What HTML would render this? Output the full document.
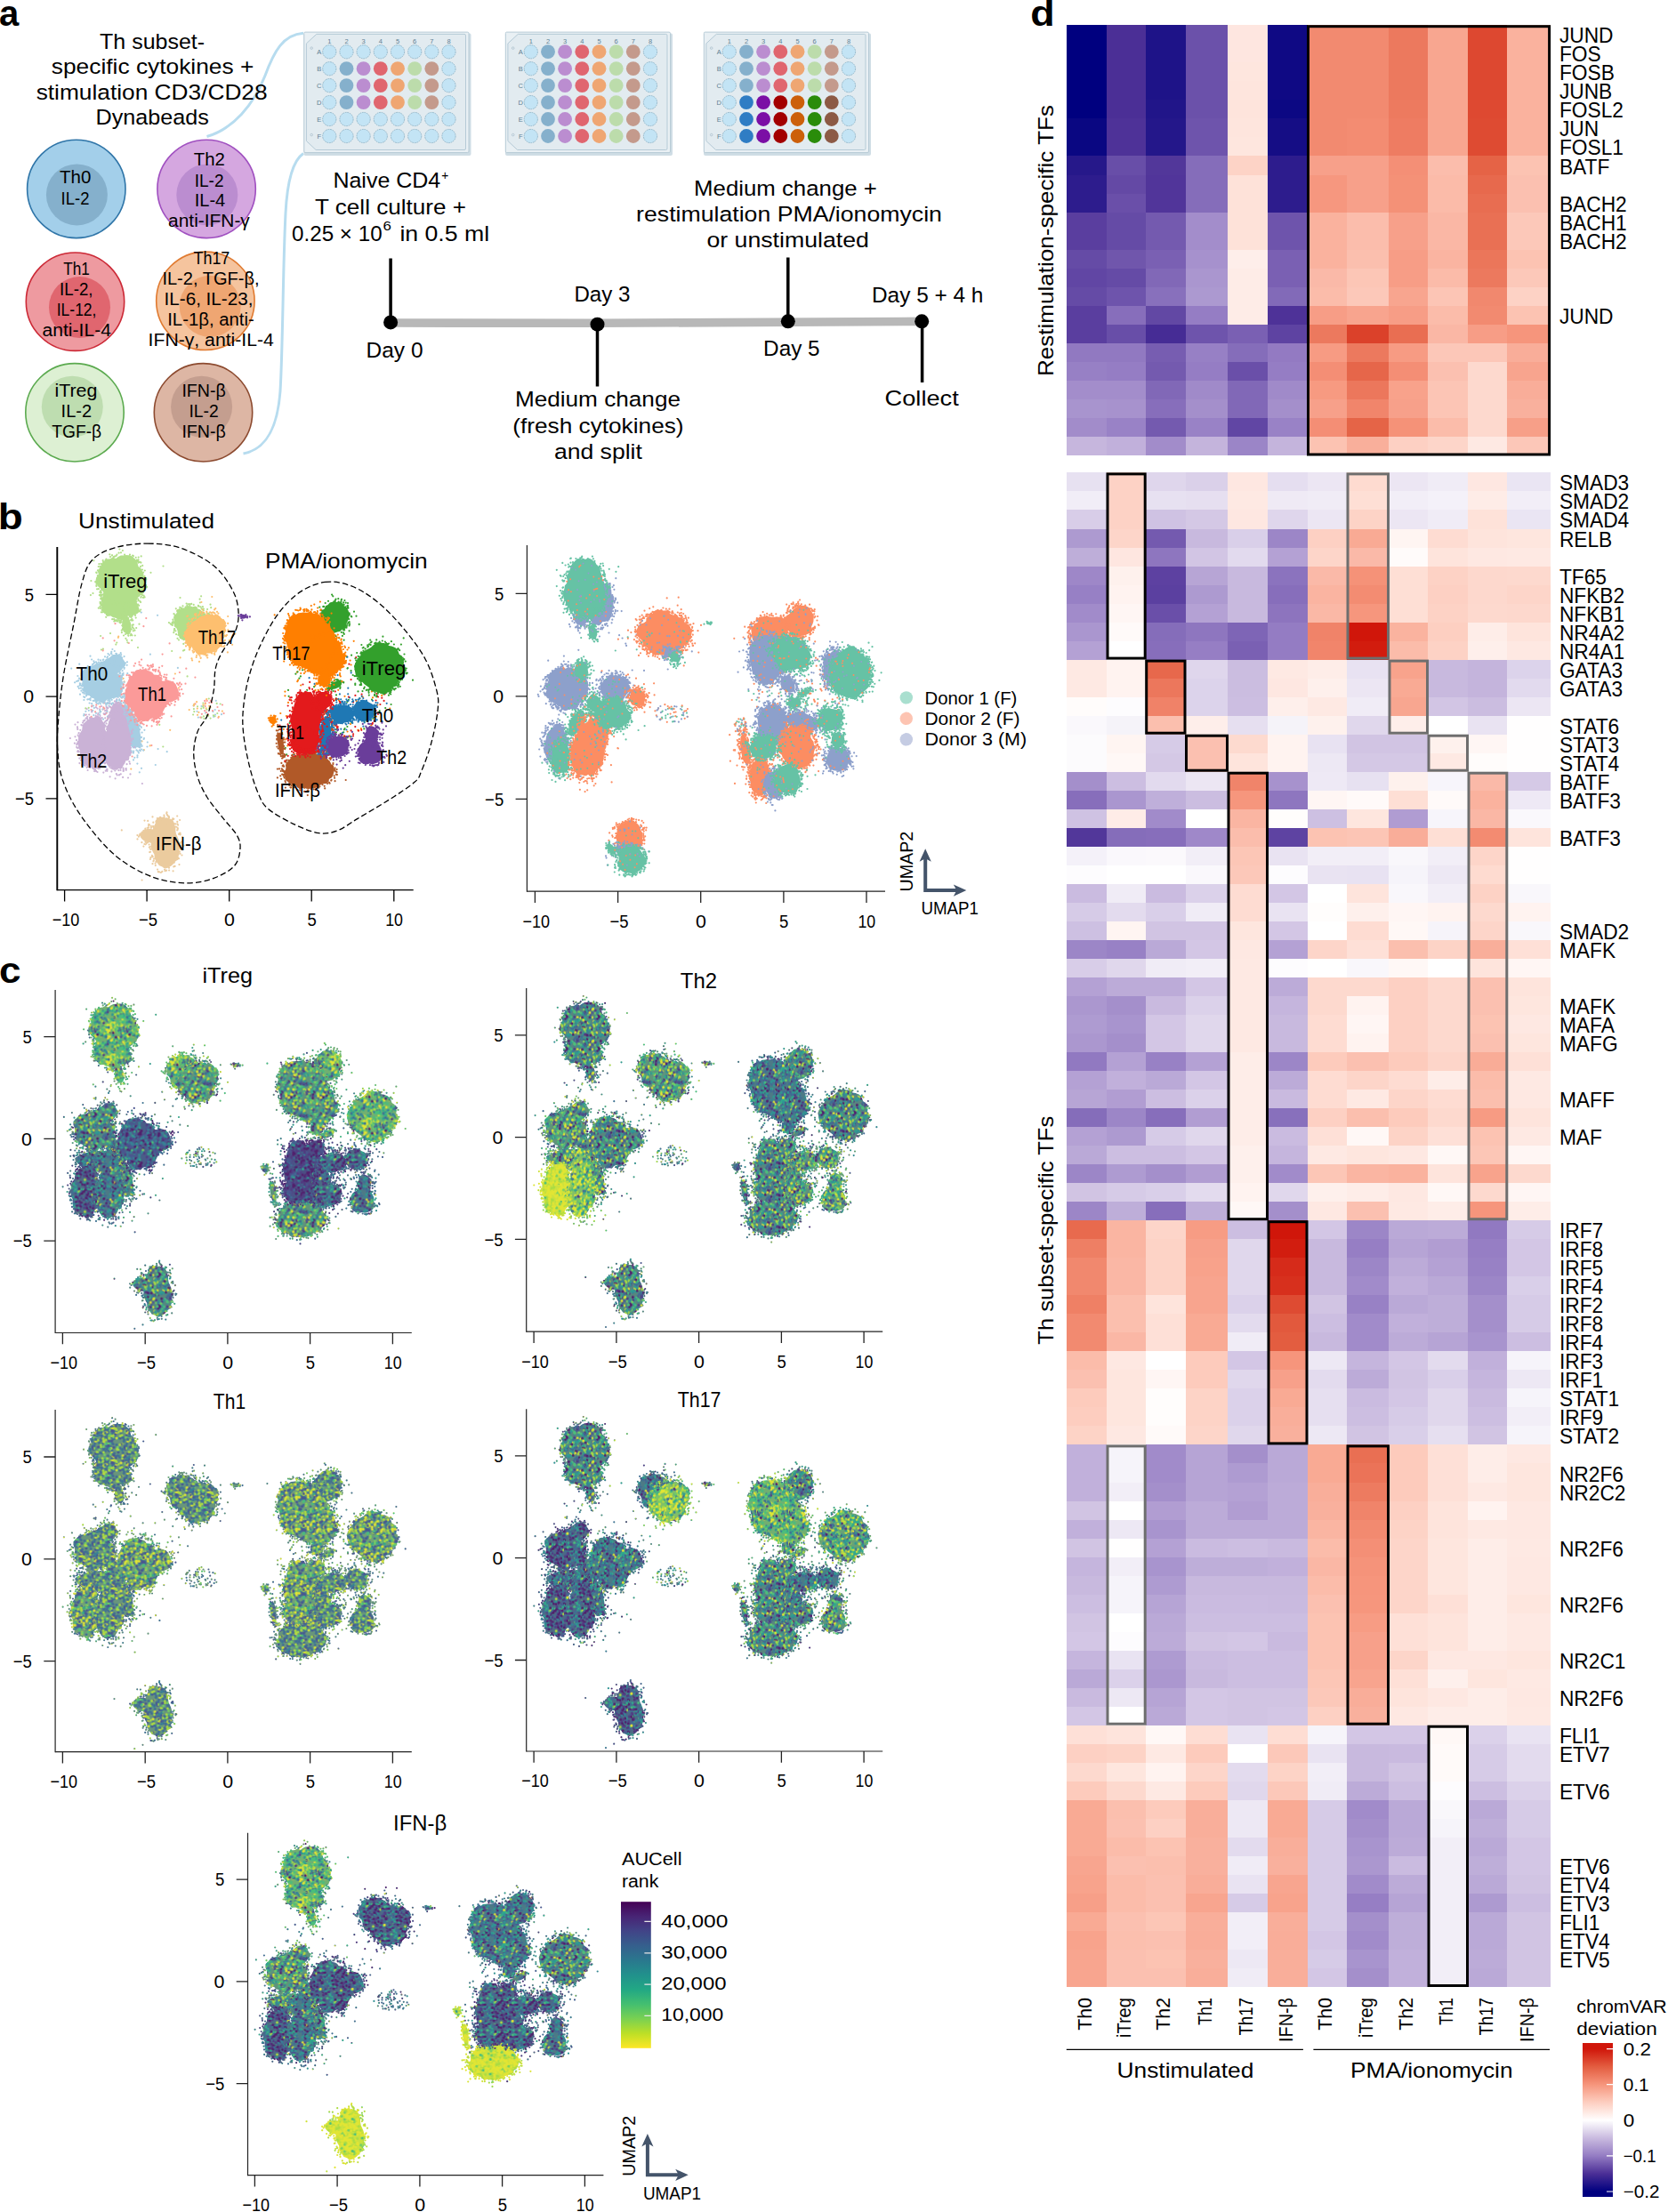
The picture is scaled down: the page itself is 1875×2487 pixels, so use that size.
<!DOCTYPE html><html><head><meta charset="utf-8"><title>Figure</title><style>html,body{margin:0;padding:0;background:#fff}svg{display:block}text{font-family:"Liberation Sans",sans-serif}</style></head><body>
<svg width="1875" height="2487" viewBox="0 0 1875 2487">
<rect width="1875" height="2487" fill="#fff"/>
<text x="-0.9" y="28.5" font-size="40" font-weight="bold">a</text>
<path d="M232.5 153.5C262 145 285 118 298 85C308 58 318 39 341 37.3" fill="none" stroke="#b7dcef" stroke-width="3"/>
<path d="M273.5 510C300 505 312 480 315 440C318 390 318 300 321 240C323 200 330 180 341 172.5" fill="none" stroke="#b7dcef" stroke-width="3"/>
<circle cx="85.8" cy="212.4" r="55.2" fill="#a3cfea" stroke="#2f75a8" stroke-width="1.6"/>
<circle cx="86.4" cy="218.9" r="34.5" fill="#85b0cc"/>
<circle cx="232.1" cy="212.4" r="55.2" fill="#d5a7e0" stroke="#a050c0" stroke-width="1.6"/>
<circle cx="232.8" cy="218.9" r="34.5" fill="#bb8dd0"/>
<circle cx="84.5" cy="339.2" r="55.2" fill="#ee9aa0" stroke="#cc2936" stroke-width="1.6"/>
<circle cx="89.5" cy="345.5" r="34.5" fill="#e0666f"/>
<circle cx="230.9" cy="338.3" r="55.2" fill="#f5c49e" stroke="#e07a30" stroke-width="1.6"/>
<circle cx="236.2" cy="344.3" r="34.5" fill="#efa672"/>
<circle cx="84" cy="463.8" r="55.2" fill="#ddf0d3" stroke="#5baa4f" stroke-width="1.6"/>
<circle cx="81.3" cy="457.2" r="34.5" fill="#beddb0"/>
<circle cx="228.5" cy="463.8" r="55.2" fill="#ddb6a4" stroke="#8c4a2f" stroke-width="1.6"/>
<circle cx="226.6" cy="457.2" r="34.5" fill="#c49e8f"/>
<g transform="translate(341.5 35.6)">
<path d="M2 2H186.5Q188 2 188 4V137.5Q188 139.5 186 139.5H2Q0 139.5 0 137.5V4Q0 2 2 2Z" fill="#cfdde5"/>
<path d="M1.5 0.5H184Q185.5 0.5 185.5 2V134.5Q185.5 136 184 136H1.5Q0.3 136 0.3 134.5V2Q0.3 0.5 1.5 0.5Z" fill="#e9f0f4" stroke="#b7cbd6" stroke-width="1"/>
<path d="M14.3 2.8H180.5Q182 2.8 182 4.3V131.4Q182 132.9 180.5 132.9H13.6L2.9 122.9V13.3Z" fill="#e2ebf0" stroke="#b5cad6" stroke-width="1"/>
<g font-size="7.5" fill="#5d7f93" text-anchor="middle">
<text x="28.8" y="13" fill="#5d7f93">1</text>
<text x="48" y="13" fill="#5d7f93">2</text>
<text x="67.1" y="13" fill="#5d7f93">3</text>
<text x="86.3" y="13" fill="#5d7f93">4</text>
<text x="105.5" y="13" fill="#5d7f93">5</text>
<text x="124.7" y="13" fill="#5d7f93">6</text>
<text x="143.8" y="13" fill="#5d7f93">7</text>
<text x="163" y="13" fill="#5d7f93">8</text>
<text x="17.2" y="25.4" fill="#5d7f93">A</text>
<text x="17.2" y="44.4" fill="#5d7f93">B</text>
<text x="17.2" y="63.3" fill="#5d7f93">C</text>
<text x="17.2" y="82.3" fill="#5d7f93">D</text>
<text x="17.2" y="101.2" fill="#5d7f93">E</text>
<text x="17.2" y="120.2" fill="#5d7f93">F</text>
</g>
<circle cx="8.7" cy="18.5" r="1.3" fill="none" stroke="#9db6c4" stroke-width="0.6"/><circle cx="8.7" cy="116" r="1.3" fill="none" stroke="#9db6c4" stroke-width="0.6"/>
<circle cx="28.8" cy="22.6" r="7.6" fill="#c3e4f5" stroke="#86adc2" stroke-width="0.8" stroke-dasharray="1.8 0.8"/>
<circle cx="48" cy="22.6" r="7.6" fill="#c3e4f5" stroke="#86adc2" stroke-width="0.8" stroke-dasharray="1.8 0.8"/>
<circle cx="67.1" cy="22.6" r="7.6" fill="#c3e4f5" stroke="#86adc2" stroke-width="0.8" stroke-dasharray="1.8 0.8"/>
<circle cx="86.3" cy="22.6" r="7.6" fill="#c3e4f5" stroke="#86adc2" stroke-width="0.8" stroke-dasharray="1.8 0.8"/>
<circle cx="105.5" cy="22.6" r="7.6" fill="#c3e4f5" stroke="#86adc2" stroke-width="0.8" stroke-dasharray="1.8 0.8"/>
<circle cx="124.7" cy="22.6" r="7.6" fill="#c3e4f5" stroke="#86adc2" stroke-width="0.8" stroke-dasharray="1.8 0.8"/>
<circle cx="143.8" cy="22.6" r="7.6" fill="#c3e4f5" stroke="#86adc2" stroke-width="0.8" stroke-dasharray="1.8 0.8"/>
<circle cx="163" cy="22.6" r="7.6" fill="#c3e4f5" stroke="#86adc2" stroke-width="0.8" stroke-dasharray="1.8 0.8"/>
<circle cx="28.8" cy="41.6" r="7.6" fill="#c3e4f5" stroke="#86adc2" stroke-width="0.8" stroke-dasharray="1.8 0.8"/>
<circle cx="48" cy="41.6" r="7.9" fill="#85b0cc"/>
<circle cx="67.1" cy="41.6" r="7.9" fill="#bb8dd0"/>
<circle cx="86.3" cy="41.6" r="7.9" fill="#e0666f"/>
<circle cx="105.5" cy="41.6" r="7.9" fill="#efa672"/>
<circle cx="124.7" cy="41.6" r="7.9" fill="#bcdcab"/>
<circle cx="143.8" cy="41.6" r="7.9" fill="#c49a8c"/>
<circle cx="163" cy="41.6" r="7.6" fill="#c3e4f5" stroke="#86adc2" stroke-width="0.8" stroke-dasharray="1.8 0.8"/>
<circle cx="28.8" cy="60.5" r="7.6" fill="#c3e4f5" stroke="#86adc2" stroke-width="0.8" stroke-dasharray="1.8 0.8"/>
<circle cx="48" cy="60.5" r="7.9" fill="#85b0cc"/>
<circle cx="67.1" cy="60.5" r="7.9" fill="#bb8dd0"/>
<circle cx="86.3" cy="60.5" r="7.9" fill="#e0666f"/>
<circle cx="105.5" cy="60.5" r="7.9" fill="#efa672"/>
<circle cx="124.7" cy="60.5" r="7.9" fill="#bcdcab"/>
<circle cx="143.8" cy="60.5" r="7.9" fill="#c49a8c"/>
<circle cx="163" cy="60.5" r="7.6" fill="#c3e4f5" stroke="#86adc2" stroke-width="0.8" stroke-dasharray="1.8 0.8"/>
<circle cx="28.8" cy="79.5" r="7.6" fill="#c3e4f5" stroke="#86adc2" stroke-width="0.8" stroke-dasharray="1.8 0.8"/>
<circle cx="48" cy="79.5" r="7.9" fill="#85b0cc"/>
<circle cx="67.1" cy="79.5" r="7.9" fill="#bb8dd0"/>
<circle cx="86.3" cy="79.5" r="7.9" fill="#e0666f"/>
<circle cx="105.5" cy="79.5" r="7.9" fill="#efa672"/>
<circle cx="124.7" cy="79.5" r="7.9" fill="#bcdcab"/>
<circle cx="143.8" cy="79.5" r="7.9" fill="#c49a8c"/>
<circle cx="163" cy="79.5" r="7.6" fill="#c3e4f5" stroke="#86adc2" stroke-width="0.8" stroke-dasharray="1.8 0.8"/>
<circle cx="28.8" cy="98.4" r="7.6" fill="#c3e4f5" stroke="#86adc2" stroke-width="0.8" stroke-dasharray="1.8 0.8"/>
<circle cx="48" cy="98.4" r="7.6" fill="#c3e4f5" stroke="#86adc2" stroke-width="0.8" stroke-dasharray="1.8 0.8"/>
<circle cx="67.1" cy="98.4" r="7.6" fill="#c3e4f5" stroke="#86adc2" stroke-width="0.8" stroke-dasharray="1.8 0.8"/>
<circle cx="86.3" cy="98.4" r="7.6" fill="#c3e4f5" stroke="#86adc2" stroke-width="0.8" stroke-dasharray="1.8 0.8"/>
<circle cx="105.5" cy="98.4" r="7.6" fill="#c3e4f5" stroke="#86adc2" stroke-width="0.8" stroke-dasharray="1.8 0.8"/>
<circle cx="124.7" cy="98.4" r="7.6" fill="#c3e4f5" stroke="#86adc2" stroke-width="0.8" stroke-dasharray="1.8 0.8"/>
<circle cx="143.8" cy="98.4" r="7.6" fill="#c3e4f5" stroke="#86adc2" stroke-width="0.8" stroke-dasharray="1.8 0.8"/>
<circle cx="163" cy="98.4" r="7.6" fill="#c3e4f5" stroke="#86adc2" stroke-width="0.8" stroke-dasharray="1.8 0.8"/>
<circle cx="28.8" cy="117.4" r="7.6" fill="#c3e4f5" stroke="#86adc2" stroke-width="0.8" stroke-dasharray="1.8 0.8"/>
<circle cx="48" cy="117.4" r="7.6" fill="#c3e4f5" stroke="#86adc2" stroke-width="0.8" stroke-dasharray="1.8 0.8"/>
<circle cx="67.1" cy="117.4" r="7.6" fill="#c3e4f5" stroke="#86adc2" stroke-width="0.8" stroke-dasharray="1.8 0.8"/>
<circle cx="86.3" cy="117.4" r="7.6" fill="#c3e4f5" stroke="#86adc2" stroke-width="0.8" stroke-dasharray="1.8 0.8"/>
<circle cx="105.5" cy="117.4" r="7.6" fill="#c3e4f5" stroke="#86adc2" stroke-width="0.8" stroke-dasharray="1.8 0.8"/>
<circle cx="124.7" cy="117.4" r="7.6" fill="#c3e4f5" stroke="#86adc2" stroke-width="0.8" stroke-dasharray="1.8 0.8"/>
<circle cx="143.8" cy="117.4" r="7.6" fill="#c3e4f5" stroke="#86adc2" stroke-width="0.8" stroke-dasharray="1.8 0.8"/>
<circle cx="163" cy="117.4" r="7.6" fill="#c3e4f5" stroke="#86adc2" stroke-width="0.8" stroke-dasharray="1.8 0.8"/>
</g>
<g transform="translate(568 35.6)">
<path d="M2 2H186.5Q188 2 188 4V137.5Q188 139.5 186 139.5H2Q0 139.5 0 137.5V4Q0 2 2 2Z" fill="#cfdde5"/>
<path d="M1.5 0.5H184Q185.5 0.5 185.5 2V134.5Q185.5 136 184 136H1.5Q0.3 136 0.3 134.5V2Q0.3 0.5 1.5 0.5Z" fill="#e9f0f4" stroke="#b7cbd6" stroke-width="1"/>
<path d="M14.3 2.8H180.5Q182 2.8 182 4.3V131.4Q182 132.9 180.5 132.9H13.6L2.9 122.9V13.3Z" fill="#e2ebf0" stroke="#b5cad6" stroke-width="1"/>
<g font-size="7.5" fill="#5d7f93" text-anchor="middle">
<text x="28.8" y="13" fill="#5d7f93">1</text>
<text x="48" y="13" fill="#5d7f93">2</text>
<text x="67.1" y="13" fill="#5d7f93">3</text>
<text x="86.3" y="13" fill="#5d7f93">4</text>
<text x="105.5" y="13" fill="#5d7f93">5</text>
<text x="124.7" y="13" fill="#5d7f93">6</text>
<text x="143.8" y="13" fill="#5d7f93">7</text>
<text x="163" y="13" fill="#5d7f93">8</text>
<text x="17.2" y="25.4" fill="#5d7f93">A</text>
<text x="17.2" y="44.4" fill="#5d7f93">B</text>
<text x="17.2" y="63.3" fill="#5d7f93">C</text>
<text x="17.2" y="82.3" fill="#5d7f93">D</text>
<text x="17.2" y="101.2" fill="#5d7f93">E</text>
<text x="17.2" y="120.2" fill="#5d7f93">F</text>
</g>
<circle cx="8.7" cy="18.5" r="1.3" fill="none" stroke="#9db6c4" stroke-width="0.6"/><circle cx="8.7" cy="116" r="1.3" fill="none" stroke="#9db6c4" stroke-width="0.6"/>
<circle cx="28.8" cy="22.6" r="7.6" fill="#c3e4f5" stroke="#86adc2" stroke-width="0.8" stroke-dasharray="1.8 0.8"/>
<circle cx="48" cy="22.6" r="7.9" fill="#85b0cc"/>
<circle cx="67.1" cy="22.6" r="7.9" fill="#bb8dd0"/>
<circle cx="86.3" cy="22.6" r="7.9" fill="#e0666f"/>
<circle cx="105.5" cy="22.6" r="7.9" fill="#efa672"/>
<circle cx="124.7" cy="22.6" r="7.9" fill="#bcdcab"/>
<circle cx="143.8" cy="22.6" r="7.9" fill="#c49a8c"/>
<circle cx="163" cy="22.6" r="7.6" fill="#c3e4f5" stroke="#86adc2" stroke-width="0.8" stroke-dasharray="1.8 0.8"/>
<circle cx="28.8" cy="41.6" r="7.6" fill="#c3e4f5" stroke="#86adc2" stroke-width="0.8" stroke-dasharray="1.8 0.8"/>
<circle cx="48" cy="41.6" r="7.9" fill="#85b0cc"/>
<circle cx="67.1" cy="41.6" r="7.9" fill="#bb8dd0"/>
<circle cx="86.3" cy="41.6" r="7.9" fill="#e0666f"/>
<circle cx="105.5" cy="41.6" r="7.9" fill="#efa672"/>
<circle cx="124.7" cy="41.6" r="7.9" fill="#bcdcab"/>
<circle cx="143.8" cy="41.6" r="7.9" fill="#c49a8c"/>
<circle cx="163" cy="41.6" r="7.6" fill="#c3e4f5" stroke="#86adc2" stroke-width="0.8" stroke-dasharray="1.8 0.8"/>
<circle cx="28.8" cy="60.5" r="7.6" fill="#c3e4f5" stroke="#86adc2" stroke-width="0.8" stroke-dasharray="1.8 0.8"/>
<circle cx="48" cy="60.5" r="7.9" fill="#85b0cc"/>
<circle cx="67.1" cy="60.5" r="7.9" fill="#bb8dd0"/>
<circle cx="86.3" cy="60.5" r="7.9" fill="#e0666f"/>
<circle cx="105.5" cy="60.5" r="7.9" fill="#efa672"/>
<circle cx="124.7" cy="60.5" r="7.9" fill="#bcdcab"/>
<circle cx="143.8" cy="60.5" r="7.9" fill="#c49a8c"/>
<circle cx="163" cy="60.5" r="7.6" fill="#c3e4f5" stroke="#86adc2" stroke-width="0.8" stroke-dasharray="1.8 0.8"/>
<circle cx="28.8" cy="79.5" r="7.6" fill="#c3e4f5" stroke="#86adc2" stroke-width="0.8" stroke-dasharray="1.8 0.8"/>
<circle cx="48" cy="79.5" r="7.9" fill="#85b0cc"/>
<circle cx="67.1" cy="79.5" r="7.9" fill="#bb8dd0"/>
<circle cx="86.3" cy="79.5" r="7.9" fill="#e0666f"/>
<circle cx="105.5" cy="79.5" r="7.9" fill="#efa672"/>
<circle cx="124.7" cy="79.5" r="7.9" fill="#bcdcab"/>
<circle cx="143.8" cy="79.5" r="7.9" fill="#c49a8c"/>
<circle cx="163" cy="79.5" r="7.6" fill="#c3e4f5" stroke="#86adc2" stroke-width="0.8" stroke-dasharray="1.8 0.8"/>
<circle cx="28.8" cy="98.4" r="7.6" fill="#c3e4f5" stroke="#86adc2" stroke-width="0.8" stroke-dasharray="1.8 0.8"/>
<circle cx="48" cy="98.4" r="7.9" fill="#85b0cc"/>
<circle cx="67.1" cy="98.4" r="7.9" fill="#bb8dd0"/>
<circle cx="86.3" cy="98.4" r="7.9" fill="#e0666f"/>
<circle cx="105.5" cy="98.4" r="7.9" fill="#efa672"/>
<circle cx="124.7" cy="98.4" r="7.9" fill="#bcdcab"/>
<circle cx="143.8" cy="98.4" r="7.9" fill="#c49a8c"/>
<circle cx="163" cy="98.4" r="7.6" fill="#c3e4f5" stroke="#86adc2" stroke-width="0.8" stroke-dasharray="1.8 0.8"/>
<circle cx="28.8" cy="117.4" r="7.6" fill="#c3e4f5" stroke="#86adc2" stroke-width="0.8" stroke-dasharray="1.8 0.8"/>
<circle cx="48" cy="117.4" r="7.9" fill="#85b0cc"/>
<circle cx="67.1" cy="117.4" r="7.9" fill="#bb8dd0"/>
<circle cx="86.3" cy="117.4" r="7.9" fill="#e0666f"/>
<circle cx="105.5" cy="117.4" r="7.9" fill="#efa672"/>
<circle cx="124.7" cy="117.4" r="7.9" fill="#bcdcab"/>
<circle cx="143.8" cy="117.4" r="7.9" fill="#c49a8c"/>
<circle cx="163" cy="117.4" r="7.6" fill="#c3e4f5" stroke="#86adc2" stroke-width="0.8" stroke-dasharray="1.8 0.8"/>
</g>
<g transform="translate(791 35.6)">
<path d="M2 2H186.5Q188 2 188 4V137.5Q188 139.5 186 139.5H2Q0 139.5 0 137.5V4Q0 2 2 2Z" fill="#cfdde5"/>
<path d="M1.5 0.5H184Q185.5 0.5 185.5 2V134.5Q185.5 136 184 136H1.5Q0.3 136 0.3 134.5V2Q0.3 0.5 1.5 0.5Z" fill="#e9f0f4" stroke="#b7cbd6" stroke-width="1"/>
<path d="M14.3 2.8H180.5Q182 2.8 182 4.3V131.4Q182 132.9 180.5 132.9H13.6L2.9 122.9V13.3Z" fill="#e2ebf0" stroke="#b5cad6" stroke-width="1"/>
<g font-size="7.5" fill="#5d7f93" text-anchor="middle">
<text x="28.8" y="13" fill="#5d7f93">1</text>
<text x="48" y="13" fill="#5d7f93">2</text>
<text x="67.1" y="13" fill="#5d7f93">3</text>
<text x="86.3" y="13" fill="#5d7f93">4</text>
<text x="105.5" y="13" fill="#5d7f93">5</text>
<text x="124.7" y="13" fill="#5d7f93">6</text>
<text x="143.8" y="13" fill="#5d7f93">7</text>
<text x="163" y="13" fill="#5d7f93">8</text>
<text x="17.2" y="25.4" fill="#5d7f93">A</text>
<text x="17.2" y="44.4" fill="#5d7f93">B</text>
<text x="17.2" y="63.3" fill="#5d7f93">C</text>
<text x="17.2" y="82.3" fill="#5d7f93">D</text>
<text x="17.2" y="101.2" fill="#5d7f93">E</text>
<text x="17.2" y="120.2" fill="#5d7f93">F</text>
</g>
<circle cx="8.7" cy="18.5" r="1.3" fill="none" stroke="#9db6c4" stroke-width="0.6"/><circle cx="8.7" cy="116" r="1.3" fill="none" stroke="#9db6c4" stroke-width="0.6"/>
<circle cx="28.8" cy="22.6" r="7.6" fill="#c3e4f5" stroke="#86adc2" stroke-width="0.8" stroke-dasharray="1.8 0.8"/>
<circle cx="48" cy="22.6" r="7.9" fill="#85b0cc"/>
<circle cx="67.1" cy="22.6" r="7.9" fill="#bb8dd0"/>
<circle cx="86.3" cy="22.6" r="7.9" fill="#e0666f"/>
<circle cx="105.5" cy="22.6" r="7.9" fill="#efa672"/>
<circle cx="124.7" cy="22.6" r="7.9" fill="#bcdcab"/>
<circle cx="143.8" cy="22.6" r="7.9" fill="#c49a8c"/>
<circle cx="163" cy="22.6" r="7.6" fill="#c3e4f5" stroke="#86adc2" stroke-width="0.8" stroke-dasharray="1.8 0.8"/>
<circle cx="28.8" cy="41.6" r="7.6" fill="#c3e4f5" stroke="#86adc2" stroke-width="0.8" stroke-dasharray="1.8 0.8"/>
<circle cx="48" cy="41.6" r="7.9" fill="#85b0cc"/>
<circle cx="67.1" cy="41.6" r="7.9" fill="#bb8dd0"/>
<circle cx="86.3" cy="41.6" r="7.9" fill="#e0666f"/>
<circle cx="105.5" cy="41.6" r="7.9" fill="#efa672"/>
<circle cx="124.7" cy="41.6" r="7.9" fill="#bcdcab"/>
<circle cx="143.8" cy="41.6" r="7.9" fill="#c49a8c"/>
<circle cx="163" cy="41.6" r="7.6" fill="#c3e4f5" stroke="#86adc2" stroke-width="0.8" stroke-dasharray="1.8 0.8"/>
<circle cx="28.8" cy="60.5" r="7.6" fill="#c3e4f5" stroke="#86adc2" stroke-width="0.8" stroke-dasharray="1.8 0.8"/>
<circle cx="48" cy="60.5" r="7.9" fill="#85b0cc"/>
<circle cx="67.1" cy="60.5" r="7.9" fill="#bb8dd0"/>
<circle cx="86.3" cy="60.5" r="7.9" fill="#e0666f"/>
<circle cx="105.5" cy="60.5" r="7.9" fill="#efa672"/>
<circle cx="124.7" cy="60.5" r="7.9" fill="#bcdcab"/>
<circle cx="143.8" cy="60.5" r="7.9" fill="#c49a8c"/>
<circle cx="163" cy="60.5" r="7.6" fill="#c3e4f5" stroke="#86adc2" stroke-width="0.8" stroke-dasharray="1.8 0.8"/>
<circle cx="28.8" cy="79.5" r="7.6" fill="#c3e4f5" stroke="#86adc2" stroke-width="0.8" stroke-dasharray="1.8 0.8"/>
<circle cx="48" cy="79.5" r="7.9" fill="#2f7dc4"/>
<circle cx="67.1" cy="79.5" r="7.9" fill="#7b0fa5"/>
<circle cx="86.3" cy="79.5" r="7.9" fill="#a30000"/>
<circle cx="105.5" cy="79.5" r="7.9" fill="#cc5f0a"/>
<circle cx="124.7" cy="79.5" r="7.9" fill="#2a8c0a"/>
<circle cx="143.8" cy="79.5" r="7.9" fill="#8c5a45"/>
<circle cx="163" cy="79.5" r="7.6" fill="#c3e4f5" stroke="#86adc2" stroke-width="0.8" stroke-dasharray="1.8 0.8"/>
<circle cx="28.8" cy="98.4" r="7.6" fill="#c3e4f5" stroke="#86adc2" stroke-width="0.8" stroke-dasharray="1.8 0.8"/>
<circle cx="48" cy="98.4" r="7.9" fill="#2f7dc4"/>
<circle cx="67.1" cy="98.4" r="7.9" fill="#7b0fa5"/>
<circle cx="86.3" cy="98.4" r="7.9" fill="#a30000"/>
<circle cx="105.5" cy="98.4" r="7.9" fill="#cc5f0a"/>
<circle cx="124.7" cy="98.4" r="7.9" fill="#2a8c0a"/>
<circle cx="143.8" cy="98.4" r="7.9" fill="#8c5a45"/>
<circle cx="163" cy="98.4" r="7.6" fill="#c3e4f5" stroke="#86adc2" stroke-width="0.8" stroke-dasharray="1.8 0.8"/>
<circle cx="28.8" cy="117.4" r="7.6" fill="#c3e4f5" stroke="#86adc2" stroke-width="0.8" stroke-dasharray="1.8 0.8"/>
<circle cx="48" cy="117.4" r="7.9" fill="#2f7dc4"/>
<circle cx="67.1" cy="117.4" r="7.9" fill="#7b0fa5"/>
<circle cx="86.3" cy="117.4" r="7.9" fill="#a30000"/>
<circle cx="105.5" cy="117.4" r="7.9" fill="#cc5f0a"/>
<circle cx="124.7" cy="117.4" r="7.9" fill="#2a8c0a"/>
<circle cx="143.8" cy="117.4" r="7.9" fill="#8c5a45"/>
<circle cx="163" cy="117.4" r="7.6" fill="#c3e4f5" stroke="#86adc2" stroke-width="0.8" stroke-dasharray="1.8 0.8"/>
</g>
<path d="M438.4 363L671 363.3L1036.4 361.4" stroke="#b8b8b8" stroke-width="9.6" fill="none"/>
<path d="M439.1 290.5V362.7M671.5 364V434.5M885.8 289.5V361.6M1036.6 361.6V430.1" stroke="#000" stroke-width="3.5" fill="none"/>
<circle cx="439.1" cy="362.4" r="8" fill="#000"/>
<circle cx="671.5" cy="364.7" r="8" fill="#000"/>
<circle cx="885.8" cy="361.3" r="8" fill="#000"/>
<circle cx="1036.2" cy="361.3" r="8" fill="#000"/>
<text x="112.1" y="54.5" font-size="24.5" textLength="118" lengthAdjust="spacingAndGlyphs">Th subset-</text>
<text x="57.8" y="83" font-size="24.5" textLength="227.5" lengthAdjust="spacingAndGlyphs">specific cytokines +</text>
<text x="40.7" y="111.7" font-size="24.5" textLength="259.9" lengthAdjust="spacingAndGlyphs">stimulation CD3/CD28</text>
<text x="107.6" y="140.1" font-size="24.5" textLength="127.3" lengthAdjust="spacingAndGlyphs">Dynabeads</text>
<text x="374.4" y="211" font-size="24.5" textLength="120.9" lengthAdjust="spacingAndGlyphs">Naive CD4</text>
<text x="354.1" y="240.5" font-size="24.5" textLength="169.9" lengthAdjust="spacingAndGlyphs">T cell culture +</text>
<text x="328" y="270.7" font-size="24.5" textLength="101.6" lengthAdjust="spacingAndGlyphs">0.25 × 10</text>
<text x="449.4" y="270.7" font-size="24.5" textLength="100.7" lengthAdjust="spacingAndGlyphs">in 0.5 ml</text>
<text x="411.6" y="401.5" font-size="24.5" textLength="63.9" lengthAdjust="spacingAndGlyphs">Day 0</text>
<text x="645.4" y="339.2" font-size="24.5" textLength="63" lengthAdjust="spacingAndGlyphs">Day 3</text>
<text x="780.1" y="219.5" font-size="24.5" textLength="205.7" lengthAdjust="spacingAndGlyphs">Medium change +</text>
<text x="715.1" y="249.3" font-size="24.5" textLength="343.8" lengthAdjust="spacingAndGlyphs">restimulation PMA/ionomycin</text>
<text x="794.4" y="278.2" font-size="24.5" textLength="182.6" lengthAdjust="spacingAndGlyphs">or unstimulated</text>
<text x="980" y="339.9" font-size="24.5" textLength="125.4" lengthAdjust="spacingAndGlyphs">Day 5 + 4 h</text>
<text x="858.1" y="400.3" font-size="24.5" textLength="63.5" lengthAdjust="spacingAndGlyphs">Day 5</text>
<text x="994.6" y="456.3" font-size="24.5" textLength="83.1" lengthAdjust="spacingAndGlyphs">Collect</text>
<text x="578.9" y="457" font-size="24.5" textLength="186.1" lengthAdjust="spacingAndGlyphs">Medium change</text>
<text x="576.2" y="486.7" font-size="24.5" textLength="192.4" lengthAdjust="spacingAndGlyphs">(fresh cytokines)</text>
<text x="622.9" y="516" font-size="24.5" textLength="99" lengthAdjust="spacingAndGlyphs">and split</text>
<text x="496.2" y="201.5" font-size="14.5" textLength="8" lengthAdjust="spacingAndGlyphs">+</text>
<text x="430.5" y="259.4" font-size="14.5" textLength="9.4" lengthAdjust="spacingAndGlyphs">6</text>
<text x="67.1" y="206.2" font-size="20" textLength="35.3" lengthAdjust="spacingAndGlyphs">Th0</text>
<text x="68.6" y="229.5" font-size="20" textLength="31.8" lengthAdjust="spacingAndGlyphs">IL-2</text>
<text x="217.8" y="186.4" font-size="20" textLength="35.1" lengthAdjust="spacingAndGlyphs">Th2</text>
<text x="218.7" y="209.7" font-size="20" textLength="32.8" lengthAdjust="spacingAndGlyphs">IL-2</text>
<text x="218.7" y="232.2" font-size="20" textLength="34.6" lengthAdjust="spacingAndGlyphs">IL-4</text>
<text x="189.1" y="255.1" font-size="20" textLength="91.7" lengthAdjust="spacingAndGlyphs">anti-IFN-γ</text>
<text x="71.3" y="309.2" font-size="20" textLength="29.6" lengthAdjust="spacingAndGlyphs">Th1</text>
<text x="67.1" y="332.1" font-size="20" textLength="37.4" lengthAdjust="spacingAndGlyphs">IL-2,</text>
<text x="63.7" y="355.4" font-size="20" textLength="44.8" lengthAdjust="spacingAndGlyphs">IL-12,</text>
<text x="47.5" y="377.9" font-size="20" textLength="77.4" lengthAdjust="spacingAndGlyphs">anti-IL-4</text>
<text x="217.5" y="297.3" font-size="20" textLength="40.8" lengthAdjust="spacingAndGlyphs">Th17</text>
<text x="182.4" y="320.4" font-size="20" textLength="109.2" lengthAdjust="spacingAndGlyphs">IL-2, TGF-β,</text>
<text x="184.6" y="343.4" font-size="20" textLength="99.8" lengthAdjust="spacingAndGlyphs">IL-6, IL-23,</text>
<text x="188.2" y="366.2" font-size="20" textLength="97.6" lengthAdjust="spacingAndGlyphs">IL-1β, anti-</text>
<text x="166.6" y="389.2" font-size="20" textLength="141.2" lengthAdjust="spacingAndGlyphs">IFN-γ, anti-IL-4</text>
<text x="61.4" y="446.3" font-size="20" textLength="48" lengthAdjust="spacingAndGlyphs">iTreg</text>
<text x="68.6" y="469.3" font-size="20" textLength="34.5" lengthAdjust="spacingAndGlyphs">IL-2</text>
<text x="58.3" y="492.1" font-size="20" textLength="55.8" lengthAdjust="spacingAndGlyphs">TGF-β</text>
<text x="204.4" y="446.3" font-size="20" textLength="49.4" lengthAdjust="spacingAndGlyphs">IFN-β</text>
<text x="212.4" y="469.3" font-size="20" textLength="33.3" lengthAdjust="spacingAndGlyphs">IL-2</text>
<text x="204.4" y="492.1" font-size="20" textLength="49.4" lengthAdjust="spacingAndGlyphs">IFN-β</text>
<defs>
<pattern id="v0" patternUnits="userSpaceOnUse" width="36" height="36">
<rect width="36" height="36" fill="#4c4d84"/>
<g fill="none" stroke-width="3" stroke-linecap="round">
<path d="M25.3 18.3h0M10.1 26.6h0M24.8 37.4h0M32.3 12.5h0M2.6 22.7h0M0.1 23h0" stroke="#2e9893"/>
<path d="M27.7 25.4h0M11.1 27.6h0M16.1 23h0M23.1 4.4h0M27.3 21h0M37.1 18.9h0M10.6 32.5h0M37 9.6h0M19.1 12.2h0M26.9 20.7h0M22.3 8.3h0M10 35.9h0M35.9 29.8h0M16 15.3h0M24.7 18.7h0M15.7 24.7h0M11.6 32.1h0" stroke="#3f6d94"/>
<path d="M14.5 19.5h0M8.4 36.4h0M30.7 21.2h0M5.8 26.7h0" stroke="#2fab8c"/>
<path d="M27.8 20.4h0M25.7 27.6h0M14.4 9.4h0M6.6 -0.8h0M1.9 17.2h0M25.7 2.9h0M13.5 -0.8h0M31.5 17h0M10.5 19.5h0M5.6 11.2h0M-0.2 26.2h0M6.5 1.8h0M13 25.8h0" stroke="#368295"/>
<path d="M2.9 16.4h0M22.5 -1.3h0M18.9 25.9h0M3.4 5h0M30.7 29.6h0M19.8 9.7h0M3.4 20.4h0M1.3 36.5h0M37.3 36.5h0M30.4 1.5h0M14.5 0.8h0M34.8 17.2h0M22.9 19h0M14 36.9h0M24.1 9.6h0M4.3 16.8h0M32.1 28.7h0M1.4 14.3h0M25.6 21h0M19.1 20.1h0M6.1 20.6h0M5.4 3.8h0" stroke="#495690"/>
<path d="M1.7 33.6h0M23.3 4.5h0M27.9 18.3h0M18.5 17.8h0M7.9 11.2h0M12 0.5h0M5.8 28.8h0M20.9 9h0M21.5 -0.7h0M35.7 20.1h0M16 26.2h0M4.9 21h0M20.8 8h0M15.9 0.7h0M30 30.3h0M25.1 33.6h0M0.3 17.9h0M15.3 13.7h0M30.2 37.4h0M26 10.4h0M22.2 8.9h0M12.1 24.9h0M25.1 18.3h0M14.5 37.4h0M10 27.7h0M32.7 6.6h0M34.9 6.4h0M28.5 26.9h0M26.4 34.5h0M11.1 18.9h0M27.1 13.2h0M25.5 24.2h0M7.6 5.8h0M35.9 32.1h0M18.7 33.5h0M28.5 22.4h0M11 14.3h0M26.1 30.8h0M-0.6 26.2h0M6.7 14h0M32.2 35.1h0M1.9 12.4h0M37.3 24.4h0M27 26.6h0M1.3 29.7h0M17.8 18.6h0M2.9 1.3h0M16 22.6h0M3.4 32.2h0M13.1 18.3h0" stroke="#511f6c"/>
<path d="M7.3 6.4h0M32.5 4.6h0M5.9 27.1h0M23.8 17.2h0M-0.1 14.1h0M6.1 34.2h0M20.8 8.4h0M9.6 24h0M12.7 6.1h0M33.5 9.3h0M15.2 16.2h0M26.9 0.7h0M15.4 13.8h0M35.5 13.9h0M0.4 14.1h0M1.8 25.4h0M33.6 9.6h0M26.4 25.6h0M7.2 2.2h0M1.3 19.6h0M19.9 3.8h0M36.8 27h0M23.2 -1.4h0M0 29.1h0M31.1 19.8h0M13.2 32h0M4.1 34.7h0M13.4 6.8h0M-1.2 19.5h0M6.5 12.7h0" stroke="#513c83"/>
<path d="M28.2 32.9h0M24.8 1.4h0M12.2 27.9h0M32.7 2.5h0M23.9 17.3h0M36.1 23h0" stroke="#2e9893"/>
<path d="M26.4 15.6h0M7.6 34.4h0M25.7 22.3h0M23.1 22.5h0M1.1 18.9h0M16 27.2h0M1 9.6h0M7.9 34.1h0M4.2 20.5h0M6.2 22.8h0M32.6 10.8h0M10 -0.1h0M-0.1 29.8h0M21.2 24.3h0M16.2 30.5h0M9.4 14.4h0" stroke="#3f6d94"/>
<path d="M8.4 0.4h0M14.2 16.5h0M6.9 3.2h0M19.3 27h0" stroke="#2fab8c"/>
<path d="M30.8 13.1h0M17.1 12.4h0M6.6 35.2h0M12.7 28.8h0M18.4 7.3h0M13.5 35.2h0M23.5 22.7h0M14.4 4h0M27.4 12.9h0M35.8 26.2h0M19.8 20.5h0M20.5 11.2h0M10 23.8h0" stroke="#368295"/>
<path d="M22.5 34.7h0M23.5 9.1h0M7.5 14h0M5.2 7.5h0M5.2 32.1h0M3.2 22.5h0M1.3 0.5h0M37.3 0.5h0M8 31.7h0M9.6 7.8h0M14.5 36.8h0M-1.2 17.2h0M14 0.9h0M17 6.2h0M5.3 16.9h0M26.7 20.6h0M18 1.9h0M37.4 14.3h0M24 25.8h0M23.3 26.4h0M32.8 30.3h0M14.1 29h0" stroke="#495690"/>
<path d="M29.4 5.8h0M21.9 25.8h0M29.3 32.1h0M24.3 31h0M27 20.5h0M12 36.5h0M31.4 1.7h0M21.5 35.3h0M9.8 9.8h0M-0.3 20.1h0M5.8 30.3h0M21 4h0M3.1 1.7h0M15.9 36.7h0M18.2 19.7h0M22.3 33.7h0M36.3 17.9h0M30.2 1.4h0M28.5 12.8h0M14.3 11.7h0M7.6 2.8h0M24.8 32.1h0M14.5 1.4h0M25.1 3.6h0M1.5 24.6h0M18.2 14.2h0M-1.1 6.4h0M24.5 16.2h0M5.1 30.1h0M25.6 24.4h0M34.5 12.6h0M14.8 15.8h0M31.1 27.1h0M-0.1 32.1h0M8.4 8.7h0M20.2 17.4h0M16.5 20.8h0M35.4 26.2h0M9 8.4h0M31.6 3.5h0M32.2 -0.9h0M1.3 24.4h0M31.3 11.3h0M18.3 6h0M37.3 29.7h0M34 9.3h0M2.9 37.3h0M29.4 29.6h0M10.7 24.8h0" stroke="#511f6c"/>
<path d="M6.9 30.3h0M19 12.4h0M1.8 21.4h0M35.9 14.1h0M6.3 13.8h0M32 3.7h0M4.3 10.8h0M30.8 6.3h0M22.2 13.3h0M2.9 22.2h0M25.8 10.3h0M26.9 36.7h0M18.7 5.9h0M-0.5 13.9h0M36.4 14.1h0M28.6 32.5h0M20.2 21.2h0M15.3 20.9h0M16.4 23h0M37.3 19.6h0M0.8 27h0M23.2 34.6h0M19.5 19.7h0M36 29.1h0M16.7 30.7h0M6.8 30.3h0M4.1 -1.3h0M34.8 19.5h0M11.9 6.9h0M17.6 23.3h0" stroke="#513c83"/>
</g></pattern>
<pattern id="v1" patternUnits="userSpaceOnUse" width="36" height="36">
<rect width="36" height="36" fill="#495e88"/>
<g fill="none" stroke-width="3" stroke-linecap="round">
<path d="M34.7 33.3h0M16.8 23.9h0M19.7 24.8h0M23.9 19.8h0M16.3 9.9h0M2.2 24.9h0M4 1.5h0M35.5 10.7h0M32.3 16.9h0M23.8 13.4h0M2 36.1h0M35.3 19.9h0M29.8 4.3h0M8.9 31.1h0M22.1 24.7h0M7.8 30.4h0M26.1 21.7h0M15.3 26.7h0M35.5 31.2h0M11 18.7h0" stroke="#513c83"/>
<path d="M14.5 7.5h0M0.8 25.4h0M17.9 31.5h0M5.1 6.4h0M29 8.6h0M2.4 5.3h0M26.5 8.7h0M16.2 1.4h0M12 33.5h0M5.5 30.7h0M22.2 35.3h0M26.2 24.6h0M4.9 34h0M25.8 19h0M11.5 27.8h0M31.6 0.4h0M6.3 4.6h0M6.2 17.9h0M1.4 23h0M34.8 2.1h0M28.2 20.9h0M28.1 8.1h0M26.4 2h0M16.6 24.1h0M4.1 29.8h0M28.8 30.4h0M9.8 29.1h0M29.4 7h0M19.6 4h0M0 -1.4h0M36 -1.4h0M0.3 10.1h0M29.1 24.6h0M2.4 17.7h0M6.3 34.5h0M18.3 29.1h0M33.1 21.4h0M27.4 -0.8h0" stroke="#511f6c"/>
<path d="M24.5 23.9h0M28.7 12.2h0M-0.2 14.5h0M2 33h0" stroke="#2fab8c"/>
<path d="M2.1 14.8h0" stroke="#74cf63"/>
<path d="M10.4 24.9h0M36.3 20.3h0M23.5 17.1h0M4 35.3h0M1.8 35.7h0M24.9 35.2h0M25.7 15h0M22 25.7h0M6.9 28h0M15.9 2.3h0M0.5 9.2h0M5.1 20.1h0M33.8 35.1h0M3.9 15.7h0M33.3 7.5h0M31.8 5.2h0M11.3 10.2h0M10.3 20.9h0M16.4 4.4h0M5.5 12.3h0M21.4 24.9h0M33.3 6.4h0" stroke="#495690"/>
<path d="M13.2 17h0M30.2 4.3h0M3.3 33.7h0M26.6 15.8h0M25.8 33.1h0M33.3 31.8h0M24.2 3.3h0M9.7 35h0M3.6 27.4h0M30.7 25.7h0M31.3 30.9h0M13.8 25.8h0M35.3 34.5h0M3.1 14h0M31.6 34.9h0M25.8 22.3h0M10.4 4.8h0M8.9 0.6h0M13.3 35.7h0M28.8 20.2h0M2.2 13.5h0" stroke="#3f6d94"/>
<path d="M15.5 11h0M32 0.4h0M18.4 8.2h0M17.6 33.1h0M25.7 36.4h0M5.7 15.3h0M28.5 16.9h0M29.4 34.5h0M3.8 16.2h0M28.9 2.2h0M9.5 9.6h0" stroke="#2e9893"/>
<path d="M7.6 35h0M3.2 27.7h0M36.2 16.7h0M32.4 11.5h0M2 7.9h0M23.9 24.4h0M1.2 11h0M29.3 29.9h0M5.6 8.3h0M31 29.6h0M17.6 28.8h0M7.3 -1.4h0M3.5 29.7h0M0.7 17.6h0M10.2 27h0M6.6 34.8h0M23.8 26h0M28.9 31h0M12 17.4h0M8.3 14.6h0" stroke="#368295"/>
<path d="M0.2 3h0M12.2 2.4h0M4.6 21.3h0M6.7 24.8h0M14.7 20.2h0" stroke="#49bf7c"/>
<path d="M-1.3 33.3h0M29.1 28.5h0M10.4 24.4h0M25.6 34.2h0M26.9 30.9h0M9.5 8.6h0M4 37.5h0M-0.5 10.7h0M28.5 33.8h0M2 0.1h0M22.5 22.4h0M-0.7 19.9h0M9 24.1h0M11.5 20.6h0M5.4 29.1h0M20.7 9.3h0M4 15.7h0M33.3 15.3h0M-0.5 31.2h0" stroke="#513c83"/>
<path d="M14.6 24.1h0M36.8 25.4h0M24.9 24.6h0M32 5h0M12 33.7h0M4.6 19.7h0M27.8 16.7h0M16.2 37.4h0M32.5 20.8h0M8.1 18.9h0M22.2 -0.7h0M1.7 19.1h0M26.6 27.5h0M20.4 31.6h0M31.9 25h0M31.6 36.4h0M33.2 22.2h0M11.5 15.1h0M37.4 23h0M-1.2 2.1h0M15 18.3h0M31 12.1h0M27.5 18.5h0M17.8 20.1h0M10.6 1.8h0M10.3 2h0M15.8 21.8h0M28.2 6.6h0M36 34.6h0M0 34.6h0M28.9 9.1h0M36.3 10.1h0M28.1 33.9h0M16.7 22.6h0M6.3 -1.5h0M28.1 4.8h0M27.4 35.2h0" stroke="#511f6c"/>
<path d="M15.7 16.4h0M35.8 14.5h0M25.6 10h0M9.9 20.8h0" stroke="#2fab8c"/>
<path d="M19.4 5.5h0" stroke="#74cf63"/>
<path d="M0.3 20.3h0M6.5 2.4h0M10 29.7h0M4 -0.7h0M1.8 -0.3h0M24.9 -0.8h0M23.9 32.4h0M4.8 2.1h0M27.3 18.6h0M32.8 2h0M36.5 9.2h0M31.9 5.7h0M33.8 -0.9h0M31.9 31.4h0M8.5 31.6h0M6.6 14.9h0M8.5 11.9h0M33.5 31.8h0M4.4 22.7h0M14.9 7.4h0M34.1 25.2h0" stroke="#495690"/>
<path d="M5.4 24.7h0M32.1 16.1h0M9.8 23.8h0M3.5 8.4h0M5.9 15.8h0M23.8 23.2h0M34.1 1.6h0M9.7 -1h0M28.2 31.2h0M29 2.7h0M13.4 29.7h0M4 18.7h0M-0.7 34.5h0M33.7 21.6h0M31.6 -1.1h0M16.5 10.1h0M19.9 25.9h0M8.9 36.6h0M13.3 -0.3h0M33.4 31h0M22.2 31.1h0" stroke="#3f6d94"/>
<path d="M31.8 14.2h0M32 36.4h0M8.5 26h0M25.7 0.4h0M31.9 16.3h0M3.8 14.9h0M31.5 2.9h0M29.4 -1.5h0M27.6 8.7h0M24.7 33.5h0M12.3 34.3h0" stroke="#2e9893"/>
<path d="M7.6 -1h0M0.2 16.7h0M34.1 31.5h0M22.8 30.8h0M13.3 16.1h0M33.1 27.2h0M37.2 11h0M11 5.1h0M5.7 33h0M25.8 7.2h0M7.3 34.6h0M25.3 19h0M19.7 27.8h0M36.7 17.6h0M24.7 22.2h0M6.6 -1.2h0M15.2 13.7h0M30.7 24.3h0M5.3 22.5h0M17.2 34h0" stroke="#368295"/>
<path d="M36.2 3h0M6.9 5.7h0M30.1 33h0M28.2 6.2h0" stroke="#49bf7c"/>
</g></pattern>
<pattern id="v2" patternUnits="userSpaceOnUse" width="36" height="36">
<rect width="36" height="36" fill="#4d6985"/>
<g fill="none" stroke-width="3" stroke-linecap="round">
<path d="M22.7 15.6h0M34 6.2h0M31.6 25.2h0M35.8 0.7h0M-0.2 36.7h0M7.4 0.8h0M32.6 30.4h0M27 21.6h0M13.5 27h0M0.8 26.5h0M6.3 15.3h0M1 -0.3h0M37 35.7h0M16.3 15.1h0M31.6 15.6h0M13.5 4h0M36.7 4.6h0" stroke="#495690"/>
<path d="M15.5 14.3h0M11.6 28.9h0M10.6 11.7h0M25.1 14h0M35.1 10.4h0M5.3 34h0M1.4 17.2h0M15.1 24.9h0" stroke="#49bf7c"/>
<path d="M31.8 13.8h0M13.3 35h0M18.8 5.7h0" stroke="#74cf63"/>
<path d="M21.9 13.8h0M8.9 3.3h0M14.3 33.8h0M36.3 9.9h0M34.3 2.4h0M19.1 -1h0M15.7 10.2h0M12.5 22.3h0M26.9 27.8h0M7.6 37.2h0M21.6 22.7h0M13.6 13.1h0M24.1 31.4h0" stroke="#2fab8c"/>
<path d="M34.5 19.9h0M16.7 16.2h0M7.6 20.8h0M5 20.2h0" stroke="#aadc42"/>
<path d="M7.5 21.2h0M15 11.4h0M28.4 14h0M30.1 -1.2h0M10.1 20h0M8.2 31.8h0M32.1 9.5h0M0.5 18.1h0M11.7 31.7h0M29.9 4.1h0M-0.8 33.9h0M6.8 17.3h0M31.5 18.2h0" stroke="#368295"/>
<path d="M10.7 26.8h0M36.3 21h0M6.4 35.2h0M12.2 17.5h0M31 30.9h0M35.3 6.1h0M7.1 8.7h0M30.2 14.2h0M17.7 0.5h0M18.9 23.7h0M4.2 34.8h0M32.4 26.3h0M12.8 14h0M13.9 0.3h0M34.9 6.7h0M20.9 30.7h0M14.2 22.9h0M34.3 10.6h0M1.5 16.1h0M34 31.5h0" stroke="#3f6d94"/>
<path d="M6.1 25.7h0M9.2 24.6h0M8.3 2.9h0M7.3 16.7h0M23.4 7.4h0M34.7 8.6h0M21.1 6.1h0M12.4 29h0M3.4 21.2h0M-0.3 10h0M33.1 28.9h0M21.8 8.1h0" stroke="#2e9893"/>
<path d="M21.7 17.4h0M2.8 37.4h0" stroke="#e2e533"/>
<path d="M1.6 19.1h0M4.6 29.2h0M24.1 32h0M21.6 32.9h0M23 17.1h0M30 35.6h0M35 8.3h0M30.4 22.8h0M29.5 24.8h0M-0.8 -1h0M35.2 -1h0M0.4 19.3h0M29.7 18.4h0M34.4 12h0M27.4 15h0M21.4 5.8h0M34.6 3.8h0M17.7 23.7h0M19.8 27.2h0M35.6 13.5h0M4.5 27h0M32 22.3h0M21.3 31.2h0M35.9 9.1h0M14.4 24.2h0M27.9 7.9h0M31.7 29.2h0M5.8 4.5h0M26.7 30.4h0M22.2 28.9h0M20.3 20.6h0M21.7 19.5h0M26.5 15.9h0M28.5 -1.1h0M17.8 36.9h0" stroke="#511f6c"/>
<path d="M15.9 18h0M7.9 23.4h0M25.4 -1.5h0M27.3 27.2h0M10.2 21.4h0M5.5 29.9h0M-0.3 32.4h0M26.9 11.7h0M3.8 33.2h0M29.5 30.4h0M31.4 13.1h0M20.6 35.9h0M14.3 36h0M17.3 21.7h0M28.1 33.2h0M0.2 27.5h0M20.2 18.1h0M20.4 31h0M35.1 3.4h0M3.8 20.6h0" stroke="#513c83"/>
<path d="M29.7 23h0M7.9 14.9h0M2 24.8h0M-0.2 0.7h0M35.8 36.7h0M7.4 36.8h0M32.3 8.7h0M22 21.7h0M18.6 6.3h0M36.8 26.5h0M1 35.7h0M37 -0.3h0M11.6 33.9h0M27.8 18.9h0M12.9 29.1h0M0.7 4.6h0M15.5 30.3h0" stroke="#495690"/>
<path d="M3.8 27h0M3 16.9h0M12.8 5.7h0M6.2 15.5h0M-0.9 10.4h0M18.4 17h0M37.4 17.2h0" stroke="#49bf7c"/>
<path d="M12.3 4.8h0M13.3 -1h0" stroke="#74cf63"/>
<path d="M13.6 8.2h0M22.4 19.2h0M0.3 9.9h0M5.1 16.2h0M19.1 35h0M30.5 14.1h0M12 3.5h0M3.7 11.9h0M7.6 1.2h0M1.5 2.6h0M14.7 15.5h0M33.7 12.3h0" stroke="#2fab8c"/>
<path d="M-1.5 19.9h0M26.1 2.9h0M19.6 15.7h0" stroke="#aadc42"/>
<path d="M31.3 24.6h0M26.2 14.9h0M30.1 34.8h0M28 26.2h0M18.2 20h0M15.9 16.2h0M14.5 24.5h0M36.5 18.1h0M32.6 33.4h0M35.2 33.9h0M15 28.5h0M26.9 15.9h0M4.3 21.5h0" stroke="#368295"/>
<path d="M0.3 21h0M21.5 17h0M6.4 -0.8h0M24.5 32.9h0M18 13.5h0M-0.7 6.1h0M26.7 8.4h0M3.7 33.5h0M17.7 36.5h0M22.6 31.1h0M4.2 -1.2h0M9.7 5.8h0M22.3 23.4h0M13.9 36.3h0M-1.1 6.7h0M17.8 13.9h0M17 7.7h0M2.2 13.6h0M37.5 16.1h0M6.7 3.7h0" stroke="#3f6d94"/>
<path d="M22.7 24.1h0M16.1 23.9h0M14 5.4h0M16.6 30.3h0M17 12.9h0M-1.3 8.6h0M13.2 30.9h0M12.5 22.2h0M35.7 10h0M8.3 21h0M25.8 6.3h0" stroke="#2e9893"/>
<path d="M2.8 1.4h0" stroke="#e2e533"/>
<path d="M22.3 18.7h0M8 19.1h0M16.1 22.5h0M23.1 8.2h0M32.9 16.3h0M30 -0.4h0M-1 8.3h0M6.3 7.9h0M35.2 35h0M-0.8 35h0M25.9 8.8h0M36.4 19.3h0M6.9 13.9h0M19.6 13.2h0M17.2 32.1h0M12.1 4.7h0M-1.4 3.8h0M32.1 33.4h0M20.6 32h0M-0.4 13.5h0M4.5 30.7h0M28.7 20.3h0M9 6.6h0M-0.1 9.1h0M25.2 16.2h0M26.5 14.4h0M22.9 18.4h0M16.1 27.9h0M29.2 7.1h0M2.6 27.4h0M27.5 23.4h0M5.6 19.3h0M28.5 34.9h0M17.8 0.9h0" stroke="#511f6c"/>
<path d="M18.4 26.9h0M25.4 34.5h0M31.2 2.2h0M3.9 24.9h0M3.4 23.2h0M35.7 32.4h0M7 7.2h0M20.3 30.7h0M22.1 23.7h0M6.7 13.8h0M29.6 2.3h0M20.6 -0.1h0M14.3 0h0M12.8 4.6h0M30.3 16h0M36.2 27.5h0M24.6 25.5h0M8.4 1.6h0M-0.9 3.4h0M4.8 19.4h0" stroke="#513c83"/>
</g></pattern>
<pattern id="v3" patternUnits="userSpaceOnUse" width="36" height="36">
<rect width="36" height="36" fill="#4d7a86"/>
<g fill="none" stroke-width="3" stroke-linecap="round">
<path d="M12.4 12h0M26.2 35.3h0M10.8 18.2h0M2.5 30.2h0M32.4 37.1h0M1.2 0.8h0M37.2 0.8h0" stroke="#74cf63"/>
<path d="M17.6 0.7h0M4 1.9h0M35.1 22.9h0M0.7 9.4h0M4.4 11.5h0M33.4 23.5h0M26.2 36.2h0M25.1 22.8h0M14.3 26.5h0M28 19.5h0M7.8 34.7h0M9.9 16.9h0M0.8 28.2h0M8.9 33h0M7.9 6h0M28.6 5.5h0" stroke="#368295"/>
<path d="M0.4 8.6h0M25 26.2h0" stroke="#aadc42"/>
<path d="M11.9 20h0M19.3 -0.7h0M7.7 10.5h0M5.3 28.7h0M26.3 11h0M3.7 34.7h0M26.2 19.8h0M34.8 16.7h0M21 19.2h0M1.6 5h0M26.4 20.2h0M12.6 8.5h0" stroke="#513c83"/>
<path d="M20.6 29.8h0M9 10.1h0M8.2 13.9h0M21.4 11.8h0M33.6 19.1h0M28.6 27.3h0M18.9 29.5h0M24 7.1h0M35.3 22.9h0M3.2 1.7h0M5.7 21.1h0M37 25.2h0M9.2 -1.1h0M22.2 21.7h0M5.9 19.3h0M-1.4 11h0M22.4 36.8h0M28.5 9.7h0M5.2 13h0M29.8 32.7h0M13.8 11.5h0" stroke="#511f6c"/>
<path d="M29.8 0.9h0M6.6 14.7h0M9 13.3h0M24.3 11.8h0M20.9 17.2h0M34.7 23.7h0M28.4 23.5h0M3.2 27.5h0M5.1 18.7h0M28 25.1h0M20.1 22.9h0M17 10.8h0M30.1 19.4h0M7.1 9.9h0" stroke="#2fab8c"/>
<path d="M25.9 26.5h0M1.6 23.3h0M27 29h0M19.6 13h0M30.5 23.1h0M3.5 30.2h0M9.2 31.5h0" stroke="#49bf7c"/>
<path d="M19 25.5h0M22.6 5.9h0M5 23.8h0M24.5 28.2h0" stroke="#e2e533"/>
<path d="M13.8 32h0M20.8 23.3h0M11.5 9.1h0M10 36.8h0M30.6 16.7h0M0.9 13.9h0M7.5 36h0M23.7 27.6h0M-0.9 18.2h0M28.2 6.4h0M13 2.5h0M4.2 0h0M21.5 30.8h0M29.1 19.6h0" stroke="#495690"/>
<path d="M7.7 2.8h0M5.2 15.1h0M25.5 10.5h0M12 8.7h0M15.8 11.6h0M19.3 16.1h0M4.2 16.1h0M0 25.1h0M22.7 14.5h0M6.6 32.8h0M16.7 33.6h0M15.2 3.5h0M0.5 31.5h0M19.1 1.7h0M20.1 5.7h0M28.9 14.7h0M4.1 1h0M22.1 23.6h0M3.7 -1.2h0M0.2 5.3h0M4.2 0h0M17.4 2.4h0M34.3 13h0M3.6 15.8h0" stroke="#3f6d94"/>
<path d="M8.1 3.9h0M31.4 19.6h0M29.4 37.2h0M26.1 26.8h0M0.4 0h0M36.4 36h0M10.3 22.1h0M11.3 16.3h0M10.7 -1.3h0M23.7 1.6h0M8.7 3.5h0M7.1 -1.4h0M31 25.7h0M3.5 5.8h0M31.8 16.1h0M35 18.5h0M20.7 29.7h0M-1.3 15.1h0M18 1h0M9.4 0.7h0M20.1 2.3h0M26.3 19.8h0" stroke="#2e9893"/>
<path d="M19.7 31.4h0M26.2 -0.7h0M12.6 19h0M32.4 1.1h0M26.2 26.6h0M1.2 36.8h0M37.2 36.8h0" stroke="#74cf63"/>
<path d="M17.6 36.7h0M25.2 23.1h0M-0.9 22.9h0M36.7 9.4h0M12.2 12.1h0M26.2 0.2h0M28.9 8.4h0M29.5 25.9h0M16.8 23h0M10.9 34.1h0M7.8 -1.3h0M24.2 11h0M36.8 28.2h0M24.5 21.8h0M30 5.7h0" stroke="#368295"/>
<path d="M36.4 8.6h0M4.4 27.4h0" stroke="#aadc42"/>
<path d="M19.3 35.3h0M11.7 24h0M21.4 26.2h0M21.3 3.2h0M12.6 6.7h0M3.7 -1.3h0M8.3 20.6h0M-1.2 16.7h0M6.5 17.8h0M16.5 32.9h0M33.1 20.7h0M9.3 8.2h0" stroke="#513c83"/>
<path d="M22.3 17.1h0M14.2 29.5h0M11.1 33.1h0M31 9.4h0M9.1 8.9h0M11.7 12.8h0M33.8 15.3h0M33 28h0M-0.7 22.9h0M15.5 26.2h0M1 25.2h0M9.2 34.9h0M21.5 5.9h0M6.2 32h0M34.6 11h0M22.4 0.8h0M11.3 24.5h0M10.2 4.9h0M24.3 12.9h0M30.3 4h0" stroke="#511f6c"/>
<path d="M29.8 36.9h0M26.4 26h0M31.9 32.2h0M22.1 31.4h0M4 24.1h0M-1.3 23.7h0M33.7 28h0M3.8 19.7h0M2.8 22.4h0M1.8 27.2h0M29 30.4h0M30 22.8h0M9.8 7.6h0M23.5 17.9h0" stroke="#2fab8c"/>
<path d="M9.1 3.6h0M32.2 24.5h0M27.5 1.9h0M29.5 9.7h0M30.9 17.1h0M7.6 32h0M23.8 27.5h0" stroke="#49bf7c"/>
<path d="M20.3 27.8h0M7.8 31.3h0M29.3 20.4h0M2.7 34h0" stroke="#e2e533"/>
<path d="M16 27h0M22.7 2.4h0M10 0.8h0M3.9 23.4h0M18.9 13.2h0M36.9 13.9h0M7.5 0h0M35.1 18.2h0M28.6 17.2h0M31.5 26h0M14 31.8h0M4.2 36h0M33.1 30.5h0M4.8 32.7h0" stroke="#495690"/>
<path d="M31.4 4.3h0M3.2 17.5h0M28.6 15.1h0M24.8 10.2h0M9.1 32.2h0M9.5 26.8h0M36 25.1h0M15.6 13.3h0M13.3 20.8h0M31.3 32.7h0M18.3 27.8h0M1.7 16.2h0M36.5 31.5h0M30.7 13.4h0M12.4 18.3h0M19.4 14.4h0M4.1 37h0M3.7 34.8h0M16.3 5.7h0M36.2 5.3h0M4.2 36h0M27.1 29.2h0M28.9 34.3h0M16.4 3h0" stroke="#3f6d94"/>
<path d="M29.3 25.2h0M29.4 1.2h0M15.4 10.4h0M0.4 36h0M36.4 0h0M23.5 18.5h0M34.3 21.8h0M10.7 34.7h0M27 14.8h0M29.7 33.7h0M7.1 34.6h0M29.9 26.9h0M4.4 14.5h0M18.7 19.6h0M28.8 9.6h0M-1 18.5h0M34.7 15.1h0M16.1 2.8h0M18 37h0M9.4 36.7h0M19.2 7h0" stroke="#2e9893"/>
</g></pattern>
<pattern id="v4" patternUnits="userSpaceOnUse" width="36" height="36">
<rect width="36" height="36" fill="#58867f"/>
<g fill="none" stroke-width="3" stroke-linecap="round">
<path d="M14.7 16.8h0M0.4 24.8h0M7.8 13.7h0M34.4 30.5h0M37.4 3.1h0M23.7 21.4h0M7.5 10.7h0M10.6 1.7h0M32.6 11.2h0M27.9 -0.7h0M10.6 12.6h0" stroke="#513c83"/>
<path d="M31 20.9h0M19.1 8.6h0M36.4 15.8h0M23.6 29.4h0M11.6 8.5h0M30.4 32.9h0M30.5 24h0M15.1 29.3h0M26.7 34.7h0M2.2 15.2h0" stroke="#495690"/>
<path d="M28.9 29.8h0M-0.3 7.2h0M35.3 4.2h0M15.7 32.1h0M22.9 17.8h0M9.9 20.6h0M26.3 -0.3h0M23.4 14.8h0M34.4 33.6h0" stroke="#74cf63"/>
<path d="M1.4 13.6h0M25.9 11.2h0M22.9 30.4h0M1.3 0.5h0M37.3 0.5h0M26.8 29.7h0M11 13.1h0M21.6 27.7h0M21.7 13.7h0M23.8 31.8h0M24.7 26.7h0M14.1 27.8h0M36.1 3.9h0M30.3 26.8h0M16.9 5.9h0M16 23.9h0M16.6 16.6h0M11.2 12.8h0M34.9 21.1h0M33.9 24.6h0" stroke="#511f6c"/>
<path d="M11.9 25.7h0M4.8 12.8h0M5.8 21h0M23.7 29.9h0M16.9 2.1h0M7.3 13h0M28.8 36.2h0M26.2 15.2h0M6.7 9.8h0M0.4 6.8h0M20.5 35h0M24.1 34.4h0M8.8 3.2h0M29.5 17.6h0M21.4 3.7h0M32.5 8.2h0M10.2 5.1h0M15 27.1h0M26.5 16.6h0" stroke="#3f6d94"/>
<path d="M3.6 21.5h0M5.5 0.4h0M3.1 7.6h0M28.4 27.2h0M10.2 6.4h0M19.2 9.1h0M13.9 6.9h0M8.4 13h0" stroke="#2fab8c"/>
<path d="M4.3 23.6h0M19.7 22.8h0M17.4 16.3h0M27.9 22.1h0M1.1 12.6h0M28.7 11.1h0M33.5 4.6h0M21.6 35.4h0M14 2.6h0M36.8 33h0M32.9 27.6h0M0 33.5h0M26.2 11.5h0M10.4 33.4h0M8.5 19.5h0" stroke="#368295"/>
<path d="M14.1 11.6h0M8.4 20.4h0M32.3 10.3h0M2.3 7h0M12.9 12.6h0M28.7 22.9h0M6.3 11.5h0M16.1 17.5h0M0 10.4h0" stroke="#aadc42"/>
<path d="M22 11h0M19.8 34.1h0M-1 24.2h0M35.5 1.4h0M-0.5 37.4h0M17.9 25.5h0M18 3.9h0M9.2 7.5h0M2.4 33.2h0M10 14.8h0M9.9 11.1h0M27.5 28.9h0" stroke="#49bf7c"/>
<path d="M26.3 8.2h0M20.3 14.2h0M7.9 7.5h0M35.6 19.6h0M17.8 2.9h0M30.5 2.3h0M14.1 2.3h0M32.1 21.5h0" stroke="#e2e533"/>
<path d="M6 32.2h0M2.6 22.4h0M28.8 3h0M2.5 3.4h0M25.8 36h0M37.3 15h0M1 31.7h0M21.2 19.8h0M32.8 20.8h0M5.5 21.9h0M19.9 -1h0M20.4 10h0M8.1 22.5h0M20.5 5.1h0M6.5 6.4h0M32.7 27.7h0M25.6 23.7h0M27.2 23.7h0M22.5 26h0" stroke="#2e9893"/>
<path d="M19.3 9.3h0M36.4 24.8h0M29.2 29.6h0M1.4 3.1h0M4.9 32.1h0M17.6 19.2h0M21.6 33.5h0M22.4 21.6h0M27.9 35.3h0M14.3 26.8h0M12.4 19h0" stroke="#513c83"/>
<path d="M25.8 22.7h0M0.4 15.8h0M15 26.7h0M30.5 13.1h0M13.3 12.4h0M9.6 28.3h0M12.5 29.9h0M26.8 33h0M26.7 -1.3h0" stroke="#495690"/>
<path d="M35.7 7.2h0M21.3 29.3h0M-0.7 4.2h0M34 20.7h0M10.6 7.1h0M26.3 35.7h0M16.3 5.4h0M3.6 34.3h0" stroke="#74cf63"/>
<path d="M37.4 13.6h0M18.8 26.4h0M4.3 28.8h0M1.3 36.5h0M37.3 36.5h0M24.9 22.3h0M19.5 2.6h0M27.9 2.1h0M2.4 1.6h0M12.3 16.8h0M20.3 12.3h0M0.1 3.9h0M30.6 27.6h0M9.2 21.4h0M23 7h0M7.7 9.1h0M28.8 22.4h0M30 15.8h0M-1.1 21.1h0" stroke="#511f6c"/>
<path d="M30.3 25h0M15.9 15.4h0M6.6 2.5h0M18.6 24.3h0M11.9 25.1h0M28.8 0.2h0M34.2 4.4h0M11.1 26.1h0M14.2 4.5h0M36.4 6.8h0M20.5 -1h0M26.8 15h0M7.9 16h0M21 33h0M11.5 13.3h0M28 17.3h0M9.1 14.7h0M13.7 23.7h0" stroke="#3f6d94"/>
<path d="M22.5 3h0M5.5 36.4h0M23.1 4.7h0M27.4 16.2h0M33.6 8.6h0M16 5.3h0M20.3 10.7h0M27.2 7.3h0" stroke="#2fab8c"/>
<path d="M33.2 12.6h0M33 7.2h0M7.1 17.6h0M20.2 15.4h0M37.1 12.6h0M29.8 26.8h0M1.6 6.6h0M21.6 -0.6h0M0.8 33h0M25.2 17.2h0M16.7 12.9h0M36 33.5h0M25.7 19.6h0M19.1 26.4h0" stroke="#368295"/>
<path d="M30.2 18.7h0M10.9 32.2h0M28.2 14h0M30.8 29.4h0M31.2 20.3h0M21.8 15.4h0M32.9 12.2h0M36 10.4h0M14.9 20.1h0" stroke="#aadc42"/>
<path d="M7.2 2h0M35 24.2h0M17.9 33.3h0M-0.5 1.4h0M35.5 37.4h0M5.1 4.5h0M19.6 4.9h0M8.3 29.2h0M32.5 15.9h0M11 32.4h0M10.7 31.2h0" stroke="#49bf7c"/>
<path d="M6.5 18.8h0M27.9 32.9h0M20.7 5.2h0M-0.4 19.6h0M32.6 6.6h0M31.7 28.4h0M11.5 19.1h0" stroke="#e2e533"/>
<path d="M24 29h0M11.9 6.4h0M6.4 6h0M25.8 0h0M1.3 15h0M1.7 11.4h0M37 31.7h0M9.1 18.5h0M33.4 7.1h0M19.9 35h0M15.2 34.4h0M24.8 31.4h0M14.3 5.7h0M12.5 10.1h0M28.4 16.9h0M7 30.6h0M6.8 17.2h0M34 20.9h0" stroke="#2e9893"/>
</g></pattern>
<pattern id="v5" patternUnits="userSpaceOnUse" width="36" height="36">
<rect width="36" height="36" fill="#5f947b"/>
<g fill="none" stroke-width="3" stroke-linecap="round">
<path d="M22.5 4.2h0M14.9 3h0M12.8 21.3h0M6.5 27.4h0M4.4 2.9h0M35.7 7.4h0M28.4 20.9h0M2.8 5h0M17.7 4.5h0M24.2 23.6h0M14.3 14.4h0M13.9 16.9h0M13.6 10.6h0" stroke="#2e9893"/>
<path d="M35.1 26.5h0M31.2 34.8h0M23.7 2.7h0M9.7 31h0M12.6 13h0M20.3 3.5h0M21.7 26.7h0M21.1 -0.1h0M24.5 3.2h0M8.8 4.9h0M30.9 33h0M6.2 14.7h0M13.3 4.1h0M3.1 0.7h0" stroke="#511f6c"/>
<path d="M21 0.5h0M31.3 11.5h0M4.3 13.1h0M17 36.3h0M26 3.3h0M30.1 36.5h0M1.9 1.5h0M14.2 4.2h0M22.2 26.8h0M36.5 7.9h0M25.2 29h0M9.5 5.7h0M36.7 27.8h0M13.4 30.9h0M14.8 28h0M2.1 8.4h0M29.2 10.9h0" stroke="#2fab8c"/>
<path d="M18.2 27.4h0M7.6 22.2h0M17.1 36.9h0M35.2 9.5h0M11.6 11.5h0M31.2 31.2h0M30.3 31.8h0M24.4 10.4h0M31 12.1h0M33.7 12.9h0M35.8 20.2h0M2.4 2.1h0" stroke="#495690"/>
<path d="M34.7 28.5h0M24.6 11.3h0M7.5 17h0M10 29.2h0M10 36.2h0M23.9 14.9h0M-0.2 3.2h0M19 23.4h0M13.4 7h0M15.8 2.8h0M19.6 3.1h0" stroke="#513c83"/>
<path d="M12.5 27h0M34.6 29.4h0M6.8 19.6h0M14 6h0M23.8 29.6h0M15.1 36.7h0M18.1 34h0M-1.2 10.4h0M-1.4 33.5h0M15.5 32.3h0M1.4 17.6h0M25 2.8h0" stroke="#368295"/>
<path d="M27 23.9h0M6.7 11.8h0M24.7 24.5h0M14.2 12.5h0M16.3 22.4h0M12 17.4h0M21.8 23.5h0" stroke="#aadc42"/>
<path d="M11.2 27.7h0M33.5 0h0M21.7 20.7h0M0.7 6.9h0M6.9 36h0M19.5 22.6h0M33.3 36.9h0M8.2 16.8h0M31 -0.6h0M37.3 27.7h0M34.2 6h0M5.7 32.3h0M11.5 35.2h0M26 23.7h0" stroke="#3f6d94"/>
<path d="M31.7 35.1h0M22.5 29.7h0M4.6 4h0M27.4 20.8h0M-0.8 23.3h0M17.3 17h0M29.9 22.1h0M-0.9 21.2h0M36.3 14.3h0M16.2 18.1h0M6.3 35.7h0M34.2 35.5h0M6.1 20.8h0M32.8 37.4h0M-0.8 13.3h0M3 19.3h0" stroke="#74cf63"/>
<path d="M28.5 34.3h0M16.6 31.7h0M-0.4 22h0M12.2 29.1h0M33 1.3h0M16.9 17.2h0M2.8 13.7h0M15.9 7.6h0M31.5 29.3h0M-0.8 2.4h0M14.9 12h0M34 4.7h0M35.5 29.9h0M17.7 14h0M20.8 11.5h0" stroke="#49bf7c"/>
<path d="M1.8 26.9h0M22.1 12.7h0M36 14.7h0M26.1 15.3h0M36.5 17h0M15.6 31.8h0M28.7 30.5h0M35.8 14.4h0M15.3 30.3h0M22.1 21.3h0M21.6 10.2h0M27.8 6.6h0M-1.1 25.7h0M20.5 34.5h0" stroke="#e2e533"/>
<path d="M33.5 25.2h0M31.7 8.5h0M20.3 27.5h0M17.4 16.6h0M5.9 19.5h0M-0.3 7.4h0M20.8 10.6h0M29.7 15.3h0M5.8 9.9h0M9 9.1h0M21.9 30.6h0M14.8 7.7h0M12.7 22h0" stroke="#2e9893"/>
<path d="M-0.9 26.5h0M31.2 -1.2h0M31.2 12.2h0M30.2 19.3h0M26.8 16.2h0M10.1 16.7h0M21.1 35.9h0M17.5 3.7h0M30.5 14.9h0M5.8 18.5h0M28.1 4h0M3.1 17.7h0M9.6 21.4h0M3.1 36.7h0" stroke="#511f6c"/>
<path d="M21 36.5h0M26 16.2h0M17 0.3h0M16.2 6.3h0M30.1 0.5h0M4.4 32.7h0M29.7 12.8h0M4.8 10.4h0M0.5 7.9h0M8.2 14.3h0M6.8 9.4h0M0.7 27.8h0M5.1 21.4h0M26.8 19.7h0M15.9 9.2h0M19.8 7.3h0" stroke="#2fab8c"/>
<path d="M22.9 12.8h0M17.1 0.9h0M20.5 2.5h0M-0.8 9.5h0M11.8 19.2h0M3.8 21.2h0M14.7 18.2h0M12.6 5.1h0M11 24.4h0M17.9 3.7h0M-0.2 20.2h0" stroke="#495690"/>
<path d="M-1.3 28.5h0M7.5 12.9h0M13.1 31.9h0M10 0.2h0M23.1 4.6h0M35.8 3.2h0M14.3 28.3h0M20.3 24.9h0M30.3 17.3h0M3 17.7h0" stroke="#513c83"/>
<path d="M15.5 13.9h0M-1.4 29.4h0M6.3 34.3h0M10.3 18.7h0M15.1 0.7h0M6.8 27h0M34.8 10.4h0M34.6 33.5h0M33.4 16.7h0M8.4 21.2h0M37.4 17.6h0" stroke="#368295"/>
<path d="M12.1 21.2h0M12 28.2h0M20.4 9.3h0M9.4 22h0M12.3 18h0M27.8 24.2h0M20.9 32.9h0" stroke="#aadc42"/>
<path d="M33.5 36h0M12.6 33.8h0M16.5 13.7h0M36.7 6.9h0M6.9 0h0M33.3 0.9h0M17.8 27.7h0M31 35.4h0M1.3 27.7h0M31 8h0M6.8 11.2h0M22.3 5.1h0M11.5 -0.8h0" stroke="#3f6d94"/>
<path d="M31.7 -0.9h0M10.5 9.5h0M8.7 33.2h0M35.2 23.3h0M24.3 17.2h0M13.5 4.7h0M35.1 21.2h0M0.3 14.3h0M13.2 25.2h0M12.9 4.8h0M6.3 -0.3h0M34.2 -0.5h0M32.8 1.4h0M35.2 13.3h0M15.5 6h0" stroke="#74cf63"/>
<path d="M5.3 23.7h0M35.6 22h0M17.7 6h0M28 29.7h0M33 37.3h0M31.6 24.6h0M26.4 25.1h0M10.2 6.8h0M35.2 2.4h0M14.8 16.5h0M11.4 19.5h0M27.8 5.1h0M-0.5 29.9h0M31.8 8.6h0M17 32.4h0" stroke="#49bf7c"/>
<path d="M8.4 9.5h0M3.4 18.5h0M0 14.7h0M0.5 17h0M8.3 25.6h0M9.6 28.9h0M25.9 9.5h0M-0.2 14.4h0M6.7 2.4h0M7 15.3h0M10.2 29.4h0M34.9 25.7h0M2.6 8.7h0M5.9 14.8h0" stroke="#e2e533"/>
</g></pattern>
<pattern id="v6" patternUnits="userSpaceOnUse" width="36" height="36">
<rect width="36" height="36" fill="#69a276"/>
<g fill="none" stroke-width="3" stroke-linecap="round">
<path d="M0.6 33.9h0M27.9 34.4h0M16.5 3.4h0M9.8 -0.6h0M5.3 26.9h0M15 35.9h0M5.6 3.9h0M12.1 16h0M23.9 16.3h0M23.2 2.9h0M17.9 34.7h0M2.9 5.5h0M16.4 12.4h0" stroke="#368295"/>
<path d="M15.3 5.5h0M10.3 6h0M34.8 19h0M19.5 16.1h0M-0.8 22.2h0M19.7 1.7h0M33.7 7.1h0M21.9 15.2h0M3.6 21.5h0M19 13.7h0" stroke="#49bf7c"/>
<path d="M29.6 2h0M28.6 25h0M24.1 30.9h0M23.2 25.9h0M24 22.2h0M12.4 28.6h0" stroke="#511f6c"/>
<path d="M29.3 6.4h0M10.4 32.1h0M3.1 21.5h0M27.9 36.5h0M-0.3 -1h0M35.7 -1h0M30.2 35.2h0M22.4 12.4h0M8.9 25.8h0M15 18.6h0M23.7 20.5h0M11.7 20h0M15.7 8.9h0M4.3 21.5h0M35.8 20.3h0M2.5 19.4h0M19 2.6h0M34.7 24.2h0M10.2 34.1h0M30.4 30h0M26 24.2h0M3.6 4.2h0M6.9 13h0M-1.3 30.3h0M-1.2 4.3h0" stroke="#e2e533"/>
<path d="M4.1 8.1h0M1.2 4.1h0M17.6 0.7h0M27.5 24.7h0M18.7 31h0M18.3 21h0M1.3 31.2h0M11.9 29.2h0M17.5 19.2h0M33.9 32.9h0" stroke="#aadc42"/>
<path d="M17.4 4.9h0M29.6 7.8h0M8 18.1h0M26.2 9.8h0M32.9 16.9h0M17.7 15.2h0M14.5 5.8h0M3.9 1.2h0M1.3 1.2h0M37.3 1.2h0M31.7 7.7h0M23.3 8.8h0M32.7 32.8h0M18.8 28.8h0M24.6 5.5h0" stroke="#495690"/>
<path d="M6.8 35h0M32.1 7.7h0M34.3 27.6h0M19.3 3.9h0M17.2 14.7h0M5.9 21h0M35.6 7.5h0M12.7 21.5h0M32.8 30.5h0M28.9 16.2h0M33.6 17.5h0M10.7 0.4h0M19 35.8h0M12.9 10.1h0M4.5 24.3h0" stroke="#74cf63"/>
<path d="M6.5 26.8h0M-0.5 17.5h0M19 25.5h0M24 8.5h0M6.4 18.2h0M37.5 24.2h0M18.2 21.2h0M8.2 19.9h0M15.9 10.8h0M11.8 30.3h0M21.3 25.8h0M35.9 27.2h0M32.9 21h0M28.3 -1h0M-1.2 29.3h0M14.1 36.8h0M22.8 7.6h0M18.6 8h0" stroke="#2fab8c"/>
<path d="M19.4 2.4h0M29.4 16.9h0M15.2 7.3h0M4.4 28.4h0" stroke="#513c83"/>
<path d="M2.7 12.6h0M23.5 8.6h0M26.2 19.8h0M31.1 10h0M11.5 7.2h0M7.8 4.3h0M8.4 34h0M8.1 27h0M2.8 1.3h0M18.2 1.8h0M22.1 31.4h0M13.6 37.4h0M28.4 1.7h0M9.3 20.4h0M20.1 11.6h0" stroke="#2e9893"/>
<path d="M26.9 10h0M3.4 19.4h0M10.7 13.2h0M1.2 35.2h0M37.2 -0.8h0M29.9 16.5h0M0.4 36.3h0M36.4 36.3h0M2.2 24.4h0M6.2 30.6h0M13 27.6h0" stroke="#3f6d94"/>
<path d="M36.6 33.9h0M3.6 3h0M9.8 35.4h0M2.8 18.8h0M18.6 20h0M15 -0.1h0M27.8 13.8h0M15.8 6.4h0M6.6 8.4h0M6.9 31.8h0M17.9 -1.3h0M15.8 17.4h0M11.1 27.8h0" stroke="#368295"/>
<path d="M8.8 11.6h0M31.1 10h0M-1.2 19h0M35.2 22.2h0M23.3 32.3h0M23.8 4h0M22.2 7.9h0M33 25.7h0M5.3 26.7h0" stroke="#49bf7c"/>
<path d="M13.1 16.2h0M28.5 17.9h0M4.7 27.3h0M23 4.4h0M6 2.6h0" stroke="#511f6c"/>
<path d="M16.3 13.8h0M16 20.3h0M27.9 0.5h0M35.7 35h0M-0.3 35h0M4.9 6.4h0M30.2 -0.8h0M6 31.5h0M23.7 23.2h0M5.7 19.6h0M30.2 34.2h0M10.7 17.6h0M2.9 27.1h0M17.2 20.9h0M-0.2 20.3h0M24.1 7.1h0M18.6 15.2h0M-1.3 24.2h0M21.6 31.7h0M30.9 21.6h0M19 26.8h0M13.3 34.1h0M34.7 30.3h0M34.8 4.3h0" stroke="#e2e533"/>
<path d="M32.9 12.4h0M37.2 4.1h0M17.6 36.7h0M33.8 20.2h0M26.3 26.1h0M28.5 21h0M37.3 31.2h0M17.8 22.9h0M24.5 22.2h0M30.1 13.3h0" stroke="#aadc42"/>
<path d="M21.9 17.9h0M32 12h0M7 33.8h0M1.9 3.6h0M12.5 18.1h0M8.2 8.4h0M11.6 30.8h0M3.9 37.2h0M1.3 37.2h0M37.3 37.2h0M9.7 34.3h0M10.6 10.5h0M31.6 5.4h0M33.3 31.2h0" stroke="#495690"/>
<path d="M6.8 -1h0M4.7 29.8h0M16.6 15.5h0M27.5 29h0M31.9 16.2h0M30.9 2.9h0M-0.4 7.5h0M15 29.4h0M15.4 18.9h0M12.8 19.8h0M22.5 15.8h0M10.7 36.4h0M19 -0.2h0M24.8 14h0M20.5 1.9h0" stroke="#74cf63"/>
<path d="M35.5 17.5h0M5.7 24h0M6.9 20.8h0M14 22.1h0M1.5 24.2h0M11 21.5h0M4.4 24.7h0M30 24.4h0M27.7 9.4h0M15.8 14.5h0M15.1 7.6h0M-0.1 27.2h0M28.3 35h0M34.8 29.3h0M14.1 0.8h0M19.4 17.9h0M18.6 19.2h0M1.6 22.1h0" stroke="#2fab8c"/>
<path d="M10.6 28.3h0M12 2.4h0M13.7 22.4h0M27.6 32h0" stroke="#513c83"/>
<path d="M26.6 3.6h0M23.7 5h0M26.5 11.1h0M20 22h0M12.9 7.4h0M14.5 23.7h0M11 14.8h0M29.4 9.5h0M2.8 37.3h0M33.4 21.7h0M13.6 1.4h0M28.5 12.9h0M31.5 4.3h0M11.1 15.8h0M16.6 32.4h0" stroke="#2e9893"/>
<path d="M24.1 31.4h0M29.8 19.3h0M32.7 1.9h0M1.2 -0.8h0M37.2 35.2h0M0.4 0.3h0M36.4 0.3h0M25.6 29.1h0M14.1 28.8h0M3.7 4h0M30.6 17.4h0" stroke="#3f6d94"/>
</g></pattern>
<pattern id="v7" patternUnits="userSpaceOnUse" width="36" height="36">
<rect width="36" height="36" fill="#71b070"/>
<g fill="none" stroke-width="3" stroke-linecap="round">
<path d="M31.5 18.4h0M36.5 14.4h0M15.6 4.5h0M25.3 28.8h0M-0.2 23.6h0M15.8 23.6h0" stroke="#495690"/>
<path d="M10.5 10.7h0M31.5 21h0M10.5 20.7h0M21.2 33.6h0M23.5 8.7h0M12.5 31.5h0M26.8 -1h0M14.3 2.8h0M12.4 37.4h0M30.7 10.5h0" stroke="#368295"/>
<path d="M11.3 6.7h0M17.8 14h0M6.6 33.1h0M3.8 9.9h0M13.4 8.6h0M8.3 2.4h0M37.4 28.6h0M32.8 18.1h0M2.7 1.5h0M24.7 0h0M22.4 14.2h0M17.1 4.3h0M26.7 11.2h0" stroke="#aadc42"/>
<path d="M21.2 33.2h0M28 30.3h0M22 20.4h0M3.7 -0.8h0M25.9 16.4h0M5.7 13.3h0M0.5 29.9h0M1.4 7h0M21.9 4.2h0M34.8 11.9h0M17.1 26.4h0" stroke="#2e9893"/>
<path d="M17.4 11.1h0M21.4 25.5h0M15.4 2.9h0M19.4 12.2h0M32.9 15.3h0M31.6 9.2h0M4.9 29.4h0M15 31.6h0M24.8 11.3h0M8.1 21.1h0M16 21h0M1.1 20.9h0M20.8 6.6h0M4.5 11.8h0M24.4 11.8h0M30.7 10h0M0.1 11.8h0M17.9 22.1h0M15.5 10.2h0M23.2 6.6h0M12.8 20.3h0M14 12.3h0M15.9 23.7h0M28.8 24.2h0M-1 30.1h0" stroke="#e2e533"/>
<path d="M26.2 10.8h0M33.7 -1.4h0M12.9 21.7h0M20.4 2.5h0M12.6 21.9h0M29.8 -1.4h0M28.4 30.1h0M28.1 8h0M37.4 33.2h0M14 20.3h0M13.5 17.2h0M20.9 29h0M0.2 22.4h0M3 24.1h0M-0.3 18.7h0M13.1 20.2h0M24.9 13.2h0M5.8 33.2h0M0.8 29.9h0M20.8 28.4h0" stroke="#2fab8c"/>
<path d="M31.1 33h0M23.2 0.5h0M2 16.4h0M10.6 33.4h0" stroke="#513c83"/>
<path d="M8.8 15.2h0M14.2 8.2h0M5.1 7.9h0M10.8 11.8h0M5.4 11.5h0M8.1 29.6h0M-0.8 25.9h0M1.9 11.3h0M22.8 35.6h0M0 14.2h0M5.9 17.7h0M28.5 9.3h0M-0.1 26.6h0M26.5 16.2h0M8.8 33.8h0M10.8 6.2h0" stroke="#74cf63"/>
<path d="M8.4 20.4h0M17.7 18.2h0M35.4 12.9h0M30.2 15.8h0" stroke="#511f6c"/>
<path d="M32.6 28.7h0M-0.9 24.3h0M5.3 10.9h0M1.7 36.3h0M36 26.4h0M32.6 15h0M10.5 29.1h0M8.8 36.7h0M10 3.6h0M33.2 3.8h0M30.1 26h0M29.7 16.3h0" stroke="#3f6d94"/>
<path d="M35 23.7h0M13.4 2.8h0M14.4 11h0M25.2 8.7h0M29.9 -1.1h0M4.3 35.6h0M34.5 1.6h0M15 18.3h0M12.1 29.5h0M1.8 6.7h0M9.7 30.1h0M28.9 36.2h0M30.3 24.7h0M4.2 17.4h0M-1.3 0.5h0M34.7 36.5h0M17.7 5.3h0M2 12.3h0M14.4 28.4h0M32.3 36.3h0" stroke="#49bf7c"/>
<path d="M0.5 14.4h0M16.1 27.6h0M29.2 8.1h0M35.8 23.6h0M30.6 22.5h0" stroke="#495690"/>
<path d="M33 33.1h0M29.2 12.8h0M7.1 32.8h0M6.1 6.5h0M14.5 3.5h0M26.8 35h0M2.2 1.5h0M12.4 1.4h0M18 26.4h0" stroke="#368295"/>
<path d="M30.8 8.5h0M2.2 25.7h0M27.6 31.7h0M16 14.8h0M5.1 2.3h0M1.4 28.6h0M12.3 18.5h0M24.1 32.9h0M24.7 36h0M28.2 16.4h0M9.9 4.8h0M2.1 26.7h0" stroke="#aadc42"/>
<path d="M5.8 17.7h0M17.9 28.7h0M3.7 35.2h0M13.5 22.2h0M26.1 11.8h0M1.9 5.8h0M36.5 29.9h0M37.4 7h0M24.1 30.1h0M-1.2 11.9h0M17.9 26.3h0" stroke="#2e9893"/>
<path d="M27.2 9h0M14.9 14.7h0M33.2 18.4h0M2.5 21.9h0M33.1 28.2h0M24.1 11h0M23.3 9.3h0M14.9 9.9h0M8.1 15.1h0M14.9 14.2h0M24 26.8h0M37.1 20.9h0M19.5 8.8h0M32.5 3.3h0M16.4 9.1h0M19.6 26.4h0M36.1 11.8h0M28 8.4h0M27.5 23.3h0M19 11.3h0M17.4 15.4h0M16 17.4h0M19.5 7.2h0M35 30.1h0M22.6 17.2h0" stroke="#e2e533"/>
<path d="M33.7 34.6h0M4.7 2.4h0M29.5 26.7h0M14.4 11.6h0M29.8 34.6h0M32.4 5.6h0M8.2 19.9h0M1.4 33.2h0M30.8 5.1h0M10.4 30.8h0M15.1 32.4h0M25.9 12.4h0M36.2 22.4h0M35.7 18.7h0M26.4 24.5h0M23 25.8h0M2.2 2.1h0M1.9 29.5h0M36.8 29.9h0" stroke="#2fab8c"/>
<path d="M15.6 30.5h0M23.2 36.5h0M11.3 6.8h0" stroke="#513c83"/>
<path d="M31.2 31.1h0M21 7.9h0M26.9 16.9h0M8.7 16h0M10.3 31.9h0M35.2 25.9h0M25 11.8h0M30.4 5.2h0M22.8 -0.4h0M36 14.2h0M18.6 4.9h0M35.9 26.6h0M17.3 19.2h0M16.9 11.2h0M26.6 14h0M33.9 4.2h0" stroke="#74cf63"/>
<path d="M24.9 22.7h0M21.9 17.7h0M-0.6 12.9h0M4.3 19.8h0" stroke="#511f6c"/>
<path d="M35.1 24.3h0M13.9 31h0M1.7 0.3h0M0 26.4h0M4.1 5.2h0M28 15.4h0M8.8 0.7h0M3.6 13.9h0M13.9 22.3h0M33.8 11.9h0M16.7 11.7h0M34.2 15.9h0" stroke="#3f6d94"/>
<path d="M-1 23.7h0M22.2 9.3h0M34.2 5.5h0M29.9 34.9h0M32.2 15.7h0M4.3 -0.4h0M6.1 25.6h0M23.7 28.6h0M9.3 13.9h0M28.9 17.5h0M28.9 0.2h0M33.7 20.1h0M27 4.8h0M34.7 0.5h0M-1.3 36.5h0M32 34.2h0M10.2 33.8h0M2.3 25.4h0M32.3 0.3h0M28.4 8.3h0" stroke="#49bf7c"/>
</g></pattern>
<pattern id="v8" patternUnits="userSpaceOnUse" width="36" height="36">
<rect width="36" height="36" fill="#82bf67"/>
<g fill="none" stroke-width="3" stroke-linecap="round">
<path d="M8.4 15.8h0M35.8 18.5h0M11.7 3.6h0M36.8 22.3h0M26.9 1.8h0M31.6 29.1h0M3.1 12.7h0M10.7 6.6h0M19.4 5.5h0M17.2 -0.3h0M20.4 29h0M3 15.6h0M20.4 -0.6h0M21.8 6.3h0M0.9 9.1h0M19.8 13.1h0M28.8 32.3h0M32.8 15.4h0" stroke="#49bf7c"/>
<path d="M35.6 14.1h0M23.3 2h0M26 35.6h0M4.3 21.4h0M17.6 9.1h0M8.2 1.1h0M28.9 10h0M30.9 22.1h0M26.4 18.7h0M24.8 7.2h0M30 10.3h0M27.4 9h0M3.3 0.1h0" stroke="#2e9893"/>
<path d="M28.3 6.6h0M6.2 20.2h0M24.9 14.8h0M16.1 0.6h0M23.8 27.7h0M19.1 8.1h0M23.7 36.9h0M10.3 12.6h0M7.4 6.8h0M20.2 28.2h0M30.7 10.2h0M22.4 29.6h0M5.6 23.5h0M32.8 27.7h0" stroke="#2fab8c"/>
<path d="M13.6 20.1h0" stroke="#495690"/>
<path d="M11.2 33.9h0M6.2 23.4h0M7.7 -1.4h0M30.4 7.7h0M29.3 36.4h0M17.5 20.5h0" stroke="#3f6d94"/>
<path d="M17.4 32.5h0M21.8 4h0M35.6 33h0M24.5 8.3h0M8.2 35.8h0M30.1 25.3h0M22.9 -0.8h0M-0.5 13.8h0M3 21.6h0M10.4 36.5h0M22.7 17.4h0M12.9 17.2h0M17.6 30.6h0" stroke="#368295"/>
<path d="M35.5 34.9h0M-0.5 34.9h0M10.6 25.9h0M2.6 25.4h0M-1.2 25.5h0M30.9 17.5h0M14.9 33.6h0M33.9 29.6h0M27.4 4.8h0M-0.4 0.1h0M35.6 36.1h0M37.3 34.5h0M28.1 31.7h0M15.2 4.8h0M35.5 31.9h0M1.8 14.3h0M31 17.1h0" stroke="#74cf63"/>
<path d="M14.9 23.3h0M0.8 16.2h0M25.9 31.4h0M25.6 32.8h0" stroke="#513c83"/>
<path d="M7.3 30.7h0M33.9 7.3h0M6.9 19.1h0M-1 21h0M29.1 35.7h0M31.6 16.1h0M18 33.5h0M9 10.3h0M5.2 11.6h0M34.4 17.2h0M29.4 -0.2h0M13.7 20.8h0M35.8 33.3h0M11.9 6h0M26.2 6.5h0M13.1 0.7h0M34.2 35.1h0M26.8 24.4h0M13.9 18.6h0" stroke="#aadc42"/>
<path d="M31.7 13.9h0M3.7 11.6h0M22.1 32.1h0M23.2 5.1h0M10.5 14h0M2.4 13.4h0M-0.3 13.5h0M2.7 14.5h0M11.2 28.5h0M37.3 25h0M9.4 37.4h0M4.4 19.3h0M11.5 22.5h0M17.9 10.1h0M10.9 36.8h0M-0.9 9.9h0M35.3 16.8h0M34.4 4.2h0M12.9 2h0M21.8 12.2h0M2.3 8.7h0M5.1 32.4h0M25.1 23h0M2.4 26.2h0M0.3 27h0M11.4 2.7h0M27 33.6h0M27 34.4h0M13.4 3h0M6.5 22.4h0M14.3 9.8h0M9.1 36.9h0M20.6 18.3h0M9.8 9.1h0M27.1 36.3h0M16.3 8h0M20.9 37.1h0M10.2 35.9h0M18.5 25.9h0M33.8 21.4h0" stroke="#e2e533"/>
<path d="M33.1 11.4h0M-0.2 18.5h0M0.8 22.3h0M5.8 23.9h0M29.5 8h0M26.5 22.5h0M11.4 26.5h0M5.9 28.2h0M17.2 35.7h0M5.6 26.2h0M29.6 11.1h0M20.4 35.4h0M32.3 23.5h0M26.8 32.5h0M36.9 9.1h0M28.2 22.3h0M20.2 26.6h0M31.2 4.2h0" stroke="#49bf7c"/>
<path d="M-0.4 14.1h0M26 29.3h0M26 -0.4h0M19.8 6.2h0M5.2 17.6h0M8.2 37.1h0M21 11.8h0M29.7 25.4h0M8.3 3.6h0M29.3 23.2h0M6.4 6.2h0M5.7 3.7h0M3.3 36.1h0" stroke="#2e9893"/>
<path d="M21.5 19.9h0M34.2 22.5h0M32.6 12.7h0M16.1 36.6h0M9.3 9.5h0M23.7 0.9h0M29.8 26.2h0M34 25.1h0M11.5 16.6h0M27.5 30.3h0M31 16.6h0M14.5 2h0M1.8 14.2h0M15.9 29.2h0" stroke="#2fab8c"/>
<path d="M8.4 4.1h0M7.7 34.6h0M18.9 20.5h0M29.3 0.4h0M20.8 17.4h0" stroke="#3f6d94"/>
<path d="M26.3 17.5h0M26.3 4h0M-0.4 33h0M12 24.5h0M8.2 -0.2h0M22.9 35.2h0M35.5 13.8h0M26.9 12h0M10.4 0.5h0M33 23.8h0M15 13.6h0M2.3 11.4h0" stroke="#368295"/>
<path d="M-0.5 -1.1h0M35.5 -1.1h0M17.2 22.9h0M34.8 25.5h0M5.1 4.6h0M16.3 28.9h0M33.1 14.9h0M29.5 24.2h0M35.6 0.1h0M-0.4 36.1h0M1.3 34.5h0M25.8 8.8h0M34.5 1.8h0M22.6 2.7h0M-0.5 31.9h0M25.1 10.4h0" stroke="#74cf63"/>
<path d="M15.3 23.7h0M36.8 16.2h0M32.3 23.9h0" stroke="#513c83"/>
<path d="M6.9 6.8h0M14.6 34.1h0M35 21h0M2.5 7.8h0M29.1 -0.3h0M27.2 15.6h0M4.7 24.5h0M6.3 24.3h0M11.8 9.6h0M29.4 35.8h0M28.5 8.3h0M18.9 29.7h0M-0.2 33.3h0M10.9 29.4h0M2.5 1.6h0M13.1 36.7h0M34.2 -0.9h0M7.4 26.3h0M23.8 25h0" stroke="#aadc42"/>
<path d="M10 7.1h0M28.4 30.7h0M4.9 9.1h0M26.6 16.1h0M18 3.8h0M35.7 13.5h0M25.6 6.9h0M32.1 13.7h0M1.3 25h0M9.4 1.4h0M27.9 4.6h0M4.4 18h0M18.6 20.5h0M10.9 0.8h0M35.1 9.9h0M11.5 12.6h0M-0.7 16.8h0M22 30.5h0M1.8 10.7h0M11.3 32h0M3.3 25.5h0M7.4 31.8h0M5.9 27h0M22.1 8.9h0M36.3 27h0M22.1 27.8h0M2.5 21h0M34.1 29.1h0M34.1 13.1h0M17.2 21.4h0M9.1 0.9h0M31 7.2h0M7.8 30.8h0M27.1 0.3h0M16.8 6.3h0M20.9 1.1h0M28.2 11.3h0M10.2 -0.1h0M5.7 27.6h0M18.3 20.4h0" stroke="#e2e533"/>
</g></pattern>
<pattern id="v9" patternUnits="userSpaceOnUse" width="36" height="36">
<rect width="36" height="36" fill="#9ed455"/>
<g fill="none" stroke-width="3" stroke-linecap="round">
<path d="M28.4 16.2h0M27.2 13h0M34 26.8h0M21.6 19h0M10.7 0.1h0M29.3 10.3h0M29 4.6h0M33 6.4h0M8.7 28.5h0M20.2 28.7h0M12.4 18.8h0M3.5 -0.2h0M29.1 10h0M8 5.3h0M21.6 32.6h0M5.5 28.6h0M4 5.4h0" stroke="#49bf7c"/>
<path d="M3.5 6.3h0M14.3 30.5h0M36.9 20h0M25.8 11.3h0M29 6.3h0M3 -0.2h0M1.6 16.8h0M10.8 2h0M8.4 13.8h0" stroke="#2fab8c"/>
<path d="M11.8 18.7h0" stroke="#368295"/>
<path d="M18.1 34.4h0M18.6 2.4h0M4.9 26.1h0M14.3 14h0M17.4 -0.6h0M30.8 15h0M20.8 30.7h0M2.5 2.8h0M4.1 -0.7h0M31.6 0.7h0M5.1 15.1h0M2 11.3h0M23.2 32.8h0M12.6 18.5h0M0.6 -0.9h0M36.6 35.1h0M1.4 30.4h0M15.1 32.7h0M34.9 2.5h0M21 4.9h0M10.2 6.2h0M34.5 7.7h0M28.4 3.1h0M30 1.1h0M22.4 30.6h0M14.6 15.7h0M37.2 14.5h0M11.8 20.1h0M12.2 33.3h0M15.7 31.8h0M20 35.6h0M19.7 30h0M5.2 25.8h0M11.4 4.8h0M17.8 4h0M15 28.2h0M27 35.5h0M23.3 28.4h0M27.2 10.6h0M33.1 14.9h0M2.3 32.9h0M30.5 32.7h0M37.4 8h0M16.5 4.6h0M1.8 16.2h0M10.7 12.6h0M21.1 25.1h0M-1.1 14.9h0M9.3 7.8h0M3.5 20.3h0M6.9 0.7h0M6.4 19.7h0M21.9 22.1h0" stroke="#e2e533"/>
<path d="M15.3 5.5h0M28.7 25.4h0M28.8 30.2h0M13 8.8h0M21.2 18.6h0M35.7 36h0M-0.3 36h0M13.8 9.9h0M21 20.4h0M7.2 13.6h0M28.1 14.2h0M7.3 28.6h0M32.2 13.6h0M33.1 11.8h0M0.5 23.1h0M16 5.1h0M2.6 5.4h0M-0.6 9.1h0M34.4 1.6h0M6.9 30.9h0M8.4 23.9h0M10 18.1h0M13.9 23.4h0M29 15.1h0M27.2 17.1h0M-1.2 14.6h0M20.6 36.4h0M21.7 22h0" stroke="#aadc42"/>
<path d="M31.1 32.5h0M21.3 30.3h0M29.4 0.8h0M25.1 27.3h0M21.3 -0.9h0" stroke="#2e9893"/>
<path d="M19.7 3.7h0M16.8 21.1h0M29.3 25.1h0M15.4 29.9h0M37.5 26.8h0M-0.1 22.6h0M13.7 4.3h0M25.3 25.2h0M27.5 20.3h0M22.9 19.2h0M0.4 3.2h0M15.1 6.9h0M14.8 9.9h0M8 20h0M2.8 -0.3h0M13.4 21.6h0M-0.7 12.8h0M-0.8 9h0M-1 25.6h0M3 8.9h0M17.2 33.7h0M4.9 1.4h0M25.1 12.8h0M23.2 0.7h0M33.6 11h0M37.5 31h0M0.4 15.9h0M34.5 7.6h0M37.1 20.9h0" stroke="#74cf63"/>
<path d="M23.4 28.7h0M17.8 24.1h0M19.4 24.9h0M18 33h0M10.7 36.1h0M32.7 15.9h0M15.8 23.4h0M33.6 20.9h0M2.4 3h0M34.5 4.5h0M3.5 35.8h0M18.4 31.5h0M9.6 5.8h0M20.1 24.9h0M7.4 11.1h0M10.4 32.2h0M13.4 15.3h0" stroke="#49bf7c"/>
<path d="M23.4 8.3h0M0.9 20h0M21.7 27h0M28.4 28.2h0M3 35.8h0M10 34.4h0M6.3 28.8h0M33.4 20h0M17.4 30.8h0" stroke="#2fab8c"/>
<path d="M31.8 19.7h0M26.2 22.4h0M24 16h0M17.4 35.4h0M28.2 18.9h0M9.4 27.7h0M5.5 26.1h0M4.1 35.3h0M22.4 29.2h0M31.6 36.7h0M9.2 32.7h0M34.2 23.1h0M28.7 1.9h0M0.6 35.1h0M36.6 -0.9h0M12.5 26h0M37.4 30.4h0M25 21.2h0M-1.1 2.5h0M24.3 9.2h0M14.2 3h0M23.5 31.6h0M16.8 29.1h0M30 37.1h0M13.6 20.1h0M1.2 14.5h0M17.9 16.9h0M31.6 13.9h0M6.1 10.6h0M3.3 1.5h0M20 -0.4h0M14.2 34.3h0M7.3 28.9h0M32.7 29.8h0M27.5 5.6h0M30.6 25.5h0M27 -0.5h0M19.8 18.1h0M12.1 6.7h0M25.4 7.9h0M23.6 8.2h0M1.4 8h0M11.1 11.1h0M28.7 18.6h0M28.1 31.1h0M7 27.1h0M34.9 14.9h0M11.2 21.7h0M15.3 23.7h0M33.8 4.4h0M6.9 36.7h0M15.9 21.9h0" stroke="#e2e533"/>
<path d="M17.2 28.1h0M31.7 22.4h0M2.8 24.1h0M22.6 21.3h0M31.7 8.8h0M-0.3 0h0M35.7 0h0M6.1 34.2h0M21 33.7h0M4.3 6h0M32.8 24.9h0M12.3 12.1h0M18.9 12.1h0M15.3 12.4h0M36.5 23.1h0M19.9 14.7h0M35.4 9.1h0M3.4 3.2h0M8.3 23.2h0M26.1 4.8h0M9.2 24h0M5 26.9h0M22.5 2.8h0M13 7.7h0M34.8 14.6h0M20.6 0.4h0M11.8 2.3h0M23.6 11.1h0" stroke="#aadc42"/>
<path d="M11.8 26.6h0M4.8 26.1h0M29.4 36.8h0M21.3 35.1h0" stroke="#2e9893"/>
<path d="M9.9 30.2h0M24.2 33.5h0M21.8 12.2h0M1.5 26.8h0M35.9 22.6h0M31.6 24.1h0M5.9 3.4h0M26.8 25.4h0M24.8 28.3h0M21.8 22.7h0M36.4 3.2h0M16.3 1.8h0M23.1 19.9h0M2.8 35.7h0M24.6 16.5h0M35.3 12.8h0M35.2 9h0M35 25.6h0M23.5 4.3h0M27.9 4.4h0M23.9 4.7h0M4.9 37.4h0M17.8 32.6h0M23.2 36.7h0M1.5 31h0M17.6 21.3h0M36.4 15.9h0M1.1 20.9h0" stroke="#74cf63"/>
</g></pattern>
<pattern id="v10" patternUnits="userSpaceOnUse" width="36" height="36">
<rect width="36" height="36" fill="#cae13f"/>
<g fill="none" stroke-width="3" stroke-linecap="round">
<path d="M17.4 9.9h0M13.1 18.3h0M-0.2 33.5h0M16.3 30.8h0M33.9 15.4h0M4.7 4.6h0M26 22.9h0M6 17.2h0M5 29.4h0M22.2 9.5h0M18 36.9h0M30.6 29.5h0M12.3 17.9h0M7.1 18.3h0M4.8 5.6h0M24.4 11.2h0M26.8 37h0M3.1 21.1h0M20.1 -0.6h0M16.8 2.9h0M32.8 30.8h0M4.6 34.8h0M35.7 16.1h0M15.4 24.6h0M22.6 0.3h0M24.4 6.8h0M22.8 18.3h0M36.2 25.3h0M-0.7 33.9h0M17 26.5h0M22.4 17h0M8.3 25.4h0M-1.2 5.9h0M26.3 29.6h0M21 14.1h0M17.8 24.2h0M23.5 13.6h0M20.9 27.3h0M35.4 32.7h0M2.8 24.9h0" stroke="#aadc42"/>
<path d="M29.6 8.9h0M37.4 29.4h0M15.3 21.2h0M32.7 -0.8h0M29.6 34.3h0M32 36.1h0M17.5 16.2h0M3.3 -0.3h0M21.8 20h0M8.5 21.1h0M2 4.9h0M0.2 2.5h0M8.9 9.8h0M29.2 22.6h0M0.6 4.9h0M26.5 1.8h0M27.5 7.3h0M32.5 14.5h0M22.7 20.9h0M36.1 11.5h0M13 17.2h0M-1.4 31.6h0M16.5 19.1h0M37.2 12.8h0M31.6 37.4h0M35.5 20.9h0M18.5 4.1h0M13.5 37.1h0M23.7 1.8h0M-1.4 1.8h0M34.2 2.4h0M-1.1 22.4h0M36.6 22.2h0M0.8 26.3h0M22.6 34.8h0M24.3 34.5h0M5.9 27.3h0M29.6 17.5h0M23.5 3.7h0M4.8 10.9h0M9.7 2.7h0M19.6 20.1h0M31.5 19.7h0M18.6 36.2h0M29.8 20.2h0M19 20.9h0M24.5 -0.1h0M9.3 5.4h0M12.2 0.9h0M7.1 8.5h0M15.8 33.4h0M28.9 14.4h0M37.3 16.7h0M11.2 18.4h0M19 17.8h0M32.4 6.5h0M17.7 37h0M33.9 17.3h0M31.7 35.9h0M26.7 27.9h0M30 10.7h0M8.5 30.3h0M33.2 -0.2h0M5.2 21.6h0M32.6 24.3h0M11.1 33.6h0M26.1 8.7h0M15.1 9.7h0M26.7 37.2h0M20.6 31h0M30.6 20.4h0M11.6 7.9h0M18.9 17h0M8.2 7.5h0M15.6 8.1h0M15.3 10.7h0M0 36.2h0M36 36.2h0M36.3 27.1h0M35.8 22.5h0M29.5 17.1h0M28.1 19.4h0M7.4 4.5h0M17.1 15.3h0M-0.3 8.4h0M35.6 32h0M28.1 31.7h0M-1.5 32.6h0M6.6 -0.9h0M34.4 33.7h0M-1.5 14.3h0M18.4 25.8h0M19.4 8.6h0M18.1 25.8h0" stroke="#e2e533"/>
<path d="M21.7 33.9h0M4.8 6.7h0M16.2 32.9h0M27.3 19.4h0M14.5 35.2h0M29.3 21.7h0M26.6 36.6h0M30 4.1h0M12 32.9h0" stroke="#74cf63"/>
<path d="M5.7 20.8h0M13.7 24.9h0" stroke="#49bf7c"/>
<path d="M15 11.4h0M35.8 33.5h0M31.8 7h0M18.1 1.6h0M17.7 6.1h0M12.1 16.5h0M6.8 6.5h0M2 6.3h0M8 18.1h0M18 0.9h0M13.5 8.4h0M3.1 16.4h0M32.5 21.1h0M9.9 11.8h0M2.9 3.4h0M26.8 1h0M6.7 33.7h0M20.1 35.4h0M19.1 3.2h0M4.3 27.6h0M7.8 16.4h0M4.6 -1.2h0M-0.3 16.1h0M3.1 33.7h0M22.6 36.3h0M15.6 30.6h0M0.2 25.3h0M35.3 33.9h0M22.3 27.5h0M30 13.9h0M20.8 16.2h0M34.8 5.9h0M7.3 31.7h0M29.7 7.1h0M17.8 10.9h0M15.5 27.1h0M20.7 30.8h0M24.2 11.2h0M-0.6 32.7h0" stroke="#aadc42"/>
<path d="M1.4 29.4h0M22.8 19h0M32.7 35.2h0M17.8 11.9h0M32 0.1h0M16.7 7.3h0M3.3 35.7h0M4 34.2h0M25.2 10.6h0M2.6 1.6h0M4.3 12h0M36.2 2.5h0M33 33.4h0M7.4 14.1h0M36.6 4.9h0M27.8 32.5h0M18.1 22.6h0M22 34.4h0M0.1 11.5h0M18.7 31.2h0M34.6 31.6h0M30.3 14.5h0M1.2 12.8h0M31.6 1.4h0M32.4 27.5h0M-0.5 20.9h0M13.5 1.1h0M7.8 31.4h0M34.6 1.8h0M14.5 13.7h0M34.9 22.4h0M0.6 22.2h0M4.8 15.8h0M36.8 26.3h0M22.6 -1.2h0M7.5 4.1h0M9.2 32h0M30.6 25.4h0M8.6 18.3h0M30.4 15.4h0M33.3 14.2h0M13 22.1h0M18.6 0.2h0M25.7 18h0M25.4 17.6h0M24.5 35.9h0M21.5 17.2h0M31.4 20.8h0M12.2 36.9h0M5.4 11.7h0M1.5 22.2h0M1.3 16.7h0M2.6 9.8h0M34.2 30.4h0M33.9 26.9h0M17.7 1h0M21.7 18.5h0M5.1 13.2h0M31.7 -0.1h0M22.8 7.4h0M28.7 9h0M33.2 35.8h0M7.8 7.7h0M22.7 31.6h0M17.8 22.5h0M17.7 13h0M33.4 28.1h0M26.7 1.2h0M26.2 24.3h0M26.8 30.8h0M31.9 9.8h0M14.3 10.4h0M29.7 25.7h0M7.6 13.9h0M18.6 28.1h0M0 0.2h0M36 0.2h0M0.3 27.1h0M20.1 23.5h0M-0.2 22.5h0M23.2 18.2h0M24.8 22.9h0M17.8 17.8h0M35.7 8.4h0M11.6 19.1h0M-0.4 32h0M34.5 32.6h0M6.6 35.1h0M2.9 5.9h0M34.5 14.3h0M29.4 27.8h0M27.5 22.1h0M20.9 9.5h0M32.5 12.3h0" stroke="#e2e533"/>
<path d="M12.5 32.7h0M11.8 2h0M30.1 32.3h0M15.1 4.1h0M14.5 -0.8h0M26.6 0.6h0M34.4 16.3h0M4.6 4.4h0" stroke="#74cf63"/>
<path d="M14.1 8.4h0M2.8 3.5h0" stroke="#49bf7c"/>
</g></pattern>
<pattern id="v11" patternUnits="userSpaceOnUse" width="36" height="36">
<rect width="36" height="36" fill="#68957c"/>
<g fill="none" stroke-width="3" stroke-linecap="round">
<path d="M7.4 2.3h0M22.3 18.4h0M10.9 31.8h0M22.7 25h0M1.3 31.3h0M0.6 28.3h0M20.6 23.1h0M2.3 4.5h0M4.4 23.9h0M15.1 23.9h0M3.6 27.9h0M25.2 30.9h0M25.7 37h0" stroke="#e2e533"/>
<path d="M15 13.8h0M20.5 14.7h0M16.4 21h0M21.1 31.4h0M33.9 4.8h0M20.8 20.2h0M3.4 29.9h0M6.4 31h0M9.4 10.4h0M36.6 9.8h0M31 32h0M9.2 26.6h0M18.9 19.5h0M25.6 8.5h0M26.1 11.1h0M21.3 24h0M22.4 30.3h0M34.8 10h0M20.9 7h0M3.8 22.4h0M0.4 10.2h0M33.5 23.3h0M29.1 22.4h0M4.9 21.3h0M3.7 24.1h0M2.8 26.1h0M15.9 11.9h0M36.8 22.9h0M22.7 19.9h0M12.3 32.7h0M23.3 1.6h0M13 35.3h0M28.2 19.7h0M29.2 0.9h0M15.5 28.9h0M25.7 27.6h0M-0.1 26h0M15.7 21.1h0M14.4 10.1h0M19.4 10.8h0M33.1 0.6h0M32.5 35.9h0M15.5 29.7h0M24.3 0.2h0M15 2.3h0M34.2 2.9h0M32.8 17.5h0M20.3 35.9h0M13.5 27h0M16.5 7.1h0M7.1 17.7h0M37.2 7.4h0M10.1 7h0M32.2 36.3h0M14.3 36.4h0M17.6 7.2h0M9.1 34.1h0M12.2 16.3h0M31.6 23.9h0M9.3 17.9h0M2.7 25.4h0M17.8 11.2h0M26.4 1.6h0M3.8 -1.1h0" stroke="#3f6d94"/>
<path d="M11.3 27.4h0M32.5 22.7h0M32.8 13.1h0M12.5 23.9h0" stroke="#49bf7c"/>
<path d="M13.2 7.3h0M5.2 20.8h0M9 29h0M0.2 0.3h0M36.2 0.3h0M22.2 35.9h0M25.7 28.3h0M10.1 3.4h0M36.1 12.2h0M26.3 1.2h0M3.8 35.2h0M27.6 18.9h0M-1.2 22.3h0M18 27.4h0M6.5 8.2h0M-0.2 29.9h0" stroke="#74cf63"/>
<path d="M27 1.1h0" stroke="#2e9893"/>
<path d="M6.1 7h0M1.7 13h0M31.9 14.6h0" stroke="#368295"/>
<path d="M3.9 24.6h0M-1.3 11.6h0M8.4 3.4h0M22.5 11.4h0M9.6 36.8h0M-0.3 13.8h0M4.8 11.3h0M20.4 29h0M22 28.6h0M36.5 29.1h0M20.7 21.9h0M5.3 11.2h0M22.2 20.7h0M0.8 34.1h0M29.8 1.1h0M6.6 10.2h0M-0.4 21.4h0M2 18.4h0M20.4 27h0M12.2 27.5h0" stroke="#495690"/>
<path d="M17.8 14.3h0M22.6 34.1h0M5.6 27.7h0M27.7 16.9h0M16.8 6.9h0M5.5 17.4h0M10.6 37.5h0M17.3 1.2h0M1.7 2.3h0M27.7 30.2h0M4.6 3.5h0M20.4 25.4h0M36.1 12.8h0M12.1 33.1h0M29.7 -1.2h0M4.5 3.6h0M23.4 26.5h0M17.2 33.2h0M20 -1.3h0M31.8 7.7h0" stroke="#aadc42"/>
<path d="M28.1 16h0" stroke="#2fab8c"/>
<path d="M32.8 20.7h0M21.5 22.1h0M14.5 30.4h0M19.4 12.6h0M37.3 31.3h0M36.6 28.3h0M22 20.2h0M20.5 17.7h0M2.3 30.3h0M30.6 29.1h0M11.3 5h0M25.7 1h0M21 25.7h0" stroke="#e2e533"/>
<path d="M7.9 25.8h0M8.6 34.2h0M13.1 31.5h0M27.4 17.3h0M14.9 28.1h0M14.8 9.7h0M7 17.4h0M27 20.7h0M0.6 9.8h0M16.2 26.9h0M15.7 33.7h0M16.9 15.5h0M2.5 2.7h0M7.5 25.6h0M21.9 7.7h0M25.1 28.3h0M18.6 5.9h0M-1.2 10h0M22.5 18.5h0M10.9 15.5h0M36.4 10.2h0M8.8 30.5h0M3 26.8h0M11.3 2h0M20.4 23.8h0M4.5 19.2h0M0.8 22.9h0M10.8 12.8h0M13.3 25.3h0M13.1 15.8h0M6.2 6h0M13 -0.7h0M32.5 13.4h0M29.2 36.9h0M12.3 12.7h0M35.9 26h0M23.3 18.1h0M3.6 16.2h0M29.8 12.5h0M7.5 2.5h0M33.1 36.6h0M32.5 -0.1h0M5.8 33.8h0M24.3 36.2h0M21.7 2.3h0M18.2 4.7h0M6.7 13.4h0M20.3 -0.1h0M3.4 28h0M1.7 2.5h0M1.2 7.4h0M27.4 20.4h0M32.2 0.3h0M14.3 0.4h0M21.2 19.2h0M26.2 10.7h0M1.8 2.2h0M16.5 32.4h0M32 25.5h0M25.7 29.1h0M7.3 8h0M25 21.6h0M3.8 34.9h0" stroke="#3f6d94"/>
<path d="M14.4 7.6h0M18.3 33h0M18.1 12.5h0M18.1 6.9h0" stroke="#49bf7c"/>
<path d="M17.2 34.2h0M12.2 19.8h0M11 10.8h0M0.2 36.3h0M36.2 36.3h0M22.2 -0.1h0M18.9 19.6h0M0.1 12.2h0M6.4 13.9h0M26.3 37.2h0M3.8 -0.8h0M34.8 22.3h0M14.7 24.9h0M26.7 11.3h0M35.8 29.9h0" stroke="#74cf63"/>
<path d="M27 37.1h0" stroke="#2e9893"/>
<path d="M4.6 33.8h0M1.7 23.7h0M4.3 22.2h0" stroke="#368295"/>
<path d="M34.7 11.6h0M4.1 31.6h0M24.3 33h0M9.6 0.8h0M35.7 13.8h0M16.5 9.4h0M22.5 20.4h0M16.9 9.7h0M0.5 29.1h0M31 7.9h0M27.8 17h0M24.8 23.6h0M20.4 4.2h0M36.8 34.1h0M29.8 37.1h0M35.6 21.4h0M33 26.4h0M33.8 23.1h0M17.2 4.5h0" stroke="#495690"/>
<path d="M3.6 16.6h0M24.9 26.6h0M27.5 14h0M10.4 27.1h0M32.1 23.9h0M10.6 1.5h0M11.1 3.8h0M17.3 37.2h0M11.1 17h0M9.8 23.8h0M29.4 8.4h0M0.1 12.8h0M26.2 13.6h0M29.7 34.8h0M25.6 27.8h0M7.9 8.7h0M13.7 3h0M20 34.7h0M8.2 10.7h0M31.6 33.8h0" stroke="#aadc42"/>
</g></pattern>
<pattern id="v12" patternUnits="userSpaceOnUse" width="36" height="36">
<rect width="36" height="36" fill="#71a075"/>
<g fill="none" stroke-width="3" stroke-linecap="round">
<path d="M20.3 15.9h0M34.1 2.3h0M-0.6 10.8h0M-1 11.1h0M-1 17h0M28 8.4h0M-0.7 19.1h0M28 7.1h0M26.4 14.5h0M8.1 -1.1h0M3.8 0.6h0M4.6 23.6h0M36.9 4.2h0M11.7 5.3h0M31.7 26.3h0M27.8 11.5h0" stroke="#74cf63"/>
<path d="M25.2 32.5h0M2.3 24.4h0M20.7 31.5h0M2.6 11.6h0M-1 12.7h0M4.7 29.8h0M15.9 14.9h0M4.7 18.1h0M34.3 33.3h0M2.6 1h0M27.8 26.1h0M14.9 5.6h0M29.9 -0.8h0M19.9 17h0M27.6 34.4h0M31.9 29.2h0M31 37.5h0M35.6 4.4h0M6.7 16.6h0M16.3 30.2h0M34.9 35.3h0M-1.1 35.3h0M26.3 11.2h0M27.3 32.1h0M26.9 0.3h0M19.1 33.1h0M15.2 11.8h0M6.4 8.5h0M22.6 28.2h0M29.9 -0.8h0M16.4 11.4h0M32.9 8.2h0M16 34.7h0M32.3 31.1h0M34.3 16.9h0M34.4 6.6h0M32.6 10.2h0M16.1 23.6h0M33.9 3.3h0M25.3 15.3h0M17.7 30.5h0M21.1 -0.9h0M21.3 23h0M4.9 17.4h0M23.3 11.1h0M36.2 5.2h0M32.8 19.7h0M14.8 9.2h0M23.2 20.8h0M-0.5 0.6h0M35.5 36.6h0" stroke="#3f6d94"/>
<path d="M2.3 8.8h0M30.6 11.3h0M12.7 20.1h0M3 12h0M33.2 22.2h0" stroke="#2fab8c"/>
<path d="M29.6 23.4h0M23.3 9.9h0M13.6 8h0M26.3 35.6h0M13.1 12.3h0M16.3 25h0M11.4 32.9h0M19 28.1h0M22 15h0M26.9 34.4h0M3.1 9h0M23.2 3.3h0M32.4 32h0M7.7 -0.3h0M7.8 16.9h0M35.1 35.3h0M-0.9 35.3h0M21.3 25.6h0M7.5 14.9h0" stroke="#aadc42"/>
<path d="M5.9 8h0M10.5 30.4h0M11 8.3h0M20.5 -0.6h0M7.8 8.6h0M23.5 26.6h0M19.8 36.8h0M27 33.5h0M6 0.9h0M30.7 32.4h0" stroke="#49bf7c"/>
<path d="M12.4 21.9h0M22.4 20.9h0M27.6 27h0M21.8 26.9h0M6.9 28.9h0M31.4 36.4h0M11.7 11.8h0M3.3 18.2h0M35 23.5h0M31.5 22.6h0M20.1 21.2h0M22.7 27.4h0M8.5 9.5h0M36.3 31.6h0M0.4 15.1h0M23 4.7h0M28.3 25.8h0M30.6 34.9h0M35.3 33.4h0M2.9 34.7h0M21.6 27.1h0M4.2 4h0M0.3 26.2h0" stroke="#e2e533"/>
<path d="M26.2 16.9h0M5.9 2.5h0M20.4 21.9h0M31.1 33.9h0M15.4 32.6h0M12.3 37.1h0M-1.4 29.7h0M9 33.8h0M18.8 31.8h0M21.8 34.2h0M-1.1 24h0M5.6 23.1h0M8.1 28.7h0M10.3 21h0M34.1 15.5h0M15.1 23.2h0M32.9 16h0" stroke="#495690"/>
<path d="M2.7 35.8h0M24 4h0M36.2 18.3h0M15.3 -0.6h0" stroke="#368295"/>
<path d="M33.5 29.4h0M35.4 10.8h0M35 11.1h0M35 17h0M28.3 14.4h0M35.3 19.1h0M27.7 11.2h0M23.5 3.9h0M8.1 34.9h0M15.3 12.4h0M3.8 36.6h0M0.9 4.2h0M21.7 26.7h0M24.9 23.2h0M21.3 21.2h0" stroke="#74cf63"/>
<path d="M8.2 21.7h0M18.8 6.1h0M2.5 18.6h0M35 12.7h0M9.9 33.9h0M8.8 22.6h0M33.7 26.6h0M25.4 16.8h0M27.5 21.2h0M2.6 37h0M17.4 33.5h0M29.9 35.2h0M22.4 31.9h0M4.6 27.3h0M5.3 25h0M31 1.5h0M31.4 14.6h0M-0.4 4.4h0M31.2 25.4h0M19.3 15.7h0M-1.1 -0.7h0M34.9 -0.7h0M24.2 21.5h0M6.9 16.7h0M26.9 36.3h0M6.4 24.3h0M4.1 15.3h0M16.3 19.7h0M29.9 35.2h0M27.7 6.1h0M22.6 9.9h0M23.8 27.1h0M16 -1.3h0M28.2 18.7h0M8.7 9h0M32.8 13.9h0M6.9 14.8h0M25.9 29.7h0M19.8 4.2h0M5.6 5.1h0M21.1 35.1h0M9.6 13.9h0M25.9 27h0M13.6 21.6h0M0.2 5.2h0M33.1 28.2h0M13.2 17.2h0M13.2 3.8h0M35.5 0.6h0M-0.5 36.6h0" stroke="#3f6d94"/>
<path d="M33.3 15.9h0M25.1 12.1h0M24.2 17.6h0M31.7 28.1h0" stroke="#2fab8c"/>
<path d="M11.7 13.2h0M5.5 7.5h0M20.1 28.4h0M26.3 -0.4h0M22.2 14.3h0M11.7 27h0M6.1 16.9h0M1.9 20.4h0M32 16.2h0M2.4 31.6h0M21.8 12.1h0M2.3 1.8h0M7.7 35.7h0M18.5 13.6h0M18.1 18.1h0M-0.9 -0.7h0M35.1 -0.7h0M13.8 22.8h0M6.7 32.9h0" stroke="#aadc42"/>
<path d="M13.4 14.1h0M30 2.9h0M20.5 35.4h0M5.5 23.4h0M18.2 10.5h0M19.8 0.8h0M5.8 21h0M15.2 28.5h0M6 36.9h0" stroke="#49bf7c"/>
<path d="M33.9 7.8h0M17.5 18.5h0M11.5 31.4h0M6.8 21.1h0M31.4 0.4h0M32.7 30.2h0M12.4 31.3h0M11.9 33.2h0M-1 23.5h0M25 31.5h0M27.9 26.5h0M22 26.9h0M0.3 31.6h0M24.4 23.2h0M36.4 15.1h0M24.9 28.9h0M15.1 31.4h0M30.6 -1.1h0M-0.7 33.4h0M2.9 -1.3h0M16.8 21.3h0M10.7 16.9h0M36.3 26.2h0" stroke="#e2e533"/>
<path d="M20.9 32.8h0M18.2 24.1h0M28.4 14.8h0M32.1 31.4h0M12.3 1.1h0M34.6 29.7h0M27 18.3h0M3.4 23.5h0M21.7 22.3h0M34.9 24h0M18.5 32.5h0M15.1 8.4h0M8.4 29.4h0M20 27.6h0M17.9 5.7h0M16.9 9h0M4.8 22.8h0" stroke="#495690"/>
<path d="M2.7 -0.2h0M0.2 18.3h0M15.3 35.4h0" stroke="#368295"/>
</g></pattern>
<g id="U_fill"><path stroke="none" d="M-122.4 18L-120.4 20L-120.9 22.1L-123.4 23.8L-124 26.3L-127.2 28L-131.4 29L-135.9 29.6L-140.5 29L-144.5 28.4L-148.7 28.3L-152 27L-155.5 26L-158 24.5L-159.3 22.6L-161.7 20.9L-163.3 19L-165.1 16.8L-163.9 14.7L-162 12.7L-158.8 11.2L-156 9.6L-152.5 8.5L-148.7 7.7L-144.9 6.5L-140.4 6.4L-136 6.6L-131.6 7.1L-127.8 8.3L-124.8 10L-123.2 12.1L-123.2 14.3L-121.5 16ZM-106.9 11.5L-107.4 15.7L-109.6 18.8L-111.3 21.5L-112.9 24.5L-114.7 27.4L-117.3 28.3L-119.9 27.7L-122.4 27.1L-124.5 24.9L-126.3 22.5L-128.6 20.7L-129.4 17L-130.7 13.5L-130.7 9.5L-129.7 5.8L-128.8 2.2L-126.6 -0.1L-125.1 -3.6L-122.5 -4.6L-120 -5.2L-117.5 -4.1L-115.1 -3L-112.7 -1.8L-111.2 1.3L-110.1 4.6L-107.6 7.3Z"/><path fill="none" stroke-width="2.2" stroke-linecap="round" d="M-135.2 30.5h0M-110.7 29.2h0M-136.5 28.8h0M-149 30.3h0M-123.1 23.8h0M-161 28.1h0M-112.4 14.1h0M-130.9 29.8h0M-123.4 12.1h0M-143.6 2.3h0M-129.6 35.1h0M-164.4 24.1h0M-118.4 20.8h0M-142.8 32.5h0M-162.1 10.8h0M-115.7 23.9h0M-170.2 12.4h0M-120.6 12h0M-118.5 19.2h0M-131.6 27.9h0M-166.8 11.8h0M-112.5 16.2h0M-149.6 7.5h0M-116.6 19.4h0M-154.3 -2h0M-163.9 19.2h0M-157.4 35.2h0M-144 2.9h0M-143.5 5.8h0M-160.6 30.7h0M-106 5.2h0M-124.7 8.2h0M-160.8 8.3h0M-119.8 24h0M-117.4 17.5h0M-144 4.9h0M-168.1 23.2h0M-116.4 20.4h0M-164.7 19.4h0M-170 5.5h0M-142.4 29.9h0M-133.2 31.6h0M-115.8 9.3h0M-153.3 29.1h0M-133.5 29.9h0M-118.5 7.2h0M-163.4 11.7h0M-128.1 7h0M-147.3 6.5h0M-164.8 21.7h0M-135.8 30.4h0M-151.7 29.7h0M-119 16.7h0M-126.1 10h0M-147.9 6.1h0M-112.3 19.7h0M-163.9 21.2h0M-125.9 27.5h0M-159.7 8.4h0M-128.4 0.6h0M-151.4 6.7h0M-119.6 18.7h0M-146.5 7.2h0M-150 5.7h0M-162.8 8.7h0M-119.2 10.5h0M-118.6 12.8h0M-165.1 6.1h0M-161.4 27.7h0M-115.7 13.3h0M-155 8.6h0M-160.6 6.2h0M-127.7 47.4h0M-164.1 15.3h0M-154.5 31.6h0M-119.8 24.2h0M-163.1 14.4h0M-133.7 7.9h0M-133.6 5.7h0M-123.2 29.1h0M-166.9 16.7h0M-115.4 13.3h0M-120.1 14.4h0M-148.4 31.2h0M-157.6 8.4h0M-151.6 30.3h0M-125 5.9h0M-111.5 15h0M-165.8 12h0M-159.6 11h0M-113.5 15.2h0M-166.1 12.9h0M-151.1 5.7h0M-116.8 14.5h0M-144.6 30.5h0M-128.3 2.9h0M-131.2 14.1h0M-106.9 2.1h0M-117.2 -5.3h0M-124.1 -5.7h0M-127.8 27.9h0M-109.9 25.3h0M-119.4 31.5h0M-127.3 23.4h0M-130.9 8.3h0M-128.4 -4.6h0M-112.3 -2.8h0M-120 -6.7h0M-108.7 0.3h0M-114.2 49.2h0M-110.9 0.7h0M-120.2 33.4h0M-113.8 -3h0M-129.1 21.8h0M-106.4 13.7h0M-104 6.9h0M-133.7 10.7h0M-115.2 26.6h0M-108.7 24h0M-129.9 4.1h0M-113.4 31.7h0M-104.1 0.2h0M-98.3 24.4h0M-124.8 27.1h0M-130.4 9.9h0M-122.6 -4.3h0M-114.7 26.4h0M-114.8 30.2h0M-133.4 9.8h0M-124.6 -15.8h0M-128.3 -2.8h0M-106.9 9.5h0M-119.9 28.8h0M-113.4 -9.1h0M-107.2 -2.3h0M-117.9 -10.4h0M-121.4 -6.6h0M-106.3 12.8h0M-126.7 -1.6h0M-127.6 -9.9h0M-126.4 -5.1h0M-108 11.5h0M-122.7 -4.7h0M-127.4 0.7h0M-119.8 29.9h0M-127.3 23.4h0M-119.4 40.1h0M-107.9 7.9h0M-108.2 11h0M-128.9 1.4h0M-104.6 17.9h0M-112.9 28.6h0M-129.4 -1.2h0M-130.8 8.6h0M-127.6 25.5h0M-122.1 31h0M-122.4 27h0M-112.9 25.8h0M-127.9 22.1h0M-106 10.1h0M-102.9 23.7h0M-107.5 8.5h0M-131.6 8.8h0M-106 8.8h0M-129.4 0h0M-115.7 29.7h0M-133.2 7.8h0M-130.9 16.5h0M-129.1 3.1h0M-99.7 11.1h0M-120.7 -10.3h0M-116.3 -9.2h0M-126.9 25.4h0M-130.7 0.4h0M-119.1 -4.8h0"/></g>
<g id="U_Th0b"><path stroke="none" d="M-101.9 30.7L-100.7 35.4L-100.3 39.8L-99.6 44.1L-99.5 48L-99.1 52.2L-98.9 56.4L-99.9 58.6L-102.4 57.3L-104 57L-105.1 58.6L-106.7 58.1L-108.3 58.3L-110.2 56L-112.1 54.5L-114.1 51.4L-116.2 49.1L-117.9 44.9L-119.9 41.1L-121.9 36.8L-122.6 32.1L-124 27.4L-125 22.6L-125.6 17.9L-124.9 15L-124 12.5L-122.5 11.7L-122 8.9L-119.8 10.2L-118.5 9.6L-117.3 8.4L-115.4 9.6L-113.6 10.9L-111.7 14.2L-109.7 15.7L-107.9 19.6L-105.8 22.5L-103.5 26Z"/><path fill="none" stroke-width="2.2" stroke-linecap="round" d="M-91.9 51.4h0M-121.3 8h0M-111.3 58.6h0M-112 56.5h0M-104.1 4.1h0M-108.1 16.9h0M-107.7 63.4h0M-106.6 20.4h0M-111.9 60h0M-114.4 53.6h0M-118.4 0.3h0M-114.4 5.7h0M-110.2 6.6h0M-98.8 34.9h0M-104.2 24.9h0M-118.2 -2.4h0M-98.7 45.8h0M-128.6 -15.9h0M-98 55.7h0M-124.5 13h0M-126.1 32.6h0M-114.9 58.5h0M-121.2 37.8h0M-123.4 3.2h0M-115.2 6.3h0M-113 5.6h0M-102.3 20h0M-122.8 32.5h0M-117 52.2h0M-123.2 -0.9h0M-100.7 60.3h0M-103.3 75.5h0M-99 49.9h0M-119.9 1h0M-127.7 19.4h0M-100.6 37.1h0M-101.8 63.3h0M-124.7 20.5h0M-98.6 59.4h0M-107.5 61.6h0M-98.7 80.7h0M-106 8.6h0M-121.4 40.3h0M-98.1 40.5h0M-124.5 31.6h0M-103.3 68.3h0M-100.9 32.6h0M-112.4 55.9h0M-96.5 60.6h0M-108 63.3h0M-131.9 3.7h0M-103.2 66.3h0M-99.7 30.3h0M-113.5 6.9h0M-122.4 6.6h0M-122.4 41.6h0M-112.5 9.8h0M-117.9 5.6h0M-114.9 8.2h0M-125.5 28.3h0M-106.4 68.7h0M-95.7 46.9h0M-111.5 57.2h0M-92.2 56.4h0M-114.9 6h0M-101.9 33h0M-125.3 24.7h0M-100.7 32.5h0M-125.8 16.1h0M-112.8 55.2h0M-114.4 56.1h0M-104.2 60.3h0M-104.8 19.9h0M-121.6 7.4h0M-99 53.8h0M-124.1 9.3h0M-114.5 4.7h0M-99.3 46.1h0M-115.3 52.1h0M-106.3 13.5h0M-119 7.1h0M-113.5 53.5h0M-114.6 51.4h0M-102.4 27h0M-99.2 34.1h0M-109.9 61.3h0M-122.7 35.1h0M-115.5 3.7h0M-108 10.5h0M-110.7 61.7h0M-101 27.3h0M-123.5 4.2h0M-130.7 7.5h0M-96.1 47.9h0M-107.7 71.3h0M-111.5 65.8h0M-82.9 76.9h0M-124.6 28.6h0M-107.8 13.5h0M-116.6 0.6h0M-100.9 85.2h0M-102.8 61.4h0M-124.3 28h0M-95.3 37.7h0M-123.9 12.6h0M-125.9 6.9h0M-117.4 2.6h0M-100 61.1h0M-125.6 23.6h0M-123.8 33.1h0M-124.8 13.7h0M-126.8 5.2h0"/></g>
<g id="U_Th2L"><path stroke="none" d="M-135.3 52.3L-134.2 56.4L-135.1 60.2L-136.1 63.9L-137.8 66.9L-138.9 70.5L-141.4 72L-143.4 74L-144.7 78.1L-146.9 80.4L-149.5 80.8L-152 80.2L-154.5 79.9L-156.7 78.1L-159.4 78.6L-161.6 76.6L-164 75.2L-166.2 72.9L-167.4 69.1L-167.8 65L-167.7 60.9L-169.5 57.9L-169.9 54.2L-169.8 50.4L-169.6 46.6L-168.8 43L-167.1 40.1L-165.5 37.6L-165.1 33.2L-163.6 30.2L-161.4 28.3L-159.4 25.9L-156.9 25.6L-154.6 23.3L-152 23.9L-149.3 21.9L-146.6 22.8L-143.8 23.5L-142.4 28.3L-140.2 30.5L-140.1 35.6L-138.8 38.6L-137.4 41.5L-138.1 45.7L-136.7 48.7Z"/><path fill="none" stroke-width="2.2" stroke-linecap="round" d="M-158.1 79.2h0M-133.8 64.6h0M-164.6 76.2h0M-134.7 60.7h0M-173.8 52.6h0M-135.2 48.3h0M-132.1 35.1h0M-146.4 80.1h0M-141.4 85.5h0M-134.5 51.4h0M-139.4 32.6h0M-137.7 70.9h0M-137.8 27.1h0M-139.8 75.3h0M-136.8 65.8h0M-158.8 78.2h0M-151 81.4h0M-147.7 22.2h0M-170.7 34.2h0M-159.1 82.9h0M-164.6 29.5h0M-132.8 48.9h0M-135.8 60.1h0M-156.4 79.1h0M-156.6 80.1h0M-152.2 81.5h0M-137.5 34.2h0M-136 57.9h0M-135.1 39.1h0M-144.8 78.6h0M-162.9 27.3h0M-171.7 49.1h0M-178.8 46.9h0M-144 78.5h0M-150.8 83.6h0M-150.1 24.9h0M-171.4 54.3h0M-170.4 36.9h0M-156.6 24.9h0M-140.6 32.6h0M-170.1 52.9h0M-168.9 62.1h0M-137.7 36.7h0M-169.2 45h0M-159.6 79.2h0M-160.1 79.7h0M-167.4 37.7h0M-145.3 27.8h0M-159.4 25.1h0M-148.3 23h0M-148.2 84.9h0M-135.7 59.5h0M-137.9 82.2h0M-153.2 24.8h0M-138.7 79.4h0M-157.9 78.9h0M-135.3 51.6h0M-154.4 25.3h0M-151.6 84h0M-133.9 38.9h0M-170.2 29.1h0M-168.4 69.5h0M-159.4 22.7h0M-173.2 31.5h0M-142.9 29h0M-149.1 24.5h0M-170.1 43.4h0M-147.2 81.1h0M-170.5 62h0M-161.1 24.4h0M-135.3 65.7h0M-164.8 74.5h0M-154 79.4h0M-137.3 39.6h0M-138.9 83.6h0M-164.1 74.1h0M-130.6 56.7h0M-166.6 71.8h0M-150.3 23.3h0M-136.5 61.4h0M-142.3 75h0M-133.3 58.4h0M-140.5 74.2h0M-153.8 80.2h0M-147.6 79.9h0M-157.5 20.4h0M-149.6 83.8h0M-162.5 75.2h0M-164.4 32.4h0M-145.2 21.8h0M-134.8 36.5h0M-160.8 20.4h0M-150.9 81.2h0M-137.7 67.2h0M-165.7 70.9h0M-171.1 52.8h0M-171.6 56.9h0M-162.3 26.5h0M-168.8 65.8h0M-170.5 36.1h0M-134.6 56.4h0M-164.3 73.4h0M-170.2 53h0M-169.4 57.5h0M-163.6 77h0M-169 41h0M-170.7 57.8h0M-131.4 42.4h0M-150 21.4h0M-166.3 31.9h0M-142.9 23.9h0M-168.3 75h0M-170 51h0M-165.6 76.9h0M-150.2 81h0M-150.8 82.7h0M-151.5 80.2h0M-164 27.6h0M-141 19.3h0M-162 77.7h0M-156.6 23.8h0M-160.2 23.9h0M-165.9 32.2h0M-169.2 41.2h0M-173.2 45.2h0M-152.6 81.2h0M-138.8 74.4h0M-136.9 63.8h0M-170 60.9h0"/></g>
<g id="U_Th2R"><path stroke="none" d="M-110.8 50.4L-110.6 55L-110.3 60L-111.1 64.4L-112.6 68L-114.6 70.3L-116.3 72.3L-117.5 75.3L-119 77.5L-120.4 80.3L-122.1 82L-124.1 80.8L-125.8 82.1L-127.6 83L-129.4 81.2L-131.2 80.4L-132.9 78.8L-135.2 78.6L-137.2 76.8L-138.8 73.4L-138.9 67.9L-140.3 64.3L-140.3 59.4L-140.5 54.9L-139.8 50.4L-140.1 46.1L-139.6 41.9L-137.7 39L-137.9 34.2L-136.4 31.6L-135.3 28.4L-134.3 24.7L-133.2 20.8L-131.7 17.7L-129.4 18.9L-127.7 17.4L-125.8 18.4L-123.9 17.4L-122.1 18.7L-120.4 20.5L-118.8 22.3L-116.7 23L-115.1 25.8L-114.5 30.4L-113.4 33.9L-112.4 37.6L-111.5 41.6L-110.5 45.8ZM-119.7 17L-119.5 20.8L-121.5 23.6L-123.8 25.8L-126.7 26.1L-129.4 25.1L-131.9 23.6L-133.5 20.6L-133.8 17L-133.1 13.7L-131.8 10.7L-129.8 7.8L-126.7 7.6L-124 9L-122 11.1L-120.1 13.6Z"/><path fill="none" stroke-width="2.2" stroke-linecap="round" d="M-109.9 49.8h0M-139.6 69.4h0M-139.6 74.8h0M-136.6 26h0M-105.4 31.4h0M-118.7 22.2h0M-119.2 80.5h0M-112.3 66.1h0M-125.5 17.3h0M-122.2 82.9h0M-110.2 52.9h0M-127.4 9.1h0M-120.9 18.1h0M-97.8 97.9h0M-137.3 69.1h0M-106.7 57h0M-123.5 87.9h0M-119.6 14.9h0M-135.5 24.1h0M-134.1 90.2h0M-133.4 80.2h0M-142.9 38.6h0M-119 82.3h0M-140.1 65.7h0M-141.1 49.8h0M-109.8 39h0M-115.5 28.3h0M-110.7 47.7h0M-109.1 41.2h0M-118.8 83.7h0M-133 16.4h0M-137.3 83.7h0M-115.9 81h0M-121.9 87.2h0M-110.4 20.2h0M-140.4 35.1h0M-116.7 16.1h0M-139 67.3h0M-123.7 88.4h0M-110.8 57.5h0M-143.4 64.5h0M-115.9 82.7h0M-110.3 48.8h0M-108.2 47.7h0M-114.5 21.7h0M-124.4 83h0M-137.9 12.4h0M-151.2 46.1h0M-111.4 64.8h0M-120.2 16.3h0M-141.7 41.9h0M-135.6 21.7h0M-140.7 38.1h0M-121.2 18h0M-123.5 10.2h0M-116.3 81.3h0M-112.3 73.2h0M-116.7 14.5h0M-119.1 83.9h0M-112.2 28.1h0M-108.4 47.3h0M-128.3 10.2h0M-133.7 17.8h0M-131.5 80.5h0M-128.4 83.4h0M-115.1 76.1h0M-143.7 59.2h0M-139.5 24.2h0M-119.6 90.8h0M-137.1 81.8h0M-139 70.2h0M-119 17.3h0M-141.3 60.4h0M-130 17.7h0M-139.3 33.4h0M-116.4 22.2h0M-148.1 65.4h0M-139.1 27.7h0M-112.4 63.6h0M-109.9 39.6h0M-130.6 19.8h0M-111.2 87.3h0M-126 88.3h0M-115.3 17.3h0M-140 40.7h0M-135.4 76h0M-128.6 12h0M-108.4 37.3h0M-136.4 23.4h0M-132.3 84.3h0M-154.3 -0.9h0M-137.8 71.8h0M-134.6 22.6h0M-139.4 58h0M-134.5 20.4h0M-135.5 74.2h0M-137.8 72.1h0M-134.5 23h0M-126.6 14.7h0M-122.9 10.3h0M-143.1 58.4h0M-111.1 24.4h0M-134.8 78.6h0M-122.3 18.5h0M-140.9 48.8h0M-113.4 68.1h0M-129.6 81.6h0M-110.2 63.1h0M-143.5 63.2h0M-111.6 75.6h0M-113.7 91.4h0M-137.7 27.1h0M-110.8 42.4h0M-119.9 20.8h0M-129.2 17.7h0M-114.9 71.2h0M-111.7 43.4h0M-138.4 67.4h0M-126.9 87h0M-140.8 52.8h0M-109.2 17.3h0M-113.3 30.5h0M-130.1 81.5h0M-140.5 66.6h0M-135.1 76.8h0M-118.5 22.2h0M-141 44.2h0M-113.6 70.6h0M-131.5 81.2h0M-143.7 53.7h0M-145.6 80.9h0M-112.1 42.4h0M-138.1 30.3h0M-140.3 29.3h0M-139.8 50.9h0M-113.4 69.2h0M-128.1 92.2h0M-139 71.9h0M-133.7 11.7h0M-132.6 79.9h0M-123.5 8.3h0M-126.1 7.3h0M-134 8h0M-115 19.1h0M-126.5 3.2h0M-133.1 21.5h0M-108.5 14.7h0M-135.2 21.2h0M-132.7 24.3h0M-130 25.7h0M-118.6 21.9h0M-136.5 13.2h0M-119.3 25.6h0M-119.6 12.3h0M-133.5 22h0M-120.9 9.7h0M-117.1 19.4h0M-118 11.8h0M-129.5 8.5h0M-127.1 6.7h0M-133.6 11.9h0M-131.6 25.5h0M-137.9 15.3h0M-132.5 26.1h0M-139.1 19h0M-125.6 30.1h0M-127.6 8.1h0M-123.1 8.1h0M-128.7 5.5h0M-113.4 14.5h0M-134.1 19.7h0M-117.8 25.4h0M-122 8.7h0M-136.3 13h0M-121.7 25.8h0M-117.3 25.3h0M-124.7 29.8h0M-121 23.9h0M-141.4 6.6h0M-134.8 28.7h0M-128.6 5.3h0M-127.7 29.8h0M-119.5 18.2h0M-126.9 28.5h0M-134.3 18h0M-139.6 16.1h0M-119.6 31.1h0"/></g>
<g id="U_Th0"><path stroke="none" d="M-120.8 -16.3L-121.1 -13.2L-120.2 -9.8L-119.8 -6L-121.6 -2.8L-123.7 0.1L-127.4 1.4L-131.2 1.9L-133.8 4L-137.4 3.3L-140 6.5L-143.4 6.9L-146.6 5.4L-150.2 5.8L-152.2 2.2L-155.2 1.3L-157.2 -1L-161.3 -1.4L-162.3 -4.6L-164.9 -6.9L-164 -10.5L-165.9 -13.2L-165.2 -16.3L-165.7 -19.4L-167 -23L-166.9 -26.6L-164.3 -29.2L-162 -31.8L-159 -33.6L-155.7 -34.7L-152.3 -35.1L-149.8 -37.1L-146.6 -37.5L-143.4 -39.4L-139.9 -39.6L-136.3 -39.5L-133.5 -37.1L-130.7 -35.3L-129.5 -31.7L-127.9 -29.2L-126.8 -26.5L-123.9 -24.9L-121.8 -22.4L-119.8 -19.6ZM-116.4 -36.7L-117.9 -33.4L-120.6 -31.2L-122.2 -28.7L-124.6 -26.5L-127.7 -25.4L-130.9 -26.7L-133.8 -27.6L-137 -28.9L-138.2 -32L-138.9 -35.1L-140.1 -38.4L-139.2 -41.8L-135.6 -43.2L-133.3 -44.9L-131 -47.2L-127.8 -47.1L-124.5 -47.1L-121.3 -45.8L-119.8 -42.7L-118 -40Z"/><path fill="none" stroke-width="2.2" stroke-linecap="round" d="M-118.2 -16.2h0M-136 -41.1h0M-156 4h0M-120.8 -14.3h0M-168.8 -20.4h0M-153.8 -36h0M-131 7.4h0M-143.9 5.7h0M-141.6 7.3h0M-144.9 5.4h0M-132.4 8h0M-150.7 4.6h0M-136.8 -40.6h0M-123.6 -6.1h0M-167.7 -2.4h0M-163.3 3.9h0M-163.5 0.3h0M-137.3 -39.4h0M-162.5 1h0M-165.9 -30.7h0M-120.3 -14.4h0M-160.7 -0.8h0M-136.4 7h0M-112 -23.9h0M-126.2 4.1h0M-119.9 -24.3h0M-124.7 -32.7h0M-121.2 -23.3h0M-147.1 8.2h0M-122.8 -6.7h0M-151.5 4.5h0M-125 0.8h0M-141.6 -38.6h0M-122 -23.4h0M-151.9 4.7h0M-122.4 -26.7h0M-165.5 -26.1h0M-134.7 -46.6h0M-130.2 -34.7h0M-134.4 5.8h0M-141.6 -37.9h0M-120.3 -8.8h0M-137.2 8h0M-138.5 8.3h0M-165.3 -11.6h0M-119.2 -14.1h0M-160.3 -31.3h0M-166.5 -12.5h0M-125 -32.1h0M-164.8 -4.5h0M-123.7 -27.7h0M-119.1 -26.2h0M-169.5 -17.7h0M-148.9 4.9h0M-164.4 -28h0M-119.2 -24.3h0M-157.5 3.1h0M-173.6 -15.8h0M-120.7 -16.1h0M-146.3 6.9h0M-122.7 -3.7h0M-167.7 -13.6h0M-164.8 -8.6h0M-135.8 -38.8h0M-144.4 16.9h0M-171.5 -17h0M-167.9 -14.8h0M-149.6 6.7h0M-136 4.1h0M-129.3 -39.5h0M-152.6 -36.8h0M-148.9 -37.7h0M-133.9 -37.4h0M-142.2 14.2h0M-156 2h0M-168.5 -36.4h0M-121.4 -7.2h0M-122.1 0.4h0M-134 4.9h0M-142.1 -41.1h0M-146.8 -38.5h0M-127.5 -33h0M-177.5 -31.5h0M-158.9 -34.1h0M-119.6 -13h0M-136.3 -39.3h0M-152.3 -39.8h0M-153 4.7h0M-156.2 -45.4h0M-157.1 7.4h0M-120.9 -23h0M-120.6 -21.6h0M-167.4 -19.6h0M-113 -9.7h0M-144.2 -38.5h0M-136.3 4.3h0M-121.1 -6.2h0M-159.3 3.3h0M-163.7 -4.7h0M-141.2 6.3h0M-164.2 -7.4h0M-141.4 -41.4h0M-121.3 -31.2h0M-170.3 -23.1h0M-141.1 -38h0M-129.9 1.6h0M-147.2 -41.4h0M-140.9 -38.5h0M-166.3 -6.4h0M-168.1 -12.5h0M-122.6 -6.8h0M-151.7 -38.2h0M-165.2 -26.7h0M-163 -3.2h0M-118.9 -9.2h0M-127.6 -0.4h0M-123.2 -6.7h0M-170 -11.2h0M-167.2 -14.4h0M-154.5 8.1h0M-138.4 9.6h0M-170 -17.7h0M-144.6 8.2h0M-149.7 -38.8h0M-166.8 -9.5h0M-160.4 -32.4h0M-168.9 -9.2h0M-124.3 -33.6h0M-114.7 -38.8h0M-137.2 -30.6h0M-131.3 -53.1h0M-136.2 -48h0M-126.8 -25h0M-144.8 -40.8h0M-115 -35.3h0M-127.4 -48.3h0M-139.8 -28.4h0M-122.2 -18.4h0M-123.6 -47.1h0M-137.4 -29.5h0M-128.9 -51.1h0M-128.7 -23.5h0M-117.1 -37.6h0M-126.4 -47.8h0M-131.1 -20.6h0M-140.5 -38.8h0M-118.1 -45h0M-131.4 -25.4h0M-137.3 -43.5h0M-154.6 -41.6h0M-136.3 -26.4h0M-118.1 -31.3h0M-122 -48.9h0M-130.2 -25.9h0M-136 -29.2h0M-120.1 -25.2h0M-128.5 -22.3h0M-120.1 -28.9h0M-129.9 -22.5h0M-132.8 -48.4h0M-125 -22.4h0M-132.2 -47.8h0M-140 -34.8h0M-141.1 -31.9h0M-116.8 -37.7h0M-126.2 -22.8h0M-136.9 -23.7h0M-140.9 -31h0M-122.8 -25.9h0M-132.4 -50.2h0M-126.6 -23.1h0M-126.7 -22.9h0M-117.9 -32.3h0M-139.2 -39.7h0M-135.8 -27.2h0M-139.7 -44.8h0M-117.8 -35.3h0M-123.1 -25.7h0M-134.6 -24.4h0M-131.4 -25.2h0M-128.5 -24.5h0M-129.4 -25.1h0M-130.1 -23.4h0M-121.5 -47h0M-120.5 -43.6h0M-136.8 -44.7h0M-139.7 -29.9h0M-141.9 -37h0"/></g>
<g id="U_Th1"><path stroke="none" d="M-68.8 -1.5L-68.4 2.6L-68.8 6.7L-70.7 10.2L-72.6 13.3L-74.2 16.5L-75.7 19.9L-77.7 22.8L-80.3 24.7L-83.1 25.8L-86.5 24.5L-88.9 25.5L-91.3 28.2L-94 27.7L-96.8 28.1L-99.5 27.1L-102.5 27L-104.2 23.5L-106.5 21.6L-106.7 16.8L-110.2 16.5L-110.8 12.9L-113.6 10.9L-116.2 8.2L-117.8 4.6L-116.7 0.4L-117 -3.4L-117 -7.4L-115.1 -10.7L-115 -14.7L-113.6 -18.1L-112 -21.4L-109.3 -23.3L-107.4 -26.2L-105.4 -29.1L-102.5 -30L-99.4 -29.8L-96.8 -30.9L-94 -30.8L-91.4 -29L-88.9 -28.3L-86.5 -27.2L-84.7 -24.6L-82 -24.3L-78.8 -24L-77.2 -21L-75.7 -18.1L-73.1 -15.9L-72.9 -12L-70.4 -9.1L-70.1 -5.3ZM-56.7 -5.2L-56.9 -1.9L-57.7 1.5L-60.2 3.9L-63.2 5.4L-66.1 6.7L-69.3 6.7L-72.7 7.7L-75.9 6.3L-78.4 4L-79.3 0.6L-81.4 -1.9L-81.7 -5.2L-81.8 -8.5L-80 -11.4L-78.5 -14.4L-75.4 -15.7L-72.5 -17.1L-69.3 -18.4L-65.9 -17.7L-62.9 -16.3L-60.3 -14.1L-59 -11.1L-57.8 -8.3Z"/><path fill="none" stroke-width="2.2" stroke-linecap="round" d="M-84.6 26h0M-99.3 29.4h0M-107 -34.4h0M-110.3 18.8h0M-115.3 0h0M-121.5 -8.8h0M-109.3 20.7h0M-79.5 23.3h0M-116.1 -1.5h0M-91.2 -30.6h0M-97.1 -32.3h0M-78.2 -24.4h0M-79.8 -28.4h0M-93.9 -30.8h0M-83 -28.3h0M-79.3 28.8h0M-110.1 19.1h0M-68.3 8.6h0M-68.9 6.3h0M-98.6 28.4h0M-108 -25h0M-82.2 25h0M-114.2 -14.1h0M-112.5 20.1h0M-85.4 26.8h0M-64.8 0.7h0M-118.7 -10.5h0M-78.1 20.6h0M-101.2 -38.7h0M-71.1 6.3h0M-87.8 -34.9h0M-70.6 -17h0M-90.9 -34.3h0M-70.1 -5.4h0M-115.1 -24h0M-70.3 -24.4h0M-78.7 -32.5h0M-69.6 -9.5h0M-77.3 21.7h0M-72.7 9.8h0M-112.2 -21.3h0M-119.9 10.6h0M-108 20.4h0M-84.9 26.8h0M-106.6 26.4h0M-70.5 -1.3h0M-69.8 -3.2h0M-73 10.3h0M-98.6 -41.5h0M-72.3 -13.5h0M-102.6 28.1h0M-117.1 6h0M-68.6 -8.5h0M-111.5 -23.1h0M-84.2 25.8h0M-113.8 -14.7h0M-75.3 15.5h0M-115.8 6.3h0M-78.1 -27.2h0M-75.4 19h0M-71.5 4h0M-71.1 11.1h0M-82.4 -30.3h0M-76.9 19.1h0M-118.7 -13.4h0M-77.8 -25.5h0M-90 -30.7h0M-116.7 4.7h0M-111.2 -19h0M-117.5 -3.6h0M-105.6 -37.3h0M-86.8 -33.1h0M-85.8 -29.9h0M-72.2 -16.8h0M-110.5 26.9h0M-69.3 8.1h0M-79.5 24h0M-113 12.1h0M-100.2 29.8h0M-72.8 -24.6h0M-115.5 1.7h0M-78.5 21.2h0M-103.7 -28.5h0M-119.1 10.6h0M-105.4 25.6h0M-88.6 -34.5h0M-117.9 4.7h0M-87 -33.7h0M-115.8 4.1h0M-73.8 -16.4h0M-71.4 -16.7h0M-110.2 -21.9h0M-85.8 -36h0M-120.9 -2.4h0M-77.7 -25h0M-116 -11.6h0M-91.9 -35.1h0M-112.9 12.8h0M-75.3 20.6h0M-81.1 28h0M-107.9 20.5h0M-81.9 28.8h0M-100 -30.3h0M-112.9 -23.8h0M-68.8 -7.8h0M-107.6 -26.9h0M-107.3 -26h0M-107.1 23h0M-79.3 -29.5h0M-107.3 -24.7h0M-85.7 -33.9h0M-100.8 27.3h0M-109.6 -27h0M-74.3 13.2h0M-76.4 -23.3h0M-115.6 3.5h0M-97.7 30.4h0M-71.1 4.2h0M-84.8 28.2h0M-73.7 12.3h0M-114.6 7h0M-103.5 27.3h0M-70.7 -6.8h0M-70.5 -17.5h0M-85.4 -29.4h0M-115.8 -12.7h0M-78.6 27.9h0M-123.3 -22.7h0M-107.4 -25.7h0M-89.3 -32.3h0M-114.2 15.3h0M-99.3 -34.8h0M-82.6 -29.5h0M-77.9 24.9h0M-103.3 32h0M-115.5 5h0M-106.1 28.6h0M-85.8 -30.2h0M-76.8 -21.2h0M-96.1 31.4h0M-113.7 15h0M-87 26.6h0M-73.4 19.6h0M-86.2 26.3h0M-71.4 -3.8h0M-111.5 21.2h0M-81.2 31.7h0M-83.6 -29.9h0M-81.5 24.9h0M-56.2 -14.7h0M-76.7 4.7h0M-76.8 -15.3h0M-83.5 -1.2h0M-78.7 4.8h0M-76.5 8.7h0M-60.7 5.8h0M-55.9 -2.4h0M-81.3 0.9h0M-74.5 6.4h0M-75.3 9.7h0M-80.1 4.8h0M-59.5 2.4h0M-71.5 -19h0M-57.3 1.7h0M-70.6 -21.1h0M-84.9 -0.3h0M-70.2 7.8h0M-53.8 -13.7h0M-61.3 9.6h0M-65.1 7.9h0M-82 -0.3h0M-76 -19.8h0M-84.3 -6.1h0M-73.1 11.6h0M-81.7 -13.6h0M-58 0.2h0M-67.2 9.1h0M-55.5 -0.6h0M-81.1 -10.3h0M-55.7 -3.7h0M-79.8 5h0M-57.4 -1.2h0M-56.1 -2.7h0M-52 -3.1h0M-83.3 -7.5h0M-57.3 3.6h0M-76.6 5.8h0M-84.1 -5.5h0M-71.8 -21.6h0M-83.6 -1.7h0M-62.3 -20.3h0M-55.4 -0.5h0M-57.2 -13h0M-82.7 -3.1h0M-81 -10.1h0M-69 -17.6h0M-58.7 -14.7h0M-66.8 9.9h0M-71.6 9.7h0M-73.7 -22.1h0M-83.4 -7.7h0M-85.3 -3.1h0M-55.3 -11.3h0M-81.3 -0.9h0M-75.9 6.3h0M-85.9 -2.3h0M-49.2 -14.4h0M-63.4 -16h0M-78.5 -16.9h0M-77 5.5h0M-58.6 1.6h0M-70.9 -19h0M-68.7 7.5h0M-55.5 -15.5h0M-53.5 -8h0M-81.6 -3h0M-71.3 9.7h0M-76.1 -16.3h0M-56.2 -7.6h0M-65.1 22.3h0"/></g>
<g id="U_iTreg"><path stroke="none" d="M-94.5 -132.1L-93.4 -128.6L-94.3 -125.1L-94.1 -121.3L-95.6 -117.9L-97.8 -115L-101.1 -113.2L-103.4 -110.7L-106.9 -109.9L-108.7 -106.2L-111.9 -104.9L-115.2 -104L-118.7 -105.2L-121.9 -107.1L-124.7 -108.2L-127.5 -109.2L-129.9 -110.7L-132.1 -112.5L-134.7 -113.6L-137.9 -114.2L-140.2 -116.3L-142.4 -118.5L-144.5 -121L-146.9 -123.7L-149 -126.7L-150.2 -130.3L-149.5 -133.9L-147 -137.1L-147.5 -140.8L-145.5 -143.7L-144.4 -147L-142.5 -150L-140 -152.3L-137.3 -154.3L-133.8 -154.8L-131.1 -156.5L-127.5 -155.2L-124.9 -157.1L-121.9 -158.5L-118.8 -158.7L-115.5 -158.9L-112.1 -158.8L-108.9 -157.5L-106.6 -155L-104.1 -152.8L-103 -149.3L-102.1 -146.1L-99.4 -144.3L-98 -141.4L-96.4 -138.6L-96.1 -135.4ZM-104.8 -107.1L-103.1 -104L-101.8 -100.3L-100.5 -95.8L-103.4 -93.2L-107 -91.6L-110.1 -90.2L-113.8 -90.5L-116.2 -88.7L-118.8 -86.9L-121.9 -86.8L-125 -86.5L-127.7 -88.4L-130.6 -88.9L-133.1 -90.5L-137.3 -90.2L-139.2 -93.1L-142 -95.3L-142.7 -98.8L-142.7 -102.3L-143.3 -105.5L-144.2 -108.8L-142.4 -111.9L-141.9 -115.1L-140.8 -118.2L-138.7 -120.7L-136.8 -123.4L-133.3 -124L-130.5 -125L-127.5 -125.2L-124.9 -127.1L-121.8 -128.3L-118.5 -129.1L-115.1 -128.7L-111.8 -127.7L-109.3 -125.1L-108.1 -121.5L-106.1 -119.1L-103.7 -116.8L-103.1 -113.5L-102.9 -110.2ZM-110.4 -81.3L-110.2 -77L-110.4 -73.2L-111.5 -71.1L-112.9 -69.3L-114.8 -69.7L-116.9 -71.4L-119.1 -74.3L-120.7 -79.1L-120.4 -83.6L-119.8 -86.8L-119.1 -90L-117.7 -91.7L-115.6 -90.5L-113.5 -89.5L-111.8 -85.5Z"/><path fill="none" stroke-width="2.2" stroke-linecap="round" d="M-96.1 -113.5h0M-103.5 -113.4h0M-114.4 -157.3h0M-100.1 -150.9h0M-96.3 -127.6h0M-93.6 -125h0M-101.2 -113.6h0M-128.8 -157.4h0M-145.4 -117h0M-125.5 -104.7h0M-117.6 -159.4h0M-110.5 -104.1h0M-95.2 -135.2h0M-95 -120.9h0M-142 -152.9h0M-128.4 -106.9h0M-95.1 -127.2h0M-144.9 -118.6h0M-109.1 -155.8h0M-98 -114.1h0M-94.3 -123h0M-118.2 -104.2h0M-120.2 -102.6h0M-88.2 -139.3h0M-96 -123.4h0M-99.7 -146.2h0M-102.3 -150.4h0M-98.6 -118.9h0M-141.7 -151.2h0M-98.5 -115.9h0M-111.9 -157.4h0M-108.6 -158.6h0M-93.4 -131.5h0M-149.1 -138.9h0M-116.8 -105.2h0M-147.1 -129h0M-130 -156.9h0M-93.1 -122.7h0M-101.3 -151.1h0M-95.3 -134.8h0M-113.2 -101.3h0M-102.8 -112.7h0M-149.1 -127.8h0M-138.2 -154.2h0M-138.3 -154.5h0M-109.3 -155.6h0M-147.5 -130.6h0M-103.5 -152.2h0M-97.5 -147.2h0M-108.9 -155.5h0M-95.5 -122.3h0M-148.5 -127.4h0M-99 -157.7h0M-119.8 -164.1h0M-140.5 -150.2h0M-134.4 -159.8h0M-144 -143.1h0M-149.3 -124.9h0M-123.3 -165.6h0M-149.3 -124.1h0M-145.2 -143.8h0M-105.1 -110.6h0M-98.6 -119.4h0M-102.4 -109.4h0M-147.8 -141.8h0M-125.8 -103.4h0M-139.3 -152.8h0M-112.3 -104.2h0M-146.3 -148.9h0M-92.6 -123.2h0M-113.6 -104h0M-94.4 -129.4h0M-104.3 -106.8h0M-147 -146.1h0M-121.7 -161.8h0M-141 -148.4h0M-102.7 -152.6h0M-99.2 -150.5h0M-122.3 -105.2h0M-131.7 -104.9h0M-119.8 -105.3h0M-117 -157.9h0M-141.8 -107.4h0M-107.7 -158h0M-97.7 -142.6h0M-145 -146.2h0M-120.7 -103.9h0M-104.6 -151.9h0M-138.4 -112.4h0M-105 -156.3h0M-145.3 -140.8h0M-144.8 -141.4h0M-148.6 -120.8h0M-94.9 -141.6h0M-146.5 -124.3h0M-115 -157.7h0M-113.3 -105.3h0M-97.7 -118.8h0M-144 -149.3h0M-146.9 -128.8h0M-131.6 -158.8h0M-124.1 -161.4h0M-145.7 -140.2h0M-128 -103.2h0M-126.3 -159.4h0M-74.2 -146.6h0M-139.5 -150.3h0M-96.9 -116.9h0M-141.5 -150.9h0M-146.8 -120.9h0M-147.1 -140.6h0M-146.1 -142.4h0M-153.2 -116h0M-148.4 -128.8h0M-107.8 -108.5h0M-109.4 -107.5h0M-93.5 -132.7h0M-102 -156.5h0M-145.7 -123.6h0M-147.1 -125.2h0M-102.6 -152.7h0M-149.5 -139.5h0M-142.7 -148.2h0M-96.6 -139.6h0M-102.2 -153.7h0M-136.4 -153.3h0M-118.1 -104.8h0M-143.7 -119.7h0M-149.2 -127.2h0M-111.7 -159.6h0M-134.2 -109.3h0M-127.2 -158.2h0M-104 -153.5h0M-102.2 -153.1h0M-147.9 -136.1h0M-145.4 -142.2h0M-95 -134.2h0M-97.3 -123.6h0M-109.6 -108.3h0M-107.1 -154h0M-97.1 -123.4h0M-155.3 -130.1h0M-152.3 -152.8h0M-133.7 -157h0M-96.7 -111.2h0M-150.5 -128.9h0M-124.9 -106.1h0M-99.1 -117.3h0M-131.8 -158.7h0M-130.2 -126.3h0M-144.6 -68.1h0M-142.4 -101.2h0M-135.5 -124.2h0M-101.5 -102.3h0M-124.4 -86.1h0M-144.8 -99.1h0M-142.2 -126.5h0M-144.3 -112.6h0M-122.4 -82.8h0M-105.4 -93.6h0M-141.4 -114.9h0M-101.6 -115.1h0M-146.9 -99.4h0M-145.2 -106h0M-102.7 -118.1h0M-131.5 -86.9h0M-119.5 -129.5h0M-145 -104.4h0M-123.2 -83.3h0M-122.3 -83.1h0M-142 -97h0M-143.5 -114.2h0M-128.9 -86.5h0M-144.5 -104.3h0M-105.7 -91.2h0M-105 -88.5h0M-138.5 -89.3h0M-125.1 -131.7h0M-103.2 -98.1h0M-119 -127.7h0M-115.5 -129.5h0M-143.9 -110.6h0M-143.2 -110.4h0M-145.2 -101.2h0M-140.9 -95.4h0M-155.8 -114h0M-119.8 -128h0M-144.4 -114.7h0M-122.4 -84.3h0M-143.3 -113.9h0M-129.6 -86.9h0M-106.7 -121.4h0M-143 -97.2h0M-121.8 -129.2h0M-99.3 -111.4h0M-143.3 -99.7h0M-143.8 -94.8h0M-144.5 -109.9h0M-143.5 -103.9h0M-101.2 -81.4h0M-126.5 -86.1h0M-106.7 -122.4h0M-134.4 -130.4h0M-112 -125.9h0M-137.2 -92.8h0M-114.1 -126.6h0M-123.5 -85.3h0M-140.7 -117.5h0M-101.8 -116.1h0M-143.8 -117.1h0M-143.4 -114.3h0M-98 -114.4h0M-144 -102.6h0M-120.9 -129.6h0M-123.4 -84h0M-143.5 -102.5h0M-123 -85.8h0M-102.6 -103.6h0M-104.2 -120.5h0M-134.6 -126h0M-110.6 -125.3h0M-101.8 -113.8h0M-109.4 -87h0M-137.9 -92.2h0M-139.8 -94.3h0M-116.8 -127.5h0M-95.1 -111.7h0M-129.5 -131.7h0M-142.3 -94.9h0M-102.9 -97.7h0M-99.6 -106h0M-100.6 -95.7h0M-136.5 -122.7h0M-133.7 -126.6h0M-101.7 -113.2h0M-125.7 -84.5h0M-121.7 -85.9h0M-135.3 -130.7h0M-126.2 -128.5h0M-130.2 -127h0M-113.6 -88.2h0M-114.2 -87.9h0M-142.9 -110.3h0M-111.7 -89.6h0M-109.2 -90.4h0M-129.4 -84.5h0M-136.9 -92.3h0M-113.7 -126.3h0M-141.9 -98.1h0M-108.4 -85.6h0M-100.3 -107.1h0M-125 -129.2h0M-135.4 -123.4h0M-131.5 -126h0M-120.9 -128.9h0M-127.6 -85h0M-138.5 -94h0M-99.5 -97.6h0M-145.9 -113.9h0M-144.1 -112.7h0M-139.3 -121.4h0M-134.7 -124.8h0M-144.1 -105.7h0M-142.7 -110.5h0M-110.6 -85.9h0M-102.1 -107.9h0M-98.9 -112h0M-118.7 -68.6h0M-113.4 -68.3h0M-124.5 -115.9h0M-109.9 -75.7h0M-110.2 -89.2h0M-118 -73.4h0M-111 -68.8h0M-120.3 -86.8h0M-121.2 -91.1h0M-120.4 -79.8h0M-110.4 -70.2h0M-108.8 -77.9h0M-121.7 -93.8h0M-120.9 -74.4h0M-119.9 -88.6h0M-114.3 -60.8h0M-118.6 -93.2h0M-118.1 -92.7h0M-116.2 -92.4h0M-116.7 -70.1h0M-105.9 -68.6h0M-122.6 -91.3h0M-107.9 -73.8h0M-109.5 -63.2h0M-107.9 -80.7h0M-104.5 -77.1h0M-118.1 -91.2h0M-113.7 -95.3h0M-110.8 -91.9h0M-121.8 -92h0M-118.4 -97.4h0M-119.1 -75.3h0M-116.8 -95.2h0M-112 -91h0M-116.3 -65.3h0M-109.7 -85.5h0M-119.4 -94.8h0M-120.8 -71.9h0M-113.5 -68.6h0M-115 -63.3h0M-117 -96.1h0M-106.2 -74.4h0M-119.7 -76.2h0M-109 -80.2h0M-107.4 -76.4h0M-122.4 -83h0M-121 -83.8h0M-109.2 -68.8h0"/></g>
<g id="U_Th17g"><path stroke="none" d="M-23.6 -82.1L-24 -78.9L-25.1 -76L-27.1 -73.5L-28.8 -71.1L-29.9 -67.9L-32.2 -65.7L-34.5 -62.9L-37.8 -61.7L-41.2 -61.1L-44.5 -63.1L-47.7 -63.3L-50.8 -64.2L-53.8 -65.5L-56.2 -67.7L-57.7 -70.6L-58.1 -73.9L-59.1 -76.6L-61.9 -78.9L-61.9 -82.1L-61.6 -85.2L-62.7 -88.9L-60.2 -91.4L-59 -94.6L-56.4 -96.7L-54.3 -99.5L-50.6 -99.5L-47.8 -101.2L-44.6 -102.2L-41.4 -100.9L-38 -101.5L-35.6 -98.8L-32.7 -97.8L-30.5 -95.6L-27.6 -94L-25.4 -91.6L-23.2 -88.9L-23 -85.4Z"/><path fill="none" stroke-width="2.2" stroke-linecap="round" d="M-23.6 -93.4h0M-64.1 -83h0M-55.9 -96.7h0M-25.5 -72.3h0M-50.4 -52.3h0M-28.3 -68.4h0M-23.9 -92.1h0M-59.6 -69.9h0M-29.5 -65.8h0M-34.1 -101.4h0M-62.4 -71.9h0M-36.3 -63h0M-23 -80.3h0M-62.4 -83.1h0M-38.3 -62.4h0M-21.8 -74.9h0M-61.7 -75.9h0M-19 -65.8h0M-39.1 -61.2h0M-23.5 -86.9h0M-34.4 -64.3h0M-39.1 -62.6h0M-41.6 -61.6h0M-31.6 -112.8h0M-37.9 -61.1h0M-57.6 -96.9h0M-41 -62.6h0M-59.8 -91.5h0M-21.2 -103.4h0M-59.9 -98.8h0M-57.2 -69.2h0M-42.1 -62.4h0M-61.4 -75.9h0M-24.6 -98.1h0M-36.9 -100.1h0M-56.7 -63.6h0M-54.8 -66.1h0M-46.8 -101.2h0M-66.1 -81.8h0M-46.3 -103.8h0M-44.2 -103.8h0M-53.8 -99.4h0M-63.3 -86.5h0M-63.3 -82.2h0M-47.5 -102.1h0M-56.8 -95h0M-52.2 -101.7h0M-22 -85.6h0M-58.6 -96.1h0M-67.8 -83.1h0M-28.9 -96.7h0M-33.1 -109.4h0M-25.5 -73.7h0M-22.3 -92.8h0M-63.9 -80.2h0M-20.5 -99.9h0M-24.5 -70.2h0M-42.5 -104.2h0M-51.4 -59.2h0M-22 -68.1h0M-44.3 -102.4h0M-26.2 -69.8h0M-44.1 -62.7h0M-25.8 -71.7h0M-32.8 -105.6h0M-55.4 -67.2h0M-34.8 -102.3h0M-44.8 -103.9h0M-65.1 -80.9h0M-56 -97.9h0M-29.3 -63.6h0M-61.3 -89.9h0M-21.9 -75h0M-25.4 -70.8h0M-50.7 -64.1h0M-24.9 -73.1h0M-23.8 -87.8h0M-57.5 -95.1h0M-29.8 -100.9h0M-21.4 -88.3h0M-61.9 -74.3h0M-49.1 -100.6h0M-19.6 -81h0M-63 -84.7h0M-40 -103.2h0M-28.4 -66.8h0M-24.8 -70.1h0M-55.5 -100.3h0M-53.1 -65h0M-58.2 -65.3h0M-35.8 -63.2h0M-34.7 -101.5h0M-62.2 -92.9h0M-24.9 -71.5h0M-43.3 -62.4h0M-60.9 -91.4h0M-41.4 -61.4h0M-55.2 -111.1h0M-29.5 -67.3h0M-32.1 -100.7h0M-29.6 -98.3h0M-60.3 -73.8h0M-54.8 -65.9h0M-51.3 -63.9h0M-31.1 -98.8h0M-42.4 -60.8h0M-48.1 -104.5h0M-19.4 -87.3h0M-39.9 -60.8h0M-28.8 -98.6h0"/></g>
<g id="U_Th17o"><path stroke="none" d="M-8.9 -61.8L-9 -57.9L-11 -55L-13.5 -52.7L-16.4 -51L-19.1 -49.3L-22.2 -48.6L-25.2 -48.6L-28.1 -46.4L-31 -47.2L-34.1 -47L-36.8 -48.4L-38.6 -51L-40.8 -52.7L-41.9 -55.5L-45.8 -56.1L-47.9 -58.6L-49.3 -61.7L-49.7 -65.3L-50.2 -68.8L-50.3 -72.6L-47.5 -75.9L-45.1 -78.6L-43.4 -81.6L-41.3 -84.1L-38.2 -85.3L-35.9 -87.3L-33.5 -89L-30.9 -90.6L-28.1 -90.9L-25.2 -93.2L-22.4 -92L-19.1 -93.2L-16.8 -91.2L-12.9 -92L-10.6 -89.8L-8.5 -87.3L-5.1 -85.7L-3.5 -82.5L-4.8 -78.1L-3.9 -74.8L-5 -71.2L-7.4 -68L-7.4 -64.7Z"/><path fill="none" stroke-width="2.2" stroke-linecap="round" d="M-19.8 -94.2h0M-9.2 -87.1h0M-2.7 -69h0M-33.1 -45.8h0M-5.7 -76.7h0M-49.4 -69.9h0M-16.6 -50.6h0M-3.7 -67.8h0M-4.8 -78.5h0M-46 -78.8h0M3.4 -58.3h0M-16.6 -97.7h0M-16.1 -50.4h0M-6 -75.4h0M-36.7 -46.3h0M-5.7 -68.7h0M-51 -68.5h0M-34.6 -91.4h0M-45.1 -79.7h0M-34.5 -47.5h0M-44.5 -52.6h0M-15.2 -91.5h0M-41.9 -86.9h0M-48.7 -56.7h0M-16.6 -47.6h0M-47.9 -73.8h0M-42.9 -84.3h0M-33.6 -92.5h0M-16.4 -47.2h0M-12.3 -93.4h0M-6.5 -79.2h0M0.2 -63.3h0M-30.7 -92.5h0M-44.8 -54.9h0M-32.6 -95.3h0M-5 -59.8h0M-16.6 -48.5h0M-10.6 -88.8h0M-46.6 -57.9h0M-37.4 -92.9h0M-8.6 -56.4h0M-40.4 -49.5h0M-38.4 -91.6h0M-47.3 -63h0M-41.1 -51.4h0M-19.4 -48.5h0M-6 -62.2h0M-32 -43.5h0M-8.6 -58.6h0M-20.1 -49.1h0M-47.2 -75.5h0M-3.9 -68.3h0M-4.4 -74h0M-5.4 -57.1h0M-31.3 -106.1h0M-44.9 -52.6h0M6.6 -70.6h0M-12.3 -89.4h0M-50.3 -67.4h0M-9.1 -57.5h0M-1.5 -82.2h0M-15.7 -91.5h0M-19.4 -112.1h0M-47.6 -69h0M-8.7 -59.6h0M-28.5 -94.2h0M-30.1 -97.6h0M-48.6 -64.3h0M-15.4 -99h0M-17.1 -94h0M-45.8 -82.7h0M-24.5 -43.7h0M-21.6 -94.7h0M-13.7 -95.3h0M-24.4 -46.6h0M-4.9 -74.7h0M-1.5 -90.1h0M-46.7 -90.5h0M-47.7 -70.7h0M-55.1 -43.7h0M-1.8 -49.7h0M-5.8 -68.5h0M-38.7 -92.6h0M-47 -78.4h0M-10.6 -56.7h0M-6.4 -56h0M-49.3 -60.3h0M-37 -44.2h0M-46.2 -58.5h0M-47.2 -74.6h0M-47.7 -73.1h0M-45.4 -82.3h0M-25.3 -94.2h0M-4.8 -68.2h0M-3.9 -79.6h0M-16.3 -93.8h0M-3.9 -67.9h0M-32.7 -94.2h0M-40.2 -88.1h0M-32.1 -43.1h0M-41.6 -40.7h0M-6.5 -66.4h0M-5.9 -82h0M-15 -50.6h0M-50 -72h0M-26 -47h0M-25.4 -95.5h0M-48.9 -65.5h0M-37.3 -90.5h0M-37.6 -88h0M-14.9 -91.7h0M-47.3 -81.1h0M-18.2 -94.7h0M-42.2 -42.7h0M-47.4 -90.2h0M-43.9 -54.5h0M-30 -94.8h0M-47.3 -60h0M-41.6 -86.3h0M-14.4 -52.2h0M-1.3 -75.1h0M-46.8 -81.5h0M-25.8 -45.8h0M-4.8 -63.3h0M-44.9 -87.1h0M-6.7 -86h0"/></g>
<g id="U_IFNb"><path stroke="none" d="M-56 164.4L-55.4 168.5L-56.1 172.4L-56 176.9L-57.5 180.3L-58.7 184.1L-61.2 185.8L-63 188.4L-65.1 190.3L-67.3 191.7L-69.6 192.9L-72 193.3L-74.4 191.8L-76.6 190.8L-78.9 190L-80.7 187.4L-82.5 185L-84 182L-84.2 177.7L-85.8 175L-87.1 171.9L-88.3 168.4L-87.8 164.4L-89.3 160.1L-87.5 156.6L-86.2 153.4L-85.7 149.5L-84.3 146.3L-83 142.7L-81.9 138.3L-79.6 136.2L-77 135.5L-74.4 136L-72 136.4L-69.7 136.4L-67.3 137.1L-65 138.2L-62.9 140L-61.6 143.9L-60.4 147.1L-60.3 151.5L-59.7 154.7L-58.3 157.5L-57 160.7ZM-78.9 156.4L-80.3 159.2L-81.8 161.8L-85.3 163L-88.7 164.5L-92.3 163.6L-95.5 162.4L-98 160.4L-100 157.9L-99.9 155L-98.9 152L-95.5 150.5L-92.5 148.9L-88.7 148.9L-85.2 149.7L-82 151.1L-80 153.6Z"/><path fill="none" stroke-width="2.2" stroke-linecap="round" d="M-54.8 171.6h0M-85.3 185.2h0M-88.8 169h0M-88.4 149.8h0M-73.1 135.2h0M-56.2 189h0M-86.8 178.8h0M-78.7 197.3h0M-85.2 146h0M-87.8 157h0M-58.5 134.4h0M-80.9 138.5h0M-56.6 154.8h0M-84.7 182.5h0M-62.4 137.7h0M-88.3 181.1h0M-91.5 161h0M-57.6 144.5h0M-69 134.4h0M-87.9 163.5h0M-87.3 155.9h0M-75.4 196.8h0M-70.6 195.6h0M-70.2 130.3h0M-73.2 191.8h0M-82.5 144.1h0M-89.7 144.2h0M-79.9 197.1h0M-59.4 181.5h0M-88.9 202h0M-62.4 191.3h0M-67.7 136.2h0M-58.2 147.6h0M-67.6 195.4h0M-56.3 154.3h0M-72.6 194.4h0M-82.3 140.8h0M-53.2 178.4h0M-91.5 139.8h0M-86 180.1h0M-58.5 150.2h0M-58.3 143.3h0M-89.9 162.7h0M-86.2 135.3h0M-89.3 160.5h0M-58 148.1h0M-63.5 137.2h0M-89.1 155.9h0M-55.2 153.4h0M-87.8 171.7h0M-88.8 174.7h0M-55.4 169.3h0M-56.7 182.2h0M-88.8 155.2h0M-74.7 136.7h0M-55.8 174.6h0M-78.6 137.2h0M-89.6 162.8h0M-88.4 157.2h0M-87.7 151.8h0M-58.4 140.8h0M-88.8 182.9h0M-52.5 157.8h0M-85.2 147.1h0M-80.8 141.5h0M-75 137.5h0M-73.5 136.5h0M-80.6 194.5h0M-58.4 183h0M-67.7 192.6h0M-82 140.1h0M-61.9 143.1h0M-51.1 167.4h0M-59.8 146.5h0M-54.9 164.8h0M-70.4 131.6h0M-60.1 182.5h0M-86.2 188.1h0M-86.4 180.2h0M-67.7 135.3h0M-63.9 138.7h0M-89.5 175h0M-58 149.7h0M-55 155.1h0M-79 137.5h0M-89.9 169.5h0M-61.1 190.8h0M-73.3 133.4h0M-88.5 155.3h0M-68.2 134.5h0M-84.9 184.5h0M-55.9 167.3h0M-98.1 206.4h0M-57.4 181.3h0M-83.1 187.6h0M-54.9 167.4h0M-79.7 137.2h0M-70.1 137.5h0M-92.3 160.9h0M-72.2 196.1h0M-57.8 148.7h0M-82.9 190h0M-81.7 140.8h0M-62.8 142.5h0M-76 138.3h0M-80.9 136.9h0M-86.1 180h0M-69.7 133.1h0M-60.5 182.9h0M-88.8 171.4h0M-51.9 167.3h0M-77.6 135.8h0M-76.8 197.9h0M-53.8 163.4h0M-77.7 137h0M-61.9 186.7h0M-52 168.6h0M-85.4 141.6h0M-55.2 176.7h0M-86.6 150.5h0M-82.3 185.7h0M-63.1 196.2h0M-60.5 143.3h0M-55.6 138.9h0M-55 155.4h0M-56.2 154.1h0M-90.6 145.5h0M-90.1 166.5h0M-85.1 163.9h0M-91.7 164.1h0M-87.8 147.6h0M-87.1 164.3h0M-93.9 163.2h0M-99.6 154.6h0M-96.3 168.5h0M-90.7 147.6h0M-78.1 155.8h0M-87.9 145.8h0M-103.3 155.9h0M-90.6 143.8h0M-120.9 150.3h0M-103.2 160.3h0M-95.3 165.9h0M-83.4 149.2h0M-84.2 165.5h0M-80.9 162.4h0M-78.6 155.8h0M-94.2 163.6h0M-79.3 161.2h0M-78.5 160.4h0M-79.9 154.1h0M-98.3 164.1h0M-83.5 165.9h0M-78.3 154.2h0M-100.3 154.5h0M-78.4 160.9h0M-83.3 145.5h0M-78.8 158.9h0M-85.1 163.5h0M-95.2 139.5h0M-100.8 156.1h0M-82.6 162h0M-93 164.9h0M-101.8 157.6h0M-84 165.7h0M-79.9 152.8h0M-94 166.2h0M-96.2 150.7h0M-69.2 143.6h0M-94.3 148.6h0M-85.6 164.8h0M-77.1 157.7h0M-81.9 163.1h0M-84.6 149.1h0M-85.8 145.9h0M-92 147.7h0M-94.4 149.6h0"/></g>
<g id="U_tiny"><path stroke="none" d="M20 -89.9L19.4 -88.9L18.6 -88L16.8 -87.7L15 -87.4L13.4 -87.9L12.5 -88.9L11.8 -89.9L12.5 -90.9L13.5 -91.7L15 -92.3L16.8 -92.1L18.5 -91.7L19.7 -91Z"/><path fill="none" stroke-width="2.2" stroke-linecap="round" d="M14.7 -85.8h0M13.7 -92.1h0M20.3 -88.7h0M18.7 -91.9h0M13.4 -88h0M12.8 -91.9h0M23.2 -89.7h0M11 -90.4h0M20.5 -90.1h0M10.2 -90.9h0"/></g>
<g id="S_fill"><path stroke="none" d="M123.2 39.6L121.9 43.7L121.7 47.9L120.8 51.5L119.8 55.3L118.9 59.2L116.9 61.1L115.7 65.2L113.3 64.8L111.4 67.1L109.3 66.6L107.1 67.6L105.3 65L103.6 62.7L101.6 61.6L99.8 59.6L97.9 57.5L96.5 54.2L94.8 50.9L94.7 46.2L95 41.7L94.5 37.5L95.6 33.5L95.9 29.3L97.8 26.6L98.8 23.2L99.8 19.7L101.6 17.5L102.8 13.2L104.9 11.7L107.2 12.3L109.3 12L111.3 13L113.8 11.6L116.1 12.6L117.5 16.6L118.6 20.6L119.3 24.8L119.4 29L120.2 32.4L121.5 35.7ZM114.5 64.1L114 66.2L112.3 68.1L110.8 70.3L107.7 72L104 73.5L99.4 73.7L95.2 72.7L92 71.1L88.6 70L87 68L85.8 66.1L84.8 64.1L83.1 61.7L84.5 59.4L88 57.9L91.4 56.6L95 55.2L99.4 55.6L103.4 55.9L107 56.9L111.3 57.6L113.7 59.6L114.4 61.9Z"/><path fill="none" stroke-width="2.2" stroke-linecap="round" d="M121.1 60.6h0M122.1 43.8h0M112.7 67.3h0M124.2 33.3h0M122.9 48h0M124 54h0M89.7 55.3h0M101.9 64.9h0M103.3 11.6h0M110.5 66.9h0M106.8 69.8h0M125.8 32.9h0M110 9.4h0M105.3 68.3h0M122.2 37.1h0M115.9 70.5h0M122.2 43h0M111.9 67.7h0M102.1 16h0M124.8 45.6h0M112.8 9.9h0M98.7 19.4h0M115.1 14.2h0M98.2 11.1h0M105.8 12.4h0M124.3 42.1h0M96.8 23.4h0M94.9 49.5h0M100 60.1h0M104.8 105.3h0M113.2 64.7h0M116.6 66h0M111.6 13.7h0M113.3 13.3h0M118.8 58.9h0M123.5 31.8h0M120.1 15.1h0M112.7 66.6h0M103.8 10.5h0M98.3 14.8h0M122.5 30.8h0M111.8 10.5h0M123.1 56.2h0M119.6 21.4h0M125.2 35h0M98.4 62.2h0M96.7 67.8h0M116.2 14.4h0M125.2 37.3h0M95.9 29.9h0M97.3 60.9h0M99.3 20.5h0M109.6 11.8h0M118.2 19.2h0M112.2 67h0M122.2 36h0M96.3 30h0M95.6 30.6h0M122.8 34h0M95.6 44.6h0M105.9 68.7h0M108 67.5h0M120.5 24.9h0M95.7 47.7h0M111.6 13.7h0M104.7 72.4h0M95.8 27.4h0M121.2 50.8h0M94.8 55.2h0M120.2 63.5h0M122.8 33.1h0M113.7 68.4h0M113.2 14.5h0M104.1 65h0M90.2 44.5h0M93.8 41.5h0M103.2 68.6h0M123.9 44.4h0M90.1 32.4h0M122.1 12.1h0M116.8 16.8h0M98 59.9h0M123.9 24.5h0M116.9 12.7h0M113.5 13.4h0M127.2 26.6h0M90.6 56.8h0M117.7 16.3h0M101.1 14.2h0M99 21.2h0M95.4 43.3h0M106.9 11.7h0M127.1 32.4h0M114.7 14.5h0M90.9 32h0M100.1 63.4h0M124 45.3h0M94.2 39.7h0M126.9 43.1h0M121 28.4h0M121.3 29.6h0M122.8 35.7h0M91.7 36.6h0M95.5 33.9h0M109.8 68.7h0M94.6 44.7h0M107.7 2.4h0M110 67.5h0M120.2 54.7h0M109.1 68h0M94.2 27.2h0M107.9 5.6h0M107.9 12.7h0M119.1 59h0M110.2 68h0M112.6 6.4h0M96.5 24h0M89.6 49.5h0M113.5 67h0M84.7 59.6h0M71.5 64.2h0M139.9 71.2h0M84.9 70.6h0M116.9 65.5h0M74.5 62.6h0M82.3 60.4h0M116 63.3h0M117.1 65.6h0M84.2 68.1h0M114.9 60.8h0M82 57.9h0M107.4 52.9h0M92.7 54.5h0M94.5 55h0M95.9 72.9h0M87.6 53.2h0M78.8 61h0M82 61.2h0M86 56.4h0M68.3 57.1h0M94.2 49.8h0M118.4 61.9h0M82.4 67.7h0M89 73.3h0M82.8 63.2h0M107.7 56.5h0M117.9 64.1h0M116.4 69.5h0M100.1 54.5h0M112.5 56.8h0M110.1 70.4h0M111.6 70.7h0M121.4 62.5h0M101.5 83.6h0M118.5 64h0M99.7 73.1h0M114.6 62.4h0M101.4 73.7h0M81.2 71.3h0M113.6 57.6h0M114 72.6h0M78.9 68.2h0M119.4 68.1h0M89.7 57.3h0M92.3 73.1h0M111.7 47.5h0M117.4 62.6h0M83 67.6h0M105.4 72.4h0M117.7 65.8h0M87.5 69.9h0M91.6 56.6h0M93.6 55.2h0M81.5 60.6h0M113.6 59h0M90.9 79.6h0M82.2 65h0M107.2 71.7h0M95.9 72.3h0M98.3 75.3h0M83.8 58.7h0M115.1 60.2h0M117.7 69.3h0M84.1 62.6h0M118.8 60.5h0M64.3 67.6h0M81.9 67.6h0M96.3 45h0M83.5 60.6h0"/></g>
<g id="S_IFNb"><path stroke="none" d="M118.2 83.5L117.3 86.1L116.7 88.7L115.2 91.1L112.2 92.9L111.8 95.8L109.3 97.8L105 98.2L102.1 99.7L99.5 101.9L96 102.8L92.2 103.4L88.3 104L84.6 102.7L80.4 103.4L76.8 102.2L74.5 99.6L70.4 99L67.8 97L64.8 95.2L62.5 92.9L63 89.8L62.2 87.3L60.8 84.8L63.3 82.3L63.7 79.9L63.3 77.3L64 74.7L66.3 72.6L68.2 70.3L70.5 68.1L73.4 66.3L77.5 65.9L81.3 65.7L84.8 65.1L88.4 64.6L92.2 63.6L96.1 63.7L99.3 65.6L103.1 66.1L105.9 67.9L108.7 69.6L111.4 71.5L113.6 73.6L114.6 76.1L117.2 78.2L118.1 80.8ZM61.1 52.1L61.4 57L61.2 60.6L61.1 64.3L60.2 65.6L59.2 65.3L58.2 65.1L57 63.2L55.8 59.9L54.8 55.4L54.1 50.6L53.5 45.4L53.6 40.9L54.6 39.8L55.8 41.1L56.6 40.5L57.7 40.6L58.9 43.2L60.2 47Z"/><path fill="none" stroke-width="2.2" stroke-linecap="round" d="M121.2 87.8h0M114.5 94.5h0M93.9 60.8h0M79.5 105.3h0M60 78.1h0M68.1 97.6h0M62.5 59.1h0M112.4 96.8h0M60.2 83.9h0M120.9 85h0M118.9 80.4h0M67.5 97h0M76.5 60.3h0M54.2 91.3h0M59 81.2h0M93 64.7h0M58.1 83.8h0M78.8 64.5h0M61.4 78.7h0M116.7 76.2h0M60.1 78.2h0M63.2 96.5h0M76.8 101.2h0M68.5 98.4h0M76.8 105.2h0M63.3 89.7h0M97.6 63h0M118.5 82.5h0M60.4 87.8h0M118.4 82.7h0M73.5 99.7h0M66.8 71.8h0M84.4 102.7h0M119.6 84.3h0M79.4 103.2h0M118.9 95.1h0M87.7 106.4h0M100.4 102.6h0M63.2 102.5h0M63.8 73.7h0M111.8 72.7h0M107.5 103.3h0M83.1 101.9h0M88.2 105.4h0M112.9 97.6h0M74 66.8h0M99.6 101h0M57.5 89.2h0M88.1 111h0M67.5 99.8h0M82.6 65.1h0M95.8 63.3h0M56.3 81.3h0M120.1 87.6h0M61.1 78.2h0M83.3 61.7h0M104.8 99.1h0M60.2 82.6h0M62 87.5h0M60.7 77.2h0M71.4 65.6h0M116.8 75h0M63.2 73.1h0M106.1 68.2h0M120.9 82.1h0M78.5 102.1h0M131 93.9h0M109.2 66.6h0M89.4 63.9h0M88.5 64.3h0M97 104.7h0M79.7 63.8h0M60.7 66.6h0M84.4 106.8h0M114.9 93.8h0M58.4 92.7h0M100.4 66.2h0M80.5 101.5h0M61.9 84h0M110.1 71.2h0M82.3 55h0M94.9 104.2h0M54.2 81.5h0M70.9 69.2h0M69.9 99.9h0M62.7 87.8h0M105.7 67.4h0M92 103.8h0M68.8 102.2h0M88.1 63h0M90.6 62.9h0M94.8 64.5h0M97.9 62.7h0M62.7 73.3h0M92.6 62.4h0M119.7 67.6h0M112.7 69.5h0M61 88.5h0M60.8 105.6h0M114.3 69.5h0M125.3 69.1h0M115.7 78.1h0M69.4 99.5h0M64 72.1h0M113.9 70.7h0M73.2 102.2h0M70.3 66.2h0M118 89.2h0M96 102.1h0M61.9 91.4h0M89 106.1h0M62.8 94.9h0M93.2 64.8h0M101.7 101.2h0M60.8 84.2h0M107 100.7h0M69.6 68.7h0M61.6 90.2h0M107 67.1h0M86.5 102.4h0M58.7 74.8h0M89 103.2h0M76.6 66h0M59.4 87.5h0M59.4 81.9h0M115.2 68.5h0M69.4 102.2h0M67.8 97.2h0M104.8 63.6h0M59.9 82.2h0M64.7 71.4h0M99.8 62.1h0M110.4 97.9h0M114 69.9h0M118.4 91.6h0M58.1 67.1h0M61.5 55.7h0M57.5 65.2h0M56 37.2h0M60.8 48h0M55 58.4h0M53.1 38.2h0M61.1 46.6h0M53.4 44.2h0M60.8 48.6h0M61.7 64.7h0M53.5 47.7h0M60.8 47.5h0M61.2 67.1h0M53 52.7h0M59.6 42.4h0M55.2 63.9h0M61.3 51.5h0M56.9 64.3h0M53.7 56.5h0M54.4 38.4h0M62.3 67.7h0M55.3 64.3h0M59.3 66.9h0M62.9 66.1h0M60.8 68.4h0M54.5 31.9h0M53.5 48.5h0M62.2 58.6h0M62.6 51.4h0M60 68.9h0M59.4 69.5h0"/></g>
<g id="S_Th0"><path stroke="none" d="M140.2 19.5L140.2 22.1L138.8 24.5L137 26.9L134.2 28.8L130.4 29.2L126.7 30.6L122.6 30.6L119.6 28.4L117.2 26.4L114.7 24.5L114 21.9L113.6 19.5L113.1 16.9L113.6 14L115.4 11.4L119.4 10.3L123.1 9.8L126.7 9.4L130.5 9.3L134 10.4L136.9 12.2L138.8 14.5L139.9 16.9ZM163.4 15.9L163 18.8L162.7 22.1L160.1 24.4L156.8 25.6L153.9 27.5L150.2 28.1L147 26.3L143.6 25.4L141.3 23L139.4 20.4L139.7 17.3L139.5 14.5L139.5 11.4L141.3 8.7L143.4 6.1L147 5.4L150.3 4L153.9 4.2L156.7 6.5L159.7 7.8L162.6 9.7L163.6 12.8ZM115 42.5L113.9 46.5L113.7 50.7L113.2 55.5L111.5 57.8L109.8 58.7L108 59.2L106.2 59.3L104.6 57.4L102.7 55.8L102.2 51L101.7 46.7L101.2 42.5L101.2 38L102 33.9L103.5 31.1L104.7 28.3L106.3 26.3L108 25.7L110 24L111.8 26.2L113 30.2L113.9 34L114.6 38.1Z"/><path fill="none" stroke-width="2.2" stroke-linecap="round" d="M140.4 26.2h0M112.4 17.2h0M138.7 13.8h0M124.3 8.4h0M129.8 8.2h0M109.7 19.3h0M130.7 30.5h0M142.4 13.9h0M117.9 29.7h0M109.2 30.8h0M113.1 16.4h0M118.9 29.3h0M139.3 13.8h0M120.4 4.1h0M130 6.1h0M146.8 11.1h0M109.4 17.5h0M111.1 27.5h0M125.3 9.2h0M127.8 7h0M126.3 5.9h0M108.9 15.3h0M127.1 30.2h0M120.8 29.8h0M147 17.9h0M112.7 17h0M139.3 11.9h0M134.2 9.7h0M119.9 29.5h0M140.3 15h0M120.6 6.5h0M118.1 27.9h0M111 21h0M125.6 29.8h0M113.5 25.3h0M136.3 27.8h0M122.5 29.6h0M125.6 8.2h0M120.4 9.4h0M122.6 9.4h0M138.6 12h0M128 8.2h0M111.9 25.5h0M118.2 10.7h0M136.3 9h0M124.8 30h0M147.1 24h0M110.5 25h0M138.1 28.6h0M120.9 29.6h0M138.2 13.7h0M142.5 14.1h0M112.4 16.2h0M134 30.1h0M145.8 10.5h0M131.6 31.5h0M127.4 5.4h0M118.7 31.1h0M119.6 10.4h0M138.5 27.2h0M110.9 17.4h0M117.8 30.7h0M112.3 24.2h0M155.2 9.4h0M129.1 8.9h0M124.4 8.1h0M132.6 4.7h0M112.6 17.3h0M138.6 29.8h0M115.9 12.4h0M146.5 26.3h0M163.2 9.5h0M145.6 3.7h0M138.7 17.1h0M158.4 25.7h0M159.3 24.9h0M143.5 6.9h0M150.6 1.9h0M164.3 10.8h0M149.2 27.6h0M139 25h0M140.5 26.4h0M142.6 26.4h0M138.3 5.9h0M164.1 11.5h0M133.7 4.8h0M154.9 27.5h0M143 24.3h0M162.3 23.4h0M139 20.5h0M166.8 7.2h0M142.2 3.7h0M164.1 17.4h0M163.6 12.1h0M161.6 23.2h0M145 27.1h0M138.6 3.2h0M163.5 20.6h0M139.4 5.1h0M168.6 18.5h0M139 9.2h0M139.8 25h0M143.2 7h0M150.7 33.6h0M163.2 10.4h0M139.3 24.6h0M144.7 3.4h0M163.6 12.3h0M165.6 9.8h0M161.2 4.7h0M151.5 27.3h0M154.3 4.5h0M159.3 26.8h0M146.6 1.9h0M138.1 19.3h0M166.3 11.9h0M154.5 26.5h0M163.5 19.8h0M156 27.7h0M148.6 26.6h0M135.6 25.2h0M148.2 4.8h0M144.9 5.9h0M157.6 25.7h0M149.7 4.5h0M144 6.6h0M134 10.1h0M131.7 3.2h0M138.3 16.8h0M137.6 16.8h0M152 29.3h0M151.1 4.8h0M137.9 20h0M157.4 26.3h0M166.1 26.2h0M172.1 28.1h0M145 28.5h0M116.1 56.8h0M99.9 38.3h0M101.2 19.2h0M114.3 27h0M115.5 32.7h0M115.4 31.9h0M113.9 54.6h0M99.6 14h0M98.7 54.6h0M112.9 25.1h0M111 60.7h0M116.4 42.6h0M115.2 42.3h0M100.8 29.3h0M112.4 62.5h0M114.5 59.7h0M115.5 31.1h0M111.3 64.2h0M99.1 50.5h0M115.8 53.1h0M108.6 64.1h0M99.8 65h0M112.2 25.7h0M103.9 59.2h0M120.5 55.6h0M104.5 67.5h0M116.2 34.2h0M107.7 23.4h0M127.2 40.7h0M99.8 28h0M97.7 41.2h0M115.2 56h0M102.7 25.6h0M115.2 57.1h0M102.1 60h0M114.4 55.8h0M116.4 53.2h0M115.3 42.9h0M116.7 34.3h0M108.3 23.9h0M103.1 58.2h0M102.7 60.7h0M100.6 30.9h0M109.4 64.3h0M105.1 58h0M104.5 57.1h0M102.7 64.4h0M108.1 15.3h0M100.9 44.8h0M110.5 22.2h0M101.3 24.6h0M103 58.5h0M86.2 34.6h0M102.9 53.6h0M111.9 57.5h0M104.2 65.7h0M109.3 25.4h0M103.3 63.1h0M106.7 59.5h0M109.6 63.8h0M99.1 31.6h0M98.9 43.4h0M101.3 33.9h0M104.4 26.1h0M103.4 29.2h0M105.2 26.6h0M110.4 61.5h0M114.4 34.6h0M103.4 27h0M99.6 52.6h0M114.1 64.7h0"/></g>
<g id="S_Th2L"><path stroke="none" d="M134.2 56.2L133.8 59.2L132.7 62.1L130.9 64.7L128.5 66.7L125.4 67.4L122.4 68.4L119.2 68.1L115.8 67.6L113.1 65.5L110.7 62.9L110.8 59.3L111.3 56.2L111.4 53.2L111.4 49.8L113.9 47.6L116.5 46L119.3 44.7L122.4 45L125.7 44L128.7 45.3L131.2 47.4L134 49.5L135.1 52.8Z"/><path fill="none" stroke-width="2.2" stroke-linecap="round" d="M125.3 68.2h0M109.3 51.5h0M117.3 67.7h0M108 57.2h0M107.9 55h0M138.4 47.4h0M114.1 46.5h0M110.4 59.7h0M112.5 45.1h0M134.5 54.8h0M132.6 64h0M115 67h0M130.5 77.1h0M140.8 58.9h0M109.2 56.1h0M136.7 47.9h0M115.4 45h0M131.6 64.7h0M120.9 76.5h0M125.8 69.3h0M119.1 43.6h0M126.5 42.6h0M103.1 69.7h0M137.2 48.9h0M124.6 72.7h0M117.2 71.3h0M133.8 45.1h0M136.1 57.3h0M133.4 49.8h0M110.4 54h0M135.1 72.7h0M120.3 68.3h0M127.3 42.7h0M110.3 51.9h0M132.2 64.5h0M129.9 66.9h0M134.2 63.2h0M114.4 65.6h0M120.2 42.6h0M106.2 55.7h0M123 43.7h0M133.9 60.6h0M112.8 48.4h0M114.5 44.1h0M123 43.5h0M120.7 70.8h0M109.1 66.9h0M128 80.5h0M132.3 63.6h0M106.5 64.3h0M126 42.7h0M120 42.4h0M116.2 68.3h0M122.4 36.9h0M110.6 46.5h0M131.2 47h0M108.5 65.4h0M117.3 68.1h0M138.2 39.8h0M109.6 50h0M126.2 71.7h0M131 45.9h0M133.2 50.5h0M132.1 45.1h0M132.6 62.8h0M110.7 48.3h0M114.9 42.9h0M123.1 69h0M109.3 59.1h0"/></g>
<g id="S_Th2R"><path stroke="none" d="M168.3 42.5L166.8 45.5L165.8 48.6L163.4 51L160.1 51.8L156.6 51.5L154 49L152.3 46L151.4 42.5L153.8 39.7L153.9 35.9L156.8 34L160.1 33.2L163.3 34.3L165.7 36.5L168.2 38.9ZM170.8 62.7L171.4 65.8L171 69.2L169.6 72.4L166.8 74.3L163.7 75.5L160.7 76.4L157.7 75.5L154.4 76.3L151.1 75.7L147.9 74.1L146.9 70.5L146.4 67.1L144.8 64.3L145.4 61.1L145.1 57.7L146.7 54.7L148.9 52.3L151.8 51L154.4 49.1L157.6 48.1L160.9 47.6L163.7 49.9L165.8 52.4L168.5 53.9L169.8 56.7L171.1 59.5Z"/><path fill="none" stroke-width="2.2" stroke-linecap="round" d="M165.8 51.7h0M150.1 30.8h0M163.9 51h0M153.8 48.9h0M161.5 51.3h0M170.3 41.5h0M158 34h0M169 41.5h0M159.4 30.7h0M166 48.9h0M162.6 54.2h0M154.5 35.1h0M171.9 46.7h0M171.9 43h0M162.7 52h0M162.8 53.4h0M166 48.5h0M161.7 53.5h0M163.3 51.2h0M169.3 45.7h0M171.3 43.4h0M151.2 41.1h0M152.6 52h0M156.9 54h0M151.5 45.9h0M166.7 33.4h0M173.1 41.4h0M156 50.6h0M156.3 30.6h0M153.6 33.6h0M169.5 42.6h0M165.1 34.1h0M165.1 35h0M163.2 51.6h0M161 56.6h0M165 51.1h0M162.7 27.6h0M163.6 50.7h0M168.1 35h0M173 37.3h0M168.8 36.5h0M157.4 31h0M164.5 32.6h0M176.3 33.3h0M166.8 35.2h0M170.6 42.8h0M171.7 29.6h0M166.4 48.2h0M172.7 56h0M142.1 67.5h0M155.2 48.4h0M171.9 68.6h0M165.4 49.9h0M144.5 61.5h0M146.3 49.4h0M167 45.8h0M153.5 49.1h0M172 61.6h0M172.1 68.5h0M173.6 73.8h0M169.4 48.4h0M165.2 76.9h0M172.1 51.4h0M145.2 74.4h0M162.2 78.3h0M168.2 75.2h0M176.6 65.5h0M160.7 77.6h0M142.9 63.6h0M144.8 65.6h0M162.6 77.4h0M171.6 66h0M144.9 64.4h0M174.5 68.1h0M143 63.1h0M143.9 66.9h0M138 60h0M165.4 49.7h0M171.4 69.3h0M145.9 69.7h0M146.9 75h0M169.2 52.5h0M169.9 69.7h0M172.5 51.7h0M153.8 46.4h0M171.3 55.2h0M163.4 77.5h0M173.1 59.9h0M167.6 52.6h0M174.3 68.2h0M153.1 76.9h0M162.7 45.9h0M161.9 48.6h0M145.5 67.1h0M144.6 60h0M174.8 68.9h0M146.7 69.6h0M167.1 52.1h0M177.2 66.7h0M163.2 48.4h0M162 42.6h0M150.2 50.6h0M154.8 47.4h0M144.9 52.7h0M145.5 66.1h0M167.6 76.8h0M146.8 70.3h0M171.9 54.1h0M169 70.8h0M154.9 49.4h0M158.3 77.1h0M150.6 49.1h0M166.6 77.3h0M148.6 73.1h0M146 70.9h0M141.7 54.6h0M166.1 50.8h0M158.9 48.2h0M168.5 74.6h0M172.8 67.9h0M151 74.9h0M145 59.1h0M147.5 72.4h0M152.2 50.2h0M167.8 52.5h0M156.3 47.6h0"/></g>
<g id="S_Th1"><path stroke="none" d="M103.7 28.1L101.3 31.5L101.1 34.9L100.4 38.1L100.5 42.1L100.7 46.8L99.4 50L98.7 54.9L96.8 57.5L94.9 60L92.4 60.3L90.3 62.6L87.9 62.8L85.5 64.3L83 64.6L81.1 60.3L78.8 59.1L77.1 56.1L76.3 51.3L75.5 47.6L73.8 45.4L72.8 42.3L71.5 39.3L70.1 36L69.9 32L68.4 28.1L68.6 23.9L70 20.2L71.2 16.8L72.2 13.4L72.9 9.6L74.1 6.2L75.6 3.4L77 -0.2L78.7 -3.1L80.7 -5.9L83.4 -4.4L85.5 -6.5L87.9 -5.4L90.1 -4.8L92.5 -4.7L94.1 -0.9L96.4 0.1L98.6 1.8L99.2 6.5L101.1 8.9L101.8 12.8L103.6 15.8L103.9 20L102.9 24.4ZM100.4 51.1L99.1 53.9L98.3 56.6L97.4 59.6L95.4 62.2L91.8 63.1L88.4 63.9L85.1 63.3L81.7 64.5L77.8 64.9L75 62.8L71.9 61.1L70.7 58.1L69.4 55.4L68.9 52.6L68.2 49.7L70.1 47.1L70.3 44L72.7 41.9L74.9 39.4L78.1 38L81.9 38.8L85.1 38.5L88.7 37.8L92.5 38L95.3 40.1L96.8 43.1L98.1 45.7L99.9 48.2ZM115.3 5.1L114.3 8.1L113.1 10.9L110.4 12.4L108.3 15L105.1 16.9L101.5 16.2L99 13.6L96.4 11.5L95.6 8.2L95.3 5.1L96.6 2.3L97.3 -0.6L99.1 -3.2L101.9 -5L105.1 -5.2L108.5 -5.1L111.8 -4.1L113.9 -1.3L115.2 1.8Z"/><path fill="none" stroke-width="2.2" stroke-linecap="round" d="M67.1 44.2h0M81.3 62h0M90.9 -4.2h0M103.7 20.4h0M68.1 34.5h0M93.8 59.1h0M72.3 63h0M98 -3.2h0M65.7 39.6h0M104.7 21.4h0M77.9 61.2h0M93.4 -8.3h0M69.4 32.5h0M78.1 -0.8h0M68.5 1.3h0M95.6 -5.2h0M72 54.5h0M105.3 22.9h0M100 60.6h0M78.9 58.1h0M79.8 -7h0M89 59.5h0M70.8 40.6h0M74.2 67h0M102.1 9.7h0M104.5 39.1h0M67.6 22.1h0M73.3 48.2h0M88.5 60.3h0M107.2 30.9h0M91.8 60.2h0M102.9 43.4h0M94.2 -5.4h0M75.9 2.8h0M98.8 53.8h0M100 47.9h0M104.5 24.8h0M105.7 25.5h0M70.5 7.5h0M73.3 55.3h0M96 56.9h0M98.6 50.9h0M72.2 49.3h0M92.8 58.5h0M90 63.6h0M76.8 2.4h0M102.7 42.8h0M98.7 0.8h0M105.2 18.6h0M68 23h0M99.9 3h0M86.8 61.7h0M81.8 -2.3h0M74.5 3.7h0M96.6 1.8h0M102.5 8.9h0M103.9 26.4h0M104.4 15h0M85 -3.5h0M73 52.4h0M103 40h0M86.3 62.1h0M70.4 16.9h0M67.8 3.7h0M111 -6.4h0M70 43.6h0M86.3 59.6h0M68.8 40.2h0M95.3 -6.1h0M89.9 -9.9h0M90.2 62.1h0M76.5 55.8h0M103.6 38.7h0M107 30.9h0M106 9.7h0M80.3 58.8h0M105.8 29.3h0M86.7 60.9h0M103.6 41.1h0M95.9 0.6h0M103.7 47.3h0M104.6 37.4h0M66.2 41.1h0M100.9 9.6h0M69.1 21.5h0M65.1 23.8h0M77.8 58h0M104.8 25.1h0M71.4 13.9h0M104.2 13.7h0M82.7 -2.6h0M106 7.8h0M105.7 39h0M65.9 31.2h0M84 59.4h0M68.5 20.6h0M77.9 0.3h0M90.8 59.8h0M104.4 32.7h0M75.7 -1.7h0M103.6 8.3h0M76.4 56.1h0M73.7 49.8h0M70.1 1.1h0M76.1 1.7h0M101.2 49.5h0M77.1 -4h0M75.4 2.4h0M68.5 44.2h0M98.2 52.4h0M68.4 27.8h0M82.8 -13.6h0M68.6 27.8h0M68.2 33.3h0M110 33.8h0M72.1 46.9h0M75.7 59.7h0M99.1 5.6h0M104.8 45.3h0M95 -4.2h0M98.1 -4.5h0M90.3 -8.6h0M69.8 4.4h0M104.7 16.5h0M107.4 57.6h0M101.9 3.9h0M79.5 -5.1h0M92.9 -1.4h0M67.9 41.9h0M68.1 16h0M78.4 -4.6h0M74.8 55.8h0M91.5 58.9h0M104.7 34.5h0M101.7 48.9h0M101 48.9h0M71.2 12.2h0M75.9 0.2h0M64.9 47.5h0M85.6 68h0M73 5.5h0M92 60h0M77.8 55.8h0M102.4 7.1h0M97.4 41.2h0M103.1 51h0M77.2 38h0M100.4 51h0M100.3 43.9h0M79.2 65.8h0M105.1 36.7h0M75.3 38.4h0M86.6 33.7h0M96.3 42.4h0M68.6 53.9h0M95.6 40.8h0M69 46.3h0M105 55.2h0M66.3 53.6h0M94.5 61.4h0M96.8 61.8h0M84.9 37.4h0M89.7 64.4h0M76.5 25.3h0M101.7 47.7h0M66.2 49.6h0M88.2 66.8h0M70.1 57.7h0M82.5 37.5h0M84.9 66.4h0M83.1 36.9h0M86.1 65h0M91.2 63.2h0M71.4 43.1h0M95.9 63.5h0M97.4 41.3h0M99 61.3h0M85.9 68.5h0M69.3 55.2h0M87 64.7h0M100.4 62.2h0M67.5 42.6h0M71.6 38.6h0M99.9 46.5h0M83.9 64.4h0M77.2 65.5h0M74.3 35.5h0M75.1 38.7h0M76.5 39.3h0M100.9 44.9h0M103.5 40.9h0M73.1 39.6h0M102.4 52.1h0M102.4 49h0M106.1 42.4h0M79.2 34h0M95 62.7h0M86.5 36.5h0M95.5 60.9h0M67.6 55h0M101.1 36.7h0M97 42.3h0M102.1 49.9h0M93.7 64.1h0M91.8 37.2h0M96 38.8h0M70.3 61.7h0M102.5 55.2h0M62.6 72.5h0M68.3 58.9h0M66.9 48.4h0M91.8 64.1h0M68.9 44.6h0M81.3 65.2h0M71 39.3h0M102.9 68h0M75.9 64.4h0M95.7 41.9h0M65 47.4h0M86.1 37h0M75.6 30.9h0M68.9 54.2h0M68.5 40.4h0M79.4 67.9h0M75.3 39.4h0M83 65.4h0M94.5 61.9h0M91 68h0M109.4 15.5h0M109.6 -5.3h0M90.3 5.6h0M100 -5h0M94.8 8.7h0M104.3 16.8h0M98.9 15.2h0M114.8 -4.2h0M112.5 -7.4h0M109.2 17.1h0M104.9 -7.5h0M114.8 8.4h0M113.8 12.6h0M93.8 0.7h0M96 -1.4h0M124.8 6.8h0M116.5 9.3h0M105.1 17.4h0M92.8 3h0M105.5 15.6h0M113.7 12.9h0M114.7 -0.9h0M96.8 -0.5h0M98 14.3h0M98.1 -2.4h0M99.9 -5.2h0M134.2 0.5h0M114 -2.6h0M115.4 8.6h0M115.9 14.1h0M110.4 15.2h0M101.3 16.3h0M92.9 8.5h0M115 1.1h0M115.5 6.9h0M114.6 -5.5h0M117.4 4.8h0M97.9 12.4h0M114.4 -0.4h0M95.2 7.1h0M120.1 2.4h0M116.5 3.1h0M93.4 13.7h0M114.3 11h0M114.5 -0.7h0M95.1 -2.1h0M94 2.1h0M108.8 -4.7h0M116 13.6h0M117 9.8h0M114.5 10.4h0M94.3 8.3h0M107.9 -5.7h0M101 -5.7h0M102.2 -5h0M124.2 5.7h0M111.6 -4.9h0M98.7 14.5h0"/></g>
<g id="S_iTregT"><path stroke="none" d="M134.6 -89.1L133.5 -85.7L132 -82.6L131.6 -79L129.3 -76.6L126.6 -75.2L124.4 -73L121.6 -72.5L118.8 -71.6L115.8 -71.2L113.2 -73.1L110.3 -74L108 -76.3L105.6 -78.6L104.1 -81.9L103.5 -85.5L103.6 -89.1L102.9 -92.9L104 -96.5L107 -98.5L108.2 -101.8L110.9 -103.2L113.1 -105.5L115.9 -106.3L118.8 -106.3L121.7 -106.2L124.9 -106.7L127.5 -104.7L129.3 -101.7L132 -99.7L133.9 -96.6L134.4 -92.8Z"/><path fill="none" stroke-width="2.2" stroke-linecap="round" d="M125.9 -108.2h0M106.9 -71.3h0M130.5 -100.7h0M128.4 -71.7h0M134.9 -73.8h0M132.3 -99.2h0M106.4 -101h0M113.2 -73h0M117.6 -106.7h0M133.5 -88.6h0M132.7 -95.2h0M103.8 -82.1h0M123.6 -65.6h0M103.1 -79.2h0M135.4 -81.4h0M133.5 -93.9h0M127.2 -68.2h0M104.1 -96.8h0M113.5 -71.9h0M122.6 -109.9h0M128.6 -103.6h0M131 -105.4h0M113.7 -72.3h0M135.2 -92.4h0M137.6 -89.6h0M133.5 -92.4h0M133.3 -105h0M131.8 -77.4h0M104.2 -81.2h0M146 -81.2h0M128.5 -75.9h0M132.9 -81.4h0M134.5 -87h0M133.4 -100.6h0M129 -103.3h0M106.9 -76.2h0M105.5 -73.6h0M106.3 -79.1h0M116.6 -112.8h0M134.9 -79.7h0M131.7 -79.5h0M106.6 -76.3h0M97.7 -85.7h0M133.7 -83h0M129.1 -70.2h0M100.9 -85.7h0M134.7 -83.7h0M126.3 -109.3h0M133.2 -102.2h0M119.8 -109.4h0M108.5 -68.8h0M142.8 -90.4h0M115.4 -114.5h0M103.6 -90.3h0M106.1 -101.2h0M99.9 -76.2h0M106.6 -75.8h0M129.1 -75.8h0M130.6 -77.7h0M130.9 -99.1h0M108 -105.1h0M140.3 -95.4h0M122.8 -106.4h0M130 -77.4h0M135.1 -83.8h0M129.5 -74.8h0M126.1 -72.2h0M125.7 -106.3h0M134.3 -93.5h0M133.2 -94.8h0M119.9 -67.9h0M105.6 -80.2h0M129.7 -108h0M102.3 -65.9h0M102.7 -93.6h0M137.1 -90.2h0M128.4 -74.8h0M107.1 -76.6h0M101.6 -100.4h0M132.6 -101.7h0M134.5 -91.3h0M128.4 -105.8h0M133.7 -99.4h0M119 -106.8h0M105.5 -101h0M102.3 -84.6h0M128.9 -63.4h0M111.3 -107.3h0M119.2 -108.2h0M134.9 -93.7h0M132.2 -79.3h0M106.1 -79.9h0M104.5 -83.6h0"/></g>
<g id="S_gbit"><path stroke="none" d="M126.5 -15.4L126.2 -13.6L125.1 -11.6L122.4 -10L119.2 -8.5L115.8 -8L112.7 -8.3L112.4 -10.3L111.8 -12L114.2 -14.1L116.7 -15.8L119.8 -17L123.7 -18.4L125.6 -16.9Z"/><path fill="none" stroke-width="2.2" stroke-linecap="round" d="M112.5 -9.1h0M115.1 -7.8h0M118.4 -18.6h0M120.4 -18.9h0M123 -17.7h0M116.9 -6.2h0M125.1 -17.8h0M128.5 -15.6h0M116.2 -16.1h0M110.2 -9.1h0M124.6 -9.2h0M112.3 -13.1h0M115.2 -15.7h0M111.3 -6.8h0M121.9 -19h0M111.4 -9.1h0M128.3 -15.8h0M111.9 -10.4h0M126.8 -16.7h0M128.6 -16.1h0"/></g>
<g id="S_iTregR"><path stroke="none" d="M197.8 -32.3L197.8 -28.8L197.5 -25.3L195.3 -22.3L193.2 -19.7L190.7 -17.5L189.3 -14.6L187.8 -11.6L184.6 -10.7L182.6 -8L180.6 -4.6L177 -4.8L174.1 -2.7L170.7 -3.2L167.6 -4.8L164.5 -5.4L161.3 -5.4L158.6 -7.4L156.8 -10.4L154.3 -12.1L151.9 -13.9L149.8 -16.1L147.1 -18.1L145.6 -21L142.3 -23.4L141.6 -26.9L141 -30.5L140.2 -34.2L141.8 -37.6L143.1 -40.9L145.7 -43.5L147.6 -46.2L148.2 -49.8L151.4 -51.2L154.2 -52.7L157 -53.8L159.4 -55.4L161.7 -57.7L164.4 -59.6L167.4 -61.2L170.7 -60.4L173.8 -60.1L176.9 -59.4L179.4 -57.1L182.6 -56.6L185.6 -55.3L188.2 -53.4L190 -50.6L191.2 -47.4L194.2 -45.5L194.8 -42.1L196.5 -39.1L195.9 -35.6Z"/><path fill="none" stroke-width="2.2" stroke-linecap="round" d="M194.3 -22.3h0M200.1 -26.5h0M153 -53.5h0M198.2 -29.4h0M148.4 -49.7h0M193.9 -22.4h0M169.1 -5.1h0M143.3 -27.2h0M185.2 -58.6h0M148.5 -13.1h0M164.5 -59.3h0M183.9 -9h0M175.2 -61.5h0M187.1 -9h0M197.6 -29.6h0M182.2 -61.9h0M189.9 -12.6h0M167.4 -4.7h0M157.5 -8h0M190.4 -12.8h0M147.7 -48.5h0M143.5 -32h0M174 -4.2h0M163.8 -4.7h0M151.4 -8.9h0M181.5 -6.3h0M165.7 -0.9h0M188.4 -12.6h0M146.9 -13h0M143.4 -36.8h0M181.5 -2.6h0M159 -58h0M185.6 -7.7h0M190.6 -13.8h0M159.9 -61.4h0M142.4 -37.1h0M195.6 -41.6h0M141.6 -14.4h0M164.9 -60.5h0M196.5 -27.7h0M156.7 -6.1h0M169.7 -59.6h0M142.3 -29.1h0M178.3 -58.7h0M188.6 -52.8h0M163.4 -2.2h0M172.1 -62.6h0M169.8 -59.8h0M142.7 -35.4h0M165.5 -63.7h0M173.6 -2.6h0M190.8 -52.7h0M195.9 -23.1h0M167.1 -4.3h0M154.4 -7.4h0M136.9 -28.9h0M148.7 -58.1h0M190 -14.5h0M206.3 -18.4h0M191.5 -51.9h0M144.9 -45.3h0M145.2 -19.7h0M186.3 -53.5h0M142.5 -29.6h0M185.9 -8.5h0M192.4 -18.4h0M139 -24.1h0M196.4 -28.5h0M198.1 -39.5h0M189.8 -53.9h0M142.4 -22.9h0M195.9 -42.2h0M154.1 -7h0M157.1 -1.5h0M150 -54.6h0M197 -28.8h0M144 -35.6h0M192.1 -11.3h0M196 -65.7h0M196.8 -47.6h0M197 -30.8h0M199.1 -31.6h0M147.9 -15.1h0M148.2 -16.8h0M146.9 -19.1h0M182.3 -7.1h0M163.3 -1.1h0M172.9 -5.3h0M156.2 -7.6h0M141.8 -30.4h0M142.5 -40.6h0M197.1 -31.9h0M178.1 -59.1h0M176.8 -4.4h0M198.9 -26.4h0M191 -16.2h0M189.2 -12.6h0M196.6 -32.9h0M148.2 -14.3h0M168.9 -61.5h0M175.7 -3.9h0M184 -8.7h0M147.1 -19.3h0M159 -60.6h0M146.4 -44.5h0M146.8 -18.1h0M152.1 -10.5h0M194.3 -20.9h0M179.4 -59.6h0M146.4 -17.6h0M137.4 -46.4h0M186.6 -53.2h0M195.9 -41.2h0M165.5 0.2h0M158.5 -63.5h0M140.9 -23h0M186 -53.9h0M155.6 -55.7h0M172.7 -67.4h0M181.6 -5h0M176.5 -59.9h0M199.1 -25.7h0M180.2 -3.8h0M194.4 -19.1h0M163.5 -59.8h0M184.4 -8.8h0M144.2 -20h0M141.7 -42.8h0M143.5 -32.5h0M142.5 -32.1h0M143.5 -49.1h0M144.5 -22.4h0M170.3 -4.5h0M150.9 -55.2h0M149.8 -6h0M142.5 -35.5h0M157.4 -58.7h0M155.5 -57.7h0M152.8 -53.6h0M189.8 -10.7h0M129.5 -44.4h0M177.8 -59.1h0M167.1 -3.4h0M196.4 -34h0M195.3 -41.6h0M150.8 -51.5h0M147.8 -17.6h0M196.6 -41.9h0M156.4 -56.5h0M193.2 -58.5h0M143.7 -35.8h0M178.6 -59h0M194.9 -43.6h0M170.2 -59.6h0"/></g>
<g id="S_Th17"><path stroke="none" d="M118.6 -68.6L119.9 -64.9L119.1 -61.1L119 -57.5L117.1 -54.3L116.2 -51.1L113.4 -49.1L112 -46.5L110.9 -43.8L110.8 -39.9L109.6 -36.6L106.8 -35.4L105.4 -31.9L103.7 -28.3L100.8 -27L97.6 -26.9L94.7 -25.5L91.4 -27.1L88.5 -30.8L85.7 -30.9L83.1 -32.6L80.4 -33.6L77.6 -34.8L74.5 -35.5L71.7 -37.4L70.5 -41.2L67.2 -42.8L66.7 -46.9L65.3 -50L65.9 -54L65 -57.2L64.2 -60.4L62.3 -63.8L62 -67.4L62.4 -70.9L63.7 -74L64 -77.5L65.4 -80.5L65.4 -84.6L67.4 -87.3L69.1 -90.2L72 -91.6L75.2 -92.1L77.5 -93.8L80.5 -94.1L83.2 -94.5L86 -94.4L88.8 -94.6L91.6 -96.1L94.3 -93.4L97.2 -93.5L100.1 -92.6L102.3 -90L105 -88.6L107.4 -86.3L108.9 -83.1L111.6 -81.2L113.1 -78L115.4 -75.3L117.9 -72.3ZM130.5 -45.3L130 -41.8L129.3 -38.4L128 -35.2L127.1 -31.8L123.4 -30.6L122.1 -27.3L119.3 -25.5L116.7 -23.4L113.7 -22.2L110.5 -21.2L107.3 -23.6L104.3 -23.6L101.3 -24.1L98.6 -25.7L94.6 -25.3L92.7 -28.3L90 -30.4L89.3 -34.1L87.9 -37L87.1 -40.3L87.8 -43.7L85.7 -47L86.9 -50.3L87.3 -53.7L89.7 -56.2L91.3 -59.1L93.6 -61.2L95.4 -64.1L97.8 -66.4L100.5 -68.8L104.1 -67.6L107.2 -68.6L110.4 -68.3L113.8 -68.8L117.1 -68.2L119.9 -66.1L121.5 -62.6L124.5 -61L125.6 -57.6L126.4 -54.4L127.1 -51.4L127.8 -48.4ZM114.1 -18.2L113.8 -14.6L110.6 -13L108.3 -10.4L105.1 -11.4L102.1 -12.3L99.8 -14.8L99.5 -18.2L99.9 -21.5L101.9 -24.4L105.2 -24.7L108.2 -25.5L110.7 -23.6L113.1 -21.5Z"/><path fill="none" stroke-width="2.2" stroke-linecap="round" d="M66.4 -92.9h0M83.4 -97.5h0M92.7 -97.7h0M126.1 -64.6h0M84.2 -95.8h0M65.2 -47.1h0M115 -45.4h0M107 -29.8h0M64.5 -52.2h0M64.3 -74.7h0M92.7 -29.8h0M73.6 -36h0M66.2 -82.8h0M63.9 -76.9h0M69.4 -43.5h0M113.5 -37.9h0M112.8 -77.9h0M62.6 -59.6h0M66.7 -82.5h0M63.7 -75.4h0M79.9 -99.5h0M111.1 -88.7h0M117.9 -76.8h0M80.2 -98.2h0M117.8 -55.7h0M116.6 -64.7h0M65.6 -48.4h0M79.1 -30.2h0M119.6 -62.5h0M105.9 -89.4h0M115.9 -69.1h0M61.5 -39.5h0M94.6 -26.5h0M102.6 -92.5h0M67.1 -84.3h0M86.8 -96.2h0M66 -85.1h0M118.2 -61h0M65.3 -49.9h0M120 -57.1h0M116 -48.1h0M84.2 -26h0M102.1 -28.4h0M71.8 -91.6h0M61.6 -63.7h0M104.8 -91.7h0M95.2 -94.8h0M62.3 -66.7h0M95.6 -103.5h0M70.3 -89.6h0M102.6 -96.9h0M101.1 -22.3h0M64.4 -79.8h0M60.5 -71.1h0M65.9 -83.8h0M74.5 -97.3h0M100.2 -91.5h0M113.1 -39.4h0M102.4 -90.8h0M103.8 -27.5h0M66.7 -83.3h0M70.2 -37.8h0M61.5 -68.1h0M64.5 -79.2h0M117 -48.9h0M113.1 -83.8h0M97.4 -29.3h0M72.1 -91.1h0M72.4 -35.2h0M77.7 -34.8h0M84.6 -97.2h0M104.8 -88.2h0M58.3 -56.5h0M76.9 -32.3h0M62.7 -65.6h0M73.5 -92.3h0M80.5 -12.6h0M108 -31.9h0M61.8 -77.3h0M105.9 -89.3h0M84.7 -98.1h0M114.9 -93.5h0M61.7 -76.7h0M87.9 -28.8h0M117.6 -54.4h0M71.5 -38.7h0M110.1 -86.4h0M66.4 -47.6h0M62.3 -62.5h0M60.8 -60.6h0M64.6 -82.3h0M88.5 -96.9h0M115.5 -44.9h0M71 -89.3h0M111.4 -30.4h0M64.2 -75.4h0M91.6 -95.4h0M112.1 -81.5h0M71.3 -40.4h0M72 -93.7h0M114 -43h0M105.8 -87.6h0M63.8 -74.7h0M88.7 -95.9h0M62.9 -79.4h0M111.3 -37.3h0M99.2 -94.1h0M79.5 -97.3h0M116.3 -48.2h0M70.7 -37.2h0M64 -55.6h0M51 -91.7h0M118 -48.7h0M102.2 -106.5h0M89.4 -28.5h0M115.6 -42.2h0M115.6 -72.5h0M63.6 -53.8h0M97.5 -93.8h0M103.1 -97.7h0M110.3 -36.7h0M102.6 -92.7h0M116 -48.2h0M62.8 -67.2h0M60.3 -65.3h0M108.8 -35.5h0M88.7 -29.7h0M66.1 -44.3h0M65.2 -85.9h0M84.5 -30h0M115.8 -69.3h0M94 -28.9h0M71.9 -39.3h0M78.1 -34h0M118 -58.8h0M112.4 -79.8h0M118.2 -52.7h0M96.3 -95.1h0M110.5 -34.6h0M69.3 -40.5h0M120.4 -54.5h0M111.3 -80.4h0M112.4 -81.6h0M63.4 -75.9h0M112.4 -88.1h0M67.9 -88.7h0M109.6 -34.6h0M102.9 -30.7h0M99.4 -99.6h0M111.3 -86.5h0M99.2 -96h0M92.1 -102h0M75.3 -35.4h0M86.9 -98.2h0M67.1 -90.9h0M84 -96h0M108.6 -88.1h0M115.3 -46.4h0M82 -32.1h0M67.3 -45.2h0M114.5 -46.5h0M117.5 -67.4h0M76.2 -97.1h0M119 -69h0M103.9 -31.2h0M70.2 -37.6h0M68.2 -35.6h0M77.6 -96.6h0M121.1 -66.5h0M109.4 -84.6h0M62.2 -77.6h0M89.1 -96.6h0M122.1 -48.8h0M131 -37.7h0M93.6 -65.8h0M122.1 -69.5h0M89.9 -30.8h0M102.3 -22h0M129.6 -39.8h0M108.4 -69.3h0M104.6 -68.2h0M129.7 -45.7h0M84.9 -45.3h0M123.8 -30.6h0M113.2 -23.4h0M124.5 -31.2h0M83.1 -60.3h0M119.1 -24h0M88.9 -59.2h0M103.6 -69.7h0M92.7 -28.5h0M85.1 -46.4h0M87.6 -51.6h0M86.9 -42.4h0M88 -58.1h0M95.8 -24.9h0M129.3 -36.9h0M91.9 -68.2h0M88.8 -60.9h0M112 -72.2h0M90.8 -60.2h0M92 -27.4h0M84.9 -30.4h0M84 -47.6h0M88.5 -32.5h0M106 -72.5h0M126.7 -59.2h0M97.8 -66.1h0M127 -56h0M130.3 -55.2h0M128.2 -53.1h0M126.7 -17h0M98.2 -25h0M121 -66.5h0M129.3 -38.8h0M86.5 -41h0M125.7 -63.4h0M120.3 -64.2h0M95.3 -26.3h0M94 -65.4h0M126.5 -59.3h0M98.3 -23.5h0M88.3 -59h0M87.7 -54.9h0M85.6 -50.4h0M96.4 -67.3h0M129.2 -46.3h0M91.2 -31.9h0M87.6 -51.6h0M129 -42.2h0M132.8 -52.6h0M93.2 -61.7h0M120.9 -65.1h0M123.4 -66.2h0M84.8 -40.6h0M131.3 -40.2h0M108.6 -69.2h0M131.1 -45.8h0M90.6 -29.8h0M134.3 -54.8h0M94.5 -68.8h0M131.2 -38.1h0M104.1 -70.4h0M88.8 -36.3h0M124.4 -26.1h0M95.9 -23.7h0M98.9 -24.8h0M125 -29.6h0M107.5 -69.8h0M98 -20.5h0M86.5 -41.4h0M100.7 -69.5h0M84.8 -42.6h0M100.9 -21.3h0M129.7 -56.6h0M89.7 -33.4h0M118 -21h0M122.6 -62h0M119.4 -64.4h0M101.4 -66.9h0M116.2 -22.4h0M129.7 -47.4h0M114.6 -66.5h0M77.4 -18.4h0M129.8 -38.6h0M124.5 -59.7h0M140 -62.3h0M111.6 -72.4h0M88.8 -31.9h0M106 -68.7h0M85.6 -27.8h0M124.3 -24.2h0M97.1 -66h0M88.2 -37.8h0M125.1 -22.7h0M128.2 -38.3h0M100.6 -73h0M128.9 -48.1h0M84.4 -50.1h0M88.8 -29.3h0M124.6 -60.3h0M87.6 -40.2h0M91.8 -28.5h0M130.6 -49.4h0M106.2 -19h0M90.6 -31.7h0M95.7 -64.4h0M128.6 -33.7h0M126.4 -60.3h0M87.2 -59.9h0M100.7 -19.9h0M89.1 -33.8h0M126.5 -61.1h0M118.7 -24h0M91.2 -61.4h0M129.3 -37.4h0M89.8 -56.9h0M126.9 -33.9h0M128 -33.5h0M102.8 -8h0M113.4 -12.1h0M111 -11.9h0M113.1 -11.9h0M100 -7.2h0M110.6 -12.1h0M109.4 -7.8h0M97.9 -15.1h0M114.4 -20.2h0M105.5 -26.5h0M115.7 -25.4h0M109.2 -1.3h0M99.8 -27.9h0M100 -14.9h0M106.4 -26.5h0M100.9 -22.7h0M113.1 -11.3h0M108.2 -8.3h0M117.7 -13.3h0M115.8 -21.1h0M97.4 -20h0M113.4 -20.7h0M98.5 -27.3h0M111.8 -26.2h0M104.1 -8.8h0M102.1 -12.4h0M109.6 -11.4h0M97.9 -14.3h0M96.7 -12.3h0M114.7 -18.4h0M112.6 -23.7h0M99.4 -24.5h0M115.9 -23.6h0M113.4 -21.4h0M99.5 -14h0M117.8 -17.5h0M99.5 -14.3h0M117 -27.3h0M98.1 -20.2h0M115.5 -27h0M106.4 -10.9h0"/></g>
<g id="S_small"><path stroke="none" d="M53 26.7L52.5 28.6L51.7 30.5L49.9 31.3L48.2 30.8L46.6 30.2L45.2 28.8L45 26.7L45.5 24.8L46.4 22.9L48.2 22.5L49.9 22.1L51.4 23.3L52.7 24.7Z"/><path fill="none" stroke-width="2.2" stroke-linecap="round" d="M46.9 21.4h0M44.9 26.7h0M45.3 24.3h0M44.1 24.3h0M49.4 31.9h0M45.7 23.9h0M53 28.5h0M48 33.6h0M46.1 23.5h0M52 21.9h0M54.1 25.3h0M50.3 21.6h0M49.8 32.1h0M51.5 22.8h0"/></g>
<path id="spU0" fill="none" stroke-width="2.2" stroke-linecap="round" d="M-14.9 4.7h0M-40.1 10.3h0M-31.2 10.9h0M-34.8 23.5h0M-26.8 18.5h0M-15.7 20.4h0M-36.2 16.7h0M-16 14.9h0M-8.7 20.1h0M-18.2 17h0M-17.7 22.7h0M-86.7 -6.8h0M-37.9 -59.6h0M-53.4 -67.1h0M-111.9 -79.2h0M-104.4 -97.9h0M-49 -93h0M-80.6 -91.3h0M-98.9 -94.5h0M-88.8 -47.4h0M-87.7 -15.6h0M-32.4 -75.1h0M-57.8 -32.2h0M-114.4 -25.9h0M-80.3 -10.3h0M-121.7 5.2h0M-105.6 28.7h0M-163.5 21.5h0M-80.1 59h0M-143.7 37.6h0M-129.7 -0.5h0M-145.9 25.1h0M-70 62.1h0M-136.2 0.8h0M-158.8 27.8h0M-140.9 31.6h0M-92.3 -4.7h0M-127.2 34.4h0M-134.9 -21h0"/>
<path id="spS0" fill="none" stroke-width="2.2" stroke-linecap="round" d="M166.6 9.5h0M179 -11.2h0M114.8 -24.7h0M161.3 1.2h0M109.6 25.1h0M159.6 32.4h0M146.1 -35.7h0M169.7 -12.6h0M122.5 -7.3h0M157 37h0M79.6 -32.1h0M113.4 38.9h0M80.5 -26.1h0M149.7 -28.3h0M74.8 28.5h0M119.9 3.1h0M132.9 39.4h0M111.2 45.2h0M76.2 -27.4h0M136.3 30.9h0M82.5 -33.3h0M84.8 1.4h0M127.2 -33.3h0M123.3 4.3h0M71.4 16.3h0M160.2 -5.7h0M135.9 -40.5h0M109.5 -34.4h0M112.2 5.6h0M86.7 5.4h0M112.7 7.1h0M150 0.4h0M149.4 -27.4h0M109.4 -8.6h0M171.5 -1.2h0M119.1 12h0M97.1 -27.1h0M62.7 -5.5h0M122.4 -33.5h0M166.9 -13.7h0M86.6 23.5h0M113.8 11.3h0M81.9 12.4h0M69.4 4h0M180.6 13.5h0M167.4 -28.6h0M110.2 -35.4h0M132.6 22.6h0M62.7 -0.8h0M145.5 38.3h0M148.2 36.1h0M129.8 -0.3h0M134.3 25.9h0M121.9 2.9h0M98.7 40.8h0M142.9 4.8h0M95.2 -20.5h0M101 28.9h0M136.9 -35.6h0M119 27.5h0M96.8 -7h0M160.9 12.9h0M144.7 37.7h0M165.2 22.5h0M93.2 17.4h0M129.5 44.4h0M76.6 -16.9h0M105.9 -34.8h0M118.9 32.8h0M151.4 -30.2h0M108 -21.3h0M121 -29.6h0M100.6 24.3h0M114.9 31.1h0M92.3 16h0M64.2 21.9h0M118.5 44.8h0M57.6 18.9h0M136.3 45.6h0M73.5 64.7h0M65.5 55.4h0M91.3 54.1h0M92.7 9.3h0M112 55.2h0M62.8 48.3h0M89.1 1.5h0M128.9 45.3h0M85.2 45h0M110.3 23.4h0M131.1 11.4h0M61.1 36.7h0M93.7 30.3h0M66.3 6.8h0M96.5 13.9h0M72.2 28.4h0M75.7 24.9h0M113.5 69.1h0M59.5 40.9h0M82.3 45h0M135 44.2h0M96.1 -1.1h0M119 3.9h0"/>
<path id="spU1" fill="none" stroke-width="2.2" stroke-linecap="round" d="M-28.2 24.8h0M-14 7.8h0M-21.1 24.5h0M-10 8.4h0M-17.8 21.2h0M-29.5 11.5h0M-23.5 21.6h0M-29.3 7.4h0M-35.7 11.2h0M-25.3 14.7h0M-28.9 12.7h0M-28.8 22.2h0M-29.1 9.9h0M-39.4 17h0M-22.9 2.4h0M-31.2 23.6h0M-13.4 18.9h0M-16.1 22.2h0M-40.6 20.4h0M-24.4 21.6h0M-25.4 21.2h0M-39.7 9.4h0M-22.6 13.3h0M-39.8 14h0M-31.5 13.6h0M-141.8 -53.4h0M-143.8 -52.6h0M-133.7 -71h0M-64.5 -51.1h0M-48.1 -61.2h0M-126.4 -60.6h0M-112.8 -77.9h0M-102.7 -55.1h0M-51.7 -51.5h0M-127.4 -58.5h0M-27.7 -47.6h0M-47.1 -22.7h0M-36.3 -76.1h0M-128.2 76.5h0M-138.6 53.6h0M-129.6 52.5h0M-78.4 31.7h0M-158 12.7h0M-155 40.2h0M-114.8 47.9h0M-161.4 13.3h0M-144.8 16.8h0M-120.2 65.7h0M-106.2 -18.4h0M-74.4 56.4h0M-148.5 73.4h0M-143.8 -4.3h0M-93.9 -1.1h0"/>
<path id="spS1" fill="none" stroke-width="2.2" stroke-linecap="round" d="M95.8 19.3h0M129.2 37.2h0M132.7 33.9h0M161.6 24.9h0M169 16h0M155.9 -32.8h0M87.5 -7.3h0M119.7 20.1h0M122.9 15.4h0M124.7 16.5h0M161.5 11.1h0M80.2 -22.7h0M82.3 -29.8h0M121.5 -18.1h0M120.3 40.2h0M132.1 -44.7h0M88.4 -29h0M149.2 14.7h0M74.7 -25.4h0M132.6 6.1h0M170.1 -17.3h0M85.4 20.6h0M122.6 -13.4h0M156.9 -4.3h0M133.2 -32h0M103.6 -24.2h0M78.7 -20.4h0M141.6 -13.1h0M129.9 35.9h0M160.8 -7.6h0M144.8 -42.3h0M113.3 4.9h0M151.9 28.4h0M179.2 -1.4h0M181.9 8.9h0M175.5 12.9h0M93.8 23h0M132.8 -31.5h0M151.6 36.3h0M124.8 -10.7h0M89.6 -33h0M76.9 -27.8h0M164.3 -9.7h0M166.6 -24.2h0M160.5 -24.7h0M66.3 -7.2h0M134.9 18.3h0M118.6 30.8h0M170.6 -26.4h0M154.3 -27.1h0M81 26.8h0M129.1 -43h0M86.8 16.7h0M74.9 17.5h0M178.3 -13.6h0M84.5 14.7h0M121.8 26h0M146.7 2.2h0M120.3 -1.7h0M103.2 27.5h0M120.4 36.9h0M159.1 -18.1h0M144.8 -5.7h0M134.2 3.7h0M155.3 -22.7h0M160.3 3.5h0M154.2 7.3h0M96 -32.7h0M107.9 -33.2h0M132.8 15.2h0M66.9 -0.3h0M102.3 -30.2h0M95.4 -10.9h0M105.9 17.3h0M132.9 46.4h0M89.9 66.2h0M127 65.7h0M74 12.3h0M103.6 63.1h0M88.9 32.3h0M64.4 65.3h0M104.1 31.9h0M68 29.7h0M80.4 21.1h0M107.3 11.9h0M128.5 40.2h0M96.3 56.6h0M101 74.3h0M130.1 45.3h0M63 57.8h0M94.1 37.1h0M123.2 53h0M73.5 57.7h0M120.1 2.3h0M137.5 29.2h0M84.8 54.8h0M71.1 48.6h0M125.1 41.7h0M97.3 14.5h0M85.1 -4.5h0M74.8 55.6h0M74.4 9h0M87 59.2h0"/>
<path id="spU2" fill="none" stroke-width="2.2" stroke-linecap="round" d="M-30.8 19.7h0M-27.5 16.1h0M-38.2 8.3h0M-25 4.8h0M-18.7 16.1h0M-13.2 11.9h0M-12.3 23.7h0M-20.9 4.7h0M-32.4 23.5h0M-7.7 9.4h0M-23.7 20.1h0M-6.1 19h0M-19.7 6.8h0M-22.4 6.9h0M-11.6 15.9h0M-26.9 7.3h0M-27 10.9h0M-27.5 4.8h0M-25.6 18h0M-83.8 -7.7h0M-38.3 -21.5h0M-75.1 -47.5h0M-55.8 -27.1h0M-142 -51.7h0M-96.3 -78.9h0M-67.1 -59.7h0M-48.4 -31.4h0M-112.9 -60.1h0M-132.1 -40.5h0M-101.1 -35.8h0M-128.2 -81.9h0M-129.1 -62.8h0M-119.9 -10.6h0M-93.4 -88h0M-142 -65.7h0M-75.4 -34.3h0M-78.9 -13.1h0M-31.7 -73.7h0M-121 -21.7h0M-118.2 22.2h0M-115.7 24h0M-87.1 33.2h0M-120.3 70.7h0M-145.3 11.6h0M-92.7 32.8h0M-143.7 36.6h0M-152.8 0.9h0M-157.7 61.2h0M-120.9 5.1h0M-122.2 -10.4h0M-76 23.9h0M-109.1 67.4h0M-124.5 -3.6h0M-80.4 29.9h0M-135.6 22.4h0M-87.3 55h0M-113.3 31.6h0"/>
<path id="spS2" fill="none" stroke-width="2.2" stroke-linecap="round" d="M139.4 6.4h0M115.3 -45.2h0M113.3 -9.3h0M148.6 37.7h0M81.5 32h0M129.7 44.6h0M82.2 34.4h0M141.6 34h0M147.4 -32.1h0M161.2 29.8h0M112 -38.6h0M145.2 38.5h0M136.9 38.3h0M142.5 -43.9h0M139.4 42.2h0M113.9 5.5h0M91.1 31h0M102.9 20.4h0M93.8 -37.1h0M155.5 -33.3h0M91.5 29.9h0M167.3 19.7h0M120.1 -26.9h0M165.3 -9.5h0M141.7 -1.2h0M150.8 8h0M160.8 31h0M123.6 43.5h0M119.1 -5.7h0M174.8 -2.6h0M111.3 18.6h0M144.6 13.9h0M121.3 35.2h0M89.8 -32.3h0M82.8 3.6h0M121.4 24.1h0M94 35h0M165.7 -3.3h0M78.4 -3.9h0M164.9 4.4h0M136.9 -19h0M171.6 1.6h0M166.4 -0.4h0M164.8 15.8h0M83.3 9.8h0M173.9 4.8h0M169.7 8.9h0M119.3 -14.5h0M160.7 -29.9h0M120 19.3h0M106 45h0M127.6 26.1h0M90.5 -16.2h0M103.9 -41.6h0M134.7 -36.4h0M167.3 0.4h0M148.9 -2.4h0M139.3 44.4h0M118.4 -39.6h0M157.4 24.6h0M115.1 -46.1h0M65.3 36.9h0M96.5 37.3h0M67.9 51.7h0M114.3 28.8h0M86.8 29h0M95.9 46.1h0M110.4 75.3h0M90.8 8.5h0M97.2 56.3h0M66 10.4h0M109.4 45.3h0M56.8 32.4h0M80.8 18.4h0M88.9 20h0M115.3 30.2h0M94.6 45.1h0M57.4 36.9h0M87.3 25.2h0M95.5 62.3h0M68.9 49.1h0M77.2 62.4h0M71.5 67.3h0M89.3 45.3h0M65.8 22.5h0M100.1 79.6h0M72.9 48.1h0M128.7 48.2h0M92.5 56.2h0M126.4 43.5h0M67.7 54.3h0M66 66.7h0M113.5 7.7h0M118.8 23.7h0M86.8 37.3h0"/>
<path id="spU3" fill="none" stroke-width="2.2" stroke-linecap="round" d="M-39.3 8.6h0M-25.5 3.1h0M-45 15h0M-26 13.2h0M-7.8 16.5h0M-34.3 17.8h0M-29.2 9.4h0M-35.9 13.5h0M-27 8.4h0M-39.9 10.3h0M-22.5 10.7h0M-36.6 6.1h0M-35.7 20.7h0M-11.8 22.7h0M-21.2 12.1h0M-124.5 -67.4h0M-27.5 -47.5h0M-60.8 -25.6h0M-125.9 -42.1h0M-101.1 -13.2h0M-36.2 -79.7h0M-124.8 -66.3h0M-56.9 -9.6h0M-43.7 -55.4h0M-38.8 -73.7h0M-58.3 -96.7h0M-39.5 -50.3h0M-119 -20.3h0M-33.7 -39.2h0M-118.1 -16.7h0M-66.5 37.7h0M-103 46.7h0M-111.2 28.4h0M-133.7 -17.1h0M-98.2 50.3h0M-95.3 14h0M-83 22.7h0M-95.9 60.1h0M-89 55.3h0M-110.4 81.5h0M-161.8 53.2h0"/>
<path id="spS3" fill="none" stroke-width="2.2" stroke-linecap="round" d="M79.3 10.7h0M121.9 -24h0M109.1 -25.2h0M148.6 -28.5h0M156.6 11.4h0M122.1 45.6h0M131.8 8.2h0M110.4 -15.6h0M165.8 -29.4h0M125.5 3.2h0M91.9 -37.4h0M94.6 21.4h0M88 28.7h0M133.5 -2.8h0M124.2 -2.7h0M125.6 36.6h0M164.8 6.9h0M102.3 -12.6h0M177 7.7h0M104 -36.5h0M133.6 -9.4h0M139.9 19.6h0M137 45.1h0M167.4 -24.8h0M122.8 2.8h0M173 -13.6h0M169.2 -18.1h0M119.9 21.6h0M118.1 12.2h0M85.2 19.5h0M89.9 -20.9h0M131.5 8.3h0M135.3 1.3h0M117.8 -32.7h0M149 -0.3h0M149.8 9h0M115 13.2h0M88.9 -33h0M79.4 4.1h0M95.9 -14.2h0M160 -27.8h0M137 -26.7h0M98.3 8.7h0M118.7 -30.3h0M131.7 37.4h0M115.6 -29h0M156.9 -31.7h0M95.9 33.5h0M74.9 24.9h0M91.4 17.8h0M132.7 -44.4h0M120 12.4h0M74.2 29.2h0M95.5 6.3h0M96.2 37.2h0M99.8 57h0M88.1 46.2h0M84.7 35.4h0M85.7 68.3h0M96.4 33.7h0M77.6 53.7h0M78.9 10.9h0M121.7 62.8h0M104.3 70.3h0M131.2 13.9h0M58.5 26.5h0M121.1 29h0M101.5 37.7h0M85 1.6h0M76.5 72.4h0M72.6 65.4h0M94.7 32.7h0M101.7 39.5h0M86.2 38.8h0M106.2 62.4h0M77.1 18.5h0M75.4 49.7h0M102.9 21.5h0M106.1 51.1h0M74.2 14h0"/>
</defs>
<text x="-2.2" y="595" font-size="40" textLength="28" lengthAdjust="spacingAndGlyphs" font-weight="bold">b</text>
<text x="88.1" y="594.4" font-size="24.5" textLength="152.9" lengthAdjust="spacingAndGlyphs">Unstimulated</text>
<text x="297.9" y="638.5" font-size="24.5" textLength="182.8" lengthAdjust="spacingAndGlyphs">PMA/ionomycin</text>
<g transform="translate(257.7 783.1)">
<use href="#spU0" stroke="#a6cee3"/>
<use href="#spS0" stroke="#ff7f00"/>
<use href="#spU1" stroke="#b2df8a"/>
<use href="#spS1" stroke="#33a02c"/>
<use href="#spU2" stroke="#fb9a99"/>
<use href="#spS2" stroke="#e31a1c"/>
<use href="#spU3" stroke="#fdbf6f"/>
<use href="#spS3" stroke="#1f78b4"/>
<path fill="none" stroke="#a6cee3" stroke-width="2.2" stroke-linecap="round" d="M-124 25.3h0M-157.9 15.7h0M-114 10.9h0M-145.4 17.8h0M-123.9 13.3h0M-137.2 13.4h0M-125.6 12.3h0M-132.2 9h0M-114.1 17.5h0M-129.2 12h0M-153.4 15.7h0M-136.7 13h0M-154.2 16h0M-127.9 15.5h0M-116.5 12.4h0M-125.5 9.3h0M-110.8 8.6h0M-109.6 13.8h0M-124.3 17.1h0M-110.9 14.5h0M-130.4 22.3h0M-151.8 12.8h0M-121 11.1h0M-116.5 22.1h0M-161.3 16.7h0M-126.8 10.7h0M-148.8 7.6h0M-121.7 21.9h0M-139 18.9h0M-113.9 23.9h0M-131.5 15.3h0M-125 22.2h0M-120.6 18.6h0M-120.4 10.2h0"/>
<path fill="none" stroke="#cab2d6" stroke-width="2.2" stroke-linecap="round" d="M-113.5 14.3h0M-148.2 13.5h0M-120.8 22.4h0M-143.6 10.9h0M-137.4 16h0M-130.7 13.5h0M-160 14h0M-128.4 12.4h0M-149.8 12.1h0M-154.8 25.1h0M-138.1 11.2h0M-154.5 17.4h0M-154.6 11.4h0M-121.3 23.2h0M-116.5 11.3h0M-131.1 25.5h0M-121.7 -1.8h0M-130.1 11.4h0M-146.3 23.7h0M-120.8 18.6h0M-147.5 20.5h0M-124.1 6.6h0M-147.4 19.1h0M-114.7 2.5h0M-154.6 17.1h0M-134.4 11.4h0M-108.8 7.4h0M-152.3 27.6h0M-145.5 14.3h0M-128.8 11.7h0M-118.5 12.4h0M-152.2 25.5h0M-139.3 20h0M-136.9 7.3h0"/>
<path fill="none" stroke="#fb9a99" stroke-width="2.2" stroke-linecap="round" d="M-112.1 7.2h0M-138 18.6h0M-149.4 9.6h0M-146.8 24.6h0M-123.3 -0.6h0M-141.4 12.2h0M-161.6 20.7h0M-125.3 7.2h0M-136.5 25h0M-119.1 -2.9h0M-154.3 10.5h0M-142 14.5h0M-123.5 -1.7h0M-144.7 25h0M-116.4 13.1h0M-117.1 8h0M-129.2 13.8h0M-150.6 17.2h0M-112.1 9.8h0M-116.7 13.3h0M-128.7 17.8h0M-124.4 17.5h0M-115.7 5.2h0M-155.1 22.8h0M-109.8 2.9h0M-140.3 13.6h0M-129.5 8.9h0M-115 16.8h0M-140.3 20.1h0M-132.5 12.7h0M-120.5 1.4h0M-155.2 14.9h0M-126.3 16.2h0M-140.6 7.4h0"/>
<path fill="none" stroke="#a6cee3" stroke-width="2.2" stroke-linecap="round" d="M-139 7.3h0M-149.7 18.7h0M-135.2 10.6h0M-152.4 21.1h0M-129.9 23.7h0M-135.7 7.8h0M-113.7 10.8h0M-163.2 20h0M-120.4 16.6h0M-117.9 -1.6h0M-129.5 16.2h0M-113.1 2.4h0M-110.3 19.5h0M-126.2 17.7h0M-145.4 15.6h0M-152.7 10.4h0M-126.3 6.4h0M-127.5 15.2h0M-119.4 18.8h0M-109.6 17.8h0M-126.4 12h0M-137.3 17.1h0M-117.2 6.8h0M-124.3 10.2h0M-127.5 24.1h0M-119.9 0h0M-113.8 11.5h0M-148.3 23.6h0M-113 -1h0M-145.6 20.3h0M-141.6 25.6h0M-136.8 22.6h0M-121.1 1.2h0"/>
<use href="#U_Th0b" fill="#a6cee3" stroke="#a6cee3"/>
<use href="#U_Th2L" fill="#cab2d6" stroke="#cab2d6"/>
<use href="#U_Th2R" fill="#cab2d6" stroke="#cab2d6"/>
<use href="#U_Th0" fill="#a6cee3" stroke="#a6cee3"/>
<use href="#U_Th1" fill="#fb9a99" stroke="#fb9a99"/>
<use href="#U_iTreg" fill="#b2df8a" stroke="#b2df8a"/>
<use href="#U_Th17g" fill="#b2df8a" stroke="#b2df8a"/>
<use href="#U_Th17o" fill="#fdbf6f" stroke="#fdbf6f"/>
<use href="#U_IFNb" fill="#ebcb9e" stroke="#ebcb9e"/>
<use href="#U_tiny" fill="#6a3d9a" stroke="#6a3d9a"/>
<path fill="none" stroke="#1f78b4" stroke-width="2.2" stroke-linecap="round" d="M109.8 65.5h0M92.6 56.4h0M117.2 51.8h0M91.8 57.1h0M90.5 57.5h0M108.5 63.7h0M102.8 59.4h0M104.7 53.1h0M117.3 43.6h0M112.9 24.5h0M113.5 42.2h0M116.5 41.3h0M112.3 17.6h0M104.7 72.2h0M105.5 54.5h0M115.6 61.2h0M95.3 37.1h0M100.2 55.2h0M116.6 19.6h0M99.8 68.9h0M110.2 25.2h0M98.5 47.2h0M114 52.9h0M102.6 65.6h0M115.4 33h0M109.4 46.4h0M96.9 46.5h0M114.6 17.8h0M100 40.1h0M119.3 55.4h0M118.5 39.9h0M111.5 65h0M103.3 18h0M90.3 68.6h0M99.1 58h0M90.9 58h0M112.7 55.7h0M95.8 59.1h0M93.2 56.3h0M121 51.4h0M95.5 64.3h0M109.7 61.4h0M107 66.6h0M97.6 60.6h0M119.2 44.7h0M113.2 65h0M109.1 48.4h0M111.3 57.2h0M108.6 26.4h0M104.8 36.1h0M101.3 65.1h0M114.2 52.5h0M111.2 44.3h0M109.4 64.4h0M104.9 29.4h0M110.9 49.6h0M119.2 25.2h0M116.9 28.5h0M99.8 63.4h0M120 54.7h0M114.4 25.2h0M111.1 39.3h0M103.2 17h0M97.3 61.2h0M115.1 25.3h0M108.8 68.3h0M100.4 21.7h0M99.7 61.3h0M111.8 20.6h0M106.8 60.4h0M106.9 42.8h0M103.5 40.3h0M110.7 38.8h0M112.3 29.2h0M119.1 32.3h0M102.7 50.8h0M88.7 69h0M108.5 23.3h0M93 56.9h0M92.4 69.4h0M115.2 52h0M103.9 23h0M119.1 37.3h0M102 65.9h0M110.7 15.4h0M98.9 23.9h0M111.5 44.6h0M100.3 71.3h0M119.4 22.9h0M99.1 32.2h0M104.2 34.4h0M112.7 37.9h0M116.7 20.1h0M98.7 56.4h0M100.8 37.3h0M101.3 47.6h0M119 52.1h0M101.4 31.8h0M96.5 28.9h0M108.8 23.3h0M105 35.7h0M93.1 60.2h0M117.8 35.2h0M100.5 24.1h0M100.8 44.8h0M91.5 71.3h0M99.9 52.2h0M114.2 56h0M113 29.4h0M96.6 39.7h0M110.7 40.1h0M88.9 62.7h0M112.1 65.7h0M109.9 50.7h0M112 50.9h0M102.5 71h0M111.3 28.3h0M98.2 26.8h0M103.8 47h0M111.7 18.9h0M102.8 41.7h0M116.4 39.7h0M117.6 48.8h0M107.3 50h0M101.2 20.1h0M99.1 27.2h0M97.2 32.3h0M116.8 48.4h0"/>
<path fill="none" stroke="#e31a1c" stroke-width="2.2" stroke-linecap="round" d="M97.9 26h0M117.6 59.5h0M117.1 37.8h0M106.1 60.2h0M99.9 58.4h0M110.8 65.7h0M93.1 63h0M122.1 34.3h0M102.2 48.7h0M108.1 56.9h0M112.9 48.4h0M108.6 25.5h0M102.2 38.4h0M99.4 50.5h0M105.6 15.8h0M102.6 69.4h0M113.8 60h0M120.7 33.1h0M107.3 17.6h0M112.8 16h0M105.7 62.4h0M111.6 58.9h0M103.6 67.6h0M115.4 61.8h0M97.5 49.2h0M102.5 48.7h0M107.9 24h0M107.5 65.3h0M101 34.3h0M113.4 37.9h0M106.9 57.4h0M118 31.4h0M113.7 15.2h0M114.6 47.4h0M113.9 64.2h0M103.7 16.4h0M106 64.8h0M91 69.9h0M112.4 54.1h0M111.6 39.4h0M114.6 50h0M102.6 23.1h0M118.9 41.5h0M102.1 22.5h0M109.5 44.6h0M109.9 24.2h0M93.7 64.6h0M105.4 58.6h0M111.3 65.5h0M102.2 62h0M96.8 69.8h0M111.3 23.5h0M115.5 28.8h0M104.6 26.5h0M98.3 55.5h0M102.4 40.8h0M98.3 67.7h0M90 60.2h0M91.3 69h0M107 41.1h0M99.8 72h0M112.2 60.7h0M118.9 45.5h0M108.3 66.8h0M110.5 34.3h0M106.7 61.6h0M101.4 54.4h0M112.5 34.7h0M120.6 46h0M95.1 72.3h0M106.3 17.6h0M113.6 25.6h0M85.2 67.1h0M103.6 72.3h0M89.7 60.3h0M93.4 56.5h0M111.9 62.2h0M107.4 69.2h0M114.5 17.4h0M102.8 42.1h0M120.2 30.3h0M105.5 35.2h0M90.8 68.4h0M104.7 37h0M86.1 67.4h0M86.6 62.8h0M110.8 40.1h0M106.6 20.1h0M106.4 69.2h0M115 36.9h0M111.5 33.2h0M111.9 65.4h0M111.5 24.9h0M97.9 23.5h0M108.5 29.4h0M101.1 47.5h0M106.5 65.9h0M114.4 50.5h0M106.2 44.6h0M112.4 16.2h0M99.8 49h0M93.1 70.5h0M112.5 24.4h0M100.3 56.6h0M111.6 24.5h0M105.8 59.2h0M118.2 52.9h0M113 20.9h0M100 49.4h0M111.2 36.4h0M115.1 59.4h0M98.5 25.7h0M108.5 28.7h0M104.3 52.8h0M105.9 64h0M98.1 58.9h0M109.6 68.6h0M107 70h0M102.7 19.3h0M103.3 50.2h0M105.9 25.2h0M110.6 58.3h0M112.5 34.2h0M112.7 56h0M113.1 26.5h0M112.9 20.4h0M121.4 34.3h0M119.9 31.1h0"/>
<path fill="none" stroke="#b15928" stroke-width="2.2" stroke-linecap="round" d="M108.4 36.8h0M101.6 60.5h0M95 56.6h0M114.8 35.9h0M95.6 35.8h0M107.1 12.7h0M101.6 21.3h0M107.9 26.8h0M115.8 35.9h0M96.8 38.1h0M112.7 54.2h0M116.1 32.6h0M98.1 41.3h0M110.6 61.8h0M86.1 66.6h0M118.5 53.9h0M119.3 24.1h0M101.6 25.8h0M88.5 69h0M108 13.7h0M95.2 66.5h0M106.2 33.4h0M110 20.5h0M111.5 49.5h0M112.2 60.4h0M101.6 48.5h0M111.8 40.6h0M104.7 69.8h0M111.1 56.3h0M107.7 13.9h0M112.3 53.3h0M100.4 59.4h0M101.9 24.8h0M105.3 61.1h0M106.9 58.7h0M91.8 56.8h0M114.1 64.2h0M86.3 64.1h0M102.9 56.5h0M113.7 64.5h0M101.7 68.3h0M112.3 57.6h0M112.5 53.5h0M103.6 60.2h0M107.3 47.5h0M100.2 35.5h0M100.4 37.8h0M116.2 45.6h0M92.4 67.1h0M116 37.5h0M109.9 54.6h0M104.4 40.3h0M91.3 65.4h0M91 63.3h0M96.3 46.8h0M102 43.5h0M107.2 26.2h0M104.3 27.4h0M103.9 42.5h0M105.5 26.9h0M109.6 64.5h0M118.8 27.6h0M98.8 26.7h0M108.4 33.1h0M105.5 32.8h0M101.5 41.7h0M93.5 66.8h0M108.4 18.9h0M115.7 35.3h0M110.9 17.9h0M89.7 60h0M109.3 62h0M97 64.9h0M96.2 69.3h0M105.2 15.7h0M113.3 22.8h0M102.2 20.7h0M108.7 35.1h0M120.8 51h0M108.8 56h0M95.7 66.7h0M104.1 13.9h0M101.3 70.6h0M104.6 15.8h0M105.5 69h0M96.7 42.6h0M97.1 65.6h0M102.9 59.9h0M110.9 46.7h0M109 33.8h0M101.7 60.2h0M107.3 25.3h0M115 38h0M115.1 53.6h0M109.1 28.5h0M102.5 62.6h0M112.4 48.5h0M107.1 31.2h0M114.9 37.4h0M112.7 30.8h0M99.6 25.7h0M117.8 27.1h0M119.6 27.7h0M102.4 54.6h0M96.5 40.5h0M102 64.2h0M115.2 27.1h0M99.3 65.8h0M106.7 16.3h0M102 66.7h0M104.8 16.9h0M108.2 16.6h0M107.6 26.7h0M103.2 18.5h0M109.6 60.8h0M106 16.7h0M119.2 31.6h0M106.5 31.8h0M104.7 53.2h0M111.9 55h0M96.4 47h0M105.3 20.8h0M110.6 52.2h0M87.3 60.4h0M94.8 63.2h0M114.9 59.1h0M108.1 24.5h0M98.3 35.3h0"/>
<path fill="none" stroke="#6a3d9a" stroke-width="2.2" stroke-linecap="round" d="M105 59.5h0M90.5 70h0M113.3 39h0M106.5 13.5h0M102.5 65.5h0M100.4 20h0M106.4 38.4h0M107.6 26.3h0M108.3 56.9h0M96.6 46.8h0M96.8 66.3h0M99.3 51.3h0M99.9 36.6h0M108.8 26.6h0M105.7 44.6h0M93.8 59.7h0M104.8 59.1h0M98.3 27.3h0M95 64h0M96.1 39.2h0M118.5 58.7h0M120.6 31.4h0M120.9 48.5h0M113.1 27.6h0M105.2 15.4h0M114.3 58.6h0M112.4 35.5h0M103.1 19h0M107.6 55.6h0M104.9 64.4h0M109.5 49.3h0M98.3 31.4h0M100.8 46.3h0M104.1 32.4h0M94.3 69.3h0M87.3 62.1h0M102 65.9h0M117.6 45.4h0M115 62.8h0M111.7 64h0M114.8 47h0M116.4 29.9h0M107.7 57.1h0M118.3 24.5h0M101.7 63.8h0M108.2 29h0M111.7 51.9h0M106.2 55.8h0M117.1 40.5h0M96.9 45.2h0M98 36.8h0M95.2 40.5h0M104.4 47.3h0M109.5 67.3h0M101.2 59.7h0M111.3 46.7h0M101.7 31.6h0M103.8 57.9h0M104.3 70.1h0M113.4 48.7h0M113.2 38.9h0M105.6 55.1h0M101.6 55.7h0M95.8 58.9h0M110.6 65.3h0M93.1 63.8h0M97.1 57.2h0M101.1 55.1h0M101 45.4h0M105.7 67.3h0M122.3 37.6h0M99.6 28.5h0M116.1 40.9h0M119.3 22.5h0M86.7 64.4h0M121.7 38.2h0M115.9 17.9h0M117.9 42.7h0M100.4 19.5h0M110.9 53.2h0M116.4 45h0M99.9 62.3h0M116.4 17.8h0M85.5 64.2h0M107.9 60.2h0M106.7 66.1h0M111.9 59.2h0M101.4 60h0M109.2 69.7h0M104.8 26.5h0M112.3 38.2h0M106.1 15.2h0M115.8 42.1h0M118.5 25.8h0M108.4 49.5h0M84.7 65.9h0M102.7 34.9h0M110.3 59.1h0M99.7 58.6h0M113.1 45h0M105.7 26.6h0M107.8 64.8h0M117.7 50.5h0M97.6 67.6h0M113 50.5h0M104.9 46.1h0M115.1 49.2h0M104 56.2h0M106.8 61.9h0M84.6 64.4h0M101 61.7h0M110.4 40.6h0M103.9 61.1h0M118.7 46.5h0M101.4 25.2h0M106.9 60h0M89.9 63.2h0M85.6 66.5h0M122 37.2h0M101.9 48.3h0M95.7 69.3h0M103.6 60.6h0M117.7 56.5h0M104.9 58.4h0M94 58.4h0M118.9 42.1h0M107.1 67.8h0M114.4 52.9h0"/>
<use href="#S_IFNb" fill="#b15928" stroke="#b15928"/>
<use href="#S_Th0" fill="#1f78b4" stroke="#1f78b4"/>
<use href="#S_Th2L" fill="#6a3d9a" stroke="#6a3d9a"/>
<use href="#S_Th2R" fill="#6a3d9a" stroke="#6a3d9a"/>
<use href="#S_Th1" fill="#e31a1c" stroke="#e31a1c"/>
<use href="#S_iTregT" fill="#33a02c" stroke="#33a02c"/>
<use href="#S_gbit" fill="#33a02c" stroke="#33a02c"/>
<use href="#S_iTregR" fill="#33a02c" stroke="#33a02c"/>
<use href="#S_Th17" fill="#ff7f00" stroke="#ff7f00"/>
<use href="#S_small" fill="#ff7f00" stroke="#ff7f00"/>
</g>
<path d="M166.2 611.1C178.5 611.2 190.9 612.1 203.3 616.3C215.6 620.5 230.6 628.2 240.3 636.1C250.1 644.1 257 655.1 261.6 663.9C266.3 672.7 267.7 681.1 268.1 689C268.5 696.8 267.1 703.8 264 711.2C261 718.6 253.2 726.6 249.6 733.4C245.9 740.2 243.7 744.9 242.2 752C240.6 759.1 241.8 767.4 240.3 776.1C238.8 784.7 236.3 796.1 233.3 803.9C230.3 811.6 224.8 815.3 222.2 822.4C219.6 829.5 217.8 838.1 217.7 846.5C217.7 854.8 219.3 864.1 221.8 872.4C224.3 880.8 228 888.5 232.9 896.5C237.9 904.5 245.9 913.5 251.4 920.6C257 927.7 263.2 933.6 266.3 939.1C269.4 944.7 270.4 948.3 270 954C269.5 959.7 268.4 967.9 263.5 973.4C258.5 979 249.4 984.1 240.3 987.3C231.2 990.6 220.6 993.2 208.8 992.9C197.1 992.6 183.2 990.7 169.9 985.5C156.6 980.2 142.1 972.5 129.1 961.4C116.2 950.3 101.8 932.7 92.1 918.8C82.3 904.9 75.3 891 70.8 878C66.2 865 65.4 853.3 64.6 840.9C63.9 828.6 64.9 817.8 66.1 803.9C67.3 790 68.9 774.5 71.7 757.5C74.5 740.5 79.4 718.9 82.8 701.9C86.2 684.9 88.6 667.6 92.1 655.6C95.5 643.6 97.4 636.3 103.6 629.7C109.7 623 118.7 618.8 129.1 615.8C139.6 612.7 153.8 611 166.2 611.1Z" fill="none" stroke="#000" stroke-width="1.3" stroke-dasharray="6.5 3.2"/>
<path d="M365.7 654.4C375.3 653.2 384.9 655.1 394.5 658.7C404.1 662.3 413.7 668.3 423.3 676C432.9 683.6 442.9 694 452.1 704.7C461.2 715.5 471.5 728.7 477.9 740.7C484.4 752.7 488.5 767.1 490.9 776.7C493.2 786.3 493 788.7 492.1 798.3C491.1 807.9 488.2 822.7 485.1 834.2C482.1 845.8 476.9 859.8 473.6 867.3C470.4 874.9 471.7 874.3 465.7 879.6C459.7 884.8 448.3 892.2 437.7 899C427 905.8 411.3 914.8 401.7 920.6C392.1 926.3 387.3 930.8 380.1 933.5C372.9 936.2 366.9 937.9 358.5 936.7C350.1 935.5 339.3 930.9 329.7 926.3C320.2 921.7 307.6 914.8 301 909.1C294.4 903.3 293.5 899.5 290.2 891.8C286.8 884.1 283.5 873.8 280.8 863C278.1 852.2 275.2 837.8 273.9 827.1C272.7 816.3 272.4 809.1 273.3 798.3C274.3 787.5 276.2 774.3 279.4 762.3C282.6 750.3 286.8 738.3 292.3 726.3C297.9 714.3 305 700.4 312.5 690.4C319.9 680.3 328.1 671.9 336.9 665.9C345.8 659.9 356.1 655.6 365.7 654.4Z" fill="none" stroke="#000" stroke-width="1.3" stroke-dasharray="6.5 3.2"/>
<path d="M64.3 615V1001.3" stroke="#000" stroke-width="1.9" fill="none"/>
<path d="M64.3 1000.6H464.7" stroke="#000" stroke-width="1.4" fill="none"/>
<path d="M72.6 1000.6v12.8M165.1 1000.6v12.8M257.7 1000.6v12.8M350.2 1000.6v12.8M442.8 1000.6v12.8M64.3 897.8h-12.8M64.3 783.1h-12.8M64.3 668.4h-12.8" stroke="#000" stroke-width="1.3" fill="none"/>
<text x="58.7" y="1041" font-size="20.5" textLength="30.6" lengthAdjust="spacingAndGlyphs">−10</text>
<text x="156" y="1041" font-size="20.5" textLength="21.1" lengthAdjust="spacingAndGlyphs">−5</text>
<text x="252.1" y="1041" font-size="20.5" textLength="11.9" lengthAdjust="spacingAndGlyphs">0</text>
<text x="345.4" y="1041" font-size="20.5" textLength="10.3" lengthAdjust="spacingAndGlyphs">5</text>
<text x="433.2" y="1041" font-size="20.5" textLength="19.8" lengthAdjust="spacingAndGlyphs">10</text>
<text x="17" y="905" font-size="20.5" textLength="21.1" lengthAdjust="spacingAndGlyphs">−5</text>
<text x="26.2" y="790.3" font-size="20.5" textLength="11.9" lengthAdjust="spacingAndGlyphs">0</text>
<text x="27.8" y="675.6" font-size="20.5" textLength="10.3" lengthAdjust="spacingAndGlyphs">5</text>
<text x="116.2" y="661.2" font-size="22" textLength="49.4" lengthAdjust="spacingAndGlyphs">iTreg</text>
<text x="222.7" y="723.8" font-size="22" textLength="42.6" lengthAdjust="spacingAndGlyphs">Th17</text>
<text x="85.6" y="764.9" font-size="22" textLength="35.6" lengthAdjust="spacingAndGlyphs">Th0</text>
<text x="155.1" y="787.5" font-size="22" textLength="31.9" lengthAdjust="spacingAndGlyphs">Th1</text>
<text x="86.5" y="862.8" font-size="22" textLength="33.7" lengthAdjust="spacingAndGlyphs">Th2</text>
<text x="175.1" y="955.8" font-size="22" textLength="51.3" lengthAdjust="spacingAndGlyphs">IFN-β</text>
<text x="306.3" y="742.4" font-size="22" textLength="42.2" lengthAdjust="spacingAndGlyphs">Th17</text>
<text x="406.7" y="758.7" font-size="22" textLength="49.7" lengthAdjust="spacingAndGlyphs">iTreg</text>
<text x="406.7" y="811.9" font-size="22" textLength="35.6" lengthAdjust="spacingAndGlyphs">Th0</text>
<text x="311" y="831.4" font-size="22" textLength="31" lengthAdjust="spacingAndGlyphs">Th1</text>
<text x="423.3" y="859.1" font-size="22" textLength="33.8" lengthAdjust="spacingAndGlyphs">Th2</text>
<text x="308.9" y="896.4" font-size="22" textLength="51.1" lengthAdjust="spacingAndGlyphs">IFN-β</text>
<g transform="translate(787.7 782.8)">
<path fill="none" stroke="#66c2a5" stroke-width="2.2" stroke-linecap="round" d="M-19.5 21.5h0M-31.4 13.8h0M-33.4 14.1h0M-43.6 23.7h0M-20.9 21.1h0M-31.6 28.6h0M-21.2 11.8h0M-27 23h0M-36.8 14h0M-43 16.8h0M-34.2 24.1h0M-43.8 17.7h0M-21.3 15.2h0M-31.2 22.7h0M-39.4 24.5h0M-39.5 21.9h0M-30 28.3h0M-37 20.2h0M-43.4 24.9h0M-15.7 18.8h0"/>
<path fill="none" stroke="#fc8d62" stroke-width="2.2" stroke-linecap="round" d="M-18.3 16.8h0M-14.8 23h0M-16.4 16.4h0M-34.1 19.8h0M-30 14.2h0M-30.1 18.1h0M-28.4 22.4h0M-37 11.2h0M-35.2 12.8h0M-37.9 29h0M-14.8 14.3h0M-40.3 9.4h0M-33 11.8h0M-44.9 25.6h0M-21 10.6h0M-47.6 13.8h0M-28.1 17.7h0M-18 25h0M-49.9 21.5h0M-35.5 13.4h0"/>
<path fill="none" stroke="#8da0cb" stroke-width="2.2" stroke-linecap="round" d="M-19.6 20.6h0M-29.4 11.4h0M-15.1 23h0M-45.3 11.2h0M-27.2 11.7h0M-21.7 25.6h0M-47.7 13.3h0M-39.2 15.3h0M-19.5 18.5h0M-33 23.2h0M-22.6 14.2h0M-49.2 22.9h0M-44.8 18.3h0M-46.1 26.1h0M-49.3 15.8h0M-29.1 28.4h0M-45.5 26.5h0M-48.3 15h0M-32 14.8h0M-24.8 28.9h0"/>
<path fill="none" stroke="#66c2a5" stroke-width="2.2" stroke-linecap="round" d="M133 -39.5h0M143.8 14.7h0M103 24.7h0M78.4 -36.1h0M90.6 -0.6h0M109 3.2h0M103.9 -39.5h0M129.4 35h0M135.8 -19.8h0M117 -22.5h0M91.7 31.3h0M105.8 -38.4h0M124.8 8.9h0M106.2 -18.3h0M141.2 11.5h0M100.4 13.1h0M82.2 -23.7h0M79.7 -10.5h0M94.5 19.7h0M145.7 23.3h0M151.1 5.6h0M120.4 9.9h0M74.7 -5.1h0M59.6 -2.7h0M107.4 -39h0M108 -43.6h0M125 -17.9h0M164.6 2.9h0M149.8 -22.4h0M66.2 -13.4h0M146.6 11.6h0M114.1 0.2h0M100.7 19.2h0M152.7 18.9h0M121.2 -24.3h0M108.1 35.1h0M155.2 0.1h0M92.2 -18.1h0M62.7 4h0M102.6 -33.2h0M78.8 25.6h0M95.7 -38.2h0M96.6 8h0M139.7 13.6h0M102.9 -9.9h0M97.3 -33.5h0M100.5 30.2h0M77.4 -0.9h0M92.3 -29.4h0M79.9 -3.3h0M81.8 6.9h0M141.2 18.7h0M104.3 13.3h0M159.4 5h0M68 -30.2h0M85.5 -44.2h0M84 32h0M85.1 -19.7h0M85.4 21.2h0M100.3 -28h0M74.1 22.7h0M129.2 -7h0M125.8 -36.4h0M130.6 19.2h0M90.1 -8h0M159.9 9.3h0M88.2 12.1h0M89.7 -4.5h0M78 -27.3h0M156 -20.8h0M116.4 -14.7h0M118.8 5.6h0M120.7 23.9h0M110 -13.8h0M127.3 30.6h0M53.8 -5.9h0M139.8 5.6h0M99.1 -39.8h0M71.8 -12.7h0M116.4 -23.2h0M77.5 24.7h0M119.3 5.2h0M127.6 20.9h0M99.8 -46h0M123.1 -7h0M132.9 22h0M156 -7.5h0M110.4 -43.8h0M114.1 -24h0M110.6 22.7h0M110.2 -35.5h0M159.6 -20.7h0M105.6 -37.7h0M77.1 -33.5h0M122.3 -47.4h0M156.4 -10.3h0M69.9 -29.8h0M116.9 16h0M134.5 -13.8h0M142.7 -8.8h0"/>
<path fill="none" stroke="#fc8d62" stroke-width="2.2" stroke-linecap="round" d="M57.5 4.2h0M111.2 23h0M96.7 -45h0M99 23.4h0M105.4 -33.9h0M153.6 22.5h0M158.5 -26.9h0M129.3 -43.1h0M97.7 -32.8h0M88.8 24.2h0M134.9 -7.9h0M130 -34.1h0M87.7 -44.7h0M80.5 -11.8h0M94.4 33.1h0M77.8 26.5h0M94.6 -27.3h0M87.9 -3.2h0M137.7 28h0M127.3 3.9h0M122.1 -2.9h0M66 22.6h0M85.5 -42h0M81.3 -15.7h0M143.1 -15.2h0M123.6 -3.1h0M153.6 1.7h0M108.9 20.1h0M111 -4.1h0M117.3 35.2h0M103 10.2h0M94.8 -36.6h0M159.5 -11.4h0M118.1 7.7h0M112.2 24.5h0M130.8 10.3h0M121.2 -16.8h0M107.3 26.1h0M134.6 -8.2h0M63.3 11.8h0M70.2 15.4h0M104.3 -36.6h0M91.5 -10.4h0M99.3 4.5h0M119.2 -18.5h0M127.8 5.1h0M154.1 15.3h0M137.4 -24.4h0M131.4 -41.5h0M131.4 7.9h0M142.9 7.8h0M88.6 12.6h0M134 -24.4h0M111.4 6.8h0M109.8 -0.6h0M128.2 6.1h0M139.8 -12h0M77.8 -10h0M165 -10.4h0M94.2 24.5h0M93.6 -36.1h0M155.3 -15.5h0M91.9 16.3h0M77.7 -28.1h0M153.1 20.4h0M114 17.2h0M135.9 -6.2h0M148.1 3.5h0M69.3 -4.7h0M125.3 -14.2h0M89.5 14.4h0M158.7 -7.6h0M73.5 -17.9h0M119.9 -42.5h0M65.3 1.7h0M86.5 8.5h0M134.2 28.4h0M142.3 -12.9h0M59.9 -14h0M139.5 4.7h0M106 13.5h0M121.8 -8.2h0M130 24.7h0M139 -16.7h0M76.3 25.7h0M71.9 -20.9h0M65.2 -6.1h0M100 -24.6h0M97 -20.9h0M120.9 -46.3h0M141.7 -8.8h0M155 -28.9h0M67.3 -22.2h0M158.6 -7.9h0M77.7 -17.2h0M140.3 -9.4h0M133.9 -30h0M155.4 7.9h0M159.5 3.5h0M87.8 0.4h0"/>
<path fill="none" stroke="#8da0cb" stroke-width="2.2" stroke-linecap="round" d="M154.9 -6.7h0M111.5 -22.9h0M113.4 -8.5h0M107.8 19.4h0M105 -33.4h0M126.9 -26.3h0M109.4 30.6h0M133.3 20.9h0M128.4 -40.2h0M105.4 12.1h0M58.2 -20.8h0M156.9 5.5h0M87.4 0.4h0M79.4 19h0M61.5 15.1h0M113.5 -48.9h0M94.3 5.8h0M81.1 7.1h0M112.1 12.3h0M74.3 -40h0M121.9 -45.5h0M66.8 -7.2h0M150.3 13.2h0M153 -8.4h0M128.2 32.7h0M118.9 17.6h0M123.6 -9.9h0M71.7 -23.2h0M116.6 36.6h0M101 31.6h0M77.2 30.9h0M114.4 -33.8h0M109.2 -36h0M116.8 29.7h0M92.2 -25h0M111 -17.3h0M76.4 28.9h0M70.7 25.8h0M61.2 -24.6h0M107.8 1.6h0M108.4 -34.9h0M130.5 30.6h0M90.6 -44.3h0M154 8.9h0M136.1 13.3h0M105.3 6.4h0M103.4 17h0M138.1 -37.7h0M94.7 24.6h0M150.2 -7.1h0M119.3 -44.5h0M64.2 -7.7h0M119.6 -16.2h0M86.3 -26.5h0M137.1 -28.1h0M124.6 -26.7h0M140.2 -41.3h0M86.4 22.4h0M108.4 -24.6h0M165.1 -13.2h0M76.9 -6.4h0M84.3 -19.4h0M124.6 -9.3h0M70.7 -17h0M124.7 -16.5h0M119.2 21.4h0M63.9 1.5h0M126.1 -7.8h0M105.9 3h0M105.3 -27.7h0M106 -4.5h0M138.5 -10.6h0M95.4 -2.6h0M73.2 27.1h0M75.5 0.1h0M84.9 -23.6h0M97.2 -6.7h0M105 -6.2h0M154.4 -18.3h0M142.9 16.8h0M105.2 11.9h0M109.6 -39.3h0M64.7 12.1h0M101.4 32.4h0M76.1 -9.8h0M70.1 -13.6h0M140.1 25.4h0M81.6 -29.3h0M130.5 22.5h0M63.3 -26.3h0M130.7 -40.6h0M99.2 -27.6h0M112.9 -17.9h0M144.1 -37.2h0M65.7 -2.7h0M84.4 -43.8h0M59.2 -25.2h0M79.3 31.7h0M124.3 -18.5h0M116.4 14.6h0"/>
<path fill="none" stroke="#66c2a5" stroke-width="2.2" stroke-linecap="round" d="M-84.6 -18.3h0M-95.9 -51.3h0M-115.8 -61.6h0M-129.8 -9.6h0M-62 -69.2h0M-65.8 -9.8h0M-82 -66.5h0M-62.2 -66.4h0M-95 4.1h0M-66.3 -60.4h0M-124.4 -74.1h0M-72 -52.5h0M-102.3 -18.5h0M-134.5 -65.7h0M-66.2 -9.9h0M-105.8 2.4h0M-57 -67.7h0"/>
<path fill="none" stroke="#fc8d62" stroke-width="2.2" stroke-linecap="round" d="M-50.7 -55.7h0M-78.6 -4.4h0M-110.2 0.7h0M-71.4 -65.8h0M-128.3 -78.4h0M-92.8 -64.1h0M-78.3 -71.7h0M-92.5 3.9h0M-81.7 -24.4h0M-83.7 -23.3h0M-75.4 -7.2h0M-54.6 -53h0M-69.7 -45.9h0M-84 -18h0M-81.7 -74.1h0M-111.2 -28.4h0M-100 -18.6h0"/>
<path fill="none" stroke="#8da0cb" stroke-width="2.2" stroke-linecap="round" d="M-63.7 -28.9h0M-138 -11.9h0M-146.3 -20.9h0M-77.3 -2.5h0M-137.4 -52h0M-88.1 -65.3h0M-85.5 -10.2h0M-83.6 -56.9h0M-135.8 -22.5h0M-37 -30.3h0M-68.6 -4.3h0M-69.8 -78.5h0M-125.4 -78.9h0M-91.6 -68.6h0M-84.4 -59.2h0M-72.2 -69.1h0"/>
<path fill="none" stroke="#66c2a5" stroke-width="2.2" stroke-linecap="round" d="M42.1 37.8h0M42.9 29h0M45.1 34.5h0M42.1 39.2h0M44 43.7h0M50.4 33.6h0M48.8 25.6h0M46 29.8h0M39.2 31.1h0M40.8 28.3h0M48.9 40.3h0M45.8 32.1h0M47.9 41h0M44.7 25.9h0"/>
<path fill="none" stroke="#fc8d62" stroke-width="2.2" stroke-linecap="round" d="M49.9 28.8h0M50.7 29.5h0M48.1 25.9h0M49.6 38.2h0M49.9 30.6h0M48.3 24.5h0M39.8 29.7h0M49.5 32.2h0M50.9 37.2h0M48.6 36.9h0M38 31.5h0M39.2 39.4h0M41.6 37.8h0"/>
<path fill="none" stroke="#8da0cb" stroke-width="2.2" stroke-linecap="round" d="M51.4 33.5h0M48.2 32.2h0M43.3 33.6h0M47.2 41.8h0M48.3 41.8h0M46.4 27h0M41.3 39h0M46.2 30.9h0M41.2 36.7h0M50.3 35h0M43.5 38.2h0M48.1 40.3h0M50.7 30.7h0"/>
<path fill="#8da0cb" d="M-98.1 -104.1L-98.7 -100.3L-99.4 -96.6L-99.8 -92.7L-100.9 -89L-102.7 -86.1L-105.2 -84.5L-107.8 -83.8L-110.4 -83.9L-112.4 -80.7L-114.9 -79.2L-117.4 -81L-120.1 -81.1L-122.2 -83.5L-124.1 -86.1L-126.5 -87.8L-128.5 -90.6L-130 -94L-130.6 -98L-131.4 -102L-132 -106.2L-131.7 -110.5L-129.3 -113.7L-127.1 -116.2L-125.2 -118.6L-123 -120.1L-121.5 -123L-119.1 -123.3L-117.2 -125.5L-114.9 -126.6L-112.5 -126.2L-109.8 -127L-107.1 -126.8L-104.2 -125.9L-102.4 -122.6L-100.5 -119.6L-100.2 -115.1L-98.9 -111.7L-98.7 -107.9ZM-126.3 -86.4L-127.8 -83.5L-129.9 -81.3L-132.6 -78.7L-136.2 -80L-139.3 -81.1L-141.1 -83.6L-142.8 -86.4L-142.1 -89.7L-139.4 -91.8L-136.2 -93.1L-132.7 -93.7L-129.4 -92.1L-127.5 -89.4Z"/>
<path fill="none" stroke="#8da0cb" stroke-width="2.2" stroke-linecap="round" d="M-99.4 -92.3h0M-126.4 -85.7h0M-131.1 -114.2h0M-96.6 -107.2h0M-133.6 -94.2h0M-116.8 -127.6h0M-130.4 -101.1h0M-117.6 -128.5h0M-130.5 -101.7h0M-131.4 -113.1h0M-98.3 -110.1h0M-118.2 -81.3h0M-109.1 -130.7h0M-129.5 -96.8h0M-129.8 -90.9h0M-100.1 -82.5h0M-127.8 -119.8h0M-110.5 -79.7h0M-128.2 -122h0M-99.4 -90.3h0M-99.3 -112.4h0M-97.3 -120h0M-97.6 -89.7h0M-105.7 -81.7h0M-131 -114.1h0M-95.8 -95.4h0M-116.9 -72.1h0M-114.3 -128h0M-128.8 -121.5h0M-113.1 -128.5h0M-126 -125.2h0M-103.3 -86.4h0M-130.9 -107.5h0M-102.7 -119.8h0M-120.4 -128.4h0M-130.7 -114.1h0M-127.8 -90.4h0M-93.5 -96h0M-106.8 -124.5h0M-127.6 -83.6h0M-96.8 -93.1h0M-130.3 -99.6h0M-127.8 -118h0M-130.6 -119h0M-132.3 -87.7h0M-98.2 -107h0M-127.2 -84.3h0M-127.4 -92.1h0M-122 -81.5h0M-95.6 -108.7h0M-99.2 -122.8h0M-124.3 -128.5h0M-112.8 -75.5h0M-95.9 -96.6h0M-129.1 -116.2h0M-98.5 -108.6h0M-139.3 -106.1h0M-122.8 -73.9h0M-131.5 -114.2h0M-134.6 -109.9h0M-130.7 -91.3h0M-106.9 -80.3h0M-103.6 -126.1h0M-120.5 -81.2h0M-124.4 -76h0M-128.9 -116.7h0M-98.6 -101.3h0M-106.1 -124.7h0M-130.5 -110.7h0M-129.7 -111.7h0M-124.4 -130.8h0M-99.4 -86.1h0M-106.8 -125.8h0M-123.4 -81.7h0M-107.6 -81.3h0M-126 -76.8h0M-111.9 -77.3h0M-99.2 -110.3h0M-132.8 -95.5h0M-104.7 -79.1h0M-97 -105.7h0M-104.7 -122.2h0M-130.9 -98h0M-98.5 -111.6h0M-103.7 -121h0M-121.9 -81.9h0M-129.7 -108.9h0M-112.2 -135h0M-130.4 -97h0M-109.9 -127.7h0M-126.5 -88.6h0M-100.8 -90.3h0M-119.1 -138.3h0M-109.6 -130.3h0M-107 -129.6h0M-130.7 -120h0M-107.3 -80h0M-123.7 -122.4h0M-93.5 -105.1h0M-98.7 -95.6h0M-110.8 -75.4h0M-97.9 -124.6h0M-97.6 -99.7h0M-104.4 -125h0M-120.4 -126.7h0M-122.4 -84.2h0M-125.9 -121.9h0M-116.6 -81.2h0M-106.4 -124h0M-131.9 -117.7h0M-130.2 -99.3h0M-130.7 -95.3h0M-104.8 -124.9h0M-119.4 -80.7h0M-131.5 -91.1h0M-109.5 -77.2h0M-135.9 -81.6h0M-136.3 -121.6h0M-113.8 -67.3h0M-114.3 -129.6h0M-103.2 -71.3h0M-107.5 -80.2h0M-118.3 -127.6h0M-102.2 -122.9h0M-115.9 -144.7h0M-130.2 -99.8h0M-109.8 -127.9h0M-102.9 -126.4h0M-131 -103.5h0M-112 -129.9h0M-115.3 -75.9h0M-131.5 -94.9h0M-106.7 -80.9h0M-142.3 -103.5h0M-130.4 -99.2h0M-95.7 -110.2h0M-99.4 -113.6h0M-121.1 -78.3h0M-127.6 -130.1h0M-104.6 -85h0M-117.5 -75h0M-110.2 -76.7h0M-96.6 -107.5h0M-123.4 -126.4h0M-102 -125.9h0M-119.2 -133.9h0M-119.8 -74.8h0M-124.7 -70.4h0M-97.1 -105.2h0M-127.9 -123.8h0M-95.4 -132.6h0M-89 -95.7h0M-102 -126.8h0M-123.9 -126.3h0M-107.5 -125.8h0M-109.6 -130.2h0M-107.1 -125.2h0M-99.3 -98.4h0M-123.5 -89.6h0M-134.6 -78.4h0M-142.1 -91.9h0M-138 -75.9h0M-125.2 -83.5h0M-142 -89.8h0M-127.7 -79.6h0M-130.9 -78.6h0M-125.1 -97.4h0M-117.9 -84.7h0M-142.3 -86.8h0M-139.4 -78.5h0M-143.5 -91.6h0M-129.7 -96.1h0M-136.5 -76.9h0M-124.3 -88.7h0M-146.8 -78.2h0M-126.8 -87h0M-126.6 -95.8h0M-132 -94.3h0M-138.8 -77.7h0M-124.8 -90.6h0M-129.9 -80.3h0M-147.7 -80.9h0M-131 -79.4h0M-134.7 -95.8h0M-144.3 -84.4h0M-126.6 -84.2h0M-128.2 -94.3h0M-123 -97.6h0M-129.7 -80.3h0M-138 -93.2h0M-141.6 -101.4h0M-141.3 -93.9h0M-130.1 -76.1h0M-142 -82.6h0M-135.3 -96.2h0M-140.8 -77.4h0M-135.4 -76.5h0M-134 -96.2h0M-130.1 -77.2h0M-134.4 -93.3h0M-115.1 -81.5h0M-143.4 -91.1h0M-125.2 -91.1h0M-145.6 -87.9h0M-142.8 -86.5h0M-137.2 -77.5h0M-142.4 -87.1h0M-134.6 -79h0M-128.5 -91.5h0M-128 -92.7h0M-129.1 -92.5h0M-137.9 -95.5h0M-132.6 -94h0M-133.6 -96.1h0M-138.1 -79.7h0M-137.7 -73.6h0M-136 -71.2h0"/>
<path fill="#66c2a5" d="M-108.2 -120.8L-107.6 -117.4L-106 -113.4L-107.3 -110.1L-107.5 -106.1L-108.3 -102.3L-110.8 -99.9L-111.7 -95.6L-114.7 -94.1L-117.2 -92L-119.6 -89.4L-122.6 -88.5L-125.9 -90.2L-128.6 -87.5L-131.5 -89.5L-134.5 -89.1L-136.8 -92.1L-140.1 -90.9L-142.4 -93.4L-143.9 -96.9L-147.7 -96.8L-148.8 -100.6L-151.7 -102.5L-152 -106.7L-154 -109.6L-154.4 -113.4L-154.3 -117.1L-153.3 -120.8L-152.9 -124.2L-150.6 -127.1L-149.9 -130.1L-150.9 -134.2L-149.5 -137.2L-147.9 -140L-146.8 -143.6L-145.4 -147.3L-143.2 -150L-140.8 -152.7L-138 -154.8L-134.7 -154.3L-131.7 -155.1L-128.7 -153.1L-125.5 -155L-122.5 -153.7L-119.9 -151.3L-117.7 -148.5L-115.4 -146.3L-113.1 -144L-112.6 -139.8L-111.4 -136.7L-110.5 -133.5L-110.6 -130L-108.3 -127.5L-109.2 -124ZM-117 -73.5L-116.3 -69.4L-117.3 -66.8L-117.9 -63.6L-120 -64L-122.1 -64.9L-124 -67.7L-125.6 -71.2L-126.3 -75.2L-125.6 -78.2L-124.1 -79.4L-122.6 -80.9L-120.6 -79.6L-118.6 -77Z"/>
<path fill="none" stroke="#66c2a5" stroke-width="2.2" stroke-linecap="round" d="M-154.3 -113.4h0M-111.8 -98.8h0M-140.3 -154.8h0M-105.4 -111.2h0M-107.9 -131h0M-154.5 -134.8h0M-127.4 -154h0M-138.8 -88.7h0M-104.1 -101.5h0M-95.3 -140h0M-107.7 -131.4h0M-147.5 -146.1h0M-106.2 -124.3h0M-116.7 -91h0M-154 -115.5h0M-146 -93.7h0M-127.6 -153h0M-139.4 -88.4h0M-144.2 -93.3h0M-127.8 -84.9h0M-105.9 -108.5h0M-113.2 -145.5h0M-113.5 -90.5h0M-157.1 -135h0M-142.6 -88.7h0M-135.9 -152.2h0M-106.6 -112h0M-138.5 -153.1h0M-107.2 -103.3h0M-145.1 -97.1h0M-143.6 -148.6h0M-147.7 -91.9h0M-105 -117h0M-105 -119.9h0M-136.8 -88.8h0M-136.8 -151.8h0M-109.6 -146.7h0M-109 -140.1h0M-115.6 -95.7h0M-112.7 -98h0M-129.2 -87.8h0M-120.2 -90.9h0M-144.6 -96.5h0M-105.9 -109.3h0M-154.2 -94h0M-148.9 -139.7h0M-107.8 -107.9h0M-134.8 -79h0M-106.8 -106.1h0M-102.9 -143h0M-148.4 -140.5h0M-113 -145.8h0M-157.8 -135.7h0M-156.3 -107.5h0M-126.8 -154.7h0M-150.8 -94.6h0M-117.3 -147h0M-123.2 -91.6h0M-105.6 -115h0M-152.9 -107.3h0M-104.5 -111h0M-110.6 -94.7h0M-109.9 -136.7h0M-157.7 -118.7h0M-157.3 -109.6h0M-135.9 -90.2h0M-115.9 -91.7h0M-129 -89.6h0M-108.6 -103.5h0M-154.5 -103.6h0M-148.9 -148.2h0M-123.3 -87.5h0M-144.2 -93.2h0M-119.4 -150.5h0M-110.1 -149.3h0M-134.1 -88.3h0M-118.9 -149.2h0M-154.5 -129.2h0M-124.3 -89.2h0M-152.1 -147.3h0M-109.8 -102.8h0M-146.6 -95.8h0M-110.5 -98.4h0M-120.8 -89.2h0M-121.3 -88.2h0M-112.5 -149h0M-107 -113.4h0M-139.7 -151h0M-120.3 -149.6h0M-106.2 -126.8h0M-152.4 -108.8h0M-131.1 -86.6h0M-154.4 -117.5h0M-154 -105.4h0M-158.9 -113h0M-153.1 -98.2h0M-112.2 -143.5h0M-155.4 -149.9h0M-135.7 -153.6h0M-152 -132.7h0M-136.9 -87.1h0M-139 -90.9h0M-103.7 -122.1h0M-139.4 -90.3h0M-108 -96.3h0M-150.3 -140.1h0M-110.1 -104.3h0M-161.9 -142h0M-151.3 -138.1h0M-151.3 -102.6h0M-132.7 -151.6h0M-123.7 -89.5h0M-107.4 -130.7h0M-140.3 -92.8h0M-135.2 -152.6h0M-127 -86.1h0M-108.5 -135.3h0M-140.5 -87.3h0M-155.3 -115.3h0M-133.5 -157.1h0M-128.8 -153.2h0M-108.3 -137.9h0M-112.2 -95.5h0M-113.1 -99.3h0M-109.6 -101.7h0M-155.4 -118.2h0M-135.4 -89.2h0M-153.2 -136.6h0M-111.2 -99.8h0M-149.5 -97.4h0M-145.9 -155.1h0M-141 -150h0M-153.6 -129.3h0M-133.2 -151.1h0M-102.3 -122h0M-107.8 -134.8h0M-134.2 -89.4h0M-113.8 -146.1h0M-106.4 -123.3h0M-109.3 -135.6h0M-135.5 -155.5h0M-151.4 -98.5h0M-131.9 -152.8h0M-107.6 -131.6h0M-150.8 -135.7h0M-133.9 -155.7h0M-101.7 -121.8h0M-149.2 -100h0M-132.4 -87.6h0M-144.8 -95.6h0M-107.7 -136.8h0M-109 -96.7h0M-136 -90.4h0M-155.5 -110.9h0M-109.3 -101.2h0M-123.8 -87.9h0M-156.4 -116.1h0M-125.8 -87.4h0M-134.9 -84.8h0M-113.9 -97.6h0M-128.3 -78.1h0M-121.6 -91.9h0M-113.2 -146.2h0M-146.3 -145.8h0M-138.6 -152h0M-106.3 -117.4h0M-149.9 -99h0M-135 -89.4h0M-106.8 -126h0M-106 -125.1h0M-144.8 -93.4h0M-151.1 -103.2h0M-114.4 -145.2h0M-125.7 -88.6h0M-105.2 -126.8h0M-121.8 -157.2h0M-133.8 -85.4h0M-106.4 -108.9h0M-108.3 -97.9h0M-106 -130h0M-104.2 -123.8h0M-116.1 -92.4h0M-111.4 -100.3h0M-92.5 -145.6h0M-125 -89h0M-143.7 -150.7h0M-136.7 -88.6h0M-145.8 -145.5h0M-155.8 -115.2h0M-131.2 -152.6h0M-114.7 -89.8h0M-104.4 -122.8h0M-149.9 -95.9h0M-120 -90.7h0M-102.4 -111.6h0M-144.1 -147.1h0M-143 -90.5h0M-101 -101.5h0M-155.2 -122h0M-103.2 -122.8h0M-105.3 -128.3h0M-154.7 -122.4h0M-104.9 -121.9h0M-134.7 -85.2h0M-153.4 -129.9h0M-109.2 -141.3h0M-120.8 -154.5h0M-108.7 -139h0M-146.6 -154.8h0M-119.3 -152h0M-135.1 -88.7h0M-161.9 -123.7h0M-155.3 -111.8h0M-155.4 -130.4h0M-102.1 -124.1h0M-111.4 -141.1h0M-148.5 -145.2h0M-146.2 -150.1h0M-122.9 -85.7h0M-107.5 -131.9h0M-106.4 -118.4h0M-120.8 -80.2h0M-121.4 -80.6h0M-124.5 -82.7h0M-115.4 -72.3h0M-124.5 -84h0M-124.6 -80.8h0M-125.1 -65h0M-115.2 -72.7h0M-121.5 -64h0M-126.4 -69.1h0M-120.8 -80.6h0M-119.6 -79.2h0M-119.6 -78.9h0M-118.7 -79h0M-125.4 -79.1h0M-117.7 -78.2h0M-123.4 -65.8h0M-116.5 -63.9h0M-118.9 -80.2h0M-120.5 -79.7h0M-124.3 -81.4h0M-118.3 -78.6h0M-117.4 -63.2h0M-125.9 -79.5h0M-119.6 -61.4h0M-123.7 -66.7h0M-117 -72.7h0M-115.8 -63.8h0M-124.7 -67h0M-120.1 -61.8h0M-124.6 -68.5h0"/>
<path fill="#fc8d62" d="M-10.2 -66.2L-12.1 -63.6L-13.3 -60.9L-15.2 -58.5L-18.5 -57L-19.1 -54L-22.6 -53.1L-25 -51.4L-27.6 -49.8L-29.9 -47.5L-33.6 -47.9L-36.8 -47L-40.2 -46.9L-43.7 -46L-47.1 -46.8L-51.4 -45.7L-54.1 -48.3L-57.2 -50L-59.3 -52.7L-60.9 -55.4L-64.7 -56.6L-65 -59.9L-66.1 -62.5L-68.2 -64.9L-70.8 -67.4L-72 -70.3L-72.2 -73.4L-71.4 -76.3L-69.8 -79L-67.7 -81.3L-63.8 -82.6L-61.4 -84.2L-61.3 -87.6L-59.2 -89.6L-56.9 -91.7L-54 -93.3L-51.5 -96.3L-48 -97.5L-44 -96L-40.3 -96.3L-36.7 -95.5L-33.9 -92.4L-30.9 -91.2L-26.7 -91.7L-24.9 -88.7L-20.7 -88.2L-19 -85.4L-17.8 -82.6L-14 -80.9L-12 -78.3L-10.9 -75.3L-9.7 -72.3L-11.4 -69.3Z"/>
<path fill="none" stroke="#fc8d62" stroke-width="2.2" stroke-linecap="round" d="M-28.8 -91.9h0M-31.9 -95.5h0M-39.5 -42.8h0M-32.3 -45.7h0M-13 -56h0M-20.5 -48.5h0M-66 -91.1h0M-34.1 -44.4h0M-21 -88h0M-44 -95.3h0M-53.8 -45.5h0M-11.7 -70.3h0M-9.1 -56.8h0M-38 -110.4h0M-16.7 -56.7h0M-15.5 -58.8h0M-56.9 -92.3h0M-47.8 -96.1h0M-72 -73.2h0M-11.1 -74.9h0M-35 -47h0M-11.6 -69.6h0M-68.4 -62.4h0M-21.9 -93.7h0M-59.8 -52.4h0M-67.1 -83.4h0M-19.4 -51.7h0M-47.7 -47h0M-40.7 -95h0M-74.8 -63.6h0M-69.9 -71.9h0M0.3 -79.9h0M-67.4 -83.2h0M-17.9 -54.2h0M-72.6 -72.4h0M-20.8 -50.3h0M-10.1 -73.4h0M-31 -93.4h0M-48.5 -44h0M-25.9 -94.3h0M-52.7 -47.9h0M-63.6 -87.7h0M-16.9 -51.7h0M-11.4 -62h0M-12.8 -75.1h0M-66.8 -86.5h0M-39.3 -45.1h0M-65.3 -57.3h0M-44.9 -94.8h0M-34.9 -94.4h0M-32.3 -94.7h0M-55.6 -49.8h0M-35.5 -95h0M-38.9 -98.1h0M-9.9 -62.9h0M-63 -52h0M-47.8 -95.8h0M-40.5 -45.1h0M-8.6 -56.9h0M-66.2 -58.8h0M-61.6 -89.9h0M-42.3 -99.3h0M-33.2 -46.5h0M-13.7 -58.5h0M-13.1 -74.7h0M-16.5 -82.6h0M-53.2 -47h0M-64.5 -87.7h0M-31.9 -40.5h0M-26 -102.1h0M-69.2 -64.1h0M-35.7 -94.8h0M-16.4 -83.1h0M-32.1 -45.5h0M-8.2 -81.6h0M-39 -95.3h0M-21.6 -91h0M-60.6 -47.3h0M-37 -96.2h0M-10.5 -74.8h0M-46.5 -42h0M-69.3 -76.3h0M-57.5 -98.7h0M-31.3 -46.6h0M-18.7 -87.3h0M-68.9 -59.2h0M-22.7 -90.3h0M-65.9 -85.1h0M-10.5 -66.8h0M-12.4 -70.5h0M-32.9 -47.3h0M-55.8 -91.9h0M-9.6 -77h0M-48.7 -96.4h0M-36.5 -44.4h0M-68.6 -82.2h0M-2.4 -49.2h0M-68.5 -89.5h0M-16.6 -88.4h0M-52.5 -94.7h0M-60.6 -50.6h0M-73.2 -67.4h0M-59.3 -48.7h0M-63.9 -56.5h0M-71.2 -79.9h0M-73.2 -73.7h0M-16.7 -51.6h0M-23.6 -50.8h0M-56.8 -49.6h0M-74 -73h0M-45.2 -96.1h0M-73.4 -75.3h0M-35.2 -98.1h0M-64.3 -52.6h0M-60.1 -47.9h0M-12.7 -74.6h0M-72.5 -61.9h0M-19.5 -92.8h0M-61.2 -91.9h0M-64.2 -89.1h0M-71.5 -68.6h0M-27.5 -43.1h0M-60.3 -51.9h0M-64.9 -87.6h0M-23.8 -93.2h0M-22.1 -51.5h0M-45.7 -94.6h0M-61.7 -54.5h0M-15.5 -85.5h0M-59.7 -92.1h0M-55.8 -50.2h0M-51.9 -48.8h0M-12.4 -80.4h0M-11.4 -80.4h0M-9.5 -77.9h0M-81.8 -65h0M-41.9 -45h0M-51.3 -44.7h0M-65 -56.1h0M-68.1 -82.1h0M-37.8 -95h0M-67.7 -48.5h0M-11.3 -61.4h0M-33.8 -45.3h0M-43.2 -95.4h0M-69.4 -56.3h0M-32.5 -93.4h0M-38.6 -95.5h0M-23.9 -91h0M-53.6 -47.7h0M-13 -76.4h0M-58.1 -91.5h0M-57.8 -48.2h0M-44.3 -95.1h0M-44.8 -94.3h0M-31.8 -95.5h0M-16.5 -87.2h0M-14.6 -82.5h0M-60 -90h0M-9.4 -59.1h0M-68.8 -55.8h0M-60.3 -50.8h0M-11.8 -68.7h0M-54.1 -94.9h0M-55.8 -92.2h0M-71.9 -60.2h0M-38.5 -94.9h0M-15.1 -52.1h0M-19 -34.4h0M-73.5 -72h0M-31 -93.4h0M-11.6 -65.3h0M-58.8 -45h0M-48.3 -96.3h0M-8.9 -69.1h0M-8.8 -73.8h0M-70.7 -61.6h0M-44.3 -97h0M-49 -94.3h0M-11.2 -70.3h0M-65.4 -53h0M-22.6 -90.2h0M-69 -86.2h0M-25 -111.1h0M-52.5 -93.3h0M-15.3 -83.5h0M-68.1 -59.1h0M-60.4 -49.7h0M-73.8 -77.8h0M-6.5 -59.5h0M-27.7 -45.2h0M-17.3 -90.4h0M-62.7 -52.5h0M-11.7 -73.5h0M-16.3 -83.5h0M-53.4 -100.5h0M-3.2 -73.6h0M-67.4 -61.8h0M-65.3 -87.8h0M-73 -86.7h0M-61.2 -53.3h0M-26.1 -48.2h0M-13.8 -88.1h0M-65.4 -55.3h0M-21.3 -88.3h0M-20.6 -51.9h0M-72.1 -85.6h0M-67.8 -86.1h0M-22 -97.6h0M-55.6 -93.2h0M-39.5 -94.5h0M-63.2 -96.1h0M-20.9 -89.1h0M-19 -85.4h0"/>
<path fill="#8da0cb" d="M-26.5 -49.4L-27.2 -46.9L-29.7 -45.2L-32.4 -43.8L-35.6 -44.1L-39 -44.7L-41.1 -46.8L-40.9 -49.4L-40.1 -51.6L-38.9 -54L-35.9 -55.5L-32.4 -54.9L-29.8 -53.5L-27.6 -51.8Z"/>
<path fill="none" stroke="#8da0cb" stroke-width="2.2" stroke-linecap="round" d="M-37 -41.5h0M-38.1 -41.4h0M-41.4 -54.8h0M-26.1 -51.8h0M-9.9 -50.4h0M-35.3 -55.7h0M-41 -43.7h0M-34.5 -58.8h0M-25.6 -45.1h0M-26.8 -53.9h0M-21.3 -44h0M-25.4 -44.8h0M-38.3 -54.9h0M-41.9 -44.3h0M-23.1 -48.9h0M-42.1 -55h0M-37.8 -44.3h0M-39.9 -55.6h0M-25.8 -52.1h0M-39.6 -54.3h0M-42.5 -52.4h0M-42.4 -42.8h0M-39.8 -55.6h0M-43.2 -45.4h0M-23.5 -46h0M-41.4 -44.3h0M-37 -58.1h0M-38.6 -41.1h0M-48.8 -49.9h0M-43.4 -51.5h0M-22.6 -49h0M-25.7 -67.9h0M-23.6 -55.4h0M-24.6 -50.5h0M-42.8 -43.8h0M-31.5 -42h0M-25.4 -55.9h0M-35.2 -67.6h0M-40.8 -40.6h0M-25.9 -50.1h0M-31.1 -44h0M-32.3 -41.5h0M-29.4 -44.1h0M-32.2 -43.6h0M-27.3 -54.3h0M-40.8 -45.7h0M-40 -44.9h0M-39.2 -43.8h0M-37.3 -41.1h0M-25.8 -50.1h0M-27.5 -55.5h0"/>
<path fill="#66c2a5" d="M-22.1 -43.2L-23.1 -40.7L-24.5 -38.3L-27.3 -38.2L-29.5 -38.7L-31.7 -39.1L-33.9 -40.6L-33.9 -43.2L-33.9 -45.9L-32.1 -47.9L-29.6 -48.5L-27.2 -48.6L-25.1 -47.4L-23.7 -45.5Z"/>
<path fill="none" stroke="#66c2a5" stroke-width="2.2" stroke-linecap="round" d="M-17.8 -37.9h0M-32.3 -53.8h0M-25.8 -37.9h0M-41.3 -43.1h0M-20.2 -43.9h0M-29.4 -35.8h0M-32.5 -39h0M-22.9 -50.2h0M-34.2 -40.6h0M-26.4 -51.6h0M-35.3 -45.4h0M-25.9 -36.7h0M-30.9 -36h0M-25.7 -36.7h0M-26.6 -36.1h0M-21.9 -49.6h0M-33.9 -44h0M-30.6 -32.7h0M-23.1 -36.8h0M-31.7 -48.7h0M-22 -47h0M-46.5 -49.2h0M-33.1 -47h0M-34.5 -37.3h0M-34.2 -40.1h0M-26.8 -52.1h0M-26.8 -51.5h0M-19.9 -43.8h0M-34.4 -52.3h0M-29.8 -49.6h0M-24.8 -35.8h0M-27.6 -31.5h0M-30.2 -35.3h0M-31.5 -48.8h0M-26.1 -34h0M-36.8 -41.9h0M-29 -33.7h0M-29.8 -36.4h0M-24.4 -49.5h0M-26.1 -37.6h0M-19.9 -43.2h0M-33.7 -35.6h0M-28.9 -50h0M-35.5 -47.3h0"/>
<path fill="#8da0cb" d="M-127 -9.7L-126.7 -6.4L-127.5 -3.2L-129.2 -0.4L-132.5 1.4L-132.9 4.8L-135 7.1L-137.6 8.8L-139.3 12.1L-141.9 14.6L-145.5 14.1L-148.7 14.9L-152.1 16.5L-155.5 15.2L-157.8 11.7L-160.8 10.9L-163 8.5L-165.7 7.1L-168.8 5.6L-170.4 2.7L-172.7 0.1L-175 -2.7L-173.2 -6.5L-173.8 -9.7L-173.6 -13L-171.8 -15.9L-171.1 -18.9L-171.1 -22.6L-169.5 -25.7L-166.2 -27L-164.5 -30.1L-161.5 -31.6L-158.3 -32.4L-155 -32.5L-151.8 -31.1L-148.9 -32.7L-145.9 -32.1L-142.9 -31.3L-140 -30.3L-136.9 -29.3L-134.1 -27.6L-131.2 -25.8L-130.4 -22.2L-128.5 -19.5L-126.9 -16.5L-126.5 -13.1Z"/>
<path fill="none" stroke="#8da0cb" stroke-width="2.2" stroke-linecap="round" d="M-127.6 -4h0M-174.3 -14.4h0M-134.2 -31.5h0M-172 -1.2h0M-172.3 -2.2h0M-166.1 10.2h0M-125.7 -8.3h0M-138.1 -29.9h0M-156.3 13h0M-140.8 17.2h0M-169.5 -24.4h0M-148.6 13.9h0M-140.7 13.4h0M-172.7 -18.7h0M-174.7 -21.6h0M-138.2 -31.8h0M-169.8 3.5h0M-170.3 -22h0M-130.2 0.8h0M-137.5 14.8h0M-134.1 17.9h0M-121.7 -14.9h0M-171.5 -40.1h0M-158.5 16h0M-133.8 6.9h0M-171 -23.7h0M-182.2 0.1h0M-162.9 11.2h0M-150.2 -33.6h0M-127.5 -7.5h0M-153 13.7h0M-172.7 -17.3h0M-139.9 10.9h0M-161.1 14.7h0M-133.6 8.4h0M-132.5 5.9h0M-129.6 -21h0M-133.5 9.6h0M-164.6 8.8h0M-163.4 9.2h0M-177.1 -18.6h0M-138.9 11.6h0M-142.5 -33.5h0M-164.9 -28.4h0M-148.9 -38.8h0M-171.8 -1.3h0M-175 -20h0M-154.3 18.7h0M-145.8 -35.5h0M-174.3 -11.2h0M-173.5 -12.1h0M-165.5 13.4h0M-172.8 -22.1h0M-160.7 11.9h0M-166.7 13.3h0M-174.9 -12.3h0M-149.3 13.4h0M-172.8 -0.4h0M-175.6 -2.9h0M-165.3 8.7h0M-157.3 -33.3h0M-173.3 -8.4h0M-127.6 -24.3h0M-172.8 -18.9h0M-135.1 -28h0M-133.5 -30.4h0M-153.8 -45.2h0M-134.4 -29h0M-136 -30.1h0M-129.9 0.8h0M-173.4 -13.2h0M-129.4 4.8h0M-162.6 10.7h0M-154.2 13.6h0M-129.4 -20.2h0M-152.6 -36h0M-174.9 -1.3h0M-128 5h0M-168.6 -24.4h0M-127.6 -8.3h0M-171.2 -0.6h0M-146.2 -34.7h0M-173.9 -8.4h0M-170.8 -20.2h0M-168.8 9.5h0M-125.5 -12.5h0M-155.2 -34.9h0M-149.6 13.3h0M-120.9 -7.9h0M-156.1 13.7h0M-172.9 -2.8h0M-178 -7.4h0M-174.7 -11.2h0M-142.6 12.9h0M-173.4 -14.1h0M-156.7 -36.1h0M-168.7 -25.8h0M-172.3 0.8h0M-173.4 -22h0M-155.5 -33.6h0M-173.8 -17.2h0M-144.8 20h0M-137.6 9.3h0M-133.2 -29.4h0M-137.7 -31.1h0M-171.4 -21.2h0M-168.6 5.2h0M-167.5 11.9h0M-131.3 11.4h0M-127.6 0.1h0M-170.3 5.8h0M-161.8 12.2h0M-127 -9.4h0M-180.2 -5.5h0M-130.4 3.5h0M-159.4 20.8h0M-138.1 14.3h0M-139.5 13.7h0M-125.1 -2.8h0M-131.7 -23.3h0M-147.8 13.5h0M-175.8 -9.1h0M-118.1 -8.7h0M-171.3 1.6h0M-153.9 -39.3h0M-132.4 -27h0M-176.1 -4.1h0M-128.6 -1.3h0M-151.1 -36h0M-156.7 15.4h0M-162.2 12.7h0M-166.1 -28.3h0M-148.8 -34.9h0M-159.7 13.7h0M-124.8 -14.9h0M-145.7 -33h0M-182.9 -2h0M-151 14.6h0M-173.8 -1.2h0M-160.3 -32.9h0M-147.5 14.2h0M-166.8 -28.7h0M-176.7 -8.2h0M-130.4 3.3h0M-129 0.6h0M-166.7 27.6h0M-159.3 12.9h0M-135.2 10.9h0M-153 14.7h0M-179.8 -11.2h0M-173.9 8.4h0M-170.8 0.6h0M-172 -23.8h0M-168.1 6h0M-124.9 -7.6h0M-149 -33.3h0M-127.5 -20.2h0M-175.8 -10.2h0M-155.1 -33.9h0M-150.3 14.5h0M-166.7 -27.1h0M-138.8 10.9h0M-131 3.5h0M-133.3 6.5h0M-174.5 -11.8h0M-156.4 13.2h0M-140.5 13.7h0M-167.7 -25.7h0M-135.2 9.2h0M-163.1 -31h0M-129.5 -0.1h0M-140.6 13.5h0M-157.2 17.3h0M-139.7 -30.5h0M-168.2 8.6h0M-157.4 -32.1h0M-130.6 2.5h0M-125.1 -2.8h0M-147.4 13.5h0M-161.5 12.9h0M-132.5 9.4h0M-150.1 14.1h0M-139.2 -35.3h0M-173.4 -8.1h0M-152.4 19.5h0M-161.8 -29.9h0"/>
<path fill="#66c2a5" d="M-127 -29.7L-126.3 -25.9L-128.4 -23.2L-130.8 -21.4L-133.4 -19.6L-136.4 -20L-138.8 -22.3L-141 -24.5L-141.6 -28L-141.8 -31.4L-140.8 -34.6L-139 -37.4L-136.3 -38.8L-133.4 -40L-130.8 -38L-128.3 -36.2L-126.7 -33.2Z"/>
<path fill="none" stroke="#66c2a5" stroke-width="2.2" stroke-linecap="round" d="M-129.8 -37.7h0M-143.7 -23.3h0M-139.8 -18.5h0M-137 -41.5h0M-123.2 -29.7h0M-138.5 -39.2h0M-139.6 -22.8h0M-138.1 -38.6h0M-137.8 -40.2h0M-124.2 -24.3h0M-128 -39.2h0M-128 -23.6h0M-124.2 -38.2h0M-124.4 -33.6h0M-125.3 -37.1h0M-133.1 -18.2h0M-134.7 -15.8h0M-124.7 -12.5h0M-126.7 -32.2h0M-128.8 -39.9h0M-139.1 -38h0M-134.1 -42.9h0M-136.7 -15.6h0M-129.2 -21.9h0M-139 -38.3h0M-144.7 -29.9h0M-130.4 -38.3h0M-133.6 -39.7h0M-143.7 -26.1h0M-143.8 -24.3h0M-128.2 -37.6h0M-139 -40.1h0M-141.1 -24.5h0M-145.9 -24.2h0M-125 -34.6h0M-127.2 -21.1h0M-127.1 -36h0M-125.4 -33.2h0M-134 -16.6h0M-136.9 -41.6h0M-127.6 -24.2h0M-133.5 -41.1h0M-133.1 -40.4h0M-142.6 -26.3h0M-138.3 -40.9h0M-123.3 -25.8h0M-137 -38.6h0M-143.9 -32.8h0M-142.5 -35.2h0M-140.8 -37.1h0M-133.7 -19.4h0M-143.2 -22.6h0M-144.8 -34.9h0M-144.2 -29.9h0M-131.5 -44.5h0M-135.8 -18.9h0M-132.6 -18.6h0M-138.8 -38.7h0M-120.2 -28.9h0M-140.7 -24.2h0M-128.9 -40.1h0M-137.6 -38.5h0M-128.9 -37.1h0M-129.7 -40.7h0M-129.2 -14.6h0M-124.6 -20.4h0M-121.8 -34.3h0M-132.1 -20.5h0M-125.8 -24.1h0"/>
<path fill="#8da0cb" d="M-149 53.7L-149.7 57.6L-150.3 61.3L-152 64.3L-153.4 67.4L-155.3 69.7L-157.2 72.4L-159.6 73.2L-162.1 74.8L-164.6 73.7L-167.1 73.2L-169.3 71.1L-171.9 69.9L-174 67.3L-175.5 63.8L-176.6 60L-175.2 55.5L-175.5 51.8L-174.1 48.6L-173.6 45.1L-172.5 41.9L-170.8 39.4L-168.9 37.4L-167 35L-164.6 34.1L-162 31.6L-159.3 31.9L-156.6 33.3L-154.7 36.3L-153.2 39.8L-152 43.1L-150.3 46.1L-149.7 49.9Z"/>
<path fill="none" stroke="#8da0cb" stroke-width="2.2" stroke-linecap="round" d="M-154.3 35.2h0M-151.3 83.9h0M-147.3 52.6h0M-159.2 32.7h0M-175.1 72.2h0M-154.3 32.8h0M-152.8 81.5h0M-147.6 55.5h0M-180.5 47.9h0M-168.4 30.5h0M-158.3 75.1h0M-156.3 32.2h0M-164.6 9.3h0M-166.4 31.9h0M-168.3 74.7h0M-174.7 40.8h0M-161.7 31.6h0M-165.1 30.3h0M-150.2 60.4h0M-163.6 32.4h0M-173.5 38.7h0M-171.3 69.6h0M-179 55.6h0M-171.8 37.7h0M-151.6 41.1h0M-159.4 92.4h0M-174.5 35.9h0M-151.4 67.4h0M-155.1 75.8h0M-178.6 52.4h0M-159.8 80.3h0M-177.8 53.1h0M-173 71.2h0M-161.3 28.7h0M-156.1 70.5h0M-155.8 36.6h0M-159.9 76.4h0M-173.1 71h0M-160.3 32.1h0M-158.7 30.9h0M-175.4 60.3h0M-175.7 60h0M-172.7 67.1h0M-154.8 72.1h0M-176.1 58.8h0M-153.2 69.2h0M-168.6 30.9h0M-154.9 32.7h0M-172.9 68.1h0M-178.9 50.2h0M-181.5 59.7h0M-161.3 78h0M-149.9 55.5h0M-174.5 38.6h0M-169.8 30.9h0M-155.5 29.2h0M-175.4 62.7h0M-166.2 74.6h0M-161.7 29.1h0M-169.1 73.6h0M-155.1 35.4h0M-178.6 55h0M-148.6 60.9h0M-176.9 55.2h0M-168.7 75.3h0M-149.4 81.7h0M-166.5 31.2h0M-168.7 73.5h0M-170.9 30h0M-175.6 53.3h0M-173.5 74h0M-149.5 53.5h0M-171.4 70.2h0M-149.8 52.6h0M-176.1 41.1h0M-152.8 35.6h0M-174.1 42.2h0M-145.3 44.2h0M-172.5 35.6h0M-152.2 42.2h0M-154 35.7h0M-176.2 45.1h0M-146.2 66.8h0M-149 50.8h0M-140.4 50.2h0M-175.9 58.5h0M-155.5 74.6h0M-172.2 73.9h0M-152.2 35.9h0M-165 33.8h0M-176.2 55.8h0M-174.4 71.2h0M-179.3 50.6h0M-159.8 32.7h0M-168.7 31.6h0M-148.9 60.2h0M-173.8 64.8h0M-150 47.1h0M-177.3 45.9h0M-170.8 71.3h0M-151.3 42.5h0M-146.1 50.1h0M-175.5 43.6h0M-151.4 63.9h0M-179 49.6h0M-149 67.4h0M-178.4 40.9h0M-158.8 80h0M-169.3 31.5h0M-171.5 34.9h0M-149.1 58.5h0M-174.2 39.4h0M-148.9 49.2h0M-149.7 54.3h0M-175.8 50.5h0M-160.4 25.6h0M-172.6 68.5h0M-154.8 37.3h0M-148.9 47.2h0M-159.7 34.4h0M-152.7 70h0M-178.1 55.6h0M-151.9 66h0M-149.7 42.6h0M-149.5 54.3h0M-157.3 32.3h0M-150.9 69.7h0M-149.2 67.9h0M-164.5 85.3h0M-162.4 73.8h0M-174.3 33.4h0M-175 70.3h0M-175.9 71.2h0M-180.3 67.8h0"/>
<path fill="#66c2a5" d="M-146.7 71.1L-148 74.7L-148 79.4L-149.5 83.4L-151.9 86L-154.8 85.8L-157.1 86.1L-159.3 87L-161.7 87.4L-163.6 85.4L-165.3 83.3L-166.9 80.9L-168.1 77.8L-168.4 73.9L-167.5 70L-167 66.4L-167.2 62L-165.7 58.4L-163.8 55.3L-161.5 53L-159.1 51.8L-156.7 51.3L-154.2 51.1L-151.5 50.6L-150.1 54L-149.2 57.6L-148 60.4L-147.2 63.7L-146.9 67.3ZM-133.4 33.6L-135.8 37.5L-138.7 40.6L-141.6 43.3L-144.3 44.4L-146.3 44.1L-148.3 43.7L-149.6 42L-149 38.4L-148.2 35L-148.6 32.2L-147.4 28.2L-145.1 24.2L-142.3 21.2L-139.5 18.5L-136.6 15.5L-134.4 15.9L-132.2 15.8L-131.2 17.7L-130.4 19.8L-130.7 22.9L-130.8 25.9L-131.7 29.6Z"/>
<path fill="none" stroke="#66c2a5" stroke-width="2.2" stroke-linecap="round" d="M-159.5 48.1h0M-145.5 74.6h0M-167.7 60h0M-144.2 61.4h0M-150.2 81.6h0M-169.7 62.3h0M-152.9 88.8h0M-145.6 73h0M-146.7 61.7h0M-147.1 57.7h0M-145 64.3h0M-151.8 83.5h0M-162.6 52.1h0M-138.7 67.9h0M-171.2 71.1h0M-149.5 85.4h0M-160.4 89.9h0M-149.2 79.6h0M-148.5 88.3h0M-145.9 70.7h0M-140.9 53.9h0M-145.7 57.8h0M-152.6 94.4h0M-172.3 75.9h0M-163.2 50h0M-172.1 64.3h0M-168.3 67.4h0M-155.2 88.1h0M-145.9 66.7h0M-169.3 73.5h0M-153 49.4h0M-154.6 86.1h0M-144 52.3h0M-167 58.3h0M-144.5 81.4h0M-165.5 87.6h0M-145.4 60.7h0M-154.1 88.1h0M-168.3 56h0M-169 69.8h0M-169.5 73.6h0M-147.8 82.5h0M-158.2 50.4h0M-164.3 86.8h0M-162.6 54.4h0M-157.1 48.9h0M-167.8 79.8h0M-162.3 53.2h0M-164.2 53.9h0M-161.7 88.8h0M-167.2 94.2h0M-178.3 74.9h0M-167.5 83.8h0M-168.7 75.3h0M-170.5 86.3h0M-148.7 79.5h0M-159.7 89.4h0M-169.4 46.6h0M-160.6 48.1h0M-147.4 77h0M-164.4 50.1h0M-158.4 88.5h0M-169.7 66.7h0M-151.4 84.7h0M-156.8 46.6h0M-145.4 82.7h0M-163 90.1h0M-148.8 52.4h0M-165.5 86.1h0M-161.7 54.1h0M-145.7 80.2h0M-167.8 56.6h0M-152 45.8h0M-170 59.9h0M-166.6 81.5h0M-175.2 53.6h0M-163 54.6h0M-152.5 49.3h0M-154.2 86.4h0M-144.7 64.7h0M-167.2 83.1h0M-148.7 90.6h0M-158.1 92.8h0M-169.5 72.3h0M-169.9 78.9h0M-150 48.2h0M-154.4 89h0M-146.3 53h0M-171.3 69.9h0M-154.5 44.8h0M-152 39.3h0M-147 60.3h0M-145.5 68.8h0M-146.4 60.2h0M-159.7 51.5h0M-170 78.9h0M-170.4 59.9h0M-170.8 82.5h0M-163.2 96.1h0M-145.2 68.5h0M-150.3 51.3h0M-163.7 88.6h0M-158.3 91.7h0M-154 90h0M-160 47.8h0M-158.6 27.1h0M-165.7 53.1h0M-148.4 80.9h0M-156 90.7h0M-146.1 55.9h0M-170 72.9h0M-145.5 72.1h0M-170.9 54.5h0M-160 46.3h0M-155.8 47.7h0M-165.2 51.9h0M-145.6 88.3h0M-147.2 81.7h0M-145.2 25.1h0M-141.4 19.2h0M-130.5 11.5h0M-130.9 32.8h0M-128.8 18.8h0M-148.6 31.5h0M-138.6 47.6h0M-157.3 55.2h0M-137.1 41.5h0M-150.1 39h0M-142.7 20.8h0M-151.8 51.2h0M-151.9 55.5h0M-132.1 5.3h0M-158.9 40.2h0M-126.9 15.4h0M-147.7 48h0M-133.8 35.8h0M-127.6 21.3h0M-143.3 51.3h0M-152.5 31.7h0M-144.8 10.4h0M-144.3 20.1h0M-154.5 48.4h0M-138.9 43.7h0M-134.8 15.4h0M-145.6 20.7h0M-136.9 38.3h0M-139.8 44.2h0M-130.6 11.9h0M-130.6 28.7h0M-145.1 19.8h0M-149.2 40.9h0M-126.4 14.6h0M-140.7 15.6h0M-129.7 15h0M-145.4 22.2h0M-132.7 44.8h0M-151.1 40.6h0M-140.2 8.7h0M-125.3 7.9h0M-131.3 14.3h0M-127.1 9.8h0M-147.4 27.2h0M-128.6 20.7h0M-145.1 63.9h0M-133.9 36.5h0M-149.9 37.4h0M-135.1 12h0M-133.2 6.2h0M-115.2 15.1h0M-128.8 10h0M-143.8 22.2h0M-128.1 23.5h0M-139 17.9h0M-137.8 15.6h0M-143 44.2h0M-132.4 14.4h0M-144.8 46.7h0M-151.5 35.4h0M-128.9 19.6h0M-151.7 20.7h0M-129.2 28.3h0M-129.8 19.8h0M-135 36.4h0M-131.2 29.2h0M-149.4 23.4h0M-128 19.1h0M-136.4 41.3h0M-152.5 43.5h0M-149.8 36.6h0M-159.1 55h0M-128.2 14.3h0M-141.6 15h0M-125.9 18.6h0M-147.1 28.5h0M-132.4 13.2h0M-146 47h0M-135.5 40.4h0M-140.8 17.2h0M-153.3 37.2h0M-145.6 21h0M-157.8 50.9h0M-144.2 15.1h0M-127 11.3h0M-140.6 16.5h0M-118.4 3.9h0M-131.7 30.7h0M-128.7 26.5h0M-149.1 46.7h0M-129.1 28.2h0M-150.8 43.1h0M-129.1 15.3h0M-129.5 2.8h0"/>
<path fill="#fc8d62" d="M-108.1 61.2L-108.7 65.2L-109 69.5L-110 73.7L-111.6 77.2L-113.6 80.3L-116 82.2L-118 84.6L-120 87.2L-122.2 88.4L-124.4 90.2L-126.6 88L-128.7 89.5L-130.7 89.4L-132.6 88.7L-134.7 88.4L-137.5 89.8L-139.3 88L-140.7 85.4L-143.3 84.5L-143.2 79.7L-145 77.3L-144.6 72.7L-146.5 69.8L-146.2 65.4L-145.7 61.1L-146.1 56.8L-143.5 52.9L-142.2 49.2L-141.4 45.2L-139.4 42.2L-138.4 38L-136.8 34.5L-135 31.3L-132.7 29.3L-130 30.4L-127.9 29.1L-125.9 27.2L-123.8 27.1L-121.6 25.4L-119.5 26L-117.3 25.9L-115.7 28L-113.8 29.1L-111.5 29.7L-109.1 30.6L-107.7 33.6L-105.9 36.1L-104.9 39.8L-104.6 44.1L-106 49.1L-106.4 53.2L-106.2 57.3ZM-104 38.7L-104.1 42.2L-104.7 45.8L-106.4 48.9L-108.7 51.1L-111.6 52L-114.5 51.5L-117.2 51.7L-120.4 52.4L-122.7 50L-123.9 46.6L-125.2 43.6L-126.8 40.5L-126.5 37L-125.3 33.8L-124.5 30.4L-122.4 27.9L-119.9 26.3L-117.4 24.1L-114.3 23L-111.5 25L-109.6 28L-106.7 29L-104.9 31.8L-104.2 35.3Z"/>
<path fill="none" stroke="#fc8d62" stroke-width="2.2" stroke-linecap="round" d="M-107.6 37.1h0M-106.1 37.8h0M-143.4 75.6h0M-133.2 28.5h0M-130.1 107.3h0M-112.5 28.1h0M-106.3 33h0M-129.8 95h0M-122.5 18.1h0M-111.3 24.9h0M-119.7 21h0M-107.6 61.7h0M-116.5 82.8h0M-145.4 66.9h0M-147.6 54.6h0M-148.4 76.3h0M-138.3 34.9h0M-146.6 71.1h0M-104.7 54.1h0M-131.8 91h0M-107.4 38.9h0M-148.5 73.8h0M-131.4 96.2h0M-110.1 70.6h0M-105.5 35.8h0M-133 29.7h0M-106.6 47.2h0M-121.4 92.4h0M-124.4 21h0M-143.2 53.1h0M-144.8 77.8h0M-146.8 63.8h0M-106.5 43.2h0M-138.5 34.7h0M-133.1 91.6h0M-142.4 86.2h0M-117.4 90.5h0M-107.2 48.1h0M-137.7 35.5h0M-131 27.7h0M-113.5 81.3h0M-121.7 95.5h0M-145.1 66.4h0M-108.3 34.5h0M-137.1 92.9h0M-145.5 52.1h0M-130 25.9h0M-134.5 30.1h0M-106.1 47.1h0M-138.6 90h0M-143.5 88.6h0M-133.5 24h0M-130 12h0M-104.7 50.2h0M-116.3 84.3h0M-125.6 92.2h0M-101.3 39.1h0M-142.1 83h0M-110.6 76.2h0M-123 89.7h0M-143.3 87.1h0M-106.5 53.9h0M-127.6 21.1h0M-133.5 28.5h0M-93.3 58.4h0M-136.8 30.2h0M-105 51.6h0M-105.8 18.6h0M-144.5 55.2h0M-144 83.7h0M-146.6 60.4h0M-112 27.9h0M-130.9 3.2h0M-106.7 34.4h0M-148.1 74.6h0M-108.4 32.8h0M-147.3 59.4h0M-144.3 72.1h0M-134.8 23.8h0M-144.9 83.6h0M-149.3 69h0M-137.5 89.1h0M-111.9 77.7h0M-117.6 25.8h0M-137.2 34.1h0M-140.9 43.3h0M-129.9 20.8h0M-145 76.8h0M-108.5 64h0M-117.8 87.7h0M-125.2 21.9h0M-146.9 89.7h0M-139.5 89.1h0M-147.5 65h0M-122.9 23.4h0M-106.3 28.8h0M-145.1 82.2h0M-138.6 89.8h0M-110 32.2h0M-127.5 97.8h0M-144.1 76h0M-124.2 23.1h0M-131.1 26.9h0M-142.5 39h0M-109.1 33.1h0M-124.1 25.4h0M-108.7 38h0M-143 20.9h0M-122.1 21.2h0M-144.8 65h0M-104.4 43h0M-131.6 23.1h0M-109.6 34.1h0M-108.5 64.7h0M-134.7 93.2h0M-113 83.4h0M-132 28.8h0M-92.8 58.7h0M-106.6 43.1h0M-141.1 45h0M-119.6 86.2h0M-121.7 93.3h0M-107.9 65.6h0M-106.4 38h0M-145.9 54.3h0M-108.2 29.1h0M-107.6 41h0M-112 77.9h0M-106.3 65.1h0M-107.7 68.6h0M-135.5 94.2h0M-141.6 81.9h0M-115.4 20h0M-134.8 29.9h0M-107.5 42.5h0M-127.5 105.5h0M-110.4 75.1h0M-130.2 24.4h0M-114.3 20.8h0M-111.9 83.3h0M-148.1 82.7h0M-118 19.3h0M-138.5 91h0M-127.5 92.8h0M-143.2 48.1h0M-106 41.9h0M-119.7 86.7h0M-136.4 97.2h0M-102.5 38.8h0M-148.6 77.5h0M-110.7 22.8h0M-146.7 77.5h0M-115.2 19h0M-123.2 92.7h0M-105.8 43.2h0M-143.1 50h0M-110.7 25h0M-118.3 98.3h0M-120 100.5h0M-146.3 64.1h0M-133.5 31.8h0M-137.3 34.6h0M-133.6 92.4h0M-123 91.8h0M-144.5 57.8h0M-133.8 27.6h0M-117 85.4h0M-140.1 91.1h0M-135.9 90.2h0M-128.1 95.6h0M-120 92.1h0M-115.7 23.9h0M-151.2 87.7h0M-122.7 17h0M-138 27.1h0M-105.4 36.4h0M-100.8 77.4h0M-129.7 24.1h0M-143.9 34.8h0M-143.2 78.9h0M-120.6 88.8h0M-120.9 88h0M-113.7 78.9h0M-138.6 31.5h0M-114.6 23.1h0M-115.8 20.6h0M-146.4 93.4h0M-131.4 26h0M-112.9 77.4h0M-135.8 105h0M-105.1 47.8h0M-145.3 86.4h0M-118 87.4h0M-100.1 96.6h0M-113.5 78.4h0M-105.6 42.7h0M-107.7 71.4h0M-106 37h0M-129.6 23.4h0M-108.3 27.7h0M-142.9 79.9h0M-108.7 30.7h0M-143.1 52.5h0M-137.4 90.8h0M-133.8 92.9h0M-104.7 66.1h0M-143.7 47.2h0M-143.5 91.8h0M-116.1 87.6h0M-109.5 34.5h0M-107.1 31.6h0M-122 20.4h0M-150.1 92.2h0M-130.6 27.8h0M-115.5 53.6h0M-123 24.9h0M-128.6 39.5h0M-126.5 44.6h0M-112 63.9h0M-127.2 42.4h0M-117.8 23.4h0M-122.4 25h0M-114.5 19.8h0M-103.1 34.8h0M-103.9 33.7h0M-118.7 54.1h0M-125.3 26.9h0M-126.8 40.4h0M-118.7 52h0M-129.5 34.9h0M-116.9 53.7h0M-116.7 58h0M-117.4 54.2h0M-126.8 40.3h0M-109.4 24.2h0M-100.3 42h0M-114.8 24.5h0M-103.1 41.4h0M-125.7 20.4h0M-126.1 43.3h0M-105.2 46.9h0M-101.1 40.7h0M-103.3 39h0M-102.3 33.2h0M-128 34.9h0M-121.6 20.9h0M-88.2 28.5h0M-107.1 49.3h0M-101.9 41.6h0M-103.9 48.2h0M-110.2 53.3h0M-121.5 57h0M-119.1 23.2h0M-119.9 22.1h0M-129.2 39h0M-118.5 25.5h0M-123.3 28.4h0M-127.9 37.3h0M-110.6 23.6h0M-105.3 52.3h0M-127.5 45.5h0M-97.6 45.3h0M-119 51.7h0M-116.3 52.7h0M-120.6 22.1h0M-125.2 30.6h0M-114.3 56.6h0M-107 28h0M-112.7 52.4h0M-104.1 42.1h0M-125.7 21.2h0M-120.6 25.8h0M-114.5 22.9h0M-125.8 34.4h0M-104.6 45.7h0M-121 53h0M-113.8 52.8h0M-116.3 22.1h0M-103.9 39.3h0M-105.2 47.4h0M-102 32.5h0M-103.5 37.1h0M-116.8 23.9h0M-124.4 49.6h0M-117.9 63.8h0M-128.1 42.7h0M-107.7 28.6h0M-111.8 22.7h0M-120.8 52h0M-106.8 51.3h0M-101 41.4h0M-127.3 41.2h0M-116.9 23.6h0M-103.6 28.1h0M-121.2 55.8h0M-123.5 27.2h0M-122.3 27.2h0M-113.2 56.2h0M-105.9 28.2h0M-115.6 19.9h0M-100.2 35.5h0M-114.1 23.8h0M-102.8 33.9h0M-127.8 46.1h0M-118.5 21.8h0M-126.1 49.2h0M-120.8 25.8h0M-113.4 56.1h0M-105.7 47.6h0M-119.8 22h0M-119.4 52.8h0M-110.5 54.4h0M-125.9 30.8h0M-118 23.7h0M-125.5 45.8h0"/>
<path fill="#8da0cb" d="M-78.9 -8L-80.8 -4.8L-83.1 -2.3L-84.9 0L-86.3 2.6L-88.2 5.3L-91 6.8L-94.1 8L-97.5 9.2L-101 8.7L-103.8 6.3L-106.3 4.3L-108.8 2.2L-109.7 -0.9L-111.8 -3.3L-112.4 -6.4L-113.5 -9.7L-113 -13L-110.4 -15.5L-109.1 -18.5L-106.2 -20.1L-103.8 -22.2L-100.7 -23.4L-97.4 -23.6L-94.2 -23.5L-91 -22.9L-88 -21.6L-85.4 -19.5L-82.8 -17.4L-81.3 -14.4L-79.8 -11.4Z"/>
<path fill="none" stroke="#8da0cb" stroke-width="2.2" stroke-linecap="round" d="M-80.3 5h0M-110.9 -21.6h0M-96 -25.6h0M-105.8 -21.9h0M-80.2 -21h0M-80.6 -16.2h0M-114.9 -17.5h0M-79.8 -9.7h0M-113.9 -1.6h0M-111.4 -17.4h0M-100 -26.2h0M-111.7 -26.9h0M-99.6 -23.8h0M-79.3 -14.7h0M-96.4 9.7h0M-95.6 -23.4h0M-80 -15.7h0M-102.8 7h0M-77 -29.3h0M-83.4 -17.8h0M-81.7 -1.8h0M-80.8 -11.5h0M-95.1 -28.5h0M-84.2 -21.1h0M-103.1 -28.9h0M-91.8 -23.8h0M-87.6 7.1h0M-81.5 7.5h0M-95.9 -28.5h0M-84.9 -21h0M-113.2 -0.5h0M-89.6 -24.4h0M-92.4 -24h0M-108.5 5.2h0M-86.9 -20.2h0M-112.5 -14.4h0M-102.6 -22.4h0M-94.1 -26.7h0M-79.6 -1h0M-82.6 0.1h0M-75.4 -12.2h0M-82.6 0.5h0M-112.9 -19.4h0M-115.1 -4.3h0M-101.1 11.1h0M-110.2 -20h0M-80.9 -7.3h0M-78 0.9h0M-109.9 -22.3h0M-81.7 6.3h0M-100.3 -25.1h0M-94.5 7.3h0M-90.4 6.5h0M-87.5 -22h0M-80.2 -9.7h0M-80.9 -14.8h0M-82.1 -18.8h0M-78.6 -4.7h0M-90.4 -27.8h0M-83.8 -21.6h0M-86.5 -20.9h0M-77.8 -7h0M-113.8 -10.7h0M-102.1 8.1h0M-102 -23.3h0M-110 5.9h0M-90.4 -23h0M-108.1 4.7h0M-79.9 -3.7h0M-94.1 -25.8h0M-80.8 -2.5h0M-95 8.9h0M-114 -3.7h0M-109.8 -19.2h0M-113.7 -2.7h0M-90.6 -22.9h0M-111.7 -15h0M-82.4 -0.1h0M-117.1 -18.9h0M-99.8 8.6h0M-116.8 -13.2h0M-109.8 17.9h0M-113.6 -8h0M-85.2 5.8h0M-104.1 -25.4h0M-87.9 -26.5h0M-84 1.5h0M-99.2 -26h0M-90.4 6.8h0M-111.7 -15.2h0M-108.2 -24.3h0M-86.3 -21h0M-101 -23h0M-99.8 -24.3h0M-110.7 0.3h0M-94.1 15.6h0M-104.5 7.5h0M-117.5 -17.8h0M-75.9 -7h0M-114.8 -9.3h0M-81.2 -1.3h0M-99.2 -23.9h0M-85.1 -20.3h0M-117.1 -12.9h0M-80.7 -8.9h0M-82 -15.6h0M-109.3 3.8h0M-104.5 -22h0M-103 10.3h0M-98.6 10h0M-93.6 8.6h0M-85 -20.1h0M-99.5 -24.2h0M-86.6 -24.5h0M-119.1 -4.4h0M-83.1 0.2h0M-113.3 -18.3h0M-83.9 -19h0M-80.8 4.9h0M-81.4 -15.8h0M-112.5 -5h0M-82 -17.8h0M-106.1 -25.7h0M-76.4 -4.6h0M-100.6 11.9h0M-87.9 5.4h0"/>
<path fill="#fc8d62" d="M-62.3 1.7L-62.9 4.8L-63.4 8.4L-66.1 10.2L-68.9 11.5L-71.8 11.4L-74.5 10.4L-77.5 9.5L-79 6.5L-80.8 3.5L-79.7 0.1L-78.9 -3L-77.6 -6.2L-75 -8.3L-71.8 -8.5L-68.8 -8.3L-66.4 -6.3L-64 -4.5L-62 -1.8Z"/>
<path fill="none" stroke="#fc8d62" stroke-width="2.2" stroke-linecap="round" d="M-74.1 -11.9h0M-59.8 -1.1h0M-52.1 -1.4h0M-72.4 -9.6h0M-64.8 9.7h0M-59.7 1.5h0M-73.1 -8.8h0M-52.6 -14.5h0M-85.2 -4.1h0M-81.5 0.4h0M-65.2 -7.3h0M-70.5 11.8h0M-72.7 -20.1h0M-79.4 -5.7h0M-80.9 5.8h0M-58 -3.6h0M-82.4 1.7h0M-70.7 -10h0M-67.9 -8.7h0M-63.7 -5.2h0M-58.4 6.6h0M-66.4 11.4h0M-65.8 13.4h0M-67.5 12.2h0M-81.7 13.6h0M-72.3 13.2h0M-73.4 12.6h0M-81.6 6.8h0M-61.8 0.3h0M-70 -11.4h0M-68.5 11.5h0M-82.7 8.2h0M-51.3 16.5h0M-79.5 5.3h0M-81 -1.3h0M-68.3 -7.7h0M-84.8 -5.7h0M-74.6 15.7h0M-61.2 -0.2h0M-61.2 -2.5h0M-63.8 -4.9h0M-81.4 5.7h0M-69.4 -8.8h0M-78 -7.1h0M-77.3 -6.2h0M-62.8 -8.3h0M-58.2 -3.6h0M-57.1 12.3h0M-79.9 -6.1h0M-71.8 15.3h0M-59.1 0.4h0M-63.2 17.9h0M-82.3 24.1h0M-90.6 1.5h0M-63.8 -13.6h0M-79.8 -7.4h0M-75 -7.5h0M-82.6 1.7h0M-61.9 5h0M-86.1 -0.8h0M-62.4 9.4h0M-61.4 4.4h0M-76.1 -9.7h0M-81.7 -5.6h0M-69.9 12h0M-75.4 13.1h0M-73.8 12.3h0M-61.3 6.7h0M-63.4 10.9h0M-80.4 2.2h0M-69 12.7h0M-56.4 7.1h0M-63.2 -5.2h0M-64.2 9h0M-62.4 4.4h0M-66.1 10.7h0"/>
<path fill="#66c2a5" d="M-79 19.7L-79.5 22.9L-79.2 26.3L-81.7 28.9L-84.3 31L-86.6 33.3L-89.2 35.2L-92.4 36.3L-95.9 35.8L-98.9 34.6L-102 36L-105.8 37.2L-109.4 36.4L-111.3 33.3L-112.8 30.4L-114.3 27.9L-117.2 25.9L-118.8 22.9L-119.3 19.7L-117.8 16.6L-115.8 14L-114.9 11.2L-114.1 7.9L-111.7 5.6L-108.3 4.6L-105 4.3L-102.2 2.5L-98.9 2L-95.5 1.7L-92.1 2.3L-89.2 4.2L-87.2 6.7L-85 8.8L-83.7 11.6L-82.9 14.3L-80.8 16.7ZM-112 4.9L-110.3 8.2L-109.2 11.9L-110.2 14.8L-111.4 17.4L-113.2 19.7L-116.1 19.9L-119.1 18.2L-121.8 16.6L-124.8 14.6L-126.6 11.1L-128 7.4L-127.8 4L-126.1 1.8L-124.6 -0.2L-122.7 -2.3L-119.7 -1.6L-116.7 -0.5L-114 1.8Z"/>
<path fill="none" stroke="#66c2a5" stroke-width="2.2" stroke-linecap="round" d="M-83.9 30.8h0M-105.4 41h0M-99.5 43.2h0M-78.9 24.9h0M-98.2 1.4h0M-82.9 29.3h0M-85 7.7h0M-99.3 39.2h0M-101.5 2.2h0M-115.8 29.5h0M-82.4 32.4h0M-87.6 37.1h0M-84.6 32.9h0M-82.6 7.9h0M-82.6 35.4h0M-94 36.9h0M-79.7 12.2h0M-94 40.4h0M-100.8 1.8h0M-104.5 -0.3h0M-81.2 28.3h0M-84.5 34.4h0M-95.4 2.1h0M-117.7 52.7h0M-81.3 29h0M-77 17.8h0M-108.9 3.4h0M-107.6 4.4h0M-122.5 17.4h0M-117.8 19.2h0M-89.3 3.2h0M-90.8 36.9h0M-92.3 0.5h0M-96.1 -4.5h0M-122.1 25.8h0M-114.8 39.2h0M-113.5 34h0M-115 11.1h0M-111.4 33h0M-78 27.4h0M-110.4 4h0M-116.3 9.4h0M-94.7 2.1h0M-122 19.3h0M-109.7 1.5h0M-70.1 38.2h0M-92.4 36.2h0M-115 31.4h0M-115.2 9h0M-118.9 20.6h0M-109.6 35.9h0M-85.4 36.7h0M-110.1 5.1h0M-77 14h0M-88.5 36.9h0M-85.2 7.8h0M-102.5 1.6h0M-81.6 13.8h0M-88.2 35.3h0M-96.7 38h0M-79.4 15.4h0M-83.8 5.5h0M-114 33.7h0M-92.2 1.2h0M-108.3 35.4h0M-117.9 24h0M-80.1 12.1h0M-113 33.3h0M-106 3.5h0M-116.5 12.6h0M-109.4 5.1h0M-81.2 10.5h0M-123.3 19.8h0M-80 32.7h0M-91.9 37.3h0M-114.6 8.9h0M-85.2 32.9h0M-94.7 -0.6h0M-112.5 7.1h0M-78 18h0M-93.2 0h0M-77.5 16.5h0M-118.5 22.3h0M-81.3 13.9h0M-80.2 11h0M-118.7 24.6h0M-109.7 38.8h0M-115.7 29.8h0M-120.6 26.9h0M-82.8 29.2h0M-107 36.2h0M-93.3 1.4h0M-110 2h0M-77.2 5.5h0M-90.4 2.7h0M-113.8 30.2h0M-81.7 27h0M-118.9 42.9h0M-63.1 33.4h0M-90.9 36.5h0M-108.6 0.8h0M-95.8 37.4h0M-116.7 11.6h0M-81.5 29.7h0M-113 7.9h0M-88.3 4.1h0M-88.4 4.7h0M-78 12.7h0M-105.5 -2.9h0M-95.4 1.7h0M-97 39h0M-77.8 29.3h0M-104.3 39.1h0M-96.5 37.8h0M-83.7 10h0M-81.1 28.8h0M-77 28.5h0M-79.1 19.8h0M-118.3 19.2h0M-91.7 2.4h0M-82.3 11.4h0M-79.8 18.3h0M-104.4 3.1h0M-105.3 3.4h0M-123.5 4.3h0M-97.7 41.4h0M-89.9 39.5h0M-79.1 23.4h0M-108.9 4.2h0M-120.1 19.1h0M-111.7 32.5h0M-119.8 15.6h0M-86.8 6.7h0M-80.3 24.6h0M-112.8 31.3h0M-109.1 34.9h0M-116.2 8.9h0M-72 8.2h0M-77.6 18.8h0M-95.6 0.8h0M-81.1 24.3h0M-117.5 1.5h0M-86.9 42.6h0M-84.1 48.6h0M-79.1 21.8h0M-116.4 -2.7h0M-120.1 21h0M-126.9 -2.2h0M-124.7 -4.3h0M-114.3 22.2h0M-116.1 -5.7h0M-121.8 -9.3h0M-117.4 23.6h0M-104.8 14.9h0M-113.9 -1h0M-125.3 19.6h0M-113.7 22.1h0M-129.1 14h0M-108.6 3.6h0M-117.8 -2.1h0M-109 21.6h0M-124.1 19.1h0M-115.3 21.4h0M-112.5 20.6h0M-108.3 17h0M-116.2 22.3h0M-109.6 15.9h0M-120.9 -2.1h0M-126.9 12.8h0M-111.9 23.9h0M-123.6 21.7h0M-122.3 20.3h0M-125.1 15.4h0M-133.5 4.3h0M-136.3 16.3h0M-113.4 2.1h0M-109.7 9.3h0M-114.8 22.8h0M-128.9 14.8h0M-128.2 0.1h0M-122.4 17.5h0M-120.3 19.9h0M-120.3 20.7h0M-127.6 6.5h0M-129.8 1.7h0M-111.1 16.6h0M-129.8 8.7h0M-127.8 0.4h0M-130.2 1.4h0M-110.9 6.6h0M-107.9 20.4h0M-126.1 12.2h0M-126.7 21.9h0M-126.7 15.7h0M-127.1 12.2h0M-121.2 -9.9h0M-109.8 7.1h0M-105.4 11.8h0M-127.6 0.4h0M-116.7 22.1h0M-124.1 17.7h0M-124.8 16.4h0M-109.2 16.8h0M-106.4 16.1h0M-114.3 22.8h0M-113.5 19h0M-120.4 -4.2h0M-107.9 8.4h0M-110.5 19.5h0M-129.2 0.4h0M-124.2 18.6h0M-110.2 20.9h0M-108.6 13.9h0M-107.6 9.9h0M-106.7 15.2h0M-122.6 -5h0M-110.1 19.1h0M-116.4 21.3h0M-120.6 -3h0M-129.8 3.8h0M-109.9 15.9h0M-138 4.6h0"/>
<path fill="#fc8d62" d="M-65.4 156.8L-65.5 159.9L-65.3 163.4L-65.9 167L-68.2 169.7L-70.7 172.3L-74.1 173.1L-77.4 173.8L-80.6 172.5L-83.5 171.5L-86.3 170.5L-89.2 169.4L-91.2 167L-93.5 164.7L-94.9 161.7L-94.6 158.4L-94.8 155.2L-94.2 152.1L-93.7 148.8L-91.5 146.4L-89.2 144.3L-86.5 142.7L-83.7 141.5L-80.7 139.5L-77.3 139.4L-74.4 141.5L-71.6 143L-69.4 145.3L-68.1 148.3L-67.1 151.1L-65.4 153.7Z"/>
<path fill="none" stroke="#fc8d62" stroke-width="2.2" stroke-linecap="round" d="M-83.5 140.9h0M-95.4 154.4h0M-94.9 142.5h0M-82.8 174.7h0M-76.8 137.9h0M-75.7 140.7h0M-75.9 176.4h0M-83 172.6h0M-91.4 143.5h0M-89.9 170.1h0M-87.3 142.2h0M-82.1 173.9h0M-93.4 149.6h0M-91.2 172.4h0M-78.9 178.3h0M-63.3 162.2h0M-72.9 141.2h0M-77.4 139.8h0M-77.9 178.7h0M-63.4 165.8h0M-64 151.8h0M-103.3 162.1h0M-90.9 168.7h0M-80.4 137.7h0M-95.2 159.1h0M-71 176.6h0M-69.8 172.5h0M-62.5 157.5h0M-76.3 173.7h0M-91 145.8h0M-87.9 141.2h0M-96.9 148.7h0M-79.7 174.3h0M-89.5 170.4h0M-93.3 144.2h0M-102.6 153.6h0M-67.2 146.1h0M-78.2 175.3h0M-77.7 137h0M-84.6 140.2h0M-65.9 150.2h0M-87.5 171.6h0M-75.3 173.9h0M-74.4 185.6h0M-72.5 138.8h0M-64.7 148.3h0M-87.2 178.2h0M-75 173.1h0M-61.5 150.5h0M-69.6 139.3h0M-93.9 165.4h0M-82 138.7h0M-89.2 170h0M-85.8 141.9h0M-79.8 177.3h0M-66.6 145.9h0M-61 147.8h0M-64.1 160.8h0M-74.6 173.9h0M-99.5 156.5h0M-65 149.9h0M-88.9 143.2h0M-94 146.7h0M-73.6 141.8h0M-64.1 149.3h0M-72.6 141.6h0M-73.1 172.7h0M-89.2 173.1h0M-96.9 147.6h0M-76.7 173.3h0M-63.2 161.6h0M-66.8 146.3h0M-66.3 167.2h0M-96.9 147.1h0M-64.5 154.5h0M-66.1 140.1h0M-88.2 143.2h0M-64.4 142.2h0M-64 159h0M-82.9 172.9h0M-77.7 138h0M-91.6 169.7h0M-92.4 146.1h0M-84.7 140.8h0M-95.8 169.9h0M-93.3 169.2h0M-95.1 154.4h0M-84.5 141.2h0M-92.4 169.1h0M-89.7 144.5h0M-92.2 168.2h0M-64.9 171.5h0M-98.8 149.2h0M-64.5 156.4h0M-99 158h0M-65.4 162.1h0M-65.8 165.4h0M-81.2 140.4h0M-97 166h0M-93.2 165.2h0M-92.8 176.9h0M-78.6 186.6h0M-93 147.8h0M-95 157.2h0M-67.4 144.7h0M-96.3 165.3h0M-95 144.8h0M-76 179.3h0M-64.6 158.2h0M-102.7 164.3h0M-89.9 173.7h0M-98.9 148h0M-95 159.2h0M-84.6 171.8h0M-75.3 138.1h0M-88.7 174h0M-95 169.7h0M-75.1 172.4h0M-73.4 172.9h0M-66.6 146.1h0M-63.2 147.9h0M-92.8 167h0M-93.4 165.7h0M-96.5 159.4h0M-78.3 139h0"/>
<path fill="#8da0cb" d="M-72.4 171.8L-73.3 173.6L-74.9 175.3L-78 176.7L-82.7 176.8L-87 177L-91.5 176.6L-94.5 175.2L-96.4 173.6L-98.5 171.8L-96.1 170.1L-94.4 168.5L-90.9 167.4L-87 166.8L-82.7 166.7L-78.6 167.3L-74.2 168.1L-72.9 170Z"/>
<path fill="none" stroke="#8da0cb" stroke-width="2.2" stroke-linecap="round" d="M-95.9 177.5h0M-65.4 170.5h0M-81.3 179.7h0M-97.6 172.2h0M-64 178.3h0M-78.4 165.1h0M-102.8 171.9h0M-68.5 171.2h0M-93.2 168h0M-72.1 172h0M-75.8 177.4h0M-77.6 176.9h0M-82.5 163.7h0M-87.6 165.2h0M-82.3 179.7h0M-74 174.6h0M-100.3 174.7h0M-106.1 181.8h0M-72.5 175.4h0M-93.1 164h0M-77.3 165.5h0M-58.5 174.6h0M-91.8 179h0M-90.6 180h0M-72.3 173h0M-68.1 176.2h0M-104.8 189.9h0M-99.8 179.2h0M-98.3 166h0M-94.8 178.6h0M-93.3 175.8h0M-71.3 166.7h0M-93.9 167.8h0M-76.8 165.4h0M-88.7 179.3h0M-77.8 166.8h0M-77.3 176h0M-96 179.8h0M-101.3 169.3h0M-103.1 167.7h0M-97.1 174.9h0M-96.5 174h0M-86.6 177.8h0M-88.1 179.1h0M-106.7 179.6h0M-96.1 174.6h0M-102.9 171.4h0M-85.4 178.4h0M-100.6 170.6h0M-87.4 166.2h0M-70.5 170.9h0M-75.3 178.5h0M-90.7 165h0M-65.1 186.7h0M-86 166.5h0M-93.1 166.8h0M-103.4 164.7h0M-86.1 165.1h0M-70.4 174.8h0M-70.3 170h0M-99.5 171.4h0M-73.4 167h0M-95.9 181h0M-68 167.4h0M-83.3 177.7h0M-100.8 174.2h0M-96.6 177h0M-87 165h0M-96.8 167.8h0M-67.5 177.5h0M-93.8 167.3h0M-98.8 172.7h0M-100.6 172.4h0M-94.9 164.2h0"/>
<path fill="#66c2a5" d="M-61.7 184.2L-61.4 187.6L-63.7 190.4L-65.7 192.9L-67.6 195.4L-70.4 196.9L-73 198.9L-76.2 199.4L-79.3 199L-82.4 198.4L-85.9 198.2L-88.8 196.4L-91.1 193.8L-93.1 191L-93 187.4L-92.2 184.2L-92.2 181.1L-91.9 177.9L-91 174.5L-88.4 172.3L-85.5 170.7L-82.6 169.2L-79.3 169.4L-76.2 168.8L-72.8 168.9L-70.1 170.9L-67.8 173.1L-66.1 175.7L-64.2 178.1L-62.7 181ZM-97.4 169.9L-95.9 172.8L-95.5 175.6L-96.7 177.1L-98.1 177.9L-100 177.8L-102.2 176.3L-103.9 173.7L-105.6 170.8L-105.5 168.3L-105.2 165.9L-103.3 165.5L-101.3 166.2L-99.2 167.5Z"/>
<path fill="none" stroke="#66c2a5" stroke-width="2.2" stroke-linecap="round" d="M-83.2 169.7h0M-95.7 193.2h0M-92.7 190.6h0M-61.3 185.1h0M-64.5 175.5h0M-89.6 173.6h0M-67.3 169.8h0M-83.4 168.9h0M-61.4 177.5h0M-62.6 177.2h0M-91.3 176.9h0M-68.7 197.9h0M-63.9 177.2h0M-62.2 175.4h0M-62.5 174.9h0M-94.2 184.3h0M-87.6 167.6h0M-63 192.3h0M-72.2 168.9h0M-74.6 169h0M-77.2 202.6h0M-92.9 175h0M-90.8 175.7h0M-71.5 198.6h0M-64.4 175h0M-70.8 170.4h0M-62.5 175.3h0M-83.9 169.6h0M-93 188h0M-80.5 200.6h0M-89.1 194.3h0M-91.8 177.4h0M-96.6 192.9h0M-92.6 176.6h0M-86.4 200.2h0M-83.9 198.4h0M-61.6 181.6h0M-65.9 194.2h0M-60.9 181.7h0M-62.3 192.7h0M-91.4 200.9h0M-90.4 171.6h0M-86.4 201.4h0M-75.5 200.4h0M-63.8 191.6h0M-92.1 195.9h0M-94.7 184.8h0M-90 174.6h0M-79 200.8h0M-92.4 176.1h0M-93.3 178.4h0M-83.1 167.6h0M-88 167.8h0M-96.6 189.4h0M-68.4 171h0M-86.9 171.3h0M-84.4 199.8h0M-91.5 176.6h0M-76.5 199.8h0M-95.2 179.9h0M-91.6 195h0M-79.7 167.3h0M-92.9 186.5h0M-92.3 164.4h0M-98.5 175.3h0M-81.1 199.9h0M-83.6 169.7h0M-67.2 196.5h0M-72.4 200.7h0M-62.5 188.7h0M-57.8 174.6h0M-68.5 169.8h0M-68 198.5h0M-62.3 179h0M-73.2 201h0M-92.1 179h0M-73.8 199.6h0M-62.4 183.5h0M-58 187.5h0M-74.2 199.7h0M-91.3 193.9h0M-74.3 199h0M-76.6 199.6h0M-60.7 181.1h0M-90.3 193.9h0M-84.5 198.1h0M-92 172.7h0M-82.8 200.7h0M-68.1 197.6h0M-63.4 194.6h0M-94.4 174.6h0M-83.3 169.5h0M-89.8 194.4h0M-87.6 171.8h0M-76.3 168.2h0M-84.6 202h0M-75.7 167.3h0M-104.3 189.8h0M-95.6 180.5h0M-96.1 191.5h0M-61.9 182.8h0M-61.2 187.5h0M-95.4 180.6h0M-95.4 186.2h0M-64 196.8h0M-81.1 166.5h0M-60.5 182.8h0M-93.6 181.8h0M-77.1 200.9h0M-66.4 171.8h0M-90.2 171.9h0M-62.3 184.3h0M-85.2 202.7h0M-91.9 178h0M-63.4 172.5h0M-90.1 174.9h0M-65.8 171.9h0M-72.9 167.4h0M-67.5 170.5h0M-60.9 180.1h0M-96.9 197.7h0M-76.6 201.7h0M-103.6 175.9h0M-95.8 170.7h0M-101.2 177.3h0M-95.7 172.8h0M-100.6 177.9h0M-106.5 171.2h0M-98.4 178.9h0M-105.7 170.6h0M-106.3 170.8h0M-96.1 172.6h0M-100.1 178.1h0M-93.7 172.2h0M-106.5 170.3h0M-106.1 171.3h0M-98 179.8h0M-93.2 177.5h0M-102.7 165.4h0M-95.7 178.9h0M-96.8 169.9h0M-96.4 177.5h0M-105.6 167.8h0M-102.6 163.6h0M-104 174h0M-106.2 167.5h0M-106.4 165.2h0M-105.8 167.8h0"/>
<path fill="#66c2a5" d="M11.2 -82L10.7 -81.4L10.1 -80.8L9.2 -80.5L8.1 -80.5L7.1 -80.8L6.5 -81.4L6.3 -82L6.2 -82.8L7.1 -83.3L8 -83.7L9.2 -83.6L10 -83.1L11.1 -82.8Z"/>
<path fill="none" stroke="#66c2a5" stroke-width="2.2" stroke-linecap="round" d="M11.2 -81.2h0M12.1 -83.2h0M12.2 -82.2h0M11.1 -83.2h0M3.8 -81.1h0M11 -83h0M10.8 -80.6h0M6.9 -84h0M7.5 -83.5h0"/>
<path fill="#fc8d62" d="M97.8 -71.1L97.2 -68.5L98.4 -65.4L97 -62.9L96.3 -59.8L95.5 -56.2L91.1 -55.8L88.6 -53.3L84.7 -53.3L81.3 -52.8L77.9 -52.1L74.4 -52.6L71.1 -53.7L67.5 -54L64.3 -55.3L61.6 -57.4L60 -60.2L58.7 -62.9L57.7 -65.6L57.3 -68.3L57 -71.1L56.8 -73.9L56.3 -77L59.2 -79.1L60.3 -81.8L63.8 -82.9L64.7 -86.3L67.6 -88.1L70.6 -89.9L74.3 -90L77.9 -89.2L81.2 -88.7L84.9 -89.4L88.7 -89L92.2 -87.7L95.6 -86L96.1 -82.2L97.4 -79.5L96.5 -76.2L97 -73.6ZM126.7 -84L125.7 -81L124.4 -78.4L125.2 -74.4L123.5 -71.4L120.4 -70L117.5 -68.6L114.3 -68.5L111.4 -66.6L107.9 -65.9L104.6 -67L101.5 -68.7L100 -72.2L97.7 -74.5L95.6 -77.2L94.1 -80.4L94.9 -84L95.3 -87.3L96.2 -90.5L99.3 -92.3L101.3 -94.5L103.3 -96.5L105.4 -98.9L108.2 -100.6L111.4 -101.8L114.8 -102L118.4 -101.5L121.6 -99.8L123.6 -96.7L125.4 -93.7L127.2 -90.8L126.9 -87.2Z"/>
<path fill="none" stroke="#fc8d62" stroke-width="2.2" stroke-linecap="round" d="M54.3 -73.6h0M53.6 -65.9h0M101.4 -69h0M93.2 -85.2h0M99.1 -76.6h0M52.7 -71.5h0M77.8 -49.5h0M57.9 -81.4h0M68.2 -52.9h0M88.1 -54h0M61.6 -57.6h0M100 -51h0M59.1 -53.6h0M69.2 -88.4h0M66.6 -88.2h0M57.2 -58.2h0M56.3 -81.4h0M53.8 -72.6h0M55.3 -80.3h0M76 -51.7h0M77.9 -91.2h0M68.6 -88.4h0M99.6 -75.1h0M60.2 -83.6h0M101.4 -71.9h0M69.7 -50.9h0M57.1 -61.4h0M98 -61.7h0M53.8 -67.8h0M74.5 -92.9h0M54.6 -63.1h0M93.2 -84.5h0M55.3 -64h0M54.2 -60.4h0M78 -52.3h0M71.6 -50.7h0M99.6 -80h0M58.8 -58.6h0M65.1 -86.7h0M58 -60.3h0M62.4 -57.7h0M94.9 -84.8h0M102.5 -53.2h0M68.9 -52h0M100.5 -67.5h0M97.5 -55.7h0M56 -60.7h0M104.8 -73.3h0M60.3 -58.2h0M56 -65.7h0M71.4 -51.8h0M97 -61.1h0M77 -42.6h0M55.5 -75.9h0M98.8 -80.2h0M55.4 -70.4h0M97.9 -57.7h0M79.9 -90.8h0M89.5 -39.3h0M63 -86.1h0M92.5 -55.4h0M53.5 -67h0M97.2 -80.8h0M56.3 -68h0M80.8 -46.6h0M55.4 -70h0M99.8 -66.4h0M81.3 -90.2h0M90 -90.6h0M65.8 -53.2h0M91.1 -53.8h0M79.3 -52.1h0M98.6 -60.4h0M37.6 -65h0M56.4 -77.6h0M103.4 -69h0M85.2 -53h0M79.6 -92.9h0M77.2 -50.6h0M88.1 -87.5h0M71.7 -91.4h0M66 -53.6h0M95.2 -85.7h0M56.3 -68.9h0M91.7 -86.9h0M66.1 -55.4h0M56.9 -77.8h0M77.9 -52.3h0M88.3 -53.2h0M59.8 -57.9h0M63.4 -54.1h0M93.1 -86.1h0M106.1 -69.1h0M103.2 -72.7h0M49.5 -78.1h0M69.5 -50.1h0M103.8 -65.1h0M87.7 -52.3h0M99.2 -67.9h0M100.1 -79.3h0M67.1 -90.9h0M81 -52.5h0M55 -65.2h0M75.8 -52.1h0M88.4 -54h0M76.7 -51.3h0M96.5 -60.9h0M89.3 -54.5h0M99.9 -80.5h0M95 -54h0M63.1 -56.2h0M98.8 -63.4h0M62.5 -84.8h0M68.2 -51.3h0M84.1 -52.9h0M95.6 -83.5h0M54.6 -77.9h0M94.1 -86.4h0M71.8 -91h0M54.5 -70.1h0M59.5 -81.8h0M82.7 -50.4h0M47.9 -66.3h0M85.4 -52.9h0M99 -56.5h0M95.4 -54.9h0M101.2 -38.7h0M69.9 -94.7h0M73.5 -38.4h0M53.4 -77.4h0M97.4 -57.3h0M89.3 -86.7h0M69.3 -88.2h0M71.5 -50.8h0M102.8 -71h0M55.9 -76.6h0M84.6 -92.5h0M66.8 -87.2h0M95.8 -60.3h0M90.2 -53.4h0M64.2 -87.1h0M69 -46.7h0M67.3 -53.6h0M67.8 -90.3h0M74.2 -89.9h0M95 -55.8h0M78.4 -50.5h0M63.1 -87.6h0M55.5 -58.1h0M56.9 -83.2h0M77 -91.3h0M66.1 -87.9h0M85.5 -88.3h0M56.8 -80.9h0M87.1 -47.7h0M95.5 -83.7h0M58 -59h0M95.9 -58.6h0M66.1 -86.9h0M63.5 -86h0M99.8 -77h0M60.2 -51.6h0M87.3 -52.1h0M94.3 -71.5h0M124.4 -74h0M122.4 -103.1h0M107.9 -59.8h0M124.2 -98.5h0M125.2 -96.2h0M130.8 -85.3h0M117.5 -102.1h0M110.5 -100.6h0M125.8 -76.4h0M109.4 -105h0M127.8 -88.5h0M94.8 -87.4h0M104.1 -103.7h0M117.9 -99.7h0M126.9 -96h0M100.7 -96.8h0M99.8 -71.1h0M121.7 -97.2h0M125.2 -97.1h0M124 -70.2h0M104.5 -66.7h0M97.6 -96.3h0M90.7 -88.6h0M125.1 -75.3h0M116.8 -100.1h0M96.6 -67.3h0M92.5 -81.5h0M127 -74.6h0M109.6 -106.3h0M103.6 -98.5h0M97 -72.2h0M93.6 -83h0M94.7 -80.1h0M96.5 -74.1h0M93.2 -77.2h0M128 -97.6h0M92.7 -79.9h0M91.5 -81.9h0M108.3 -102h0M101.6 -70.5h0M102.6 -66.5h0M103.2 -67.1h0M128.6 -89.6h0M104.8 -100.3h0M93 -90.2h0M109.5 -65.2h0M99.5 -69.7h0M102.4 -103.5h0M89.8 -89.9h0M113.7 -65.7h0M112.1 -66.2h0M103.5 -67.9h0M114.1 -63.5h0M111.4 -108.3h0M97.7 -95.6h0M127.2 -77h0M115.2 -67.5h0M94.3 -88.2h0M93.4 -84.2h0M97.5 -74h0M98.9 -99.5h0M96 -76.2h0M128.2 -78.2h0M96.1 -77.9h0M104.7 -99.9h0M123.1 -71.1h0M93.2 -91.3h0M114.7 -67.4h0M128.5 -61.5h0M109.4 -101.7h0M97.2 -93.5h0M100.4 -68.9h0M113.8 -62.2h0M105 -66.2h0M111 -65.1h0M93.1 -73.8h0M106.9 -100.8h0M107.6 -103.6h0M98 -97.8h0M131.4 -89.8h0M116.2 -66.5h0M97.7 -71.7h0M94.1 -79.4h0M127.9 -77.6h0M106 -102.1h0M96.4 -75.3h0M118.1 -67.5h0M103.9 -105.4h0M101.9 -103.9h0M100.8 -64.4h0M99.6 -101.8h0M122.4 -98.5h0M125.1 -96.6h0M95.3 -88.4h0M92.7 -80.9h0M112.1 -101.7h0M115.4 -66.2h0M127.5 -92.4h0M99.4 -95.1h0M96.3 -72.5h0M99.3 -100.3h0M103.7 -100.1h0M96.3 -93.9h0M127.8 -95.5h0M113.8 -67.2h0M106.7 -67.1h0M97.8 -97.9h0M117.1 -101h0M112.9 -64.9h0M128.4 -76.8h0M126.3 -71.8h0M95.1 -83.3h0M106.7 -102h0M98.3 -98.9h0M132.2 -80.5h0M95.9 -75.1h0M110.9 -101.5h0M105.2 -100.1h0M91.9 -85.1h0M96.5 -103.2h0M113.1 -103.5h0M132.8 -79.8h0M95.1 -87.5h0M109.9 -103.9h0M122 -65.6h0M122.8 -69.3h0M95.6 -79.5h0M122.1 -63.4h0M125.6 -95.7h0M120.6 -98.4h0M111.9 -100.9h0"/>
<path fill="#8da0cb" d="M97.3 -41.7L96.4 -38.1L95.7 -34.6L95.8 -30.7L93 -28.4L91.9 -25L88.6 -24.2L86.8 -21.6L84.4 -20.2L82.5 -17.2L80 -14.9L77 -13.9L73.9 -12.4L70.9 -13.7L67.9 -14.8L65.2 -16.9L63.3 -20L61.5 -22.9L59.6 -25.5L57.5 -28L57.3 -31.8L56.2 -34.9L55.3 -38.2L54.8 -41.7L54.8 -45.2L54.5 -49L55.1 -52.8L55.3 -57L57.6 -59.9L59.8 -62.6L63.3 -63.3L66.2 -64.1L68.6 -66.1L71.4 -66.5L74 -68.7L76.9 -67.4L80 -69L82.5 -66.4L84.7 -63.9L87.7 -63.3L89.7 -60.7L92.2 -58.6L93.6 -55.4L94.5 -52L95.9 -48.8L97.5 -45.5ZM103.3 -18L105.1 -15.2L105.7 -12.1L105.9 -8.9L105.2 -5.9L102.5 -4.6L99.5 -4.1L96.2 -5.3L93.1 -7L91 -10.1L89.6 -13.3L89.8 -16.4L90.2 -19.4L92 -21.5L94.5 -23L97.8 -23.4L100.9 -20.7Z"/>
<path fill="none" stroke="#8da0cb" stroke-width="2.2" stroke-linecap="round" d="M55.3 -34h0M61.6 -17.3h0M95.3 -31h0M59.2 -25.7h0M61 -21.8h0M50.7 -40.3h0M43.4 -50.3h0M55.1 -38.8h0M79.9 -67h0M77.7 -73.3h0M96.6 -45.1h0M96.7 -59.6h0M96.5 -50.6h0M81.9 -71.9h0M83.4 -14h0M93.6 -66h0M85.1 -66.2h0M80.2 -69.1h0M97.1 -38.9h0M86.1 -65.4h0M58 -56.7h0M53.5 -37.9h0M83.5 -68h0M61.5 -61.2h0M84.1 -14.8h0M41.9 -27.1h0M68.1 -76.7h0M77.8 -15.6h0M98.9 -39.1h0M84.9 -64.6h0M90.8 -21.9h0M98.1 -30.4h0M69.6 -14.7h0M52.3 -43.8h0M56.9 -21.7h0M64.8 -67.1h0M52.4 -58.1h0M96 -48h0M52.9 -34.9h0M96 -47.4h0M81.1 -16.7h0M98.3 -51.4h0M78.5 -72.2h0M87.7 -63.7h0M100.5 -36.6h0M65.4 -10.4h0M83.9 -66.4h0M71.1 -12.4h0M50.2 -39.8h0M62.1 -19.5h0M53.7 -32.9h0M56.2 -55.4h0M66.4 -14.7h0M65.9 -14.3h0M100.2 -46.3h0M53.2 -30.9h0M53.5 -32.8h0M60.8 -67h0M55.9 -52.8h0M67.2 -14.7h0M90.3 -60.9h0M98.8 -39.7h0M86.9 -18.5h0M62.4 -21.1h0M47.7 -51.6h0M95.8 -50.6h0M59.2 -18.2h0M82.9 -72.6h0M68.3 -67h0M78.3 -13.8h0M71.1 -14.2h0M87.5 -16.6h0M60.8 -64.4h0M48.2 -32.4h0M53.9 -32.6h0M52.1 -49.8h0M72.6 -68h0M90.9 -20h0M53.9 -40.1h0M52.3 -30.1h0M79.3 -16.4h0M87.8 -20.9h0M56.1 -51.2h0M54.2 -46.5h0M76.7 -69.6h0M60.9 -21.2h0M54.7 -54.4h0M80.5 -71.8h0M75 -67.6h0M82.3 -66.3h0M56.1 -52.3h0M49.5 -64.6h0M96.1 -33.6h0M52.8 -47.1h0M53.7 -37.8h0M97.3 -39.9h0M54 -46.6h0M98.3 -42h0M74.4 -72.4h0M70 -12.7h0M96.1 -52.8h0M56 -51.2h0M96.7 -27.2h0M57.2 -61.2h0M89.4 -67.2h0M92.5 -27.1h0M62.4 -16.2h0M55.4 -30.2h0M72.9 -10.9h0M89.2 -22h0M85.5 -18.5h0M62.7 -63.7h0M56.3 -28.7h0M96.3 -38.8h0M99.9 -30.8h0M54.1 -53.9h0M66.5 -17.5h0M55.6 -30.6h0M55.9 -25.2h0M105.4 -16.2h0M63.9 -18.1h0M53.7 -41h0M86.4 -16.2h0M64.2 -65.5h0M74.4 -10.1h0M66.4 -64.7h0M53.4 -53.3h0M69.2 -70h0M53.6 -7.7h0M93.4 -26.8h0M89.1 -63.4h0M65.2 -14.2h0M97.7 -40.8h0M98.7 -35.9h0M70.5 -67.9h0M83.4 -66.3h0M72.3 -14.1h0M51.4 -50.1h0M75.7 -15.1h0M63.2 -66.2h0M70.8 -67.1h0M60.3 -21.6h0M65.6 -69.5h0M64.9 -15.4h0M97.6 -59.7h0M68.4 -74.9h0M68.8 -15.7h0M56.6 -62.7h0M54.9 -36.4h0M95 -51.8h0M97.7 -51.1h0M77.8 -71.2h0M93.3 -58.7h0M79.3 -14.9h0M96 -35.2h0M96.2 -51.9h0M99.1 -44.8h0M76.9 -15.3h0M54.8 -39h0M57 -60.7h0M95.2 -59.4h0M64.5 -66.5h0M66.2 -17.7h0M89.6 -16.7h0M91 -62.5h0M55.5 -49.7h0M56.3 -80.3h0M67.5 -66.9h0M56.5 -67.8h0M85.7 -67.1h0M52.4 -38.8h0M67 -72.2h0M100 -62.6h0M74.1 -73.7h0M62.5 -21.6h0M55.5 -35.3h0M96.2 -50.7h0M100.4 -34.1h0M78.6 -68.6h0M61.5 -61.4h0M69.6 -15.1h0M59.1 -26h0M75 -67.5h0M85.7 -16.2h0M55 -53.8h0M79.1 -68.5h0M54.1 -39.5h0M69.6 -66.3h0M81.1 -13.9h0M107.4 -12h0M94 -22.4h0M107.7 -12.7h0M101.2 -2.3h0M99.2 -3.1h0M95.5 -5h0M105.8 -14.5h0M100 -24.3h0M104.7 -18h0M106.6 -18.2h0M87.1 -18.7h0M89.3 -7.5h0M107.1 -7.7h0M100 -2.6h0M88 -18.9h0M107.6 -14.4h0M89.8 -23.7h0M104.7 -21.9h0M86.1 -12h0M108.8 -13.6h0M100.7 -3.1h0M90.2 -7.7h0M104.5 -6.2h0M102.9 -21.8h0M98 -22.7h0M94.7 -24.5h0M102.7 -2.9h0M91.6 -21.9h0M108.3 -9.6h0M105.4 -5.5h0M91.3 -8.5h0M109.7 -8.1h0M105.9 -16.2h0M99.7 -22h0M102.9 -19.1h0M94.8 -22.4h0M84.7 -15.4h0M97.6 -22.6h0M95.4 -2.8h0M109.6 -1.9h0M101.7 -27.2h0M103.8 -21.6h0M99.1 -22.8h0M108.2 3.2h0M102.5 -19.7h0M105.1 -15.9h0M90.1 -22.5h0M87.9 -22.4h0M107.4 -8h0M88.1 -15.1h0M107.6 -9.9h0M88.9 -21.3h0M107 -13.8h0M86.1 -17.8h0M103.3 -1.3h0M90.9 3.4h0M107.9 -12h0M87.2 -25.4h0M100.4 -21.6h0M99.9 -21.5h0M108.5 -10.7h0M98.3 -23.1h0M99.3 -0.6h0M98.8 -24.2h0M92.5 -26.8h0M99.2 0.4h0M99.4 -22.4h0M108.2 -6.4h0M104.8 -22.5h0M86.8 -11.7h0"/>
<path fill="#66c2a5" d="M121.6 -38.1L120.4 -35.2L118 -33L115.2 -31.5L112.5 -29.7L108.4 -31L105.7 -29.6L102.5 -29.5L99.3 -29.2L95.6 -28.6L91.9 -29.4L88.7 -31.6L87.1 -35L85 -37.6L83.3 -40.4L81.8 -43.2L80.5 -46.2L81.6 -49.2L80.4 -52.4L81.5 -55.2L82.3 -58.1L84.3 -60.4L86 -63.1L88.9 -64.5L91.9 -65.7L95.1 -66.3L98.3 -67.3L101.8 -66.5L105.3 -66.3L108.6 -65.1L111.6 -63.3L114.1 -61L117.3 -59.3L119.2 -56.4L120.3 -53.4L122.2 -50.5L122.9 -47.3L123.6 -44.1L122.7 -41Z"/>
<path fill="none" stroke="#66c2a5" stroke-width="2.2" stroke-linecap="round" d="M119.8 -35.1h0M116.2 -61h0M121.7 -56h0M116.7 -33.1h0M122 -45.4h0M134.8 -34h0M112.2 -28.5h0M79 -53.4h0M125.7 -39.7h0M95.7 -68.9h0M104.3 -28.7h0M107.3 -25h0M115.3 -60.6h0M83.4 -39.4h0M96.9 -69.4h0M80.9 -31.5h0M110.1 -27.9h0M76.9 -49.1h0M88.2 -30.1h0M96.4 -69.2h0M123.6 -53h0M81.5 -56.6h0M123 -36.2h0M122.3 -52.3h0M111.9 -30.1h0M94.7 -17h0M124.3 -51.3h0M75.5 -45.3h0M80 -53.3h0M124 -44.8h0M103.5 -70.7h0M114.2 -30h0M87.8 -64.3h0M92.1 -66h0M93.4 -29.5h0M82.2 -64.8h0M81.6 -43.8h0M126.6 -37.5h0M123.3 -38.5h0M101.9 -28.8h0M91.3 -67.6h0M120.8 -31.9h0M91.6 -30.8h0M120 -30.2h0M93.5 -70.6h0M117.6 -59.5h0M86.5 -63.9h0M78.5 -51.2h0M74.3 -50.8h0M78 -54.1h0M120.1 -61.7h0M120.3 -37.9h0M79.1 -59.7h0M115.8 -60.1h0M116.2 -61.4h0M85.3 -63.3h0M65.4 -36.8h0M92.1 -30.5h0M95.7 -26.8h0M118.3 -29.1h0M111.3 -30h0M81 -64.3h0M105.6 -23.8h0M98.1 -66.4h0M108.5 -69.6h0M114.7 -60.6h0M81.5 -56.7h0M108.3 -24.2h0M121.9 -37h0M93.4 -28.4h0M96.2 -28.2h0M114.6 -65.1h0M92 -74.3h0M92.8 -66.8h0M113.8 -28.3h0M102.6 -69.6h0M117.5 -62.4h0M80.2 -54.7h0M103.2 -70.9h0M75.6 -53.2h0M121.6 -36.4h0M124.2 -33.9h0M98.4 -67.9h0M121.9 -48.7h0M86.9 -67.2h0M105.5 -69.6h0M122.8 -44.8h0M105.2 -27.9h0M116.9 -29.4h0M89.1 -31.6h0M79.2 -51.9h0M99.5 -28.8h0M80.4 -56.6h0M115.3 -62.3h0M112 -26h0M77.1 -60.6h0M76.2 -54.1h0M76.9 -48.4h0M85.4 -32.3h0M120.6 -53.6h0M123.1 -46.3h0M101 -70.9h0M114.9 -29.8h0M119.2 -56.9h0M93 -67h0M110.9 -65h0M121.2 -35.6h0M110.4 -74.3h0M94.2 -69.5h0M120.4 -32.4h0M81.5 -61.3h0M69.3 -65.8h0M122.8 -51.3h0M79 -46.4h0M117.7 -33.1h0M82.2 -65h0M85.1 -62.8h0M109.1 -64.9h0M79.1 -58.9h0M80.9 -55.7h0M107.1 -66h0M119.2 -31.6h0M120 -33.4h0M80.8 -44.6h0M86.4 -61.9h0M127.7 -49.6h0M75.9 -46.3h0M91.5 -69.4h0M119.3 -55.9h0M75.9 -61.6h0M80 -59h0M104.8 -66h0M98.8 -67.1h0M94.7 -30.4h0M77.2 -50.5h0M85 -70.1h0M126.8 -47.1h0M97.1 -68.3h0M79.7 -53.7h0M100.7 -26.8h0M112.7 -25.7h0M115.7 -28h0M107 -65h0M87.9 -63.7h0M80.1 -51.7h0M113.7 -62.1h0M95.1 -29.2h0M122.1 -52.3h0M98.5 -66.8h0M120.8 -53.9h0M97.3 -29.6h0M87.3 -34.5h0M123.8 -37.1h0M82.1 -58.5h0M84.2 -34.6h0M121.7 -40.6h0M89.9 -66.5h0M124.5 -43.6h0M127.1 -45.1h0M82.8 -61.5h0"/>
<path fill="#8da0cb" d="M158.3 -32.3L158.3 -28.4L157.9 -24.5L157.3 -20.3L156.1 -16.4L153.7 -15.3L152 -12L149.5 -11.9L147.2 -12L145.3 -14.4L143.1 -15.4L141.3 -17.7L139.2 -19.9L138.2 -23.9L137.4 -28L137.9 -32.3L137.5 -36.5L137.8 -41L139.5 -44.2L141.1 -47.2L143 -49.6L145.6 -48.3L147.4 -50.1L149.5 -51.4L151.9 -52.3L154.4 -51.6L156 -47.9L157.1 -44L158.5 -40.6L158.2 -36.1Z"/>
<path fill="none" stroke="#8da0cb" stroke-width="2.2" stroke-linecap="round" d="M144.1 -12.1h0M156.1 -54.9h0M136.8 -44.5h0M138.9 -13.6h0M159.9 -37.7h0M162 -33.8h0M159.9 -45h0M135.2 -24.5h0M142.9 -53.3h0M154 -5.9h0M165.6 -57.6h0M160.9 -24.3h0M150.3 -52.2h0M145 -2.5h0M154.6 -50.4h0M157 -12.2h0M138.3 -21.6h0M159.7 -18.2h0M140.2 -44.5h0M162.3 -44.7h0M150.5 -51.6h0M138.7 -20.3h0M153 -12.3h0M138.5 -42.3h0M152 -9.7h0M152.4 -12.7h0M151.4 7.9h0M154.2 -10.2h0M138.1 -50.5h0M157 -46.9h0M134.3 -23.9h0M157.7 -49.5h0M139 -41.7h0M138.1 -43.8h0M160.1 -51.8h0M156.8 -44.4h0M137 -23.2h0M149.3 -55.5h0M135.4 -35.8h0M158 -21.3h0M139.3 -45.9h0M136.7 -31.9h0M135.7 -45.2h0M143 -14h0M142.7 -8.9h0M147.1 -8h0M158.6 -46.8h0M150 -6.8h0M141.3 -51.7h0M145.2 -56.8h0M161.1 -29.3h0M141.8 -11h0M139.1 -42.5h0M154.6 -48.4h0M156.6 -17.8h0M153 -49.9h0M147.4 -55.5h0M136.5 -45.2h0M157.2 -50.7h0M152.2 -10.2h0M152.9 -54.2h0M127.1 -59.1h0M148.5 -52.4h0M142.8 -49.7h0M140.4 -18.6h0M160.7 -39.8h0M148.3 -53.8h0M152.2 -10.4h0M138.1 -19.8h0M163.7 -24.6h0M154.5 -52.2h0M139.3 -15.7h0M161.3 -24.1h0M136 -21.8h0M158.6 -22.7h0M143.3 -7.1h0M137.3 -33.4h0M144.8 -13.9h0M151.5 -51.4h0M140.3 -7.3h0M159.2 -36.2h0M142.6 -49.8h0M153.8 -10.8h0M146.3 -54.3h0M137 -42.4h0M161.2 -13.9h0M134.6 -35.1h0M156.3 -14.5h0M141.8 -14h0M152.9 -11.3h0M144.2 -8.4h0M151.9 -61h0M141.2 -49.2h0M133.6 -44.7h0M146.3 -6.8h0M159.4 -40.2h0M145 -51.6h0M139.4 -14.3h0M137.3 -17.9h0M139.1 -21.7h0M134.7 -29h0M154.1 -58.4h0M141.4 -50.5h0M139.7 -47.5h0M137.6 -41.2h0M136.9 -22.6h0M160.2 -46.3h0M137.2 -29.5h0M145.3 -61.5h0M161.3 -47.2h0M138.1 -21.4h0M152.6 -53.9h0M159.8 -40.8h0M137.9 -29.1h0M143 -12.5h0M156.6 -11.5h0M157.2 -45.4h0M149.6 -55h0M136.1 -41.5h0M139.6 -12.9h0M146.9 -52.4h0M137.6 -42.8h0M153.7 -55.4h0M160.7 -47h0"/>
<path fill="#66c2a5" d="M191.1 -25.8L190.5 -22.4L189.7 -19.1L188.6 -16L189.1 -11.7L187.3 -8.8L184.9 -6.5L182.5 -4.5L180 -2.8L177.8 -0.3L175.2 1.8L172 1L169.1 1.6L166.2 1.8L163.2 1.4L160.8 -0.9L157.7 -1.1L154.6 -2.1L152.3 -4.5L150.2 -7.1L148 -9.9L146.2 -13L146.5 -17L145 -20.3L145.2 -24L145.8 -27.6L145.7 -31.1L148.2 -33.9L148.9 -37.1L150.2 -40.1L151.2 -43.4L154.1 -44.8L155.4 -48.2L157.9 -50L160.3 -52.3L163.2 -52.9L165.9 -56.1L169.2 -56.5L172.5 -56.6L175.2 -53.4L178.2 -52.6L179.7 -48.3L183.1 -48.1L184.3 -44.3L187.9 -43.4L189.1 -39.9L189.7 -36.2L190.2 -32.7L190.8 -29.3Z"/>
<path fill="none" stroke="#66c2a5" stroke-width="2.2" stroke-linecap="round" d="M164.2 3.3h0M202.9 -26.5h0M188.8 -12.8h0M147.3 -15.7h0M145.8 -28.6h0M170.7 2.3h0M183.1 -3.8h0M192.5 -23.9h0M155.8 -49h0M164.6 -53.7h0M165.8 -52.4h0M145.7 -12.1h0M149 -11.7h0M191.3 -29.2h0M139.5 -41.4h0M174.8 0.9h0M143.9 -39.3h0M142.6 -52.9h0M144.2 -8.3h0M190.4 -41.5h0M189.7 -15.6h0M185.9 -44.8h0M151.7 -2.1h0M185.7 -5.3h0M150.1 -9.7h0M146.6 -37.8h0M189.7 -15.9h0M160.2 -51.7h0M160.9 -51.1h0M146.5 -16.1h0M172.9 2.9h0M147.1 -10.8h0M193.2 -25.3h0M144.8 -31.5h0M192 -27h0M148.3 -40.8h0M166.6 -52.7h0M144.7 -12.7h0M163.6 2.5h0M165.4 -57h0M147.4 -35h0M181.7 4.8h0M148.8 -11.4h0M172 1.1h0M147.1 -18h0M192.5 -38.2h0M189.5 -36.3h0M190.5 -33.4h0M144.3 -35.6h0M190.9 -14.2h0M181.9 -1.4h0M188.4 -40.8h0M146.1 -34.6h0M154.9 -1.5h0M175.2 2.2h0M149.7 6.3h0M192.9 -29.6h0M159.4 -52.1h0M148 -37.8h0M148.5 -41.4h0M142.1 -22.5h0M194.2 -10.5h0M147.9 -8h0M187.4 -44.4h0M180.5 0.4h0M192.8 -55.6h0M191.5 -34.8h0M193.1 -5.2h0M164.6 3.9h0M149.6 -9.4h0M156.9 -54.9h0M178.2 -50.5h0M150.3 -41.8h0M190.6 -33h0M188.9 -41.4h0M173.5 3h0M144.8 -16.1h0M192.3 -10.9h0M167.4 -56.5h0M150.5 -50.7h0M145.4 -34.5h0M144.1 -26.7h0M192 -22.5h0M142 -15.9h0M192.8 -32.7h0M147.1 -17.9h0M145.3 -21h0M140.8 -19.7h0M190.5 -13.6h0M191.5 -18.9h0M161 -55.5h0M159.4 1.3h0M180 1h0M182.5 -47.2h0M195.8 -28.7h0M180.5 -51.1h0M148.4 -4.4h0M192.4 -21.8h0M179.1 0.7h0M190.1 -19.6h0M182.6 -51.8h0M191 -27.8h0M155.4 -52.5h0M186 -48.8h0M191 -24.4h0M189.6 -38.9h0M191.5 -27.5h0M187.6 -10.6h0M171 1.5h0M192.8 -24.5h0M191.3 -18.9h0M186 -4h0M163.2 -52.6h0M169.4 -54h0M168.8 2.1h0M190 -35.5h0M176 4.4h0M189.4 -35.7h0M176.9 -50.7h0M174.8 1.1h0M147.1 -9.2h0M146.2 -27.8h0M145.2 -28.9h0M190.9 -23.7h0M158.6 -1.1h0M193.8 -31.1h0M146 -38.2h0M147.2 -41.5h0M191.3 -16.1h0M159.1 -60.8h0M194.6 -34.1h0M147.9 -37.6h0M151.1 -7.5h0M189.6 -11.3h0M150.9 -6.1h0M144.3 -29.2h0M152.8 -5.8h0M160.9 -52h0M178.2 0.3h0M195.6 -14h0M145.9 -18.7h0M141.6 -34h0M147.1 -39.4h0M144.8 -21.7h0M161 -0.5h0M179.1 -49.9h0M192.4 -18.1h0M155.6 -52h0M188.8 -42.1h0M182.6 -0.9h0M189.5 -51.6h0M191.3 -23h0M154.9 -2.9h0M188.4 -12.2h0M172.3 2.1h0M147.2 -34.2h0M193.8 -23.8h0M154.6 -2.6h0M156.4 2.2h0M188.8 -60.1h0M148.7 -39.5h0M182.5 -4.5h0M146 -33.6h0M189.7 -5h0M164.6 4.4h0M173.6 0.9h0M181.8 6.4h0M153.5 -47.1h0M189.5 -44.1h0M147.4 -38.8h0M162.6 9.7h0M145.4 -15.9h0M146.7 -36.7h0M146.6 -33.3h0M183.3 -49.7h0M190 -18.8h0M190.9 -31.8h0M149.1 -4.4h0M181.2 -50.3h0M192.1 -38h0M191.4 -21.5h0M146.5 -5.3h0M159.2 -52.4h0M188.9 -37.1h0M193.4 -15.9h0M200.7 -17.9h0M193.6 -22.6h0M146.6 -7.4h0M151.3 -7.3h0M145.2 -20.8h0M180.2 -53.4h0M152.2 -3.8h0M149.8 -41.9h0M151.6 -4.7h0M190.3 -18.5h0M174.4 -53.5h0M165.9 1.2h0M145.6 -33h0M193.3 -22.3h0M148.5 -44.5h0"/>
<path fill="#66c2a5" d="M113.2 7.7L112.1 10.1L110.6 12.7L107 12.8L103.9 13.1L100.4 12.6L98.2 10.4L97.4 7.7L98.9 5.3L100.9 3.3L103.7 1.8L107.2 1.9L110.6 2.8L112.5 5.1ZM123.1 -7.1L123.2 -5.5L122.2 -3.5L119.4 -1.8L116.6 -0.6L114.1 -0.4L111.6 -0.2L110.4 -1.1L110 -2.6L111.9 -4.5L113.7 -6.4L116.7 -7.5L119.6 -8.4L121.1 -7.5Z"/>
<path fill="none" stroke="#66c2a5" stroke-width="2.2" stroke-linecap="round" d="M109.7 1.5h0M113.5 2.7h0M104.6 13.6h0M121.5 1.8h0M115.2 6.7h0M101.6 1.1h0M95.1 12.4h0M115.8 14.3h0M113.2 12.8h0M126.1 -5.8h0M100.2 2.4h0M102 2.6h0M108.3 15.9h0M100.3 2.9h0M119.6 9.7h0M113.3 0.4h0M101.8 0.1h0M119.3 7.8h0M106.5 15h0M113.1 -1.3h0M96.9 3.6h0M116.4 4h0M120.2 2.9h0M97.5 8.7h0M99.8 17.6h0M98.1 9.1h0M101.4 15.4h0M100.6 15.5h0M111 3.4h0M99.6 12.6h0M95.6 5.7h0M117.8 10.8h0M102.6 -0.2h0M97.1 9.5h0M105.5 15.4h0M103.3 1.5h0M114.9 6.1h0M111.6 2.9h0M102.3 13.7h0M102 -0.1h0M115.5 3.7h0M118.1 6h0M102.9 -1.8h0M99.8 11.9h0M117.7 12.1h0M98 0.3h0M97.3 7.2h0M113.3 3h0M108 14.2h0M108.6 2.5h0M106.9 17.9h0M94.3 19.5h0M98.8 3.5h0M113.4 -6.5h0M110.3 -3.2h0M110.1 0.4h0M112 0.6h0M121.6 -8.6h0M109.9 0.5h0M110.1 -2.3h0M108.6 0.5h0M118.3 -8.8h0M116.9 -8.2h0M123.6 -8.9h0M117.8 -0.9h0M124.3 -5.8h0M111.6 2.5h0M114.2 -7.3h0M115.6 0.2h0M118.2 -0.3h0M122.8 -10.2h0M109.6 -4h0M122.9 -7.7h0M126.2 -5.3h0M120.1 -9.4h0M109.8 -1.6h0M110.4 -6.2h0M115 0.5h0"/>
<path fill="#fc8d62" d="M77.6 90L77.7 93.8L77.8 98.1L76.2 101.1L74.5 103.7L73.3 107.3L71.3 109.5L69.1 111.7L66.7 112L64.3 111.1L62.2 108.8L59.8 108L57.9 105.4L56.5 101.9L55.9 97.8L55.3 94L55 90L55.5 86.1L56.2 82.4L56.8 78.4L58.1 75L60.4 73.6L62 70.3L64.3 69L66.7 68.5L69 69.2L71.3 70.5L73.4 72.4L75.1 75.3L76.3 78.8L77.2 82.4L77.4 86.2ZM55.7 59.6L56.3 64.4L56.4 68.7L55.9 71.8L55.3 74.6L54.1 75.4L53.2 77.5L52 79.3L50.3 75.7L48.7 73.9L47.1 70.6L46.1 65.9L45.4 61.4L44.7 57.2L44.1 52.6L44.6 49.5L44.8 45.6L45.9 44L47.1 42.8L48.6 43.3L50.2 45.2L51.7 48.2L53.2 51.2L54.3 55.4Z"/>
<path fill="none" stroke="#fc8d62" stroke-width="2.2" stroke-linecap="round" d="M70 66.1h0M79.3 76.9h0M50.6 98.8h0M67.6 67.3h0M69 68h0M75.5 107.5h0M71.3 67.1h0M68.1 112.5h0M58.8 72.5h0M66.3 69.9h0M52.9 72.7h0M61.6 116.3h0M51.4 93h0M74.7 73.6h0M71.8 71.1h0M63.1 115h0M74.9 111.1h0M55.9 76.5h0M75.2 105.9h0M77.9 101.6h0M40.8 77.8h0M75.4 107.7h0M65.2 111.5h0M74 70.8h0M61.1 62.9h0M70.8 112.2h0M62.3 66.1h0M69.4 115.5h0M81.6 78.8h0M67.1 69.8h0M79.1 108.6h0M52.4 52.8h0M75.8 104.4h0M78.7 89h0M75.3 57h0M74.8 107h0M77.8 70.2h0M55.6 77.1h0M80.4 76.3h0M64.3 68.4h0M53.6 86.9h0M68.4 64.1h0M81.7 71.4h0M55.3 81.1h0M78 69.9h0M63.2 70h0M78.8 93.1h0M58 109.1h0M73.5 120.2h0M78.5 86.7h0M64.6 64.3h0M55 86.7h0M47.7 82.7h0M82.6 93.6h0M55.8 83.3h0M54.7 56.3h0M78 109.9h0M63.3 110.6h0M85 106.7h0M72.2 113.7h0M54.6 108.4h0M77.4 76h0M54.5 89.4h0M61.4 70.9h0M65.1 111.9h0M76.1 78.2h0M59 67.2h0M78.8 93.8h0M60.3 111h0M58.7 113h0M65.9 64.2h0M55 92.5h0M76.2 106.2h0M78.2 84.3h0M55.3 74.1h0M60.5 50h0M54.3 99.2h0M73.9 66.6h0M58.4 104.1h0M73.3 68.5h0M55.1 75.1h0M70.2 112.6h0M62.1 119.7h0M55 83.7h0M61.7 111.6h0M38.3 98.1h0M68.6 66h0M56.7 74.3h0M61 108.9h0M76.6 77.6h0M60.1 71h0M66.6 63.9h0M58.1 108.1h0M51.4 92.5h0M57 111.7h0M78.9 84.8h0M81.7 79.3h0M60.2 109.5h0M65.4 69h0M61.1 110.1h0M55.4 84.9h0M60.3 108.6h0M60.6 115h0M55.9 99.9h0M78.6 83.1h0M55.4 80.3h0M61.6 116.2h0M69.1 64.5h0M56.5 102.2h0M65.9 66.9h0M75.5 105.8h0M69.1 63.4h0M53.7 73.3h0M72.4 111.9h0M58.7 73.9h0M70.4 113.9h0M53.9 96.1h0M55.8 79.8h0M62.3 71.1h0M65.7 110.8h0M74 114.5h0M54.2 89.6h0M68 116.5h0M55.3 102.2h0M61.7 113.8h0M65.6 111.4h0M53.1 71.2h0M74.4 71.5h0M60.9 70.4h0M53.8 85.5h0M55.7 74.3h0M57.6 67.5h0M42.6 25.5h0M52 37.5h0M42.5 43.1h0M43.3 56.4h0M45.2 63.3h0M43.7 66h0M58.5 71.8h0M42.8 56.9h0M54.9 78.1h0M58.9 77.7h0M41.4 54.9h0M57.2 68h0M53.5 82.8h0M41.1 49.4h0M49.5 37.8h0M46.3 79.3h0M32.5 43.4h0M47.1 70h0M43.7 52.8h0M52 40.3h0M49.5 35h0M42.9 38.9h0M46 31.2h0M44 59.6h0M45.1 38.7h0M56.8 71.6h0M38.4 60.4h0M55.5 87.1h0M47.7 38.3h0M49.3 79.8h0M47.4 74.6h0M54.2 79.6h0M57.7 61.1h0M55.3 57.7h0M43.3 64.5h0M42.7 64.1h0M60.9 75.9h0M53.5 80.8h0M33.2 72.9h0M37.1 60.6h0M42.8 63.5h0M55.6 84.3h0M56.3 58.1h0M43.6 64.7h0M43.2 48.2h0M59.1 95.5h0M49.4 42.4h0M46.1 70.1h0M43.5 70.2h0M50.9 42.9h0M50.7 44.8h0M52.5 85.3h0M44.2 36.2h0M49.3 43.6h0M45 39.9h0M55.2 92.9h0M56.8 78.4h0M53.2 50.4h0M54.5 42.8h0M54.5 43.5h0M55.3 90.7h0M53.1 79.9h0M51.5 89.7h0M44.7 58.8h0M76.4 64.5h0M46.3 42.2h0M38.4 60.9h0M46.2 42.7h0M43.5 48.2h0M51.7 40.4h0M60.7 66h0M50.8 43.6h0M58.9 93.1h0M43.5 41.9h0M43.6 58.4h0M49.8 39.3h0M41.8 50.5h0M55.5 89.4h0M44.5 60.4h0M38.8 33.1h0M57.8 65.7h0M42.8 63.8h0M46.8 68.9h0M55.9 94h0M57 67.2h0M53 48.3h0M44 68.3h0M57.3 57.5h0M53.3 49.2h0M47.5 79.6h0M50.3 35.3h0M58 60.1h0M43.3 51h0M42.4 53.3h0M52.4 46.8h0"/>
<path fill="#8da0cb" d="M96.6 31.2L97.7 35L96.4 38.5L95.3 41.9L94.1 45.4L92.1 48.1L89.3 49.5L86.9 51.1L84.7 54.4L81.6 53.9L78.7 54.8L76.1 52.2L73.4 51.5L71.4 48.9L67.9 48.7L65.5 46.2L64.4 42.4L64 38.5L64.9 34.6L64.1 31.2L64.1 27.7L63.5 23.7L65.6 20.8L66.9 17.6L68.8 15L71.2 13.1L73.6 11.4L75.9 8.7L78.8 9.5L81.7 8.3L84.3 9.9L87.5 9.5L89.9 11.9L91.8 14.8L93.9 17.2L95 20.7L96.8 23.7L96.2 27.7ZM132.9 32.8L131.6 34.7L130.7 36.6L128.4 38.2L125.2 39.2L121.6 39.7L117.2 38.9L113.3 38.6L109.3 37.6L105 36.8L101.5 34.9L99.4 32.6L98 30.3L96.5 28.2L95.6 26L94.8 23.6L96.8 21.8L99.8 20.7L102.8 19.9L105.4 18.5L108.9 17.7L113.1 17.3L117.5 19.1L121 21L124.5 22.4L127.7 24.2L130.6 26.2L132.7 28.4L132.7 30.6Z"/>
<path fill="none" stroke="#8da0cb" stroke-width="2.2" stroke-linecap="round" d="M71.2 9.9h0M96.8 29.6h0M63.9 23.6h0M72.5 7.2h0M83.4 8.6h0M73.9 10.9h0M63.5 47.5h0M96.5 35.1h0M65.8 43.4h0M71.8 10.6h0M88.5 51.1h0M72.2 51h0M73.1 53h0M100.7 41.9h0M100 43.6h0M55.8 33.7h0M92.7 13.9h0M63.2 38.2h0M92.3 47.4h0M98.1 49.2h0M84.6 9.5h0M94 43.7h0M97.3 47h0M72.9 50.7h0M76.4 5.5h0M99 12.4h0M78.4 53h0M98.4 25.2h0M90.1 10.3h0M63.5 20.6h0M67 13.8h0M68.3 62.5h0M66.4 48.6h0M84.4 52.8h0M101.6 32.5h0M98.7 20h0M95.6 45.1h0M88.6 9.7h0M84.4 9.3h0M98 33.6h0M70.7 7.7h0M77.6 53.8h0M77.1 7.8h0M61.1 29.5h0M96 18h0M82 8.2h0M88.7 7.6h0M66.6 17.3h0M96.5 46.4h0M90.2 52.9h0M96.7 36.5h0M77.4 57.1h0M76.9 52.9h0M78.1 58h0M61.1 28.5h0M81.2 8.3h0M75.7 7.3h0M88.3 50.6h0M69.4 48.1h0M70.5 50.8h0M66.2 15.5h0M75 55.5h0M65.6 45.1h0M69.7 13.8h0M96.2 13.1h0M70 51h0M63.4 37.1h0M64.6 48.2h0M83.5 7.9h0M93.6 15.5h0M96.2 22h0M71.7 50.8h0M87.7 53.8h0M86.4 52h0M61.3 16.6h0M74.5 5.5h0M89.3 7.6h0M65.5 43.9h0M97.5 21.9h0M60.9 22.3h0M68.4 15.6h0M76.9 53.1h0M61.7 23h0M96.3 -0.3h0M97.3 34.9h0M63 22.9h0M92.4 15.2h0M63.7 35.3h0M60.7 30h0M94 45.9h0M94.3 53.5h0M89.7 10.2h0M62.9 30.4h0M94.2 17.8h0M81.3 8.3h0M69.4 48.7h0M83.6 3.4h0M81.9 4.6h0M68 14h0M97.6 27.1h0M101.4 24h0M92.4 56.3h0M60.7 34.7h0M102.2 23h0M97.1 35.4h0M68.4 12.9h0M78.1 7.6h0M59.9 30.4h0M64.9 41.4h0M64.8 20.1h0M65.8 5.8h0M81.4 5.9h0M94.2 50.1h0M72.9 55.5h0M91.8 50h0M82.7 56.4h0M97.6 44.5h0M95.2 51.7h0M62.2 22.7h0M99.4 58h0M76 52.3h0M86.7 66.7h0M65.6 18.4h0M63.1 45.8h0M61.5 31.1h0M62.2 22.3h0M94.9 17.7h0M63.5 13.4h0M65.8 15.6h0M62.6 38.3h0M94.6 11.8h0M97.8 37.5h0M64.3 43.1h0M85.3 54.4h0M97.9 36.9h0M105.4 34.2h0M97.4 23.5h0M97.7 33.2h0M75.9 9.1h0M72.3 7h0M60.1 31.5h0M85.9 61.7h0M97.8 32.8h0M68.6 48.8h0M61.6 28.4h0M92.7 17h0M66.5 48.7h0M59 32.3h0M77.2 9.3h0M99.4 15.7h0M95.1 19.4h0M81.2 55h0M65.2 49.8h0M73.7 52.6h0M64.5 24.3h0M101.7 37.6h0M116.8 39.4h0M143.2 33.7h0M115.9 40.7h0M124.6 17.3h0M123.3 41.1h0M126.3 19.2h0M98.8 16.3h0M109.6 40.9h0M111.2 15.8h0M107.9 15.2h0M95.2 13.3h0M103.3 18.3h0M89.6 21.5h0M129 19.1h0M93.2 18.9h0M73.9 16.5h0M121 39.6h0M115.7 44.8h0M137.2 33.5h0M139.3 40.4h0M130.7 38.2h0M115.3 17.9h0M95 30.6h0M142.3 35.1h0M128.4 23.9h0M89.2 22h0M133.5 22h0M137.9 21.2h0M122.3 20.9h0M135.2 29.7h0M134.7 32.7h0M77.2 25.6h0M116.7 42.2h0M121 16.8h0M115.4 42.8h0M116.6 18h0M115.6 18.6h0M94.4 24.9h0M94 28.4h0M109.1 38.6h0M105.5 36.5h0M140.8 20h0M150.9 31.7h0M142.7 37.8h0M133.7 16.9h0M130.9 21.9h0M134.5 25.9h0M127.3 21.1h0M103.4 19.1h0M130.3 22.4h0M97.7 21.4h0M136.3 29.5h0M118.3 13.8h0M129.6 25h0M109.5 17.7h0M111.1 17h0M104.7 39.9h0M100.4 19.6h0M95 14.2h0M100.4 35h0M130.9 10.8h0M96.3 32.3h0M132.3 45.3h0M147.8 27.5h0M105.2 37.6h0M132.7 25.9h0M129.2 38.9h0M98.9 18.7h0M127.8 20.1h0M132.4 29h0M121 16.5h0M134.6 22h0M93.8 24.4h0M96.1 23.5h0M134.2 24.7h0M123.6 41.7h0M93.8 32.9h0M89 27.5h0M106.5 13.4h0M124.1 42.5h0M111.5 40.3h0M109.4 39.4h0M129.6 41.8h0M95 25.5h0M135.8 39.6h0M141.6 36.5h0M139.1 37.8h0M137.9 36.8h0M96.1 22.8h0M95.3 25.8h0M127 21.9h0M110.1 38.3h0M135 38.6h0M119.1 15.2h0M115.4 18.9h0M129.7 21.8h0M116.7 39.4h0M130.7 37.5h0M109.4 15.4h0M94.7 23h0M92.5 21.5h0M98.3 19.5h0M134.1 35.1h0M125.4 42.2h0M139.9 48.6h0M96.5 33h0M140.4 35.5h0M112.3 40.7h0M134.2 37.3h0M109.3 38.8h0M137 32.9h0M130 40.7h0M121.2 43.7h0M120.5 39.3h0M105 17.1h0M93.3 27.1h0M110.3 40.2h0M91.3 24.8h0M100.1 18.3h0"/>
<path fill="#66c2a5" d="M159.6 25.9L158.1 29L157.3 32.1L155.7 35L153.6 37.7L149.9 37.7L147 38.5L143.8 39.2L140.8 38.1L138.2 36.4L135.7 34.6L132.3 32.8L131.2 29.4L131.5 25.9L133.1 22.9L133.5 19.7L135.4 17L137.5 14.3L140.9 14L143.9 12.9L146.9 14.3L149.8 14.5L152.9 15.1L155.7 16.8L158.5 19.1L160.4 22.2Z"/>
<path fill="none" stroke="#66c2a5" stroke-width="2.2" stroke-linecap="round" d="M133.1 34.3h0M131.7 15.3h0M158.8 28.7h0M133.3 20.7h0M157.1 42.1h0M158.9 17.3h0M152.6 37.7h0M154.9 35.5h0M132.1 30.2h0M140.8 41.1h0M134.2 32.8h0M148.2 10.1h0M133.2 35.8h0M153.8 12.2h0M157.1 19.2h0M130.9 29.8h0M159.9 31h0M159.8 17.4h0M155.9 15.5h0M156.1 33.8h0M158.2 14.9h0M161 20.9h0M159 15.1h0M138 37.7h0M134 40.9h0M159.3 31.1h0M151.6 13.2h0M131.7 3.2h0M156.3 12.3h0M135 17.6h0M156.5 17.5h0M153.2 11.8h0M134.5 33.4h0M138.5 42.1h0M141.2 39.6h0M142.6 41.7h0M158.1 20.4h0M133.4 20h0M142.3 8.3h0M137 37.1h0M156.5 38.7h0M157.9 35.3h0M140 38.9h0M143.9 12.1h0M131.9 19.2h0M165.8 10.7h0M137.4 37.6h0M140.6 11h0M126 26.3h0M139.8 12.3h0M159.7 23.5h0M133 20h0M159.4 31.9h0M134.7 16.9h0M140.8 9.8h0M128.1 31.1h0M157.7 13.1h0M152.2 13.1h0M158.3 19.7h0M152.5 13h0M157.3 12h0M145 40.4h0M150.6 41h0M163.6 31h0M133.6 17.3h0M130.2 27h0M142 44.7h0M157.7 32h0M138.2 10.9h0M156.6 16.7h0M159.7 24.9h0M140.9 40.6h0M153.7 36.8h0M147.4 6.4h0M159.5 15.8h0M141.3 40.7h0M155.7 37.7h0M139 11.3h0M157.8 33.3h0M157.9 19.4h0M132.6 16h0M137.2 42.7h0M159.2 30.4h0M155 15.1h0M131.2 26.8h0M137.9 11.9h0M131.5 33.7h0M148.2 6.8h0M155.8 3.1h0M136.5 39.2h0M133.3 33.2h0M158.8 18.7h0M158.1 17.7h0M131.6 30h0M137.4 15h0M143.5 44.6h0M135.5 15.4h0M139 13.4h0M148.1 41.9h0M153.3 10.3h0M128.8 30.6h0M141.5 38.4h0M158 18.9h0M154.9 36.2h0M160.1 30.8h0M161.4 24.6h0M156.9 35.8h0"/>
<path fill="#fc8d62" d="M129.4 57.1L128.1 60.2L127.2 63.2L127 66.5L126.7 70.2L124.5 72.8L122.6 75.9L119.6 77.5L116.9 79.9L113.4 80.2L110.2 82.6L106.8 79.9L103.9 77.9L100.8 77.6L98 76L95.8 73.8L94 71.2L92 68.9L91.1 65.9L88.2 63.7L87.8 60.4L86.2 57.1L88.2 53.9L88.9 50.7L90 47.7L92.1 45.4L92.5 41.4L94.7 38.9L97.2 36.5L100.2 34.9L103.7 35.3L106.8 34.5L110 35.3L113.2 35.1L117 34.1L119.4 37L122.4 38.5L123.5 42.4L123.6 46.2L125 48.6L126.9 51.1L127.2 54.1Z"/>
<path fill="none" stroke="#fc8d62" stroke-width="2.2" stroke-linecap="round" d="M91.2 70.3h0M132.2 57h0M111.4 33.1h0M129.8 71h0M130.1 60.9h0M122.6 77.9h0M123.1 72.4h0M112.8 32.6h0M105.8 33.4h0M118.9 83.7h0M94 39.9h0M126.8 46.9h0M96.6 79.4h0M81.5 71.9h0M86.9 58.8h0M92 38.7h0M119.5 80.6h0M106.5 35.3h0M122.3 38.8h0M93.5 75.4h0M126 39.7h0M116.4 81h0M124.7 39.1h0M114.5 31.6h0M127.7 66.6h0M129.6 55.6h0M98.2 32.9h0M103.2 81.2h0M110.4 79.1h0M109.5 34.2h0M89.8 44.9h0M103.5 80.4h0M130.5 66.6h0M129.2 43.7h0M91.7 41.5h0M92.9 73h0M83.8 65.9h0M121.6 38.2h0M125.2 71.6h0M123.5 40.7h0M107.5 80.8h0M107.7 79.9h0M93 73.8h0M92.9 42.3h0M92.5 43.2h0M125.7 36h0M128.6 65.5h0M91.5 43.7h0M92.2 81.2h0M95.3 75.8h0M118 35.2h0M107.9 80h0M113.9 34.7h0M123.4 40h0M137.2 71.4h0M96.8 31.5h0M94.2 75.5h0M95.4 38.5h0M124.3 39.4h0M85.6 66.2h0M98.3 23h0M86.6 45.3h0M129.7 50.2h0M87.9 62h0M122.6 40.5h0M87.4 55.4h0M114 81.7h0M102.1 33.3h0M114.2 79.2h0M124.8 40.3h0M116 33.9h0M104.1 29h0M103.9 35.8h0M129.7 49.7h0M134.8 59.6h0M129.4 51.8h0M89.1 44.5h0M121.9 77.2h0M88 53.4h0M101.1 78.2h0M114.6 79.7h0M93.8 39.4h0M128.1 48.3h0M100.5 34.4h0M120.6 26.1h0M132.3 56.5h0M99.9 78.6h0M121.8 35.1h0M108.5 83.7h0M132 33.3h0M118.4 33.3h0M93.7 39.9h0M74 57.1h0M91.9 76.7h0M90.7 39.2h0M86.8 55.8h0M121.3 74.4h0M102.3 78.4h0M118.7 38.1h0M125.8 71.3h0M82.1 48.7h0M130.5 64.8h0M124.6 41.4h0M113 35h0M104.9 80.9h0M86.8 65.5h0M119 78.2h0M131.1 55.5h0M85.5 49.5h0M77.5 38.7h0M132.5 59.4h0M107.7 80h0M93.9 40.5h0M125.8 44.5h0M88.5 67.6h0M100.2 36h0M128.8 52.5h0M126.5 71.8h0M117.7 85.4h0M97.9 35.9h0M103 35h0M96.5 29.6h0M116.9 78.5h0M100.1 81.9h0M101.5 35.7h0M129.4 57.9h0M99.5 77.4h0M102.2 35h0M88.4 47.5h0M128.1 43.4h0M86.6 68.9h0M103 35.7h0M136.3 46.8h0M129.4 57.5h0M90.7 42h0M132.4 84.3h0M94.4 80h0M95.6 81.6h0M88.1 51.5h0M119.7 30h0M130.9 51h0M90.9 71.8h0M118.1 80.8h0M128.3 44h0M126.7 67.2h0M92.4 42.1h0M95.8 37.6h0M131.2 54h0M102.5 33.9h0M133.3 64h0M114.3 88.2h0M130.2 48.9h0M114.3 34.2h0M87.3 48.5h0M94.1 74.2h0M125.4 72.3h0M112 35.5h0M133.5 57.2h0M109.9 85.1h0M126.7 77.8h0M84.9 58.4h0M128.7 51h0M123.8 74.2h0M94.8 37.1h0M96.6 32.7h0M120.1 77.3h0M87 58.9h0M123.9 36.5h0M116.6 33.1h0M127.3 45.6h0M138.3 70.5h0M131.6 54.7h0"/>
<path fill="#66c2a5" d="M85 57.1L84.8 59.9L84.6 63L83 65.7L80.4 67.7L77.2 68.8L74.2 70.2L70.8 70.3L67.6 69.7L64.6 68.5L61 67.9L58.2 65.9L56.3 63.2L55.7 60.1L54.6 57.1L56.4 54.2L56.9 51.1L58.3 48.3L60.8 46L63.8 44.2L67.7 45L70.8 45.5L74.2 43.8L77.7 44.3L80.9 45.8L82.9 48.5L84.6 51.2L84.7 54.3Z"/>
<path fill="none" stroke="#66c2a5" stroke-width="2.2" stroke-linecap="round" d="M51.6 52h0M84.3 47.5h0M62.2 71.4h0M86.4 60.3h0M84.5 46.9h0M74.9 42.7h0M89.7 60.5h0M58.5 66.7h0M61.1 45.9h0M53.7 53.9h0M86.5 66.6h0M66.3 43.6h0M62.3 41.7h0M83.8 67.4h0M52.9 52.3h0M80.2 68.5h0M80.2 45.8h0M88.5 60.7h0M51.8 65.6h0M73.2 71.8h0M50.1 53.4h0M55.5 60.2h0M86.9 48h0M82.3 69.2h0M85.3 52.8h0M60.3 41.4h0M85.2 50.3h0M57.9 35.4h0M65.5 70.2h0M82 48.4h0M59.2 47.6h0M89 71.7h0M86.5 66.3h0M59.8 67.7h0M77.6 43.6h0M90.3 55.5h0M50.1 51h0M66.9 72.8h0M85.7 60.6h0M63.7 82.8h0M79.8 71.3h0M60.6 67.2h0M56.5 49.3h0M54.4 54.9h0M86.6 62h0M56.4 52h0M56.7 47.9h0M80.7 42.3h0M55.2 58.1h0M86.1 44.5h0M55.4 66.2h0M101.2 39.5h0M53.5 61.9h0M80.6 45.4h0M61.9 69.1h0M71.4 43.3h0M53.9 41.9h0M70.4 43.4h0M69 72.2h0M86.4 52.9h0M58.8 66h0M63.8 43h0M50.1 66h0M86.2 63.1h0M87.2 56.4h0M51.9 55.9h0M70.8 72.8h0M62.6 68.6h0M80.1 68h0M82.4 47.1h0M60.8 44.3h0M87.4 59.5h0M64.2 72.5h0M47.9 33h0M86.9 61.1h0M58.4 47.6h0M55 62.2h0M78.1 71.2h0M75.1 43.1h0M53.2 61.8h0M88 58.9h0M66.3 71.7h0M78.4 68.5h0M81.9 46.4h0M81.9 47.5h0M89.3 56.3h0M65.9 42.9h0M90.7 62.2h0M55.3 69.2h0M86.6 61.2h0M85.8 53.1h0M64.7 70.8h0M63.9 70.8h0M52.6 54.3h0M91.8 45.8h0M78.5 70.8h0M85.3 53h0M54.6 64.5h0M59.4 44.7h0M82.8 47.2h0M77.7 45.3h0M78.2 70.4h0M88.6 67.9h0M87.1 66h0M92.3 53.8h0M66.5 42.7h0M52.8 58.8h0M94.7 56h0M72.5 71.3h0M85.2 45.3h0M63.4 43.3h0M90 60.2h0M52.6 51.9h0M61.5 43h0"/>
<path fill="#8da0cb" d="M93.1 99.4L92.1 102.6L92.6 106.6L91 109.8L88.9 112.5L86.2 114L83.3 114.8L80.3 114.9L77.6 113.2L75.7 110.3L74.3 107.3L72.9 104.4L71.4 101.2L70.7 97.4L71.4 93.6L73.2 90.5L75.5 88.2L77.6 85.5L80.4 84.8L83.3 84.5L85.9 85.8L88.4 87.3L91 88.9L92.9 91.9L93.7 95.6Z"/>
<path fill="none" stroke="#8da0cb" stroke-width="2.2" stroke-linecap="round" d="M75.2 118.8h0M72.8 90.4h0M90.2 88.9h0M88.5 82.8h0M85.7 82.6h0M92.8 93.3h0M80.9 122.3h0M86.9 81.5h0M96.5 102.4h0M94.1 97.4h0M80 122.2h0M91.4 115.2h0M83.7 128.6h0M76.1 115.1h0M69.4 104.9h0M95.6 104.9h0M85.3 113.4h0M91.7 107.8h0M91.8 114.7h0M84.5 113.6h0M87 84.7h0M79.6 115.4h0M86 113.5h0M79.5 83.2h0M78.4 116.6h0M83 80.9h0M83.1 79.1h0M95.6 101.6h0M71.7 85.2h0M84.8 85.2h0M83.1 81.5h0M91.9 90.3h0M92.7 105.6h0M89.7 87.1h0M94.2 86.5h0M72 107.8h0M93.2 91.3h0M72.5 106.8h0M72.5 108.5h0M84.8 84h0M95.9 109.8h0M77.6 81.3h0M91.5 107.7h0M54.8 96.7h0M87.6 84h0M80.6 81.3h0M89 114.5h0M95.6 103.7h0M68.6 96.1h0M95.9 96.3h0M101 108.2h0M73.6 112.3h0M88.1 113.1h0M93.9 101.4h0M88.4 116.3h0M82.6 81.9h0M90.2 111.7h0M71.1 98.5h0M95.2 99.9h0M71.1 101.1h0M87.8 81.8h0M84.2 84h0M78.2 113.8h0M73.6 109.9h0M87.2 116.2h0M72 94.8h0M70.9 107.7h0M92.3 107.2h0M94 94.3h0M71.6 93.3h0M78.9 113.3h0M85.7 115.3h0M86.6 85.8h0M69.4 94.3h0M97.5 101.3h0M96.1 98.1h0M73.3 106.8h0M97.1 109.1h0M76.9 112.2h0M74.3 88.6h0M93.5 94.9h0M84.7 113.7h0M71.6 86.6h0M90.2 113.1h0M91.2 109.5h0M90 84.6h0M75.9 86h0M76.7 116.4h0M85.1 114.8h0M78.6 119.6h0M97.9 100.8h0M93.7 92.9h0M71.1 99.3h0M82.1 80.9h0M96 110h0M71.5 97.4h0M96.1 99.4h0M71.6 110.1h0M95.3 98.3h0M82.7 114.2h0M105.7 88.2h0M96.5 95.6h0"/>
<path fill="#66c2a5" d="M112 93.5L112.2 97.1L110 99.9L109.5 103.5L108 106.9L105.4 109.3L102.1 110.2L98.7 108.9L95.8 109.3L92.9 108.4L90.5 106.6L87.4 105.7L85.5 103L83.5 100.4L81.9 97.2L83 93.5L82.5 90L84.3 87.1L85.5 83.9L87.9 81.9L89.7 78.9L92.8 78.2L95.7 76.8L98.9 76.2L101.7 78.2L104.9 78.7L107.3 81L109.6 83.5L109.8 87.3L111.3 90.2Z"/>
<path fill="none" stroke="#66c2a5" stroke-width="2.2" stroke-linecap="round" d="M83.7 107.9h0M107.3 82.2h0M100.6 76.8h0M80.5 89.4h0M111.5 99.3h0M84.1 78.1h0M109.3 84.9h0M87.7 107.7h0M113 81.2h0M106.7 107.1h0M94.3 109.5h0M108.7 77.7h0M91.6 112.6h0M105.5 71.4h0M104.5 77.7h0M88.1 79.8h0M111.1 84.5h0M101.3 75.3h0M91.6 113h0M114.8 88.4h0M88.7 80.5h0M84.1 84.2h0M110.7 100.2h0M113.5 97.9h0M112.8 92.5h0M112.1 98h0M110.2 102.8h0M85.4 82h0M83.4 101.1h0M110.9 100.3h0M79.5 96.1h0M114.5 89.5h0M113.3 107.2h0M82.2 91h0M81.7 88.9h0M90.8 109.6h0M89.5 109.3h0M111.4 84.2h0M82.9 84.8h0M114.5 98.5h0M107.9 82.4h0M111.9 88.8h0M89.3 108.5h0M100.3 69.6h0M95 73.4h0M106.5 109.3h0M109.2 84.4h0M119.3 82.9h0M106.1 109.8h0M96 111.3h0M81.8 94.3h0M113.8 92.7h0M103.9 108.9h0M83.5 102.4h0M86.2 104.8h0M113 90.1h0M113.3 93.8h0M107 79.7h0M81.3 96.4h0M110.1 85.2h0M93.8 75.6h0M112.9 86.1h0M97.9 77.4h0M98.7 110.7h0M105.6 112.8h0M97.6 77.2h0M98.6 77.6h0M112.6 101.1h0M105.6 77.2h0M101.9 76.2h0M85.8 103.3h0M104.3 111.2h0M113 87.4h0M101.8 110.7h0M110.9 101.5h0M83.5 99.9h0M104.3 78.6h0M105.3 109.7h0M87.5 78.5h0M83.8 99.5h0M82.4 89.3h0M96.8 110.4h0M84.7 83.4h0M110.8 100.1h0M112.9 100.1h0M106.5 107.3h0M88.9 77.9h0M99.3 111h0M98.4 110.1h0M102.5 74h0M79.5 98.8h0M97.5 75.1h0M87.6 79.1h0M94.2 109.8h0M119.8 104.2h0M102.8 75.1h0M111.5 96.7h0M112.9 93.6h0M87.5 107h0M110.7 106h0M78.6 89.7h0M82.5 83.6h0M82.6 85.2h0M80.4 93.2h0M103.1 54.9h0M89.5 110.5h0M108.1 78.9h0M76.4 103.3h0M85.3 83.1h0M81.3 86.2h0M92.6 75.6h0M83.1 91.4h0M128.8 88.5h0M87.7 111.1h0M86.9 77.1h0M100.6 76.9h0M93.6 110.2h0M119.9 90h0M88.3 78.1h0M89.7 78.1h0M81.5 94.1h0M102.8 77.6h0M95.3 111.7h0"/>
<path fill="#8da0cb" d="M168.7 70.6L167.6 73.9L165.4 76.4L164.8 80L162.3 82.2L159 83.1L155.9 83.8L152.7 83.9L149.4 83.4L146.3 82.1L144.1 79.6L142.2 76.9L140.6 74L141 70.6L141.9 67.5L143.1 64.7L144.2 61.7L146.3 59.1L149.1 56.9L152.6 56.8L155.8 57.9L158.9 58.5L162.5 58.6L164.6 61.4L166.2 64.4L167.5 67.3Z"/>
<path fill="none" stroke="#8da0cb" stroke-width="2.2" stroke-linecap="round" d="M140.9 81.4h0M157.4 56h0M169.4 73.5h0M157.1 83.7h0M152.5 55.7h0M136.2 66.6h0M155.5 57h0M168.6 72.5h0M146.1 82.8h0M144.7 80h0M148 55.6h0M167.5 62h0M139.5 64.4h0M167.1 76h0M162.9 81h0M141.7 64.5h0M158.7 45h0M138 66.2h0M156.1 56.3h0M145.8 57.3h0M148.2 85.1h0M153.8 54.6h0M146 84.4h0M139 77.4h0M167.8 64.1h0M138 84.3h0M170.8 74.2h0M168 72.8h0M153.7 84.6h0M166.3 62.4h0M155.4 83.9h0M145.4 59.8h0M152.7 55.4h0M162.6 81.2h0M138 60h0M165.9 63.1h0M175 67.3h0M138.2 69.7h0M140.1 57.7h0M148.9 86.8h0M158.6 58.2h0M140.1 70.1h0M147.1 57.6h0M171.6 78.7h0M138.9 62.6h0M144.3 58.1h0M131.5 64.5h0M165.4 79.6h0M137.3 86.8h0M139.9 61.7h0M160.3 57.7h0M125.5 72.1h0M153.1 88h0M139.4 72.7h0M140.2 77.5h0M169.8 79h0M147.7 50.8h0M143.5 61.4h0M139.3 77h0M159.5 48.1h0M140.6 76h0M143.9 61.7h0M169.9 67.5h0M166.8 63h0M147.5 58.3h0M168.3 75.8h0M144.9 58.9h0M162.4 81.2h0M158.7 57.6h0M142.1 80.6h0M168.6 76h0M164.9 60.5h0M140.6 70.2h0M139 66.8h0M140.8 73.5h0M167.2 74.2h0M157.7 84.2h0M168.5 73.8h0M172.4 63.6h0M157 55.2h0M168.6 77.3h0M158.9 90.2h0M157.6 85.9h0M145 57.4h0M171.7 81.5h0M161.6 56.5h0M140.9 75.9h0M156.4 83.6h0M166.2 61.5h0M144 84.1h0M160.5 89.3h0M146.1 81.6h0M162.9 57.3h0M166.1 58.5h0M139.9 68.9h0M146.5 57h0M153.7 56.9h0M145.6 82.3h0M141.3 79h0M164.4 82.4h0M166.7 65.9h0M162.4 83h0M163.8 58.7h0M168 64.2h0M160.4 84.5h0M151.4 55.8h0M138.4 72.3h0"/>
<path fill="#66c2a5" d="M161.7 49.4L161.3 52.8L159.4 55.4L157 57.1L154.3 58.1L151.3 57.6L148.8 55.7L147.2 52.8L147.1 49.4L147.2 46.1L148.6 42.9L151.2 40.9L154.3 40.6L157.3 40.9L159.3 43.6L161.3 46.1Z"/>
<path fill="none" stroke="#66c2a5" stroke-width="2.2" stroke-linecap="round" d="M147 52.2h0M149.8 42.5h0M159.3 61.6h0M141.8 45.2h0M147.4 40.5h0M147.5 56.4h0M154.5 59.4h0M161.7 60.1h0M162 50.6h0M149.7 58.3h0M160.5 43.6h0M141.9 48.7h0M151.7 59.4h0M162.7 52.6h0M147.4 43.6h0M155.7 40.5h0M142.6 56.9h0M142.2 54.5h0M163.1 57.7h0M151.8 39.3h0M143.9 46.6h0M146.7 58.6h0M157 61.6h0M154.4 40.8h0M161.3 42.4h0M157.9 59.8h0M148.8 42.9h0M164 50.6h0M139.7 44.1h0M143.8 44.8h0M161.2 56.5h0M148.4 42.8h0M155.2 40.8h0M160.2 55.3h0M147.8 42.6h0M161.6 41.2h0M150.5 38.5h0M158.4 59.7h0M159.8 57.7h0M159.6 57.2h0M160.4 41h0M154.8 58.6h0M160.9 55.2h0M157.5 59.8h0M147.1 40.7h0M160.7 44.5h0M144.7 46.1h0M162.3 51.2h0M143.9 46.1h0M158.4 63.5h0M151.6 58h0M145.2 47.1h0M162.2 57.9h0M160.4 43.1h0M154.6 60.2h0M146.8 55.5h0M158.7 60.2h0M141.5 51.6h0M155.2 40.9h0M144.2 56.9h0M162.5 42.7h0M160.8 37h0M158.7 36.8h0M158.9 62.3h0M152.4 62.5h0"/>
<path fill="none" stroke="#66c2a5" stroke-width="2" stroke-linecap="round" d="M-111.7 -122.5h0M-113.8 -111h0M-119.1 -99.5h0M-108.3 -99.5h0M-118 -93.2h0M-119 -96.8h0M-108.5 -114.2h0M-102.7 -113.2h0M-99.5 -106.7h0M-110.9 -92.5h0M-115.6 -98.5h0M-125.3 -116.6h0M-105.2 -118.7h0M-134.3 -91.8h0M-66.6 -60.3h0M-18.7 -73h0M-54.9 -70.9h0M-63.8 -62.5h0M-60.4 -67h0M-41.4 -90.1h0M-60.1 -72.1h0M-58.1 -69.2h0M-13.6 -69.5h0M-27.2 -82.5h0M-15.6 -61.6h0M-29.6 -72.4h0M-19.9 -73.6h0M-57.4 -68h0M-60.3 -58.8h0M-22.6 -60.4h0M-22.9 -61.6h0M-136.4 -0.2h0M-130.4 -18.8h0M-170.4 -12.8h0M-149.8 -23h0M-172.8 -10.7h0M-130.6 -16.7h0M-148.4 13.3h0M-161.1 -6.3h0M-163.4 -10.1h0M-143.9 0.9h0M-139.3 -18.9h0M-159.9 -7.4h0M-141.9 8.3h0M-165.1 53.7h0M-171.6 43h0M-165.8 63.7h0M-153.7 48.7h0M-165.1 53.6h0M-164.3 67.3h0M-160 70.2h0M-167.8 36.3h0M-122.5 89.3h0M-138.9 47.7h0M-122.6 48.1h0M-119.2 32.2h0M-112 49h0M-130.4 67.6h0M-127.8 69.1h0M-118.6 57.3h0M-134.8 81.7h0M-130.9 61.1h0M-121.6 76.3h0M-127.4 81h0M-139.2 82.4h0M-115.9 46.7h0M-114.8 76.6h0M-119.7 31.2h0M-138.8 49h0M-109.5 45.1h0M-105.2 38.1h0M-117 47.4h0M-111.3 30.8h0M-99.2 -13.6h0M-87.4 -9.1h0M-92.3 -16h0M-99.7 -8.3h0M-106.2 -19.1h0M-96.5 -16h0M-98.6 -16.8h0M-103.2 -12.9h0M-73.2 8.3h0M-73.1 -4.4h0M-67.7 -5h0M-79.4 4.2h0M-76.7 151.6h0M-83.9 156.8h0M-86.7 166.2h0M-73.3 151.8h0M-70.4 159.5h0M-92.5 172.8h0M-94 169.6h0M95.2 -66.5h0M65.9 -69.8h0M65.7 -63.1h0M70.4 -74.5h0M70.7 -82.2h0M63.6 -76.2h0M93.4 -70.5h0M65.8 -71h0M64.9 -67.9h0M75.6 -84.4h0M77.5 -62.8h0M71.6 -56.1h0M82.4 -63.5h0M84.4 -54.9h0M100.7 -94.9h0M103.5 -95h0M107.6 -80.2h0M115.7 -97h0M120.5 -74h0M62.6 -23.4h0M90.7 -47.2h0M73 -52.2h0M89.6 -56.1h0M66.3 -36.2h0M59 -48.7h0M89.1 -49.5h0M88.5 -51.8h0M58.9 -57.1h0M70 -39.8h0M61.1 -56.7h0M97.1 -6.5h0M147.4 -21.1h0M156.7 -26.9h0M138.7 -28.2h0M156.1 -38.1h0M154.5 -47.2h0M154.2 -42.3h0M144.2 -41.1h0M141.9 -23.6h0M70.5 108.2h0M70.5 102.1h0M56.7 90.4h0M63.9 80.4h0M76.6 86.8h0M66.2 82h0M47.3 53.4h0M76.8 38.2h0M67.3 38.3h0M70.3 40.2h0M72.5 22.6h0M78.2 34.9h0M70.6 44.5h0M93.9 40.6h0M70.2 19.8h0M82.6 13.3h0M98.8 32.1h0M127 29.8h0M113.7 25.3h0M101.7 51.1h0M100.1 46.3h0M115.5 44.7h0M124.2 42.3h0M98.1 42.4h0M100.6 46.1h0M102.1 64.2h0M111.3 43.5h0M109.8 74.9h0M88.7 98.2h0M78.7 89.8h0M78.5 110.2h0M83.9 92.3h0M88.6 95.9h0M157.6 77.6h0M159.3 58.3h0M140.9 68.8h0M152.5 58.6h0M164.4 67.6h0"/>
<path fill="none" stroke="#fc8d62" stroke-width="2" stroke-linecap="round" d="M-117.4 -120.9h0M-107 -90.4h0M-118.2 -90.9h0M-116.4 -121h0M-112.8 -84.6h0M-124.8 -114h0M-106.4 -94.9h0M-116.6 -112.8h0M-139.5 -91.5h0M-142.1 -86.9h0M-108.4 -108.7h0M-129.9 -95.2h0M-149 -107.2h0M-150.5 -129.1h0M-134.7 -112.2h0M-128.5 -110.4h0M-139.7 -103.6h0M-146.6 -131.5h0M-135.3 -147.1h0M-148.6 -119.5h0M-118.1 -120.6h0M-138.9 -96.7h0M-145.8 -117.6h0M-120.4 -134.3h0M-114.4 -132.3h0M-136.6 -145.5h0M-111.2 -134.7h0M-110 -130.5h0M-127.4 -92.2h0M-127.3 -98.1h0M-119.9 -119.9h0M-31.6 -52.6h0M-27.1 -49.4h0M-132.9 2.1h0M-153.8 10.7h0M-129.8 -0.6h0M-154.3 -32h0M-145.4 8.5h0M-136.5 -18.8h0M-131 -16.8h0M-142.8 -30h0M-153.2 -1.4h0M-157.6 -26.9h0M-153.9 -30.5h0M-144.9 -25.9h0M-158.8 -13.9h0M-131.3 -0.1h0M-145.3 3.8h0M-163.8 2.4h0M-135.7 -7.4h0M-138 -16.7h0M-138.8 -34.2h0M-130.9 -23.5h0M-135.7 -35.6h0M-172.5 63.9h0M-158.9 39.4h0M-153.5 63.2h0M-166.9 52.7h0M-163.1 56.4h0M-157.1 46.1h0M-158.1 72.6h0M-159 86.3h0M-154.2 63.2h0M-159.5 53.8h0M-158.7 81h0M-165.9 78h0M-147.5 65.1h0M-136.8 20.6h0M-138.5 31h0M-137.5 24.3h0M-139 32.2h0M-103.1 -3h0M-91.5 -18.9h0M-88.7 5.7h0M-98.1 -20.4h0M-94.7 -11.1h0M-85.2 -9.4h0M-108 20.8h0M-114.4 22.7h0M-104.3 8.5h0M-103.3 4.3h0M-88.3 19.8h0M-99 13.8h0M-113.7 25.6h0M-108.9 12.1h0M-104.4 30.6h0M-119.8 -1.2h0M-112.2 14.5h0M-123.8 1.7h0M-115.7 11.3h0M-88.7 169.9h0M-79.4 177.8h0M-73.5 178.8h0M-74.1 192.4h0M-85.1 195.1h0M-87.6 188.9h0M-90.6 185.4h0M-71.8 188.4h0M-83.9 179.1h0M-79.3 184h0M-96.5 172.9h0M58.9 -40h0M81.1 -59.6h0M65.8 -23.4h0M78.6 -18.9h0M72.2 -38h0M90.2 -36h0M71.1 -33.2h0M87.5 -56.8h0M79.6 -40.3h0M66.9 -18.5h0M67.6 -24.6h0M63.7 -39.5h0M64.6 -45h0M71.4 -20.7h0M89.3 -26.2h0M77.9 -59.6h0M93 -42.6h0M88.6 -42.9h0M80.5 -18.4h0M66.2 -55.1h0M95.5 -6.8h0M101.3 -9.5h0M96.8 -5.4h0M118.8 -35.5h0M82.8 -45.1h0M86.9 -54.8h0M112 -33.8h0M98.9 -44.8h0M118.3 -54.7h0M118.6 -42.2h0M107.8 -40.5h0M89.8 -42.6h0M112.7 -55.9h0M104 -59.3h0M94.1 -42.7h0M102.6 -61.6h0M147.4 -26.8h0M151.5 -39.4h0M153.4 -36.2h0M144.4 -46.6h0M155.3 -18.9h0M177.2 -17.1h0M181.5 -3.7h0M173.6 -7.2h0M177.7 -49.6h0M165 -43h0M170.3 -37.1h0M148.9 -11.3h0M189.2 -27.1h0M152.2 -39h0M190.2 -31.6h0M159.7 -33.9h0M171.8 -23.9h0M159.7 -39.9h0M166.1 -46.5h0M189.5 -30.1h0M183 -17.7h0M159.1 -37.3h0M108 10.4h0M115.3 -3.7h0M67.2 33.2h0M94.7 35.4h0M81.3 9.2h0M93.7 29.2h0M94.5 41.5h0M97 32.6h0M79.2 49.5h0M88.5 15.3h0M79.9 11.9h0M79.3 48.6h0M75.1 22h0M73.9 15.3h0M100.9 20.2h0M118.5 26.8h0M111.7 20.5h0M111.8 33.7h0M122 35.6h0M117 28.3h0M101.8 30.4h0M153.3 20.9h0M141.7 28h0M135.3 24.1h0M138.8 31h0M68.9 67h0M67.9 58.9h0M62.5 59.6h0M61.3 57.9h0M58.2 51.1h0M77.5 54.8h0M89.5 90.8h0M81.9 112.4h0M89.6 106.4h0M84.9 89.4h0M103.3 104.5h0M92.5 92h0M88 104.8h0M103.2 79.1h0M93.4 96.8h0M92.7 93.8h0M98.7 106.2h0M85.3 100.3h0M93.1 95.1h0M159.7 82.5h0M159.8 73h0M150.3 80.3h0M166.2 70.1h0M145.9 78.4h0M151.4 49.9h0M156.1 45.7h0"/>
<path fill="none" stroke="#8da0cb" stroke-width="2" stroke-linecap="round" d="M-138.7 -119.7h0M-106.5 -114.5h0M-144.9 -144.5h0M-120.6 -126h0M-150.5 -117.2h0M-136 -112.1h0M-137.1 -129.5h0M-132.1 -149.4h0M-134.8 -113h0M-134.7 -105h0M-128.7 -92.6h0M-129.9 -131.1h0M-126.2 -138.4h0M-119.8 -108.9h0M-123.5 -106.1h0M-116.8 -128.2h0M-113.5 -106.2h0M-136.3 -108.1h0M-140.7 -142.2h0M-120.2 -118.3h0M-113.8 -108.3h0M-122.6 -146.7h0M-121.5 -73h0M-123.2 -74.8h0M-40.9 -90.4h0M-48.9 -60.1h0M-46.5 -60.2h0M-23.5 -73.9h0M-61.2 -80.2h0M-37.6 -67.9h0M-36.5 -86.1h0M-26 -53.5h0M-65.7 -84.7h0M-46.2 -52.2h0M-55.5 -52.6h0M-55 -55.3h0M-68.1 -80.3h0M-46.2 -70.2h0M-42.8 -50.6h0M-57.1 -69.5h0M-43.7 -79.8h0M-19.4 -55.5h0M-56.7 -87.5h0M-24.5 -78.2h0M-42.3 -56.5h0M-19.7 -66.1h0M-42.6 -50.8h0M-24.4 -44.5h0M-129.9 -37.4h0M-153 74.6h0M-152.8 52.1h0M-158.3 79.2h0M-164.9 84h0M-158.3 61.2h0M-138.8 36.7h0M-133.7 19.9h0M-117.9 44.2h0M-110.1 37.8h0M-118.5 51h0M-114.7 74.5h0M-123.7 53.5h0M-114.7 60.7h0M-123.1 65.2h0M-137.8 37.9h0M-109.8 56.2h0M-133.5 74.6h0M-117.1 55.8h0M-131.4 40.1h0M-135.3 71.8h0M-124.7 45.3h0M-142.1 71.1h0M-140.6 64.9h0M-108.1 51.3h0M-134.8 90h0M-112.9 41.8h0M-109.1 45.6h0M-109.6 40h0M-118.5 25.2h0M-114.6 40.9h0M-74.6 -5.7h0M-95.2 34.9h0M-107.9 10.9h0M-89.1 8.5h0M-106.8 11.3h0M-106 17.7h0M-88.8 8.1h0M-93.5 23.8h0M-108.9 25.7h0M-92.3 22.5h0M-120.6 2.6h0M-81 148.1h0M-90.6 150.8h0M-85.7 151.5h0M-86.2 149.5h0M-67.9 147.6h0M-85.1 149.9h0M-77.2 155.6h0M-79.6 140.7h0M-85.8 163h0M-79.2 177.1h0M-71.1 177.1h0M-68.7 180h0M-82.8 190h0M70.1 -55.2h0M71.5 -54.4h0M63.8 -84.7h0M59.2 -64.2h0M57.5 -78.6h0M84.8 -68.5h0M88.4 -84.2h0M79.2 -81.9h0M96.5 -67h0M110.6 -89.4h0M101.2 -96.4h0M109.7 -94h0M118 -91.6h0M123.2 -81.4h0M118.9 -99.1h0M116.2 -82.6h0M117.8 -92.6h0M122.4 -79.2h0M111.2 -97.5h0M109.3 -61.6h0M114.3 -57.9h0M99.3 -49.2h0M117.6 -56.6h0M96.6 -62.8h0M104.6 -31h0M84.3 -54.4h0M87.7 -49.3h0M103.1 -65.8h0M111.1 -54.1h0M151.8 -17.1h0M176.2 -20.7h0M183.5 -13.1h0M150.3 -28h0M180.5 -38.7h0M172.2 -13.4h0M181 -7h0M172.2 -34.1h0M149.7 -15.9h0M175.4 -20.2h0M175.3 -52h0M164 -23.6h0M159.1 -8.8h0M159.8 -27.3h0M188.3 -36.8h0M154.6 -20.7h0M161.1 -22.6h0M100.7 4.5h0M64.9 104.3h0M76.3 87.8h0M67.4 77.2h0M77.1 97.7h0M70.6 107.4h0M63.8 86.1h0M70.3 79.7h0M52.5 57.5h0M51.6 76.6h0M48.7 56.2h0M45.7 59.5h0M154.1 31h0M136.9 21.6h0M152 36.3h0M136.5 24.4h0M138.8 34.4h0M151.4 34.8h0M126.3 57h0M122.8 62.7h0M104.9 56.2h0M111 44.9h0M112.9 49.2h0M117.9 39.3h0M112.5 59.2h0M113.8 72.6h0M94.1 45.7h0M121.5 49.5h0M123.8 60.1h0M99.8 70.1h0M96.4 41.1h0M106.9 41.1h0M95.6 51.6h0M125.9 58.6h0M110.1 62.4h0M83.3 64.1h0M73.2 70.3h0M72.6 55.3h0M62 49.1h0M77.8 63.1h0M102.9 98.7h0M91.1 95.3h0M96 103.7h0M90.9 97.8h0M156.9 42.7h0"/>
</g>
<path d="M592.4 613V1002.7" stroke="#222" stroke-width="1.2" fill="none"/>
<path d="M592.4 1002.1H995" stroke="#222" stroke-width="1.2" fill="none"/>
<path d="M601.4 1002.1v12.8M694.6 1002.1v12.8M787.7 1002.1v12.8M880.9 1002.1v12.8M974 1002.1v12.8M592.4 898.3h-12.8M592.4 782.8h-12.8M592.4 667.3h-12.8" stroke="#222" stroke-width="1.3" fill="none"/>
<text x="587.5" y="1042.5" font-size="20.5" textLength="30.6" lengthAdjust="spacingAndGlyphs">−10</text>
<text x="685.4" y="1042.5" font-size="20.5" textLength="21.1" lengthAdjust="spacingAndGlyphs">−5</text>
<text x="782" y="1042.5" font-size="20.5" textLength="11.9" lengthAdjust="spacingAndGlyphs">0</text>
<text x="876" y="1042.5" font-size="20.5" textLength="10.3" lengthAdjust="spacingAndGlyphs">5</text>
<text x="964.4" y="1042.5" font-size="20.5" textLength="19.8" lengthAdjust="spacingAndGlyphs">10</text>
<text x="545.1" y="905.5" font-size="20.5" textLength="21.1" lengthAdjust="spacingAndGlyphs">−5</text>
<text x="554.3" y="790" font-size="20.5" textLength="11.9" lengthAdjust="spacingAndGlyphs">0</text>
<text x="555.9" y="674.5" font-size="20.5" textLength="10.3" lengthAdjust="spacingAndGlyphs">5</text>
<circle cx="1018.8" cy="784.4" r="7.2" fill="#a9dfcf"/>
<text x="1039.5" y="791.5" font-size="20" textLength="103.8" lengthAdjust="spacingAndGlyphs">Donor 1 (F)</text>
<circle cx="1018.8" cy="807.8" r="7.2" fill="#fdc4b2"/>
<text x="1039.5" y="814.9" font-size="20" textLength="107" lengthAdjust="spacingAndGlyphs">Donor 2 (F)</text>
<circle cx="1018.8" cy="831.3" r="7.2" fill="#c5cce3"/>
<text x="1039.5" y="838.4" font-size="20" textLength="114.6" lengthAdjust="spacingAndGlyphs">Donor 3 (M)</text>
<path d="M1040.2 963.3V1001.1H1077.3" fill="none" stroke="#44546a" stroke-width="4" stroke-linejoin="miter"/>
<path d="M1040.2 954.3l6.6 14.5l-6.6 -3.6l-6.6 3.6z" fill="#44546a"/>
<path d="M1086.3 1001.1l-14.5 -6.6l3.6 6.6l-3.6 6.6z" fill="#44546a"/>
<text transform="translate(1026 1002.5) rotate(-90)" font-size="20" textLength="67.8" lengthAdjust="spacingAndGlyphs">UMAP2</text>
<text x="1035.4" y="1028.3" font-size="20" textLength="64.5" lengthAdjust="spacingAndGlyphs">UMAP1</text>
<text x="-1" y="1105.3" font-size="40" textLength="24.5" lengthAdjust="spacingAndGlyphs" font-weight="bold">c</text>
<g transform="translate(249.4 1287.4)">
<use href="#spU0" stroke="url(#v4)"/>
<use href="#spS0" stroke="url(#v3)"/>
<use href="#spU1" stroke="url(#v4)"/>
<use href="#spS1" stroke="url(#v3)"/>
<use href="#spU2" stroke="url(#v4)"/>
<use href="#spS2" stroke="url(#v3)"/>
<use href="#spU3" stroke="url(#v4)"/>
<use href="#spS3" stroke="url(#v3)"/>
<use href="#U_fill" fill="url(#v3)" stroke="url(#v3)"/>
<use href="#U_Th0b" fill="url(#v4)" stroke="url(#v4)"/>
<use href="#U_Th2L" fill="url(#v2)" stroke="url(#v2)"/>
<use href="#U_Th2R" fill="url(#v3)" stroke="url(#v3)"/>
<use href="#U_Th0" fill="url(#v4)" stroke="url(#v4)"/>
<use href="#U_Th1" fill="url(#v1)" stroke="url(#v1)"/>
<use href="#U_iTreg" fill="url(#v7)" stroke="url(#v7)"/>
<use href="#U_Th17g" fill="url(#v7)" stroke="url(#v7)"/>
<use href="#U_Th17o" fill="url(#v5)" stroke="url(#v5)"/>
<use href="#U_IFNb" fill="url(#v4)" stroke="url(#v4)"/>
<use href="#U_tiny" fill="url(#v4)" stroke="url(#v4)"/>
<use href="#S_fill" fill="url(#v1)" stroke="url(#v1)"/>
<use href="#S_IFNb" fill="url(#v5)" stroke="url(#v5)"/>
<use href="#S_Th0" fill="url(#v2)" stroke="url(#v2)"/>
<use href="#S_Th2L" fill="url(#v2)" stroke="url(#v2)"/>
<use href="#S_Th2R" fill="url(#v3)" stroke="url(#v3)"/>
<use href="#S_Th1" fill="url(#v0)" stroke="url(#v0)"/>
<use href="#S_iTregT" fill="url(#v7)" stroke="url(#v7)"/>
<use href="#S_gbit" fill="url(#v6)" stroke="url(#v6)"/>
<use href="#S_iTregR" fill="url(#v7)" stroke="url(#v7)"/>
<use href="#S_Th17" fill="url(#v5)" stroke="url(#v5)"/>
<use href="#S_small" fill="url(#v6)" stroke="url(#v6)"/>
</g>
<path d="M62.1 1113V1499.1" stroke="#222" stroke-width="1.2" fill="none"/>
<path d="M62.1 1498.5H462.8" stroke="#222" stroke-width="1.2" fill="none"/>
<path d="M70.4 1498.5v12.8M163.2 1498.5v12.8M255.9 1498.5v12.8M348.6 1498.5v12.8M441.4 1498.5v12.8M62.1 1395.2h-12.8M62.1 1280.4h-12.8M62.1 1165.6h-12.8" stroke="#222" stroke-width="1.3" fill="none"/>
<text x="56.5" y="1538.9" font-size="20.5" textLength="30.6" lengthAdjust="spacingAndGlyphs">−10</text>
<text x="154" y="1538.9" font-size="20.5" textLength="21.1" lengthAdjust="spacingAndGlyphs">−5</text>
<text x="250.2" y="1538.9" font-size="20.5" textLength="11.9" lengthAdjust="spacingAndGlyphs">0</text>
<text x="343.8" y="1538.9" font-size="20.5" textLength="10.3" lengthAdjust="spacingAndGlyphs">5</text>
<text x="431.8" y="1538.9" font-size="20.5" textLength="19.8" lengthAdjust="spacingAndGlyphs">10</text>
<text x="14.8" y="1402.4" font-size="20.5" textLength="21.1" lengthAdjust="spacingAndGlyphs">−5</text>
<text x="24" y="1287.6" font-size="20.5" textLength="11.9" lengthAdjust="spacingAndGlyphs">0</text>
<text x="25.6" y="1172.8" font-size="20.5" textLength="10.3" lengthAdjust="spacingAndGlyphs">5</text>
<text x="227.4" y="1104.7" font-size="24.5" textLength="56.6" lengthAdjust="spacingAndGlyphs">iTreg</text>
<g transform="translate(779.1 1285.6)">
<use href="#spU0" stroke="url(#v4)"/>
<use href="#spS0" stroke="url(#v4)"/>
<use href="#spU1" stroke="url(#v4)"/>
<use href="#spS1" stroke="url(#v4)"/>
<use href="#spU2" stroke="url(#v4)"/>
<use href="#spS2" stroke="url(#v4)"/>
<use href="#spU3" stroke="url(#v4)"/>
<use href="#spS3" stroke="url(#v4)"/>
<use href="#U_fill" fill="url(#v5)" stroke="url(#v5)"/>
<use href="#U_Th0b" fill="url(#v5)" stroke="url(#v5)"/>
<use href="#U_Th2L" fill="url(#v10)" stroke="url(#v10)"/>
<use href="#U_Th2R" fill="url(#v8)" stroke="url(#v8)"/>
<use href="#U_Th0" fill="url(#v5)" stroke="url(#v5)"/>
<use href="#U_Th1" fill="url(#v4)" stroke="url(#v4)"/>
<use href="#U_iTreg" fill="url(#v4)" stroke="url(#v4)"/>
<use href="#U_Th17g" fill="url(#v5)" stroke="url(#v5)"/>
<use href="#U_Th17o" fill="url(#v5)" stroke="url(#v5)"/>
<use href="#U_IFNb" fill="url(#v4)" stroke="url(#v4)"/>
<use href="#U_tiny" fill="url(#v4)" stroke="url(#v4)"/>
<use href="#S_fill" fill="url(#v4)" stroke="url(#v4)"/>
<use href="#S_IFNb" fill="url(#v4)" stroke="url(#v4)"/>
<use href="#S_Th0" fill="url(#v5)" stroke="url(#v5)"/>
<use href="#S_Th2L" fill="url(#v5)" stroke="url(#v5)"/>
<use href="#S_Th2R" fill="url(#v6)" stroke="url(#v6)"/>
<use href="#S_Th1" fill="url(#v4)" stroke="url(#v4)"/>
<use href="#S_iTregT" fill="url(#v4)" stroke="url(#v4)"/>
<use href="#S_gbit" fill="url(#v4)" stroke="url(#v4)"/>
<use href="#S_iTregR" fill="url(#v4)" stroke="url(#v4)"/>
<use href="#S_Th17" fill="url(#v3)" stroke="url(#v3)"/>
<use href="#S_small" fill="url(#v4)" stroke="url(#v4)"/>
</g>
<path d="M591.7 1111.1V1497.7" stroke="#222" stroke-width="1.2" fill="none"/>
<path d="M591.7 1497.1H992.2" stroke="#222" stroke-width="1.2" fill="none"/>
<path d="M600.1 1497.1v12.8M692.9 1497.1v12.8M785.6 1497.1v12.8M878.4 1497.1v12.8M971.1 1497.1v12.8M591.7 1393.4h-12.8M591.7 1278.6h-12.8M591.7 1163.8h-12.8" stroke="#222" stroke-width="1.3" fill="none"/>
<text x="586.2" y="1537.5" font-size="20.5" textLength="30.6" lengthAdjust="spacingAndGlyphs">−10</text>
<text x="683.7" y="1537.5" font-size="20.5" textLength="21.1" lengthAdjust="spacingAndGlyphs">−5</text>
<text x="779.9" y="1537.5" font-size="20.5" textLength="11.9" lengthAdjust="spacingAndGlyphs">0</text>
<text x="873.5" y="1537.5" font-size="20.5" textLength="10.3" lengthAdjust="spacingAndGlyphs">5</text>
<text x="961.5" y="1537.5" font-size="20.5" textLength="19.8" lengthAdjust="spacingAndGlyphs">10</text>
<text x="544.4" y="1400.6" font-size="20.5" textLength="21.1" lengthAdjust="spacingAndGlyphs">−5</text>
<text x="553.6" y="1285.8" font-size="20.5" textLength="11.9" lengthAdjust="spacingAndGlyphs">0</text>
<text x="555.2" y="1171" font-size="20.5" textLength="10.3" lengthAdjust="spacingAndGlyphs">5</text>
<text x="764.8" y="1110.7" font-size="24.5" textLength="41.2" lengthAdjust="spacingAndGlyphs">Th2</text>
<g transform="translate(249.4 1759.8)">
<use href="#spU0" stroke="url(#v11)"/>
<use href="#spS0" stroke="url(#v11)"/>
<use href="#spU1" stroke="url(#v11)"/>
<use href="#spS1" stroke="url(#v11)"/>
<use href="#spU2" stroke="url(#v11)"/>
<use href="#spS2" stroke="url(#v11)"/>
<use href="#spU3" stroke="url(#v11)"/>
<use href="#spS3" stroke="url(#v11)"/>
<use href="#U_fill" fill="url(#v11)" stroke="url(#v11)"/>
<use href="#U_Th0b" fill="url(#v11)" stroke="url(#v11)"/>
<use href="#U_Th2L" fill="url(#v12)" stroke="url(#v12)"/>
<use href="#U_Th2R" fill="url(#v11)" stroke="url(#v11)"/>
<use href="#U_Th0" fill="url(#v11)" stroke="url(#v11)"/>
<use href="#U_Th1" fill="url(#v12)" stroke="url(#v12)"/>
<use href="#U_iTreg" fill="url(#v11)" stroke="url(#v11)"/>
<use href="#U_Th17g" fill="url(#v11)" stroke="url(#v11)"/>
<use href="#U_Th17o" fill="url(#v11)" stroke="url(#v11)"/>
<use href="#U_IFNb" fill="url(#v11)" stroke="url(#v11)"/>
<use href="#U_tiny" fill="url(#v11)" stroke="url(#v11)"/>
<use href="#S_fill" fill="url(#v11)" stroke="url(#v11)"/>
<use href="#S_IFNb" fill="url(#v11)" stroke="url(#v11)"/>
<use href="#S_Th0" fill="url(#v11)" stroke="url(#v11)"/>
<use href="#S_Th2L" fill="url(#v11)" stroke="url(#v11)"/>
<use href="#S_Th2R" fill="url(#v11)" stroke="url(#v11)"/>
<use href="#S_Th1" fill="url(#v12)" stroke="url(#v12)"/>
<use href="#S_iTregT" fill="url(#v11)" stroke="url(#v11)"/>
<use href="#S_gbit" fill="url(#v11)" stroke="url(#v11)"/>
<use href="#S_iTregR" fill="url(#v12)" stroke="url(#v12)"/>
<use href="#S_Th17" fill="url(#v12)" stroke="url(#v12)"/>
<use href="#S_small" fill="url(#v11)" stroke="url(#v11)"/>
</g>
<path d="M62.1 1585V1970.3" stroke="#222" stroke-width="1.2" fill="none"/>
<path d="M62.1 1969.7H462.8" stroke="#222" stroke-width="1.2" fill="none"/>
<path d="M70.4 1969.7v12.8M163.2 1969.7v12.8M255.9 1969.7v12.8M348.6 1969.7v12.8M441.4 1969.7v12.8M62.1 1867.6h-12.8M62.1 1752.8h-12.8M62.1 1638h-12.8" stroke="#222" stroke-width="1.3" fill="none"/>
<text x="56.5" y="2010.1" font-size="20.5" textLength="30.6" lengthAdjust="spacingAndGlyphs">−10</text>
<text x="154" y="2010.1" font-size="20.5" textLength="21.1" lengthAdjust="spacingAndGlyphs">−5</text>
<text x="250.2" y="2010.1" font-size="20.5" textLength="11.9" lengthAdjust="spacingAndGlyphs">0</text>
<text x="343.8" y="2010.1" font-size="20.5" textLength="10.3" lengthAdjust="spacingAndGlyphs">5</text>
<text x="431.8" y="2010.1" font-size="20.5" textLength="19.8" lengthAdjust="spacingAndGlyphs">10</text>
<text x="14.8" y="1874.8" font-size="20.5" textLength="21.1" lengthAdjust="spacingAndGlyphs">−5</text>
<text x="24" y="1760" font-size="20.5" textLength="11.9" lengthAdjust="spacingAndGlyphs">0</text>
<text x="25.6" y="1645.2" font-size="20.5" textLength="10.3" lengthAdjust="spacingAndGlyphs">5</text>
<text x="239.8" y="1583.8" font-size="24.5" textLength="36.3" lengthAdjust="spacingAndGlyphs">Th1</text>
<g transform="translate(779.1 1758.7)">
<use href="#spU0" stroke="url(#v4)"/>
<use href="#spS0" stroke="url(#v5)"/>
<use href="#spU1" stroke="url(#v4)"/>
<use href="#spS1" stroke="url(#v5)"/>
<use href="#spU2" stroke="url(#v4)"/>
<use href="#spS2" stroke="url(#v5)"/>
<use href="#spU3" stroke="url(#v4)"/>
<use href="#spS3" stroke="url(#v5)"/>
<use href="#U_fill" fill="url(#v3)" stroke="url(#v3)"/>
<use href="#U_Th0b" fill="url(#v3)" stroke="url(#v3)"/>
<use href="#U_Th2L" fill="url(#v2)" stroke="url(#v2)"/>
<use href="#U_Th2R" fill="url(#v2)" stroke="url(#v2)"/>
<use href="#U_Th0" fill="url(#v2)" stroke="url(#v2)"/>
<use href="#U_Th1" fill="url(#v3)" stroke="url(#v3)"/>
<use href="#U_iTreg" fill="url(#v4)" stroke="url(#v4)"/>
<use href="#U_Th17g" fill="url(#v3)" stroke="url(#v3)"/>
<use href="#U_Th17o" fill="url(#v8)" stroke="url(#v8)"/>
<use href="#U_IFNb" fill="url(#v2)" stroke="url(#v2)"/>
<use href="#U_tiny" fill="url(#v4)" stroke="url(#v4)"/>
<use href="#S_fill" fill="url(#v3)" stroke="url(#v3)"/>
<use href="#S_IFNb" fill="url(#v4)" stroke="url(#v4)"/>
<use href="#S_Th0" fill="url(#v3)" stroke="url(#v3)"/>
<use href="#S_Th2L" fill="url(#v4)" stroke="url(#v4)"/>
<use href="#S_Th2R" fill="url(#v5)" stroke="url(#v5)"/>
<use href="#S_Th1" fill="url(#v4)" stroke="url(#v4)"/>
<use href="#S_iTregT" fill="url(#v4)" stroke="url(#v4)"/>
<use href="#S_gbit" fill="url(#v5)" stroke="url(#v5)"/>
<use href="#S_iTregR" fill="url(#v6)" stroke="url(#v6)"/>
<use href="#S_Th17" fill="url(#v7)" stroke="url(#v7)"/>
<use href="#S_small" fill="url(#v6)" stroke="url(#v6)"/>
</g>
<path d="M591.7 1584.2V1969.6" stroke="#222" stroke-width="1.2" fill="none"/>
<path d="M591.7 1969H992.2" stroke="#222" stroke-width="1.2" fill="none"/>
<path d="M600.1 1969v12.8M692.9 1969v12.8M785.6 1969v12.8M878.4 1969v12.8M971.1 1969v12.8M591.7 1866.5h-12.8M591.7 1751.7h-12.8M591.7 1636.9h-12.8" stroke="#222" stroke-width="1.3" fill="none"/>
<text x="586.2" y="2009.4" font-size="20.5" textLength="30.6" lengthAdjust="spacingAndGlyphs">−10</text>
<text x="683.7" y="2009.4" font-size="20.5" textLength="21.1" lengthAdjust="spacingAndGlyphs">−5</text>
<text x="779.9" y="2009.4" font-size="20.5" textLength="11.9" lengthAdjust="spacingAndGlyphs">0</text>
<text x="873.5" y="2009.4" font-size="20.5" textLength="10.3" lengthAdjust="spacingAndGlyphs">5</text>
<text x="961.5" y="2009.4" font-size="20.5" textLength="19.8" lengthAdjust="spacingAndGlyphs">10</text>
<text x="544.4" y="1873.7" font-size="20.5" textLength="21.1" lengthAdjust="spacingAndGlyphs">−5</text>
<text x="553.6" y="1758.9" font-size="20.5" textLength="11.9" lengthAdjust="spacingAndGlyphs">0</text>
<text x="555.2" y="1644.1" font-size="20.5" textLength="10.3" lengthAdjust="spacingAndGlyphs">5</text>
<text x="761.8" y="1582.3" font-size="24.5" textLength="48.7" lengthAdjust="spacingAndGlyphs">Th17</text>
<g transform="translate(465.4 2234.9)">
<use href="#spU0" stroke="url(#v3)"/>
<use href="#spS0" stroke="url(#v3)"/>
<use href="#spU1" stroke="url(#v3)"/>
<use href="#spS1" stroke="url(#v3)"/>
<use href="#spU2" stroke="url(#v3)"/>
<use href="#spS2" stroke="url(#v3)"/>
<use href="#spU3" stroke="url(#v3)"/>
<use href="#spS3" stroke="url(#v3)"/>
<use href="#U_fill" fill="url(#v4)" stroke="url(#v4)"/>
<use href="#U_Th0b" fill="url(#v4)" stroke="url(#v4)"/>
<use href="#U_Th2L" fill="url(#v2)" stroke="url(#v2)"/>
<use href="#U_Th2R" fill="url(#v3)" stroke="url(#v3)"/>
<use href="#U_Th0" fill="url(#v5)" stroke="url(#v5)"/>
<use href="#U_Th1" fill="url(#v2)" stroke="url(#v2)"/>
<use href="#U_iTreg" fill="url(#v7)" stroke="url(#v7)"/>
<use href="#U_Th17g" fill="url(#v2)" stroke="url(#v2)"/>
<use href="#U_Th17o" fill="url(#v2)" stroke="url(#v2)"/>
<use href="#U_IFNb" fill="url(#v10)" stroke="url(#v10)"/>
<use href="#U_tiny" fill="url(#v2)" stroke="url(#v2)"/>
<use href="#S_fill" fill="url(#v2)" stroke="url(#v2)"/>
<use href="#S_IFNb" fill="url(#v10)" stroke="url(#v10)"/>
<use href="#S_Th0" fill="url(#v2)" stroke="url(#v2)"/>
<use href="#S_Th2L" fill="url(#v2)" stroke="url(#v2)"/>
<use href="#S_Th2R" fill="url(#v3)" stroke="url(#v3)"/>
<use href="#S_Th1" fill="url(#v2)" stroke="url(#v2)"/>
<use href="#S_iTregT" fill="url(#v3)" stroke="url(#v3)"/>
<use href="#S_gbit" fill="url(#v4)" stroke="url(#v4)"/>
<use href="#S_iTregR" fill="url(#v4)" stroke="url(#v4)"/>
<use href="#S_Th17" fill="url(#v3)" stroke="url(#v3)"/>
<use href="#S_small" fill="url(#v9)" stroke="url(#v9)"/>
</g>
<path d="M278.5 2060.8V2446.2" stroke="#222" stroke-width="1.2" fill="none"/>
<path d="M278.5 2445.6H678.4" stroke="#222" stroke-width="1.2" fill="none"/>
<path d="M286.4 2445.6v12.8M379.1 2445.6v12.8M471.9 2445.6v12.8M564.6 2445.6v12.8M657.4 2445.6v12.8M278.5 2342.7h-12.8M278.5 2227.9h-12.8M278.5 2113.1h-12.8" stroke="#222" stroke-width="1.3" fill="none"/>
<text x="272.5" y="2486" font-size="20.5" textLength="30.6" lengthAdjust="spacingAndGlyphs">−10</text>
<text x="370" y="2486" font-size="20.5" textLength="21.1" lengthAdjust="spacingAndGlyphs">−5</text>
<text x="466.2" y="2486" font-size="20.5" textLength="11.9" lengthAdjust="spacingAndGlyphs">0</text>
<text x="559.8" y="2486" font-size="20.5" textLength="10.3" lengthAdjust="spacingAndGlyphs">5</text>
<text x="647.8" y="2486" font-size="20.5" textLength="19.8" lengthAdjust="spacingAndGlyphs">10</text>
<text x="231.2" y="2349.9" font-size="20.5" textLength="21.1" lengthAdjust="spacingAndGlyphs">−5</text>
<text x="240.4" y="2235.1" font-size="20.5" textLength="11.9" lengthAdjust="spacingAndGlyphs">0</text>
<text x="242" y="2120.3" font-size="20.5" textLength="10.3" lengthAdjust="spacingAndGlyphs">5</text>
<text x="442.1" y="2057.9" font-size="24.5" textLength="60" lengthAdjust="spacingAndGlyphs">IFN-β</text>
<defs><linearGradient id="vg" x1="0" y1="0" x2="0" y2="1">
<stop offset="0.0" stop-color="#440154"/>
<stop offset="0.1" stop-color="#482475"/>
<stop offset="0.2" stop-color="#414487"/>
<stop offset="0.3" stop-color="#355f8d"/>
<stop offset="0.4" stop-color="#2a788e"/>
<stop offset="0.5" stop-color="#21918c"/>
<stop offset="0.6" stop-color="#22a884"/>
<stop offset="0.7" stop-color="#44bf70"/>
<stop offset="0.8" stop-color="#7ad151"/>
<stop offset="0.9" stop-color="#bddf26"/>
<stop offset="1.0" stop-color="#fde725"/>
</linearGradient></defs>
<rect x="698" y="2138.2" width="33.8" height="164.6" fill="url(#vg)"/>
<path d="M724.4 2160.4H731.8M724.4 2195.8H731.8M724.4 2231.1H731.8M724.4 2266.3H731.8" stroke="#e8e8e8" stroke-width="1.2" fill="none"/>
<text x="698.9" y="2096.7" font-size="20" textLength="67.6" lengthAdjust="spacingAndGlyphs">AUCell</text>
<text x="698.9" y="2121.8" font-size="20" textLength="41.4" lengthAdjust="spacingAndGlyphs">rank</text>
<text x="743.3" y="2167.2" font-size="20" textLength="75" lengthAdjust="spacingAndGlyphs">40,000</text>
<text x="743.3" y="2202.3" font-size="20" textLength="74.2" lengthAdjust="spacingAndGlyphs">30,000</text>
<text x="743.3" y="2237.3" font-size="20" textLength="73.2" lengthAdjust="spacingAndGlyphs">20,000</text>
<text x="743.3" y="2272.4" font-size="20" textLength="70" lengthAdjust="spacingAndGlyphs">10,000</text>
<path d="M727.9 2407.9V2445.3H764.7" fill="none" stroke="#44546a" stroke-width="4" stroke-linejoin="miter"/>
<path d="M727.9 2398.9l6.6 14.5l-6.6 -3.6l-6.6 3.6z" fill="#44546a"/>
<path d="M773.7 2445.3l-14.5 -6.6l3.6 6.6l-3.6 6.6z" fill="#44546a"/>
<text transform="translate(714.4 2446.8) rotate(-90)" font-size="20" textLength="68.1" lengthAdjust="spacingAndGlyphs">UMAP2</text>
<text x="722.9" y="2473.3" font-size="20" textLength="65.2" lengthAdjust="spacingAndGlyphs">UMAP1</text>
<g shape-rendering="crispEdges">
<rect x="1199" y="28.2" width="45.3" height="21.3" fill="#00007f"/>
<rect x="1244" y="28.2" width="44" height="21.3" fill="#4b2f96"/>
<rect x="1287.7" y="28.2" width="45.1" height="21.3" fill="#1e1388"/>
<rect x="1332.5" y="28.2" width="47.8" height="21.3" fill="#6b51aa"/>
<rect x="1380" y="28.2" width="45.3" height="21.3" fill="#fee6e0"/>
<rect x="1425" y="28.2" width="44.8" height="21.3" fill="#0f0984"/>
<rect x="1469.5" y="28.2" width="44.8" height="21.3" fill="#f28a70"/>
<rect x="1514" y="28.2" width="47.3" height="21.3" fill="#f28a70"/>
<rect x="1561" y="28.2" width="44.3" height="21.3" fill="#ec795e"/>
<rect x="1605" y="28.2" width="45.3" height="21.3" fill="#f8a690"/>
<rect x="1650" y="28.2" width="44.6" height="21.3" fill="#dd4830"/>
<rect x="1694.3" y="28.2" width="48.6" height="21.3" fill="#fab29e"/>
<rect x="1199" y="49.2" width="45.3" height="21.3" fill="#00007f"/>
<rect x="1244" y="49.2" width="44" height="21.3" fill="#4b2f96"/>
<rect x="1287.7" y="49.2" width="45.1" height="21.3" fill="#1e1388"/>
<rect x="1332.5" y="49.2" width="47.8" height="21.3" fill="#6b51aa"/>
<rect x="1380" y="49.2" width="45.3" height="21.3" fill="#fee6e0"/>
<rect x="1425" y="49.2" width="44.8" height="21.3" fill="#0f0984"/>
<rect x="1469.5" y="49.2" width="44.8" height="21.3" fill="#f28a70"/>
<rect x="1514" y="49.2" width="47.3" height="21.3" fill="#f28a70"/>
<rect x="1561" y="49.2" width="44.3" height="21.3" fill="#ec795e"/>
<rect x="1605" y="49.2" width="45.3" height="21.3" fill="#f8a690"/>
<rect x="1650" y="49.2" width="44.6" height="21.3" fill="#dd4830"/>
<rect x="1694.3" y="49.2" width="48.6" height="21.3" fill="#fab29e"/>
<rect x="1199" y="70.3" width="45.3" height="21.3" fill="#00007f"/>
<rect x="1244" y="70.3" width="44" height="21.3" fill="#4b2f96"/>
<rect x="1287.7" y="70.3" width="45.1" height="21.3" fill="#1e1388"/>
<rect x="1332.5" y="70.3" width="47.8" height="21.3" fill="#6b51aa"/>
<rect x="1380" y="70.3" width="45.3" height="21.3" fill="#fee6de"/>
<rect x="1425" y="70.3" width="44.8" height="21.3" fill="#0f0984"/>
<rect x="1469.5" y="70.3" width="44.8" height="21.3" fill="#f28a70"/>
<rect x="1514" y="70.3" width="47.3" height="21.3" fill="#f28a70"/>
<rect x="1561" y="70.3" width="44.3" height="21.3" fill="#ec795e"/>
<rect x="1605" y="70.3" width="45.3" height="21.3" fill="#f8a690"/>
<rect x="1650" y="70.3" width="44.6" height="21.3" fill="#dd4830"/>
<rect x="1694.3" y="70.3" width="48.6" height="21.3" fill="#fab29e"/>
<rect x="1199" y="91.3" width="45.3" height="21.3" fill="#00007f"/>
<rect x="1244" y="91.3" width="44" height="21.3" fill="#4b2f96"/>
<rect x="1287.7" y="91.3" width="45.1" height="21.3" fill="#1e1388"/>
<rect x="1332.5" y="91.3" width="47.8" height="21.3" fill="#6b51aa"/>
<rect x="1380" y="91.3" width="45.3" height="21.3" fill="#fee5dd"/>
<rect x="1425" y="91.3" width="44.8" height="21.3" fill="#0f0984"/>
<rect x="1469.5" y="91.3" width="44.8" height="21.3" fill="#f28a70"/>
<rect x="1514" y="91.3" width="47.3" height="21.3" fill="#f28a70"/>
<rect x="1561" y="91.3" width="44.3" height="21.3" fill="#ec795e"/>
<rect x="1605" y="91.3" width="45.3" height="21.3" fill="#f8a690"/>
<rect x="1650" y="91.3" width="44.6" height="21.3" fill="#dd4830"/>
<rect x="1694.3" y="91.3" width="48.6" height="21.3" fill="#fab29e"/>
<rect x="1199" y="112.3" width="45.3" height="21.3" fill="#00007f"/>
<rect x="1244" y="112.3" width="44" height="21.3" fill="#4b2f96"/>
<rect x="1287.7" y="112.3" width="45.1" height="21.3" fill="#211589"/>
<rect x="1332.5" y="112.3" width="47.8" height="21.3" fill="#6b51aa"/>
<rect x="1380" y="112.3" width="45.3" height="21.3" fill="#fee4dc"/>
<rect x="1425" y="112.3" width="44.8" height="21.3" fill="#0c0883"/>
<rect x="1469.5" y="112.3" width="44.8" height="21.3" fill="#f28a70"/>
<rect x="1514" y="112.3" width="47.3" height="21.3" fill="#f28a70"/>
<rect x="1561" y="112.3" width="44.3" height="21.3" fill="#ed7a5f"/>
<rect x="1605" y="112.3" width="45.3" height="21.3" fill="#f8a690"/>
<rect x="1650" y="112.3" width="44.6" height="21.3" fill="#de4931"/>
<rect x="1694.3" y="112.3" width="48.6" height="21.3" fill="#fab29e"/>
<rect x="1199" y="133.4" width="45.3" height="21.3" fill="#0a0782"/>
<rect x="1244" y="133.4" width="44" height="21.3" fill="#4e3298"/>
<rect x="1287.7" y="133.4" width="45.1" height="21.3" fill="#24178a"/>
<rect x="1332.5" y="133.4" width="47.8" height="21.3" fill="#6e54ac"/>
<rect x="1380" y="133.4" width="45.3" height="21.3" fill="#fee5dd"/>
<rect x="1425" y="133.4" width="44.8" height="21.3" fill="#150d85"/>
<rect x="1469.5" y="133.4" width="44.8" height="21.3" fill="#f28a70"/>
<rect x="1514" y="133.4" width="47.3" height="21.3" fill="#f38c72"/>
<rect x="1561" y="133.4" width="44.3" height="21.3" fill="#ee7c62"/>
<rect x="1605" y="133.4" width="45.3" height="21.3" fill="#f8a690"/>
<rect x="1650" y="133.4" width="44.6" height="21.3" fill="#de4b32"/>
<rect x="1694.3" y="133.4" width="48.6" height="21.3" fill="#fab29e"/>
<rect x="1199" y="154.4" width="45.3" height="21.3" fill="#0a0782"/>
<rect x="1244" y="154.4" width="44" height="21.3" fill="#4e3298"/>
<rect x="1287.7" y="154.4" width="45.1" height="21.3" fill="#24178a"/>
<rect x="1332.5" y="154.4" width="47.8" height="21.3" fill="#6e54ac"/>
<rect x="1380" y="154.4" width="45.3" height="21.3" fill="#fee6de"/>
<rect x="1425" y="154.4" width="44.8" height="21.3" fill="#150d85"/>
<rect x="1469.5" y="154.4" width="44.8" height="21.3" fill="#f28a70"/>
<rect x="1514" y="154.4" width="47.3" height="21.3" fill="#f38c72"/>
<rect x="1561" y="154.4" width="44.3" height="21.3" fill="#ee7c62"/>
<rect x="1605" y="154.4" width="45.3" height="21.3" fill="#f8a690"/>
<rect x="1650" y="154.4" width="44.6" height="21.3" fill="#de4b32"/>
<rect x="1694.3" y="154.4" width="48.6" height="21.3" fill="#fab29e"/>
<rect x="1199" y="175.4" width="45.3" height="21.3" fill="#26188a"/>
<rect x="1244" y="175.4" width="44" height="21.3" fill="#684ea8"/>
<rect x="1287.7" y="175.4" width="45.1" height="21.3" fill="#52379a"/>
<rect x="1332.5" y="175.4" width="47.8" height="21.3" fill="#856dba"/>
<rect x="1380" y="175.4" width="45.3" height="21.3" fill="#fdd3c6"/>
<rect x="1425" y="175.4" width="44.8" height="21.3" fill="#2d1c8d"/>
<rect x="1469.5" y="175.4" width="44.8" height="21.3" fill="#f7a08a"/>
<rect x="1514" y="175.4" width="47.3" height="21.3" fill="#f7a08a"/>
<rect x="1561" y="175.4" width="44.3" height="21.3" fill="#f48f76"/>
<rect x="1605" y="175.4" width="45.3" height="21.3" fill="#fbbdac"/>
<rect x="1650" y="175.4" width="44.6" height="21.3" fill="#e56346"/>
<rect x="1694.3" y="175.4" width="48.6" height="21.3" fill="#fcc3b2"/>
<rect x="1199" y="196.5" width="45.3" height="21.3" fill="#2d1c8d"/>
<rect x="1244" y="196.5" width="44" height="21.3" fill="#6449a5"/>
<rect x="1287.7" y="196.5" width="45.1" height="21.3" fill="#51359a"/>
<rect x="1332.5" y="196.5" width="47.8" height="21.3" fill="#856dba"/>
<rect x="1380" y="196.5" width="45.3" height="21.3" fill="#fee2d9"/>
<rect x="1425" y="196.5" width="44.8" height="21.3" fill="#2d1c8d"/>
<rect x="1469.5" y="196.5" width="44.8" height="21.3" fill="#f6977f"/>
<rect x="1514" y="196.5" width="47.3" height="21.3" fill="#f7a08a"/>
<rect x="1561" y="196.5" width="44.3" height="21.3" fill="#f49177"/>
<rect x="1605" y="196.5" width="45.3" height="21.3" fill="#fbbba9"/>
<rect x="1650" y="196.5" width="44.6" height="21.3" fill="#e7694d"/>
<rect x="1694.3" y="196.5" width="48.6" height="21.3" fill="#fbc0b0"/>
<rect x="1199" y="217.5" width="45.3" height="21.3" fill="#2d1c8d"/>
<rect x="1244" y="217.5" width="44" height="21.3" fill="#6a4fa9"/>
<rect x="1287.7" y="217.5" width="45.1" height="21.3" fill="#51359a"/>
<rect x="1332.5" y="217.5" width="47.8" height="21.3" fill="#856dba"/>
<rect x="1380" y="217.5" width="45.3" height="21.3" fill="#fee2d9"/>
<rect x="1425" y="217.5" width="44.8" height="21.3" fill="#2d1c8d"/>
<rect x="1469.5" y="217.5" width="44.8" height="21.3" fill="#f6977f"/>
<rect x="1514" y="217.5" width="47.3" height="21.3" fill="#f7a08a"/>
<rect x="1561" y="217.5" width="44.3" height="21.3" fill="#f49177"/>
<rect x="1605" y="217.5" width="45.3" height="21.3" fill="#fbbba9"/>
<rect x="1650" y="217.5" width="44.6" height="21.3" fill="#e86d51"/>
<rect x="1694.3" y="217.5" width="48.6" height="21.3" fill="#fbc0b0"/>
<rect x="1199" y="238.5" width="45.3" height="21.3" fill="#5a3e9f"/>
<rect x="1244" y="238.5" width="44" height="21.3" fill="#654ba6"/>
<rect x="1287.7" y="238.5" width="45.1" height="21.3" fill="#745aaf"/>
<rect x="1332.5" y="238.5" width="47.8" height="21.3" fill="#a38dcb"/>
<rect x="1380" y="238.5" width="45.3" height="21.3" fill="#fee2d9"/>
<rect x="1425" y="238.5" width="44.8" height="21.3" fill="#6e54ac"/>
<rect x="1469.5" y="238.5" width="44.8" height="21.3" fill="#fab29e"/>
<rect x="1514" y="238.5" width="47.3" height="21.3" fill="#fbbdac"/>
<rect x="1561" y="238.5" width="44.3" height="21.3" fill="#f7a08a"/>
<rect x="1605" y="238.5" width="45.3" height="21.3" fill="#fab7a5"/>
<rect x="1650" y="238.5" width="44.6" height="21.3" fill="#e97054"/>
<rect x="1694.3" y="238.5" width="48.6" height="21.3" fill="#fcc8b9"/>
<rect x="1199" y="259.6" width="45.3" height="21.3" fill="#5a3e9f"/>
<rect x="1244" y="259.6" width="44" height="21.3" fill="#654ba6"/>
<rect x="1287.7" y="259.6" width="45.1" height="21.3" fill="#745aaf"/>
<rect x="1332.5" y="259.6" width="47.8" height="21.3" fill="#a38dcb"/>
<rect x="1380" y="259.6" width="45.3" height="21.3" fill="#fee2d9"/>
<rect x="1425" y="259.6" width="44.8" height="21.3" fill="#6e54ac"/>
<rect x="1469.5" y="259.6" width="44.8" height="21.3" fill="#fab29e"/>
<rect x="1514" y="259.6" width="47.3" height="21.3" fill="#fbbdac"/>
<rect x="1561" y="259.6" width="44.3" height="21.3" fill="#f7a08a"/>
<rect x="1605" y="259.6" width="45.3" height="21.3" fill="#fab7a5"/>
<rect x="1650" y="259.6" width="44.6" height="21.3" fill="#e97054"/>
<rect x="1694.3" y="259.6" width="48.6" height="21.3" fill="#fcc8b9"/>
<rect x="1199" y="280.6" width="45.3" height="21.3" fill="#654ba6"/>
<rect x="1244" y="280.6" width="44" height="21.3" fill="#7056ac"/>
<rect x="1287.7" y="280.6" width="45.1" height="21.3" fill="#7a60b3"/>
<rect x="1332.5" y="280.6" width="47.8" height="21.3" fill="#a691cd"/>
<rect x="1380" y="280.6" width="45.3" height="21.3" fill="#feeeea"/>
<rect x="1425" y="280.6" width="44.8" height="21.3" fill="#7a60b3"/>
<rect x="1469.5" y="280.6" width="44.8" height="21.3" fill="#fab29e"/>
<rect x="1514" y="280.6" width="47.3" height="21.3" fill="#fbbfae"/>
<rect x="1561" y="280.6" width="44.3" height="21.3" fill="#f79d86"/>
<rect x="1605" y="280.6" width="45.3" height="21.3" fill="#fab4a1"/>
<rect x="1650" y="280.6" width="44.6" height="21.3" fill="#eb765a"/>
<rect x="1694.3" y="280.6" width="48.6" height="21.3" fill="#fcc3b2"/>
<rect x="1199" y="301.7" width="45.3" height="21.3" fill="#6146a4"/>
<rect x="1244" y="301.7" width="44" height="21.3" fill="#654ba6"/>
<rect x="1287.7" y="301.7" width="45.1" height="21.3" fill="#8168b7"/>
<rect x="1332.5" y="301.7" width="47.8" height="21.3" fill="#aa96cf"/>
<rect x="1380" y="301.7" width="45.3" height="21.3" fill="#feece7"/>
<rect x="1425" y="301.7" width="44.8" height="21.3" fill="#7a60b3"/>
<rect x="1469.5" y="301.7" width="44.8" height="21.3" fill="#fab9a8"/>
<rect x="1514" y="301.7" width="47.3" height="21.3" fill="#fcc6b6"/>
<rect x="1561" y="301.7" width="44.3" height="21.3" fill="#f79d86"/>
<rect x="1605" y="301.7" width="45.3" height="21.3" fill="#fbbba9"/>
<rect x="1650" y="301.7" width="44.6" height="21.3" fill="#ec795e"/>
<rect x="1694.3" y="301.7" width="48.6" height="21.3" fill="#fcc8b9"/>
<rect x="1199" y="322.7" width="45.3" height="21.3" fill="#654ba6"/>
<rect x="1244" y="322.7" width="44" height="21.3" fill="#6e54ac"/>
<rect x="1287.7" y="322.7" width="45.1" height="21.3" fill="#8870bc"/>
<rect x="1332.5" y="322.7" width="47.8" height="21.3" fill="#ac99d0"/>
<rect x="1380" y="322.7" width="45.3" height="21.3" fill="#feece7"/>
<rect x="1425" y="322.7" width="44.8" height="21.3" fill="#826ab8"/>
<rect x="1469.5" y="322.7" width="44.8" height="21.3" fill="#fbbcaa"/>
<rect x="1514" y="322.7" width="47.3" height="21.3" fill="#fcc8b9"/>
<rect x="1561" y="322.7" width="44.3" height="21.3" fill="#f8a58f"/>
<rect x="1605" y="322.7" width="45.3" height="21.3" fill="#fcc5b5"/>
<rect x="1650" y="322.7" width="44.6" height="21.3" fill="#f1886e"/>
<rect x="1694.3" y="322.7" width="48.6" height="21.3" fill="#fdd2c5"/>
<rect x="1199" y="343.7" width="45.3" height="21.3" fill="#5a3e9f"/>
<rect x="1244" y="343.7" width="44" height="21.3" fill="#876ebb"/>
<rect x="1287.7" y="343.7" width="45.1" height="21.3" fill="#6248a4"/>
<rect x="1332.5" y="343.7" width="47.8" height="21.3" fill="#957dc4"/>
<rect x="1380" y="343.7" width="45.3" height="21.3" fill="#feece7"/>
<rect x="1425" y="343.7" width="44.8" height="21.3" fill="#4e3298"/>
<rect x="1469.5" y="343.7" width="44.8" height="21.3" fill="#f79d86"/>
<rect x="1514" y="343.7" width="47.3" height="21.3" fill="#f8a48e"/>
<rect x="1561" y="343.7" width="44.3" height="21.3" fill="#f79d86"/>
<rect x="1605" y="343.7" width="45.3" height="21.3" fill="#fbbcaa"/>
<rect x="1650" y="343.7" width="44.6" height="21.3" fill="#f28a70"/>
<rect x="1694.3" y="343.7" width="48.6" height="21.3" fill="#fcc3b2"/>
<rect x="1199" y="364.8" width="45.3" height="21.3" fill="#5a3e9f"/>
<rect x="1244" y="364.8" width="44" height="21.3" fill="#684ea8"/>
<rect x="1287.7" y="364.8" width="45.1" height="21.3" fill="#462c95"/>
<rect x="1332.5" y="364.8" width="47.8" height="21.3" fill="#6e54ac"/>
<rect x="1380" y="364.8" width="45.3" height="21.3" fill="#7a60b3"/>
<rect x="1425" y="364.8" width="44.8" height="21.3" fill="#5e43a2"/>
<rect x="1469.5" y="364.8" width="44.8" height="21.3" fill="#ec795e"/>
<rect x="1514" y="364.8" width="47.3" height="21.3" fill="#db412a"/>
<rect x="1561" y="364.8" width="44.3" height="21.3" fill="#e96e52"/>
<rect x="1605" y="364.8" width="45.3" height="21.3" fill="#fab7a5"/>
<rect x="1650" y="364.8" width="44.6" height="21.3" fill="#f79d86"/>
<rect x="1694.3" y="364.8" width="48.6" height="21.3" fill="#f6957c"/>
<rect x="1199" y="385.8" width="45.3" height="21.3" fill="#9179c1"/>
<rect x="1244" y="385.8" width="44" height="21.3" fill="#9179c1"/>
<rect x="1287.7" y="385.8" width="45.1" height="21.3" fill="#775db1"/>
<rect x="1332.5" y="385.8" width="47.8" height="21.3" fill="#9780c5"/>
<rect x="1380" y="385.8" width="45.3" height="21.3" fill="#856dba"/>
<rect x="1425" y="385.8" width="44.8" height="21.3" fill="#937ac2"/>
<rect x="1469.5" y="385.8" width="44.8" height="21.3" fill="#f79b83"/>
<rect x="1514" y="385.8" width="47.3" height="21.3" fill="#ec795e"/>
<rect x="1561" y="385.8" width="44.3" height="21.3" fill="#f79b83"/>
<rect x="1605" y="385.8" width="45.3" height="21.3" fill="#fcc7b8"/>
<rect x="1650" y="385.8" width="44.6" height="21.3" fill="#fcc7b8"/>
<rect x="1694.3" y="385.8" width="48.6" height="21.3" fill="#f9ad99"/>
<rect x="1199" y="406.8" width="45.3" height="21.3" fill="#9780c5"/>
<rect x="1244" y="406.8" width="44" height="21.3" fill="#957dc4"/>
<rect x="1287.7" y="406.8" width="45.1" height="21.3" fill="#745aaf"/>
<rect x="1332.5" y="406.8" width="47.8" height="21.3" fill="#957dc4"/>
<rect x="1380" y="406.8" width="45.3" height="21.3" fill="#6a4fa9"/>
<rect x="1425" y="406.8" width="44.8" height="21.3" fill="#957dc4"/>
<rect x="1469.5" y="406.8" width="44.8" height="21.3" fill="#f48e75"/>
<rect x="1514" y="406.8" width="47.3" height="21.3" fill="#e6664a"/>
<rect x="1561" y="406.8" width="44.3" height="21.3" fill="#f48e75"/>
<rect x="1605" y="406.8" width="45.3" height="21.3" fill="#fbc0b0"/>
<rect x="1650" y="406.8" width="44.6" height="21.3" fill="#fdd9ce"/>
<rect x="1694.3" y="406.8" width="48.6" height="21.3" fill="#f8a48e"/>
<rect x="1199" y="427.9" width="45.3" height="21.3" fill="#a38dcb"/>
<rect x="1244" y="427.9" width="44" height="21.3" fill="#a38dcb"/>
<rect x="1287.7" y="427.9" width="45.1" height="21.3" fill="#8168b7"/>
<rect x="1332.5" y="427.9" width="47.8" height="21.3" fill="#a08ac9"/>
<rect x="1380" y="427.9" width="45.3" height="21.3" fill="#8168b7"/>
<rect x="1425" y="427.9" width="44.8" height="21.3" fill="#a08ac9"/>
<rect x="1469.5" y="427.9" width="44.8" height="21.3" fill="#f79a81"/>
<rect x="1514" y="427.9" width="47.3" height="21.3" fill="#ec775c"/>
<rect x="1561" y="427.9" width="44.3" height="21.3" fill="#f8a28b"/>
<rect x="1605" y="427.9" width="45.3" height="21.3" fill="#fcc5b5"/>
<rect x="1650" y="427.9" width="44.6" height="21.3" fill="#fdd9ce"/>
<rect x="1694.3" y="427.9" width="48.6" height="21.3" fill="#f9ad99"/>
<rect x="1199" y="448.9" width="45.3" height="21.3" fill="#a894ce"/>
<rect x="1244" y="448.9" width="44" height="21.3" fill="#a792cd"/>
<rect x="1287.7" y="448.9" width="45.1" height="21.3" fill="#876ebb"/>
<rect x="1332.5" y="448.9" width="47.8" height="21.3" fill="#a48fcb"/>
<rect x="1380" y="448.9" width="45.3" height="21.3" fill="#8168b7"/>
<rect x="1425" y="448.9" width="44.8" height="21.3" fill="#a48fcb"/>
<rect x="1469.5" y="448.9" width="44.8" height="21.3" fill="#f7a08a"/>
<rect x="1514" y="448.9" width="47.3" height="21.3" fill="#f1856b"/>
<rect x="1561" y="448.9" width="44.3" height="21.3" fill="#f7a08a"/>
<rect x="1605" y="448.9" width="45.3" height="21.3" fill="#fcc5b5"/>
<rect x="1650" y="448.9" width="44.6" height="21.3" fill="#fdd9ce"/>
<rect x="1694.3" y="448.9" width="48.6" height="21.3" fill="#f9b09d"/>
<rect x="1199" y="469.9" width="45.3" height="21.3" fill="#a28cca"/>
<rect x="1244" y="469.9" width="44" height="21.3" fill="#9982c6"/>
<rect x="1287.7" y="469.9" width="45.1" height="21.3" fill="#745aaf"/>
<rect x="1332.5" y="469.9" width="47.8" height="21.3" fill="#9982c6"/>
<rect x="1380" y="469.9" width="45.3" height="21.3" fill="#6146a4"/>
<rect x="1425" y="469.9" width="44.8" height="21.3" fill="#9982c6"/>
<rect x="1469.5" y="469.9" width="44.8" height="21.3" fill="#f48e75"/>
<rect x="1514" y="469.9" width="47.3" height="21.3" fill="#e56447"/>
<rect x="1561" y="469.9" width="44.3" height="21.3" fill="#f59278"/>
<rect x="1605" y="469.9" width="45.3" height="21.3" fill="#fbbcaa"/>
<rect x="1650" y="469.9" width="44.6" height="21.3" fill="#fdd9ce"/>
<rect x="1694.3" y="469.9" width="48.6" height="21.3" fill="#f79f88"/>
<rect x="1199" y="491" width="45.3" height="21.3" fill="#c6b6dd"/>
<rect x="1244" y="491" width="44" height="21.3" fill="#c1b0db"/>
<rect x="1287.7" y="491" width="45.1" height="21.3" fill="#a28cca"/>
<rect x="1332.5" y="491" width="47.8" height="21.3" fill="#c4b4dc"/>
<rect x="1380" y="491" width="45.3" height="21.3" fill="#9b85c7"/>
<rect x="1425" y="491" width="44.8" height="21.3" fill="#c4b4dc"/>
<rect x="1469.5" y="491" width="44.8" height="21.3" fill="#fcc3b2"/>
<rect x="1514" y="491" width="47.3" height="21.3" fill="#f9af9b"/>
<rect x="1561" y="491" width="44.3" height="21.3" fill="#fdd0c3"/>
<rect x="1605" y="491" width="45.3" height="21.3" fill="#fdd5c9"/>
<rect x="1650" y="491" width="44.6" height="21.3" fill="#fee9e3"/>
<rect x="1694.3" y="491" width="48.6" height="21.3" fill="#fcc7b8"/>
<rect x="1199" y="531.4" width="45.3" height="21.3" fill="#e7e1f1"/>
<rect x="1244" y="531.4" width="44" height="21.3" fill="#fdd2c5"/>
<rect x="1287.7" y="531.4" width="45.1" height="21.3" fill="#dfd6ec"/>
<rect x="1332.5" y="531.4" width="47.8" height="21.3" fill="#dad0e9"/>
<rect x="1380" y="531.4" width="45.3" height="21.3" fill="#fee7e1"/>
<rect x="1425" y="531.4" width="44.8" height="21.3" fill="#e5def0"/>
<rect x="1469.5" y="531.4" width="44.8" height="21.3" fill="#ece6f3"/>
<rect x="1514" y="531.4" width="47.3" height="21.3" fill="#fedbd0"/>
<rect x="1561" y="531.4" width="44.3" height="21.3" fill="#ece6f3"/>
<rect x="1605" y="531.4" width="45.3" height="21.3" fill="#f0ecf6"/>
<rect x="1650" y="531.4" width="44.6" height="21.3" fill="#fee7e1"/>
<rect x="1694.3" y="531.4" width="48.6" height="21.3" fill="#eae5f3"/>
<rect x="1199" y="552.4" width="45.3" height="21.3" fill="#f1edf7"/>
<rect x="1244" y="552.4" width="44" height="21.3" fill="#fdd2c5"/>
<rect x="1287.7" y="552.4" width="45.1" height="21.3" fill="#e7e1f1"/>
<rect x="1332.5" y="552.4" width="47.8" height="21.3" fill="#e6dff0"/>
<rect x="1380" y="552.4" width="45.3" height="21.3" fill="#fee9e3"/>
<rect x="1425" y="552.4" width="44.8" height="21.3" fill="#efeaf5"/>
<rect x="1469.5" y="552.4" width="44.8" height="21.3" fill="#f0ecf6"/>
<rect x="1514" y="552.4" width="47.3" height="21.3" fill="#fedfd5"/>
<rect x="1561" y="552.4" width="44.3" height="21.3" fill="#f2eef7"/>
<rect x="1605" y="552.4" width="45.3" height="21.3" fill="#f4f1f9"/>
<rect x="1650" y="552.4" width="44.6" height="21.3" fill="#feece7"/>
<rect x="1694.3" y="552.4" width="48.6" height="21.3" fill="#f2eef7"/>
<rect x="1199" y="573.4" width="45.3" height="21.3" fill="#d8cde8"/>
<rect x="1244" y="573.4" width="44" height="21.3" fill="#fdd2c5"/>
<rect x="1287.7" y="573.4" width="45.1" height="21.3" fill="#cfc2e3"/>
<rect x="1332.5" y="573.4" width="47.8" height="21.3" fill="#d4c8e5"/>
<rect x="1380" y="573.4" width="45.3" height="21.3" fill="#fee7e1"/>
<rect x="1425" y="573.4" width="44.8" height="21.3" fill="#dfd6ec"/>
<rect x="1469.5" y="573.4" width="44.8" height="21.3" fill="#ece6f3"/>
<rect x="1514" y="573.4" width="47.3" height="21.3" fill="#fdd3c6"/>
<rect x="1561" y="573.4" width="44.3" height="21.3" fill="#ece6f3"/>
<rect x="1605" y="573.4" width="45.3" height="21.3" fill="#f0ecf6"/>
<rect x="1650" y="573.4" width="44.6" height="21.3" fill="#fee2d9"/>
<rect x="1694.3" y="573.4" width="48.6" height="21.3" fill="#eae5f3"/>
<rect x="1199" y="594.5" width="45.3" height="21.3" fill="#ad9ad0"/>
<rect x="1244" y="594.5" width="44" height="21.3" fill="#fdd5c9"/>
<rect x="1287.7" y="594.5" width="45.1" height="21.3" fill="#745aaf"/>
<rect x="1332.5" y="594.5" width="47.8" height="21.3" fill="#c8b9de"/>
<rect x="1380" y="594.5" width="45.3" height="21.3" fill="#d9cfe9"/>
<rect x="1425" y="594.5" width="44.8" height="21.3" fill="#9c86c7"/>
<rect x="1469.5" y="594.5" width="44.8" height="21.3" fill="#fdd0c3"/>
<rect x="1514" y="594.5" width="47.3" height="21.3" fill="#f9aa94"/>
<rect x="1561" y="594.5" width="44.3" height="21.3" fill="#fff5f2"/>
<rect x="1605" y="594.5" width="45.3" height="21.3" fill="#fedcd2"/>
<rect x="1650" y="594.5" width="44.6" height="21.3" fill="#fee4dc"/>
<rect x="1694.3" y="594.5" width="48.6" height="21.3" fill="#fee6de"/>
<rect x="1199" y="615.5" width="45.3" height="21.3" fill="#beaed9"/>
<rect x="1244" y="615.5" width="44" height="21.3" fill="#fee6e0"/>
<rect x="1287.7" y="615.5" width="45.1" height="21.3" fill="#8e76bf"/>
<rect x="1332.5" y="615.5" width="47.8" height="21.3" fill="#d2c5e4"/>
<rect x="1380" y="615.5" width="45.3" height="21.3" fill="#e2daee"/>
<rect x="1425" y="615.5" width="44.8" height="21.3" fill="#b4a1d4"/>
<rect x="1469.5" y="615.5" width="44.8" height="21.3" fill="#fdd5c9"/>
<rect x="1514" y="615.5" width="47.3" height="21.3" fill="#fab9a8"/>
<rect x="1561" y="615.5" width="44.3" height="21.3" fill="#fffbfa"/>
<rect x="1605" y="615.5" width="45.3" height="21.3" fill="#fee4dc"/>
<rect x="1650" y="615.5" width="44.6" height="21.3" fill="#fee8e2"/>
<rect x="1694.3" y="615.5" width="48.6" height="21.3" fill="#fee9e3"/>
<rect x="1199" y="636.5" width="45.3" height="21.3" fill="#9e87c8"/>
<rect x="1244" y="636.5" width="44" height="21.3" fill="#fef1ed"/>
<rect x="1287.7" y="636.5" width="45.1" height="21.3" fill="#5d41a1"/>
<rect x="1332.5" y="636.5" width="47.8" height="21.3" fill="#b7a5d5"/>
<rect x="1380" y="636.5" width="45.3" height="21.3" fill="#c8b9de"/>
<rect x="1425" y="636.5" width="44.8" height="21.3" fill="#8b73be"/>
<rect x="1469.5" y="636.5" width="44.8" height="21.3" fill="#fab9a8"/>
<rect x="1514" y="636.5" width="47.3" height="21.3" fill="#f59278"/>
<rect x="1561" y="636.5" width="44.3" height="21.3" fill="#fedfd5"/>
<rect x="1605" y="636.5" width="45.3" height="21.3" fill="#fdd2c5"/>
<rect x="1650" y="636.5" width="44.6" height="21.3" fill="#fdd8cd"/>
<rect x="1694.3" y="636.5" width="48.6" height="21.3" fill="#fdd9ce"/>
<rect x="1199" y="657.5" width="45.3" height="21.3" fill="#9780c5"/>
<rect x="1244" y="657.5" width="44" height="21.3" fill="#fff3f0"/>
<rect x="1287.7" y="657.5" width="45.1" height="21.3" fill="#5b40a0"/>
<rect x="1332.5" y="657.5" width="47.8" height="21.3" fill="#ad9ad0"/>
<rect x="1380" y="657.5" width="45.3" height="21.3" fill="#c8b9de"/>
<rect x="1425" y="657.5" width="44.8" height="21.3" fill="#876ebb"/>
<rect x="1469.5" y="657.5" width="44.8" height="21.3" fill="#fab4a1"/>
<rect x="1514" y="657.5" width="47.3" height="21.3" fill="#f38c72"/>
<rect x="1561" y="657.5" width="44.3" height="21.3" fill="#fedfd5"/>
<rect x="1605" y="657.5" width="45.3" height="21.3" fill="#fdd0c3"/>
<rect x="1650" y="657.5" width="44.6" height="21.3" fill="#fdd8cd"/>
<rect x="1694.3" y="657.5" width="48.6" height="21.3" fill="#fdd5c9"/>
<rect x="1199" y="678.5" width="45.3" height="21.3" fill="#a18bca"/>
<rect x="1244" y="678.5" width="44" height="21.3" fill="#fff6f4"/>
<rect x="1287.7" y="678.5" width="45.1" height="21.3" fill="#6a4fa9"/>
<rect x="1332.5" y="678.5" width="47.8" height="21.3" fill="#b4a1d4"/>
<rect x="1380" y="678.5" width="45.3" height="21.3" fill="#c8b9de"/>
<rect x="1425" y="678.5" width="44.8" height="21.3" fill="#8d74be"/>
<rect x="1469.5" y="678.5" width="44.8" height="21.3" fill="#fab8a6"/>
<rect x="1514" y="678.5" width="47.3" height="21.3" fill="#f6967d"/>
<rect x="1561" y="678.5" width="44.3" height="21.3" fill="#fedfd5"/>
<rect x="1605" y="678.5" width="45.3" height="21.3" fill="#fdd2c5"/>
<rect x="1650" y="678.5" width="44.6" height="21.3" fill="#fdd9ce"/>
<rect x="1694.3" y="678.5" width="48.6" height="21.3" fill="#fdd8cd"/>
<rect x="1199" y="699.6" width="45.3" height="21.3" fill="#aa96cf"/>
<rect x="1244" y="699.6" width="44" height="21.3" fill="#fffaf9"/>
<rect x="1287.7" y="699.6" width="45.1" height="21.3" fill="#856dba"/>
<rect x="1332.5" y="699.6" width="47.8" height="21.3" fill="#8e76bf"/>
<rect x="1380" y="699.6" width="45.3" height="21.3" fill="#7e65b6"/>
<rect x="1425" y="699.6" width="44.8" height="21.3" fill="#947cc3"/>
<rect x="1469.5" y="699.6" width="44.8" height="21.3" fill="#f08369"/>
<rect x="1514" y="699.6" width="47.3" height="21.3" fill="#d0160a"/>
<rect x="1561" y="699.6" width="44.3" height="21.3" fill="#fab39f"/>
<rect x="1605" y="699.6" width="45.3" height="21.3" fill="#fdcfc1"/>
<rect x="1650" y="699.6" width="44.6" height="21.3" fill="#feede8"/>
<rect x="1694.3" y="699.6" width="48.6" height="21.3" fill="#fee4dc"/>
<rect x="1199" y="720.6" width="45.3" height="21.3" fill="#b4a1d4"/>
<rect x="1244" y="720.6" width="44" height="21.3" fill="#ffffff"/>
<rect x="1287.7" y="720.6" width="45.1" height="21.3" fill="#876ebb"/>
<rect x="1332.5" y="720.6" width="47.8" height="21.3" fill="#967ec4"/>
<rect x="1380" y="720.6" width="45.3" height="21.3" fill="#7a60b3"/>
<rect x="1425" y="720.6" width="44.8" height="21.3" fill="#947cc3"/>
<rect x="1469.5" y="720.6" width="44.8" height="21.3" fill="#f1856b"/>
<rect x="1514" y="720.6" width="47.3" height="21.3" fill="#d21c0e"/>
<rect x="1561" y="720.6" width="44.3" height="21.3" fill="#fbbcaa"/>
<rect x="1605" y="720.6" width="45.3" height="21.3" fill="#fdd2c5"/>
<rect x="1650" y="720.6" width="44.6" height="21.3" fill="#feefeb"/>
<rect x="1694.3" y="720.6" width="48.6" height="21.3" fill="#fee8e2"/>
<rect x="1199" y="741.6" width="45.3" height="21.3" fill="#fee9e3"/>
<rect x="1244" y="741.6" width="44" height="21.3" fill="#fff3f0"/>
<rect x="1287.7" y="741.6" width="45.1" height="21.3" fill="#e7684c"/>
<rect x="1332.5" y="741.6" width="47.8" height="21.3" fill="#dfd6ec"/>
<rect x="1380" y="741.6" width="45.3" height="21.3" fill="#cbbde0"/>
<rect x="1425" y="741.6" width="44.8" height="21.3" fill="#fee9e3"/>
<rect x="1469.5" y="741.6" width="44.8" height="21.3" fill="#feede8"/>
<rect x="1514" y="741.6" width="47.3" height="21.3" fill="#e8e2f2"/>
<rect x="1561" y="741.6" width="44.3" height="21.3" fill="#f8a38c"/>
<rect x="1605" y="741.6" width="45.3" height="21.3" fill="#c8b9de"/>
<rect x="1650" y="741.6" width="44.6" height="21.3" fill="#c4b4dc"/>
<rect x="1694.3" y="741.6" width="48.6" height="21.3" fill="#dcd3eb"/>
<rect x="1199" y="762.6" width="45.3" height="21.3" fill="#fee9e3"/>
<rect x="1244" y="762.6" width="44" height="21.3" fill="#fff3f0"/>
<rect x="1287.7" y="762.6" width="45.1" height="21.3" fill="#ec775c"/>
<rect x="1332.5" y="762.6" width="47.8" height="21.3" fill="#dcd3eb"/>
<rect x="1380" y="762.6" width="45.3" height="21.3" fill="#cbbde0"/>
<rect x="1425" y="762.6" width="44.8" height="21.3" fill="#fee7e1"/>
<rect x="1469.5" y="762.6" width="44.8" height="21.3" fill="#fef0ec"/>
<rect x="1514" y="762.6" width="47.3" height="21.3" fill="#ece6f3"/>
<rect x="1561" y="762.6" width="44.3" height="21.3" fill="#f9aa94"/>
<rect x="1605" y="762.6" width="45.3" height="21.3" fill="#c8b9de"/>
<rect x="1650" y="762.6" width="44.6" height="21.3" fill="#c4b4dc"/>
<rect x="1694.3" y="762.6" width="48.6" height="21.3" fill="#e2daee"/>
<rect x="1199" y="783.6" width="45.3" height="21.3" fill="#fffcfb"/>
<rect x="1244" y="783.6" width="44" height="21.3" fill="#fdfcfe"/>
<rect x="1287.7" y="783.6" width="45.1" height="21.3" fill="#f08268"/>
<rect x="1332.5" y="783.6" width="47.8" height="21.3" fill="#dcd3eb"/>
<rect x="1380" y="783.6" width="45.3" height="21.3" fill="#ccbee1"/>
<rect x="1425" y="783.6" width="44.8" height="21.3" fill="#feefeb"/>
<rect x="1469.5" y="783.6" width="44.8" height="21.3" fill="#fee9e3"/>
<rect x="1514" y="783.6" width="47.3" height="21.3" fill="#f0ecf6"/>
<rect x="1561" y="783.6" width="44.3" height="21.3" fill="#f8a690"/>
<rect x="1605" y="783.6" width="45.3" height="21.3" fill="#d2c5e4"/>
<rect x="1650" y="783.6" width="44.6" height="21.3" fill="#cbbde0"/>
<rect x="1694.3" y="783.6" width="48.6" height="21.3" fill="#ece6f3"/>
<rect x="1199" y="804.7" width="45.3" height="21.3" fill="#faf8fc"/>
<rect x="1244" y="804.7" width="44" height="21.3" fill="#f5f3f9"/>
<rect x="1287.7" y="804.7" width="45.1" height="21.3" fill="#fbbfae"/>
<rect x="1332.5" y="804.7" width="47.8" height="21.3" fill="#feeeea"/>
<rect x="1380" y="804.7" width="45.3" height="21.3" fill="#e6dff0"/>
<rect x="1425" y="804.7" width="44.8" height="21.3" fill="#f5f3f9"/>
<rect x="1469.5" y="804.7" width="44.8" height="21.3" fill="#fef1ed"/>
<rect x="1514" y="804.7" width="47.3" height="21.3" fill="#e0d7ec"/>
<rect x="1561" y="804.7" width="44.3" height="21.3" fill="#feeeea"/>
<rect x="1605" y="804.7" width="45.3" height="21.3" fill="#ffffff"/>
<rect x="1650" y="804.7" width="44.6" height="21.3" fill="#e9e3f2"/>
<rect x="1694.3" y="804.7" width="48.6" height="21.3" fill="#fffefe"/>
<rect x="1199" y="825.7" width="45.3" height="21.3" fill="#fcfbfd"/>
<rect x="1244" y="825.7" width="44" height="21.3" fill="#fff5f2"/>
<rect x="1287.7" y="825.7" width="45.1" height="21.3" fill="#d6cbe7"/>
<rect x="1332.5" y="825.7" width="47.8" height="21.3" fill="#fbc0b0"/>
<rect x="1380" y="825.7" width="45.3" height="21.3" fill="#fddacf"/>
<rect x="1425" y="825.7" width="44.8" height="21.3" fill="#fff3f0"/>
<rect x="1469.5" y="825.7" width="44.8" height="21.3" fill="#e8e2f2"/>
<rect x="1514" y="825.7" width="47.3" height="21.3" fill="#d1c4e3"/>
<rect x="1561" y="825.7" width="44.3" height="21.3" fill="#d1c4e3"/>
<rect x="1605" y="825.7" width="45.3" height="21.3" fill="#fef1ed"/>
<rect x="1650" y="825.7" width="44.6" height="21.3" fill="#fff6f4"/>
<rect x="1694.3" y="825.7" width="48.6" height="21.3" fill="#fffefe"/>
<rect x="1199" y="846.7" width="45.3" height="21.3" fill="#fcfbfd"/>
<rect x="1244" y="846.7" width="44" height="21.3" fill="#fff8f6"/>
<rect x="1287.7" y="846.7" width="45.1" height="21.3" fill="#d4c8e5"/>
<rect x="1332.5" y="846.7" width="47.8" height="21.3" fill="#fbc0b0"/>
<rect x="1380" y="846.7" width="45.3" height="21.3" fill="#fee4dc"/>
<rect x="1425" y="846.7" width="44.8" height="21.3" fill="#fff3f0"/>
<rect x="1469.5" y="846.7" width="44.8" height="21.3" fill="#ede8f4"/>
<rect x="1514" y="846.7" width="47.3" height="21.3" fill="#d4c8e5"/>
<rect x="1561" y="846.7" width="44.3" height="21.3" fill="#d4c8e5"/>
<rect x="1605" y="846.7" width="45.3" height="21.3" fill="#fee9e3"/>
<rect x="1650" y="846.7" width="44.6" height="21.3" fill="#fffcfb"/>
<rect x="1694.3" y="846.7" width="48.6" height="21.3" fill="#fffefe"/>
<rect x="1199" y="867.7" width="45.3" height="21.3" fill="#a48fcb"/>
<rect x="1244" y="867.7" width="44" height="21.3" fill="#ccbee1"/>
<rect x="1287.7" y="867.7" width="45.1" height="21.3" fill="#e2daee"/>
<rect x="1332.5" y="867.7" width="47.8" height="21.3" fill="#ece6f3"/>
<rect x="1380" y="867.7" width="45.3" height="21.3" fill="#f0846a"/>
<rect x="1425" y="867.7" width="44.8" height="21.3" fill="#a792cd"/>
<rect x="1469.5" y="867.7" width="44.8" height="21.3" fill="#eee9f5"/>
<rect x="1514" y="867.7" width="47.3" height="21.3" fill="#e7e1f1"/>
<rect x="1561" y="867.7" width="44.3" height="21.3" fill="#fef1ed"/>
<rect x="1605" y="867.7" width="45.3" height="21.3" fill="#f7f5fb"/>
<rect x="1650" y="867.7" width="44.6" height="21.3" fill="#fab9a8"/>
<rect x="1694.3" y="867.7" width="48.6" height="21.3" fill="#d5c9e6"/>
<rect x="1199" y="888.7" width="45.3" height="21.3" fill="#876ebb"/>
<rect x="1244" y="888.7" width="44" height="21.3" fill="#aa96cf"/>
<rect x="1287.7" y="888.7" width="45.1" height="21.3" fill="#bfafda"/>
<rect x="1332.5" y="888.7" width="47.8" height="21.3" fill="#cbbde0"/>
<rect x="1380" y="888.7" width="45.3" height="21.3" fill="#f6967d"/>
<rect x="1425" y="888.7" width="44.8" height="21.3" fill="#8e76bf"/>
<rect x="1469.5" y="888.7" width="44.8" height="21.3" fill="#fff6f4"/>
<rect x="1514" y="888.7" width="47.3" height="21.3" fill="#fffaf9"/>
<rect x="1561" y="888.7" width="44.3" height="21.3" fill="#fedfd5"/>
<rect x="1605" y="888.7" width="45.3" height="21.3" fill="#fffaf9"/>
<rect x="1650" y="888.7" width="44.6" height="21.3" fill="#fab29e"/>
<rect x="1694.3" y="888.7" width="48.6" height="21.3" fill="#eee9f5"/>
<rect x="1199" y="909.8" width="45.3" height="21.3" fill="#cfc2e3"/>
<rect x="1244" y="909.8" width="44" height="21.3" fill="#feece7"/>
<rect x="1287.7" y="909.8" width="45.1" height="21.3" fill="#a18bca"/>
<rect x="1332.5" y="909.8" width="47.8" height="21.3" fill="#ffffff"/>
<rect x="1380" y="909.8" width="45.3" height="21.3" fill="#fab5a2"/>
<rect x="1425" y="909.8" width="44.8" height="21.3" fill="#fffdfc"/>
<rect x="1469.5" y="909.8" width="44.8" height="21.3" fill="#cdc0e2"/>
<rect x="1514" y="909.8" width="47.3" height="21.3" fill="#fee6de"/>
<rect x="1561" y="909.8" width="44.3" height="21.3" fill="#b09cd2"/>
<rect x="1605" y="909.8" width="45.3" height="21.3" fill="#f7f5fb"/>
<rect x="1650" y="909.8" width="44.6" height="21.3" fill="#fab7a5"/>
<rect x="1694.3" y="909.8" width="48.6" height="21.3" fill="#faf8fc"/>
<rect x="1199" y="930.8" width="45.3" height="21.3" fill="#52379a"/>
<rect x="1244" y="930.8" width="44" height="21.3" fill="#856dba"/>
<rect x="1287.7" y="930.8" width="45.1" height="21.3" fill="#876ebb"/>
<rect x="1332.5" y="930.8" width="47.8" height="21.3" fill="#9f88c9"/>
<rect x="1380" y="930.8" width="45.3" height="21.3" fill="#fbbdac"/>
<rect x="1425" y="930.8" width="44.8" height="21.3" fill="#5e43a2"/>
<rect x="1469.5" y="930.8" width="44.8" height="21.3" fill="#fcc3b2"/>
<rect x="1514" y="930.8" width="47.3" height="21.3" fill="#fcc5b5"/>
<rect x="1561" y="930.8" width="44.3" height="21.3" fill="#f9ad99"/>
<rect x="1605" y="930.8" width="45.3" height="21.3" fill="#fedfd5"/>
<rect x="1650" y="930.8" width="44.6" height="21.3" fill="#f38b71"/>
<rect x="1694.3" y="930.8" width="48.6" height="21.3" fill="#fee4dc"/>
<rect x="1199" y="951.8" width="45.3" height="21.3" fill="#f4f1f9"/>
<rect x="1244" y="951.8" width="44" height="21.3" fill="#faf8fc"/>
<rect x="1287.7" y="951.8" width="45.1" height="21.3" fill="#fbf9fc"/>
<rect x="1332.5" y="951.8" width="47.8" height="21.3" fill="#f2eef7"/>
<rect x="1380" y="951.8" width="45.3" height="21.3" fill="#fcc6b6"/>
<rect x="1425" y="951.8" width="44.8" height="21.3" fill="#e9e3f2"/>
<rect x="1469.5" y="951.8" width="44.8" height="21.3" fill="#f2eef7"/>
<rect x="1514" y="951.8" width="47.3" height="21.3" fill="#f2eef7"/>
<rect x="1561" y="951.8" width="44.3" height="21.3" fill="#f9f7fb"/>
<rect x="1605" y="951.8" width="45.3" height="21.3" fill="#f2eef7"/>
<rect x="1650" y="951.8" width="44.6" height="21.3" fill="#fdd5c9"/>
<rect x="1694.3" y="951.8" width="48.6" height="21.3" fill="#fffefe"/>
<rect x="1199" y="972.8" width="45.3" height="21.3" fill="#fdfcfe"/>
<rect x="1244" y="972.8" width="44" height="21.3" fill="#ffffff"/>
<rect x="1287.7" y="972.8" width="45.1" height="21.3" fill="#ffffff"/>
<rect x="1332.5" y="972.8" width="47.8" height="21.3" fill="#faf8fc"/>
<rect x="1380" y="972.8" width="45.3" height="21.3" fill="#fcc8b9"/>
<rect x="1425" y="972.8" width="44.8" height="21.3" fill="#fdfcfe"/>
<rect x="1469.5" y="972.8" width="44.8" height="21.3" fill="#e9e3f2"/>
<rect x="1514" y="972.8" width="47.3" height="21.3" fill="#e8e2f2"/>
<rect x="1561" y="972.8" width="44.3" height="21.3" fill="#f6f4fa"/>
<rect x="1605" y="972.8" width="45.3" height="21.3" fill="#ede8f4"/>
<rect x="1650" y="972.8" width="44.6" height="21.3" fill="#fedbd0"/>
<rect x="1694.3" y="972.8" width="48.6" height="21.3" fill="#fffefe"/>
<rect x="1199" y="993.8" width="45.3" height="21.3" fill="#cabbe0"/>
<rect x="1244" y="993.8" width="44" height="21.3" fill="#f0ecf6"/>
<rect x="1287.7" y="993.8" width="45.1" height="21.3" fill="#cabbe0"/>
<rect x="1332.5" y="993.8" width="47.8" height="21.3" fill="#dbd1ea"/>
<rect x="1380" y="993.8" width="45.3" height="21.3" fill="#fedcd2"/>
<rect x="1425" y="993.8" width="44.8" height="21.3" fill="#d3c6e5"/>
<rect x="1469.5" y="993.8" width="44.8" height="21.3" fill="#ffffff"/>
<rect x="1514" y="993.8" width="47.3" height="21.3" fill="#fee4dc"/>
<rect x="1561" y="993.8" width="44.3" height="21.3" fill="#f9f7fb"/>
<rect x="1605" y="993.8" width="45.3" height="21.3" fill="#f2eef7"/>
<rect x="1650" y="993.8" width="44.6" height="21.3" fill="#fdd2c5"/>
<rect x="1694.3" y="993.8" width="48.6" height="21.3" fill="#f9f7fb"/>
<rect x="1199" y="1014.9" width="45.3" height="21.3" fill="#d6cbe7"/>
<rect x="1244" y="1014.9" width="44" height="21.3" fill="#e3dbee"/>
<rect x="1287.7" y="1014.9" width="45.1" height="21.3" fill="#d9cfe9"/>
<rect x="1332.5" y="1014.9" width="47.8" height="21.3" fill="#f0ecf6"/>
<rect x="1380" y="1014.9" width="45.3" height="21.3" fill="#fedcd2"/>
<rect x="1425" y="1014.9" width="44.8" height="21.3" fill="#e9e3f2"/>
<rect x="1469.5" y="1014.9" width="44.8" height="21.3" fill="#fffdfc"/>
<rect x="1514" y="1014.9" width="47.3" height="21.3" fill="#fef0ec"/>
<rect x="1561" y="1014.9" width="44.3" height="21.3" fill="#fff6f4"/>
<rect x="1605" y="1014.9" width="45.3" height="21.3" fill="#fff3f0"/>
<rect x="1650" y="1014.9" width="44.6" height="21.3" fill="#fdd9ce"/>
<rect x="1694.3" y="1014.9" width="48.6" height="21.3" fill="#fff3f0"/>
<rect x="1199" y="1035.9" width="45.3" height="21.3" fill="#cdc0e2"/>
<rect x="1244" y="1035.9" width="44" height="21.3" fill="#fff5f2"/>
<rect x="1287.7" y="1035.9" width="45.1" height="21.3" fill="#d1c4e3"/>
<rect x="1332.5" y="1035.9" width="47.8" height="21.3" fill="#d1c4e3"/>
<rect x="1380" y="1035.9" width="45.3" height="21.3" fill="#fee6de"/>
<rect x="1425" y="1035.9" width="44.8" height="21.3" fill="#d3c6e5"/>
<rect x="1469.5" y="1035.9" width="44.8" height="21.3" fill="#ffffff"/>
<rect x="1514" y="1035.9" width="47.3" height="21.3" fill="#fedcd2"/>
<rect x="1561" y="1035.9" width="44.3" height="21.3" fill="#fff8f6"/>
<rect x="1605" y="1035.9" width="45.3" height="21.3" fill="#f6f4fa"/>
<rect x="1650" y="1035.9" width="44.6" height="21.3" fill="#fdd5c9"/>
<rect x="1694.3" y="1035.9" width="48.6" height="21.3" fill="#f9f7fb"/>
<rect x="1199" y="1056.9" width="45.3" height="21.3" fill="#9c86c7"/>
<rect x="1244" y="1056.9" width="44" height="21.3" fill="#9881c5"/>
<rect x="1287.7" y="1056.9" width="45.1" height="21.3" fill="#baa9d7"/>
<rect x="1332.5" y="1056.9" width="47.8" height="21.3" fill="#d3c6e5"/>
<rect x="1380" y="1056.9" width="45.3" height="21.3" fill="#fee8e2"/>
<rect x="1425" y="1056.9" width="44.8" height="21.3" fill="#b4a1d4"/>
<rect x="1469.5" y="1056.9" width="44.8" height="21.3" fill="#fdd5c9"/>
<rect x="1514" y="1056.9" width="47.3" height="21.3" fill="#fee0d7"/>
<rect x="1561" y="1056.9" width="44.3" height="21.3" fill="#fbbfae"/>
<rect x="1605" y="1056.9" width="45.3" height="21.3" fill="#fdd3c6"/>
<rect x="1650" y="1056.9" width="44.6" height="21.3" fill="#f9ae9a"/>
<rect x="1694.3" y="1056.9" width="48.6" height="21.3" fill="#fee0d7"/>
<rect x="1199" y="1077.9" width="45.3" height="21.3" fill="#d8cde8"/>
<rect x="1244" y="1077.9" width="44" height="21.3" fill="#e0d7ec"/>
<rect x="1287.7" y="1077.9" width="45.1" height="21.3" fill="#f0ecf6"/>
<rect x="1332.5" y="1077.9" width="47.8" height="21.3" fill="#f2eef7"/>
<rect x="1380" y="1077.9" width="45.3" height="21.3" fill="#fee9e3"/>
<rect x="1425" y="1077.9" width="44.8" height="21.3" fill="#fdfcfe"/>
<rect x="1469.5" y="1077.9" width="44.8" height="21.3" fill="#ffffff"/>
<rect x="1514" y="1077.9" width="47.3" height="21.3" fill="#f9f7fb"/>
<rect x="1561" y="1077.9" width="44.3" height="21.3" fill="#fff8f6"/>
<rect x="1605" y="1077.9" width="45.3" height="21.3" fill="#ffffff"/>
<rect x="1650" y="1077.9" width="44.6" height="21.3" fill="#fee4dc"/>
<rect x="1694.3" y="1077.9" width="48.6" height="21.3" fill="#fff6f4"/>
<rect x="1199" y="1098.9" width="45.3" height="21.3" fill="#b4a1d4"/>
<rect x="1244" y="1098.9" width="44" height="21.3" fill="#bcabd8"/>
<rect x="1287.7" y="1098.9" width="45.1" height="21.3" fill="#bcabd8"/>
<rect x="1332.5" y="1098.9" width="47.8" height="21.3" fill="#d3c6e5"/>
<rect x="1380" y="1098.9" width="45.3" height="21.3" fill="#fee9e3"/>
<rect x="1425" y="1098.9" width="44.8" height="21.3" fill="#bcabd8"/>
<rect x="1469.5" y="1098.9" width="44.8" height="21.3" fill="#fdd9ce"/>
<rect x="1514" y="1098.9" width="47.3" height="21.3" fill="#fdd9ce"/>
<rect x="1561" y="1098.9" width="44.3" height="21.3" fill="#fdd0c3"/>
<rect x="1605" y="1098.9" width="45.3" height="21.3" fill="#fdd9ce"/>
<rect x="1650" y="1098.9" width="44.6" height="21.3" fill="#fbc0b0"/>
<rect x="1694.3" y="1098.9" width="48.6" height="21.3" fill="#fee4dc"/>
<rect x="1199" y="1120" width="45.3" height="21.3" fill="#ab97cf"/>
<rect x="1244" y="1120" width="44" height="21.3" fill="#a48fcb"/>
<rect x="1287.7" y="1120" width="45.1" height="21.3" fill="#c9badf"/>
<rect x="1332.5" y="1120" width="47.8" height="21.3" fill="#dbd1ea"/>
<rect x="1380" y="1120" width="45.3" height="21.3" fill="#fee9e3"/>
<rect x="1425" y="1120" width="44.8" height="21.3" fill="#c5b5dd"/>
<rect x="1469.5" y="1120" width="44.8" height="21.3" fill="#fdd9ce"/>
<rect x="1514" y="1120" width="47.3" height="21.3" fill="#fff3f0"/>
<rect x="1561" y="1120" width="44.3" height="21.3" fill="#fdd0c3"/>
<rect x="1605" y="1120" width="45.3" height="21.3" fill="#fdd9ce"/>
<rect x="1650" y="1120" width="44.6" height="21.3" fill="#fbc0b0"/>
<rect x="1694.3" y="1120" width="48.6" height="21.3" fill="#fee6de"/>
<rect x="1199" y="1141" width="45.3" height="21.3" fill="#ae9bd1"/>
<rect x="1244" y="1141" width="44" height="21.3" fill="#a894ce"/>
<rect x="1287.7" y="1141" width="45.1" height="21.3" fill="#d3c6e5"/>
<rect x="1332.5" y="1141" width="47.8" height="21.3" fill="#e0d7ec"/>
<rect x="1380" y="1141" width="45.3" height="21.3" fill="#fee9e3"/>
<rect x="1425" y="1141" width="44.8" height="21.3" fill="#c8b9de"/>
<rect x="1469.5" y="1141" width="44.8" height="21.3" fill="#fedcd2"/>
<rect x="1514" y="1141" width="47.3" height="21.3" fill="#fff6f4"/>
<rect x="1561" y="1141" width="44.3" height="21.3" fill="#fdd0c3"/>
<rect x="1605" y="1141" width="45.3" height="21.3" fill="#fdd9ce"/>
<rect x="1650" y="1141" width="44.6" height="21.3" fill="#fcc3b2"/>
<rect x="1694.3" y="1141" width="48.6" height="21.3" fill="#fee8e2"/>
<rect x="1199" y="1162" width="45.3" height="21.3" fill="#ab97cf"/>
<rect x="1244" y="1162" width="44" height="21.3" fill="#a48fcb"/>
<rect x="1287.7" y="1162" width="45.1" height="21.3" fill="#d3c6e5"/>
<rect x="1332.5" y="1162" width="47.8" height="21.3" fill="#e0d7ec"/>
<rect x="1380" y="1162" width="45.3" height="21.3" fill="#fee9e3"/>
<rect x="1425" y="1162" width="44.8" height="21.3" fill="#c8b9de"/>
<rect x="1469.5" y="1162" width="44.8" height="21.3" fill="#fedcd2"/>
<rect x="1514" y="1162" width="47.3" height="21.3" fill="#fff3f0"/>
<rect x="1561" y="1162" width="44.3" height="21.3" fill="#fdd0c3"/>
<rect x="1605" y="1162" width="45.3" height="21.3" fill="#fdd9ce"/>
<rect x="1650" y="1162" width="44.6" height="21.3" fill="#fbc0b0"/>
<rect x="1694.3" y="1162" width="48.6" height="21.3" fill="#fee6de"/>
<rect x="1199" y="1183" width="45.3" height="21.3" fill="#9179c1"/>
<rect x="1244" y="1183" width="44" height="21.3" fill="#b4a1d4"/>
<rect x="1287.7" y="1183" width="45.1" height="21.3" fill="#9881c5"/>
<rect x="1332.5" y="1183" width="47.8" height="21.3" fill="#b4a1d4"/>
<rect x="1380" y="1183" width="45.3" height="21.3" fill="#feede8"/>
<rect x="1425" y="1183" width="44.8" height="21.3" fill="#9c86c7"/>
<rect x="1469.5" y="1183" width="44.8" height="21.3" fill="#fdcbbc"/>
<rect x="1514" y="1183" width="47.3" height="21.3" fill="#fbc0b0"/>
<rect x="1561" y="1183" width="44.3" height="21.3" fill="#fdcbbc"/>
<rect x="1605" y="1183" width="45.3" height="21.3" fill="#fdd5c9"/>
<rect x="1650" y="1183" width="44.6" height="21.3" fill="#f9ac97"/>
<rect x="1694.3" y="1183" width="48.6" height="21.3" fill="#fee0d7"/>
<rect x="1199" y="1204" width="45.3" height="21.3" fill="#b4a1d4"/>
<rect x="1244" y="1204" width="44" height="21.3" fill="#c1b0db"/>
<rect x="1287.7" y="1204" width="45.1" height="21.3" fill="#baa9d7"/>
<rect x="1332.5" y="1204" width="47.8" height="21.3" fill="#d3c6e5"/>
<rect x="1380" y="1204" width="45.3" height="21.3" fill="#feede8"/>
<rect x="1425" y="1204" width="44.8" height="21.3" fill="#bcabd8"/>
<rect x="1469.5" y="1204" width="44.8" height="21.3" fill="#fedcd2"/>
<rect x="1514" y="1204" width="47.3" height="21.3" fill="#fdd5c9"/>
<rect x="1561" y="1204" width="44.3" height="21.3" fill="#fedcd2"/>
<rect x="1605" y="1204" width="45.3" height="21.3" fill="#feede8"/>
<rect x="1650" y="1204" width="44.6" height="21.3" fill="#fbbcaa"/>
<rect x="1694.3" y="1204" width="48.6" height="21.3" fill="#fee9e3"/>
<rect x="1199" y="1225.1" width="45.3" height="21.3" fill="#b7a5d5"/>
<rect x="1244" y="1225.1" width="44" height="21.3" fill="#b19dd2"/>
<rect x="1287.7" y="1225.1" width="45.1" height="21.3" fill="#ccbee1"/>
<rect x="1332.5" y="1225.1" width="47.8" height="21.3" fill="#dbd1ea"/>
<rect x="1380" y="1225.1" width="45.3" height="21.3" fill="#feede8"/>
<rect x="1425" y="1225.1" width="44.8" height="21.3" fill="#c9badf"/>
<rect x="1469.5" y="1225.1" width="44.8" height="21.3" fill="#fedcd2"/>
<rect x="1514" y="1225.1" width="47.3" height="21.3" fill="#fee9e3"/>
<rect x="1561" y="1225.1" width="44.3" height="21.3" fill="#fdd5c9"/>
<rect x="1605" y="1225.1" width="45.3" height="21.3" fill="#fedcd2"/>
<rect x="1650" y="1225.1" width="44.6" height="21.3" fill="#fbbfae"/>
<rect x="1694.3" y="1225.1" width="48.6" height="21.3" fill="#fee8e2"/>
<rect x="1199" y="1246.1" width="45.3" height="21.3" fill="#856dba"/>
<rect x="1244" y="1246.1" width="44" height="21.3" fill="#9c86c7"/>
<rect x="1287.7" y="1246.1" width="45.1" height="21.3" fill="#876ebb"/>
<rect x="1332.5" y="1246.1" width="47.8" height="21.3" fill="#b19dd2"/>
<rect x="1380" y="1246.1" width="45.3" height="21.3" fill="#feede8"/>
<rect x="1425" y="1246.1" width="44.8" height="21.3" fill="#8870bc"/>
<rect x="1469.5" y="1246.1" width="44.8" height="21.3" fill="#fdd0c3"/>
<rect x="1514" y="1246.1" width="47.3" height="21.3" fill="#fbbfae"/>
<rect x="1561" y="1246.1" width="44.3" height="21.3" fill="#fdcbbc"/>
<rect x="1605" y="1246.1" width="45.3" height="21.3" fill="#fdd9ce"/>
<rect x="1650" y="1246.1" width="44.6" height="21.3" fill="#f79b83"/>
<rect x="1694.3" y="1246.1" width="48.6" height="21.3" fill="#fee4dc"/>
<rect x="1199" y="1267.1" width="45.3" height="21.3" fill="#b4a1d4"/>
<rect x="1244" y="1267.1" width="44" height="21.3" fill="#ad9ad0"/>
<rect x="1287.7" y="1267.1" width="45.1" height="21.3" fill="#d6cbe7"/>
<rect x="1332.5" y="1267.1" width="47.8" height="21.3" fill="#e0d7ec"/>
<rect x="1380" y="1267.1" width="45.3" height="21.3" fill="#feede8"/>
<rect x="1425" y="1267.1" width="44.8" height="21.3" fill="#cabbe0"/>
<rect x="1469.5" y="1267.1" width="44.8" height="21.3" fill="#fee0d7"/>
<rect x="1514" y="1267.1" width="47.3" height="21.3" fill="#fff8f6"/>
<rect x="1561" y="1267.1" width="44.3" height="21.3" fill="#fdd3c6"/>
<rect x="1605" y="1267.1" width="45.3" height="21.3" fill="#fee0d7"/>
<rect x="1650" y="1267.1" width="44.6" height="21.3" fill="#fcc3b2"/>
<rect x="1694.3" y="1267.1" width="48.6" height="21.3" fill="#fee9e3"/>
<rect x="1199" y="1288.1" width="45.3" height="21.3" fill="#baa9d7"/>
<rect x="1244" y="1288.1" width="44" height="21.3" fill="#ccbee1"/>
<rect x="1287.7" y="1288.1" width="45.1" height="21.3" fill="#ccbee1"/>
<rect x="1332.5" y="1288.1" width="47.8" height="21.3" fill="#d3c6e5"/>
<rect x="1380" y="1288.1" width="45.3" height="21.3" fill="#fef0ec"/>
<rect x="1425" y="1288.1" width="44.8" height="21.3" fill="#c5b5dd"/>
<rect x="1469.5" y="1288.1" width="44.8" height="21.3" fill="#fee9e3"/>
<rect x="1514" y="1288.1" width="47.3" height="21.3" fill="#fee6de"/>
<rect x="1561" y="1288.1" width="44.3" height="21.3" fill="#fee8e2"/>
<rect x="1605" y="1288.1" width="45.3" height="21.3" fill="#fff8f6"/>
<rect x="1650" y="1288.1" width="44.6" height="21.3" fill="#fcc6b6"/>
<rect x="1694.3" y="1288.1" width="48.6" height="21.3" fill="#fff6f4"/>
<rect x="1199" y="1309.1" width="45.3" height="21.3" fill="#9c86c7"/>
<rect x="1244" y="1309.1" width="44" height="21.3" fill="#ae9bd1"/>
<rect x="1287.7" y="1309.1" width="45.1" height="21.3" fill="#a48fcb"/>
<rect x="1332.5" y="1309.1" width="47.8" height="21.3" fill="#b19dd2"/>
<rect x="1380" y="1309.1" width="45.3" height="21.3" fill="#fef0ec"/>
<rect x="1425" y="1309.1" width="44.8" height="21.3" fill="#a18bca"/>
<rect x="1469.5" y="1309.1" width="44.8" height="21.3" fill="#fcc6b6"/>
<rect x="1514" y="1309.1" width="47.3" height="21.3" fill="#fab5a2"/>
<rect x="1561" y="1309.1" width="44.3" height="21.3" fill="#fab29e"/>
<rect x="1605" y="1309.1" width="45.3" height="21.3" fill="#fee4dc"/>
<rect x="1650" y="1309.1" width="44.6" height="21.3" fill="#f8a38c"/>
<rect x="1694.3" y="1309.1" width="48.6" height="21.3" fill="#fdd9ce"/>
<rect x="1199" y="1330.2" width="45.3" height="21.3" fill="#d1c4e3"/>
<rect x="1244" y="1330.2" width="44" height="21.3" fill="#d6cbe7"/>
<rect x="1287.7" y="1330.2" width="45.1" height="21.3" fill="#d9cfe9"/>
<rect x="1332.5" y="1330.2" width="47.8" height="21.3" fill="#e3dbee"/>
<rect x="1380" y="1330.2" width="45.3" height="21.3" fill="#fff3f0"/>
<rect x="1425" y="1330.2" width="44.8" height="21.3" fill="#e0d7ec"/>
<rect x="1469.5" y="1330.2" width="44.8" height="21.3" fill="#fef0ec"/>
<rect x="1514" y="1330.2" width="47.3" height="21.3" fill="#feede8"/>
<rect x="1561" y="1330.2" width="44.3" height="21.3" fill="#fee8e2"/>
<rect x="1605" y="1330.2" width="45.3" height="21.3" fill="#fff8f6"/>
<rect x="1650" y="1330.2" width="44.6" height="21.3" fill="#fdd9ce"/>
<rect x="1694.3" y="1330.2" width="48.6" height="21.3" fill="#fff6f4"/>
<rect x="1199" y="1351.2" width="45.3" height="21.3" fill="#9c86c7"/>
<rect x="1244" y="1351.2" width="44" height="21.3" fill="#beaed9"/>
<rect x="1287.7" y="1351.2" width="45.1" height="21.3" fill="#876ebb"/>
<rect x="1332.5" y="1351.2" width="47.8" height="21.3" fill="#beaed9"/>
<rect x="1380" y="1351.2" width="45.3" height="21.3" fill="#fff8f6"/>
<rect x="1425" y="1351.2" width="44.8" height="21.3" fill="#a48fcb"/>
<rect x="1469.5" y="1351.2" width="44.8" height="21.3" fill="#fee8e2"/>
<rect x="1514" y="1351.2" width="47.3" height="21.3" fill="#fbc0b0"/>
<rect x="1561" y="1351.2" width="44.3" height="21.3" fill="#fee9e3"/>
<rect x="1605" y="1351.2" width="45.3" height="21.3" fill="#feede8"/>
<rect x="1650" y="1351.2" width="44.6" height="21.3" fill="#f6957c"/>
<rect x="1694.3" y="1351.2" width="48.6" height="21.3" fill="#feede8"/>
<rect x="1199" y="1372.2" width="45.3" height="21.3" fill="#e86a4e"/>
<rect x="1244" y="1372.2" width="44" height="21.3" fill="#fab5a2"/>
<rect x="1287.7" y="1372.2" width="45.1" height="21.3" fill="#fdd5c9"/>
<rect x="1332.5" y="1372.2" width="47.8" height="21.3" fill="#f79c84"/>
<rect x="1380" y="1372.2" width="45.3" height="21.3" fill="#ccbee1"/>
<rect x="1425" y="1372.2" width="44.8" height="21.3" fill="#d0160a"/>
<rect x="1469.5" y="1372.2" width="44.8" height="21.3" fill="#d3c6e5"/>
<rect x="1514" y="1372.2" width="47.3" height="21.3" fill="#9c86c7"/>
<rect x="1561" y="1372.2" width="44.3" height="21.3" fill="#baa9d7"/>
<rect x="1605" y="1372.2" width="45.3" height="21.3" fill="#bcabd8"/>
<rect x="1650" y="1372.2" width="44.6" height="21.3" fill="#9179c1"/>
<rect x="1694.3" y="1372.2" width="48.6" height="21.3" fill="#d6cbe7"/>
<rect x="1199" y="1393.2" width="45.3" height="21.3" fill="#ee7f64"/>
<rect x="1244" y="1393.2" width="44" height="21.3" fill="#fab5a2"/>
<rect x="1287.7" y="1393.2" width="45.1" height="21.3" fill="#fdd3c6"/>
<rect x="1332.5" y="1393.2" width="47.8" height="21.3" fill="#f7a08a"/>
<rect x="1380" y="1393.2" width="45.3" height="21.3" fill="#e0d7ec"/>
<rect x="1425" y="1393.2" width="44.8" height="21.3" fill="#d21d0f"/>
<rect x="1469.5" y="1393.2" width="44.8" height="21.3" fill="#c8b9de"/>
<rect x="1514" y="1393.2" width="47.3" height="21.3" fill="#967ec4"/>
<rect x="1561" y="1393.2" width="44.3" height="21.3" fill="#b6a4d5"/>
<rect x="1605" y="1393.2" width="45.3" height="21.3" fill="#b19dd2"/>
<rect x="1650" y="1393.2" width="44.6" height="21.3" fill="#967ec4"/>
<rect x="1694.3" y="1393.2" width="48.6" height="21.3" fill="#d3c6e5"/>
<rect x="1199" y="1414.2" width="45.3" height="21.3" fill="#f1886e"/>
<rect x="1244" y="1414.2" width="44" height="21.3" fill="#fab7a5"/>
<rect x="1287.7" y="1414.2" width="45.1" height="21.3" fill="#fdd3c6"/>
<rect x="1332.5" y="1414.2" width="47.8" height="21.3" fill="#f8a28b"/>
<rect x="1380" y="1414.2" width="45.3" height="21.3" fill="#e0d7ec"/>
<rect x="1425" y="1414.2" width="44.8" height="21.3" fill="#d62b1a"/>
<rect x="1469.5" y="1414.2" width="44.8" height="21.3" fill="#c8b9de"/>
<rect x="1514" y="1414.2" width="47.3" height="21.3" fill="#9c86c7"/>
<rect x="1561" y="1414.2" width="44.3" height="21.3" fill="#bcabd8"/>
<rect x="1605" y="1414.2" width="45.3" height="21.3" fill="#b4a1d4"/>
<rect x="1650" y="1414.2" width="44.6" height="21.3" fill="#9881c5"/>
<rect x="1694.3" y="1414.2" width="48.6" height="21.3" fill="#d3c6e5"/>
<rect x="1199" y="1435.2" width="45.3" height="21.3" fill="#f1886e"/>
<rect x="1244" y="1435.2" width="44" height="21.3" fill="#fab7a5"/>
<rect x="1287.7" y="1435.2" width="45.1" height="21.3" fill="#fdd3c6"/>
<rect x="1332.5" y="1435.2" width="47.8" height="21.3" fill="#f8a48e"/>
<rect x="1380" y="1435.2" width="45.3" height="21.3" fill="#e0d7ec"/>
<rect x="1425" y="1435.2" width="44.8" height="21.3" fill="#d7301d"/>
<rect x="1469.5" y="1435.2" width="44.8" height="21.3" fill="#c8b9de"/>
<rect x="1514" y="1435.2" width="47.3" height="21.3" fill="#a18bca"/>
<rect x="1561" y="1435.2" width="44.3" height="21.3" fill="#c1b0db"/>
<rect x="1605" y="1435.2" width="45.3" height="21.3" fill="#baa9d7"/>
<rect x="1650" y="1435.2" width="44.6" height="21.3" fill="#9c86c7"/>
<rect x="1694.3" y="1435.2" width="48.6" height="21.3" fill="#d9cfe9"/>
<rect x="1199" y="1456.3" width="45.3" height="21.3" fill="#ef8065"/>
<rect x="1244" y="1456.3" width="44" height="21.3" fill="#fbbfae"/>
<rect x="1287.7" y="1456.3" width="45.1" height="21.3" fill="#fee4dc"/>
<rect x="1332.5" y="1456.3" width="47.8" height="21.3" fill="#f8a48e"/>
<rect x="1380" y="1456.3" width="45.3" height="21.3" fill="#dbd1ea"/>
<rect x="1425" y="1456.3" width="44.8" height="21.3" fill="#de4b32"/>
<rect x="1469.5" y="1456.3" width="44.8" height="21.3" fill="#d1c4e3"/>
<rect x="1514" y="1456.3" width="47.3" height="21.3" fill="#9881c5"/>
<rect x="1561" y="1456.3" width="44.3" height="21.3" fill="#baa9d7"/>
<rect x="1605" y="1456.3" width="45.3" height="21.3" fill="#beaed9"/>
<rect x="1650" y="1456.3" width="44.6" height="21.3" fill="#a48fcb"/>
<rect x="1694.3" y="1456.3" width="48.6" height="21.3" fill="#d6cbe7"/>
<rect x="1199" y="1477.3" width="45.3" height="21.3" fill="#f28a70"/>
<rect x="1244" y="1477.3" width="44" height="21.3" fill="#fbbfae"/>
<rect x="1287.7" y="1477.3" width="45.1" height="21.3" fill="#fee0d7"/>
<rect x="1332.5" y="1477.3" width="47.8" height="21.3" fill="#f9aa94"/>
<rect x="1380" y="1477.3" width="45.3" height="21.3" fill="#e3dbee"/>
<rect x="1425" y="1477.3" width="44.8" height="21.3" fill="#e2593d"/>
<rect x="1469.5" y="1477.3" width="44.8" height="21.3" fill="#ccbee1"/>
<rect x="1514" y="1477.3" width="47.3" height="21.3" fill="#a18bca"/>
<rect x="1561" y="1477.3" width="44.3" height="21.3" fill="#c1b0db"/>
<rect x="1605" y="1477.3" width="45.3" height="21.3" fill="#beaed9"/>
<rect x="1650" y="1477.3" width="44.6" height="21.3" fill="#a48fcb"/>
<rect x="1694.3" y="1477.3" width="48.6" height="21.3" fill="#d6cbe7"/>
<rect x="1199" y="1498.3" width="45.3" height="21.3" fill="#f28a70"/>
<rect x="1244" y="1498.3" width="44" height="21.3" fill="#fab7a5"/>
<rect x="1287.7" y="1498.3" width="45.1" height="21.3" fill="#fee0d7"/>
<rect x="1332.5" y="1498.3" width="47.8" height="21.3" fill="#f9aa94"/>
<rect x="1380" y="1498.3" width="45.3" height="21.3" fill="#f0ecf6"/>
<rect x="1425" y="1498.3" width="44.8" height="21.3" fill="#e35d40"/>
<rect x="1469.5" y="1498.3" width="44.8" height="21.3" fill="#c8b9de"/>
<rect x="1514" y="1498.3" width="47.3" height="21.3" fill="#a18bca"/>
<rect x="1561" y="1498.3" width="44.3" height="21.3" fill="#bcabd8"/>
<rect x="1605" y="1498.3" width="45.3" height="21.3" fill="#b6a4d5"/>
<rect x="1650" y="1498.3" width="44.6" height="21.3" fill="#a894ce"/>
<rect x="1694.3" y="1498.3" width="48.6" height="21.3" fill="#ccbee1"/>
<rect x="1199" y="1519.3" width="45.3" height="21.3" fill="#fbbcaa"/>
<rect x="1244" y="1519.3" width="44" height="21.3" fill="#fee8e2"/>
<rect x="1287.7" y="1519.3" width="45.1" height="21.3" fill="#ffffff"/>
<rect x="1332.5" y="1519.3" width="47.8" height="21.3" fill="#fdcbbc"/>
<rect x="1380" y="1519.3" width="45.3" height="21.3" fill="#d3c6e5"/>
<rect x="1425" y="1519.3" width="44.8" height="21.3" fill="#f6957c"/>
<rect x="1469.5" y="1519.3" width="44.8" height="21.3" fill="#ede8f4"/>
<rect x="1514" y="1519.3" width="47.3" height="21.3" fill="#c5b5dd"/>
<rect x="1561" y="1519.3" width="44.3" height="21.3" fill="#d3c6e5"/>
<rect x="1605" y="1519.3" width="45.3" height="21.3" fill="#e3dbee"/>
<rect x="1650" y="1519.3" width="44.6" height="21.3" fill="#c1b0db"/>
<rect x="1694.3" y="1519.3" width="48.6" height="21.3" fill="#f6f4fa"/>
<rect x="1199" y="1540.3" width="45.3" height="21.3" fill="#fbc0b0"/>
<rect x="1244" y="1540.3" width="44" height="21.3" fill="#fee6de"/>
<rect x="1287.7" y="1540.3" width="45.1" height="21.3" fill="#fff6f4"/>
<rect x="1332.5" y="1540.3" width="47.8" height="21.3" fill="#fdcbbc"/>
<rect x="1380" y="1540.3" width="45.3" height="21.3" fill="#e0d7ec"/>
<rect x="1425" y="1540.3" width="44.8" height="21.3" fill="#f7a08a"/>
<rect x="1469.5" y="1540.3" width="44.8" height="21.3" fill="#e3dbee"/>
<rect x="1514" y="1540.3" width="47.3" height="21.3" fill="#bcabd8"/>
<rect x="1561" y="1540.3" width="44.3" height="21.3" fill="#d1c4e3"/>
<rect x="1605" y="1540.3" width="45.3" height="21.3" fill="#d9cfe9"/>
<rect x="1650" y="1540.3" width="44.6" height="21.3" fill="#c5b5dd"/>
<rect x="1694.3" y="1540.3" width="48.6" height="21.3" fill="#ede8f4"/>
<rect x="1199" y="1561.4" width="45.3" height="21.3" fill="#fdcbbc"/>
<rect x="1244" y="1561.4" width="44" height="21.3" fill="#fee6de"/>
<rect x="1287.7" y="1561.4" width="45.1" height="21.3" fill="#fffdfc"/>
<rect x="1332.5" y="1561.4" width="47.8" height="21.3" fill="#fdd3c6"/>
<rect x="1380" y="1561.4" width="45.3" height="21.3" fill="#dbd1ea"/>
<rect x="1425" y="1561.4" width="44.8" height="21.3" fill="#f9aa94"/>
<rect x="1469.5" y="1561.4" width="44.8" height="21.3" fill="#e6dff0"/>
<rect x="1514" y="1561.4" width="47.3" height="21.3" fill="#cabbe0"/>
<rect x="1561" y="1561.4" width="44.3" height="21.3" fill="#d3c6e5"/>
<rect x="1605" y="1561.4" width="45.3" height="21.3" fill="#e0d7ec"/>
<rect x="1650" y="1561.4" width="44.6" height="21.3" fill="#c9badf"/>
<rect x="1694.3" y="1561.4" width="48.6" height="21.3" fill="#f6f4fa"/>
<rect x="1199" y="1582.4" width="45.3" height="21.3" fill="#fdcdbf"/>
<rect x="1244" y="1582.4" width="44" height="21.3" fill="#fee6de"/>
<rect x="1287.7" y="1582.4" width="45.1" height="21.3" fill="#fffdfc"/>
<rect x="1332.5" y="1582.4" width="47.8" height="21.3" fill="#fdd3c6"/>
<rect x="1380" y="1582.4" width="45.3" height="21.3" fill="#dbd1ea"/>
<rect x="1425" y="1582.4" width="44.8" height="21.3" fill="#f9ae9a"/>
<rect x="1469.5" y="1582.4" width="44.8" height="21.3" fill="#e6dff0"/>
<rect x="1514" y="1582.4" width="47.3" height="21.3" fill="#ccbee1"/>
<rect x="1561" y="1582.4" width="44.3" height="21.3" fill="#d6cbe7"/>
<rect x="1605" y="1582.4" width="45.3" height="21.3" fill="#e0d7ec"/>
<rect x="1650" y="1582.4" width="44.6" height="21.3" fill="#ccbee1"/>
<rect x="1694.3" y="1582.4" width="48.6" height="21.3" fill="#f2eef7"/>
<rect x="1199" y="1603.4" width="45.3" height="21.3" fill="#fdd3c6"/>
<rect x="1244" y="1603.4" width="44" height="21.3" fill="#fee8e2"/>
<rect x="1287.7" y="1603.4" width="45.1" height="21.3" fill="#fffaf9"/>
<rect x="1332.5" y="1603.4" width="47.8" height="21.3" fill="#fdd5c9"/>
<rect x="1380" y="1603.4" width="45.3" height="21.3" fill="#e0d7ec"/>
<rect x="1425" y="1603.4" width="44.8" height="21.3" fill="#f9b09d"/>
<rect x="1469.5" y="1603.4" width="44.8" height="21.3" fill="#ede8f4"/>
<rect x="1514" y="1603.4" width="47.3" height="21.3" fill="#d1c4e3"/>
<rect x="1561" y="1603.4" width="44.3" height="21.3" fill="#d9cfe9"/>
<rect x="1605" y="1603.4" width="45.3" height="21.3" fill="#e6dff0"/>
<rect x="1650" y="1603.4" width="44.6" height="21.3" fill="#d1c4e3"/>
<rect x="1694.3" y="1603.4" width="48.6" height="21.3" fill="#f6f4fa"/>
<rect x="1199" y="1624.4" width="45.3" height="21.3" fill="#c1b0db"/>
<rect x="1244" y="1624.4" width="44" height="21.3" fill="#f6f4fa"/>
<rect x="1287.7" y="1624.4" width="45.1" height="21.3" fill="#a18bca"/>
<rect x="1332.5" y="1624.4" width="47.8" height="21.3" fill="#b6a4d5"/>
<rect x="1380" y="1624.4" width="45.3" height="21.3" fill="#a48fcb"/>
<rect x="1425" y="1624.4" width="44.8" height="21.3" fill="#baa9d7"/>
<rect x="1469.5" y="1624.4" width="44.8" height="21.3" fill="#f9aa94"/>
<rect x="1514" y="1624.4" width="47.3" height="21.3" fill="#e96f53"/>
<rect x="1561" y="1624.4" width="44.3" height="21.3" fill="#fdcbbc"/>
<rect x="1605" y="1624.4" width="45.3" height="21.3" fill="#fee0d7"/>
<rect x="1650" y="1624.4" width="44.6" height="21.3" fill="#feede8"/>
<rect x="1694.3" y="1624.4" width="48.6" height="21.3" fill="#fee8e2"/>
<rect x="1199" y="1645.4" width="45.3" height="21.3" fill="#c1b0db"/>
<rect x="1244" y="1645.4" width="44" height="21.3" fill="#f6f4fa"/>
<rect x="1287.7" y="1645.4" width="45.1" height="21.3" fill="#a18bca"/>
<rect x="1332.5" y="1645.4" width="47.8" height="21.3" fill="#b6a4d5"/>
<rect x="1380" y="1645.4" width="45.3" height="21.3" fill="#ae9bd1"/>
<rect x="1425" y="1645.4" width="44.8" height="21.3" fill="#baa9d7"/>
<rect x="1469.5" y="1645.4" width="44.8" height="21.3" fill="#f9aa94"/>
<rect x="1514" y="1645.4" width="47.3" height="21.3" fill="#eb7358"/>
<rect x="1561" y="1645.4" width="44.3" height="21.3" fill="#fdcbbc"/>
<rect x="1605" y="1645.4" width="45.3" height="21.3" fill="#fee0d7"/>
<rect x="1650" y="1645.4" width="44.6" height="21.3" fill="#feede8"/>
<rect x="1694.3" y="1645.4" width="48.6" height="21.3" fill="#fee6de"/>
<rect x="1199" y="1666.5" width="45.3" height="21.3" fill="#c1b0db"/>
<rect x="1244" y="1666.5" width="44" height="21.3" fill="#f2eef7"/>
<rect x="1287.7" y="1666.5" width="45.1" height="21.3" fill="#a48fcb"/>
<rect x="1332.5" y="1666.5" width="47.8" height="21.3" fill="#b6a4d5"/>
<rect x="1380" y="1666.5" width="45.3" height="21.3" fill="#b4a1d4"/>
<rect x="1425" y="1666.5" width="44.8" height="21.3" fill="#bcabd8"/>
<rect x="1469.5" y="1666.5" width="44.8" height="21.3" fill="#f9ae9a"/>
<rect x="1514" y="1666.5" width="47.3" height="21.3" fill="#ed7b60"/>
<rect x="1561" y="1666.5" width="44.3" height="21.3" fill="#fdcbbc"/>
<rect x="1605" y="1666.5" width="45.3" height="21.3" fill="#fee0d7"/>
<rect x="1650" y="1666.5" width="44.6" height="21.3" fill="#fee9e3"/>
<rect x="1694.3" y="1666.5" width="48.6" height="21.3" fill="#fee6de"/>
<rect x="1199" y="1687.5" width="45.3" height="21.3" fill="#d1c4e3"/>
<rect x="1244" y="1687.5" width="44" height="21.3" fill="#ffffff"/>
<rect x="1287.7" y="1687.5" width="45.1" height="21.3" fill="#b19dd2"/>
<rect x="1332.5" y="1687.5" width="47.8" height="21.3" fill="#bcabd8"/>
<rect x="1380" y="1687.5" width="45.3" height="21.3" fill="#b19dd2"/>
<rect x="1425" y="1687.5" width="44.8" height="21.3" fill="#bcabd8"/>
<rect x="1469.5" y="1687.5" width="44.8" height="21.3" fill="#f9b09d"/>
<rect x="1514" y="1687.5" width="47.3" height="21.3" fill="#f0846a"/>
<rect x="1561" y="1687.5" width="44.3" height="21.3" fill="#fdd0c3"/>
<rect x="1605" y="1687.5" width="45.3" height="21.3" fill="#fee4dc"/>
<rect x="1650" y="1687.5" width="44.6" height="21.3" fill="#fff3f0"/>
<rect x="1694.3" y="1687.5" width="48.6" height="21.3" fill="#fee8e2"/>
<rect x="1199" y="1708.5" width="45.3" height="21.3" fill="#c1b0db"/>
<rect x="1244" y="1708.5" width="44" height="21.3" fill="#ede8f4"/>
<rect x="1287.7" y="1708.5" width="45.1" height="21.3" fill="#a894ce"/>
<rect x="1332.5" y="1708.5" width="47.8" height="21.3" fill="#bcabd8"/>
<rect x="1380" y="1708.5" width="45.3" height="21.3" fill="#bcabd8"/>
<rect x="1425" y="1708.5" width="44.8" height="21.3" fill="#bcabd8"/>
<rect x="1469.5" y="1708.5" width="44.8" height="21.3" fill="#fab5a2"/>
<rect x="1514" y="1708.5" width="47.3" height="21.3" fill="#f28a70"/>
<rect x="1561" y="1708.5" width="44.3" height="21.3" fill="#fdd3c6"/>
<rect x="1605" y="1708.5" width="45.3" height="21.3" fill="#fee4dc"/>
<rect x="1650" y="1708.5" width="44.6" height="21.3" fill="#fee9e3"/>
<rect x="1694.3" y="1708.5" width="48.6" height="21.3" fill="#fee8e2"/>
<rect x="1199" y="1729.5" width="45.3" height="21.3" fill="#d1c4e3"/>
<rect x="1244" y="1729.5" width="44" height="21.3" fill="#fffefe"/>
<rect x="1287.7" y="1729.5" width="45.1" height="21.3" fill="#b4a1d4"/>
<rect x="1332.5" y="1729.5" width="47.8" height="21.3" fill="#cabbe0"/>
<rect x="1380" y="1729.5" width="45.3" height="21.3" fill="#ccbee1"/>
<rect x="1425" y="1729.5" width="44.8" height="21.3" fill="#c9badf"/>
<rect x="1469.5" y="1729.5" width="44.8" height="21.3" fill="#fbbcaa"/>
<rect x="1514" y="1729.5" width="47.3" height="21.3" fill="#f48f76"/>
<rect x="1561" y="1729.5" width="44.3" height="21.3" fill="#fdd5c9"/>
<rect x="1605" y="1729.5" width="45.3" height="21.3" fill="#fee6de"/>
<rect x="1650" y="1729.5" width="44.6" height="21.3" fill="#feede8"/>
<rect x="1694.3" y="1729.5" width="48.6" height="21.3" fill="#fee9e3"/>
<rect x="1199" y="1750.5" width="45.3" height="21.3" fill="#c5b5dd"/>
<rect x="1244" y="1750.5" width="44" height="21.3" fill="#f2eef7"/>
<rect x="1287.7" y="1750.5" width="45.1" height="21.3" fill="#a894ce"/>
<rect x="1332.5" y="1750.5" width="47.8" height="21.3" fill="#beaed9"/>
<rect x="1380" y="1750.5" width="45.3" height="21.3" fill="#beaed9"/>
<rect x="1425" y="1750.5" width="44.8" height="21.3" fill="#c1b0db"/>
<rect x="1469.5" y="1750.5" width="44.8" height="21.3" fill="#fab7a5"/>
<rect x="1514" y="1750.5" width="47.3" height="21.3" fill="#f5937a"/>
<rect x="1561" y="1750.5" width="44.3" height="21.3" fill="#fdd5c9"/>
<rect x="1605" y="1750.5" width="45.3" height="21.3" fill="#fee6de"/>
<rect x="1650" y="1750.5" width="44.6" height="21.3" fill="#feede8"/>
<rect x="1694.3" y="1750.5" width="48.6" height="21.3" fill="#fee8e2"/>
<rect x="1199" y="1771.6" width="45.3" height="21.3" fill="#c8b9de"/>
<rect x="1244" y="1771.6" width="44" height="21.3" fill="#f6f4fa"/>
<rect x="1287.7" y="1771.6" width="45.1" height="21.3" fill="#ae9bd1"/>
<rect x="1332.5" y="1771.6" width="47.8" height="21.3" fill="#c8b9de"/>
<rect x="1380" y="1771.6" width="45.3" height="21.3" fill="#c8b9de"/>
<rect x="1425" y="1771.6" width="44.8" height="21.3" fill="#c8b9de"/>
<rect x="1469.5" y="1771.6" width="44.8" height="21.3" fill="#fbbcaa"/>
<rect x="1514" y="1771.6" width="47.3" height="21.3" fill="#f6957c"/>
<rect x="1561" y="1771.6" width="44.3" height="21.3" fill="#fdd5c9"/>
<rect x="1605" y="1771.6" width="45.3" height="21.3" fill="#fee6de"/>
<rect x="1650" y="1771.6" width="44.6" height="21.3" fill="#feede8"/>
<rect x="1694.3" y="1771.6" width="48.6" height="21.3" fill="#fee8e2"/>
<rect x="1199" y="1792.6" width="45.3" height="21.3" fill="#ccbee1"/>
<rect x="1244" y="1792.6" width="44" height="21.3" fill="#f6f4fa"/>
<rect x="1287.7" y="1792.6" width="45.1" height="21.3" fill="#b6a4d5"/>
<rect x="1332.5" y="1792.6" width="47.8" height="21.3" fill="#cabbe0"/>
<rect x="1380" y="1792.6" width="45.3" height="21.3" fill="#cabbe0"/>
<rect x="1425" y="1792.6" width="44.8" height="21.3" fill="#c9badf"/>
<rect x="1469.5" y="1792.6" width="44.8" height="21.3" fill="#fbc0b0"/>
<rect x="1514" y="1792.6" width="47.3" height="21.3" fill="#f6967d"/>
<rect x="1561" y="1792.6" width="44.3" height="21.3" fill="#fdd5c9"/>
<rect x="1605" y="1792.6" width="45.3" height="21.3" fill="#fee0d7"/>
<rect x="1650" y="1792.6" width="44.6" height="21.3" fill="#feede8"/>
<rect x="1694.3" y="1792.6" width="48.6" height="21.3" fill="#fee6de"/>
<rect x="1199" y="1813.6" width="45.3" height="21.3" fill="#d1c4e3"/>
<rect x="1244" y="1813.6" width="44" height="21.3" fill="#ffffff"/>
<rect x="1287.7" y="1813.6" width="45.1" height="21.3" fill="#baa9d7"/>
<rect x="1332.5" y="1813.6" width="47.8" height="21.3" fill="#ccbee1"/>
<rect x="1380" y="1813.6" width="45.3" height="21.3" fill="#ccbee1"/>
<rect x="1425" y="1813.6" width="44.8" height="21.3" fill="#ccbee1"/>
<rect x="1469.5" y="1813.6" width="44.8" height="21.3" fill="#fcc3b2"/>
<rect x="1514" y="1813.6" width="47.3" height="21.3" fill="#f79c84"/>
<rect x="1561" y="1813.6" width="44.3" height="21.3" fill="#fee0d7"/>
<rect x="1605" y="1813.6" width="45.3" height="21.3" fill="#fee4dc"/>
<rect x="1650" y="1813.6" width="44.6" height="21.3" fill="#feede8"/>
<rect x="1694.3" y="1813.6" width="48.6" height="21.3" fill="#fee9e3"/>
<rect x="1199" y="1834.6" width="45.3" height="21.3" fill="#d3c6e5"/>
<rect x="1244" y="1834.6" width="44" height="21.3" fill="#fdfcfe"/>
<rect x="1287.7" y="1834.6" width="45.1" height="21.3" fill="#bcabd8"/>
<rect x="1332.5" y="1834.6" width="47.8" height="21.3" fill="#d1c4e3"/>
<rect x="1380" y="1834.6" width="45.3" height="21.3" fill="#d3c6e5"/>
<rect x="1425" y="1834.6" width="44.8" height="21.3" fill="#c9badf"/>
<rect x="1469.5" y="1834.6" width="44.8" height="21.3" fill="#fcc3b2"/>
<rect x="1514" y="1834.6" width="47.3" height="21.3" fill="#f7a08a"/>
<rect x="1561" y="1834.6" width="44.3" height="21.3" fill="#fee0d7"/>
<rect x="1605" y="1834.6" width="45.3" height="21.3" fill="#fee4dc"/>
<rect x="1650" y="1834.6" width="44.6" height="21.3" fill="#feede8"/>
<rect x="1694.3" y="1834.6" width="48.6" height="21.3" fill="#fee9e3"/>
<rect x="1199" y="1855.6" width="45.3" height="21.3" fill="#c5b5dd"/>
<rect x="1244" y="1855.6" width="44" height="21.3" fill="#e9e3f2"/>
<rect x="1287.7" y="1855.6" width="45.1" height="21.3" fill="#ae9bd1"/>
<rect x="1332.5" y="1855.6" width="47.8" height="21.3" fill="#cabbe0"/>
<rect x="1380" y="1855.6" width="45.3" height="21.3" fill="#ccbee1"/>
<rect x="1425" y="1855.6" width="44.8" height="21.3" fill="#ccbee1"/>
<rect x="1469.5" y="1855.6" width="44.8" height="21.3" fill="#fcc3b2"/>
<rect x="1514" y="1855.6" width="47.3" height="21.3" fill="#f7a08a"/>
<rect x="1561" y="1855.6" width="44.3" height="21.3" fill="#fdd5c9"/>
<rect x="1605" y="1855.6" width="45.3" height="21.3" fill="#fee8e2"/>
<rect x="1650" y="1855.6" width="44.6" height="21.3" fill="#fee8e2"/>
<rect x="1694.3" y="1855.6" width="48.6" height="21.3" fill="#fee6de"/>
<rect x="1199" y="1876.7" width="45.3" height="21.3" fill="#baa9d7"/>
<rect x="1244" y="1876.7" width="44" height="21.3" fill="#dbd1ea"/>
<rect x="1287.7" y="1876.7" width="45.1" height="21.3" fill="#ab97cf"/>
<rect x="1332.5" y="1876.7" width="47.8" height="21.3" fill="#c8b9de"/>
<rect x="1380" y="1876.7" width="45.3" height="21.3" fill="#ccbee1"/>
<rect x="1425" y="1876.7" width="44.8" height="21.3" fill="#ccbee1"/>
<rect x="1469.5" y="1876.7" width="44.8" height="21.3" fill="#fcc6b6"/>
<rect x="1514" y="1876.7" width="47.3" height="21.3" fill="#f8a48e"/>
<rect x="1561" y="1876.7" width="44.3" height="21.3" fill="#fee0d7"/>
<rect x="1605" y="1876.7" width="45.3" height="21.3" fill="#fef0ec"/>
<rect x="1650" y="1876.7" width="44.6" height="21.3" fill="#fee6de"/>
<rect x="1694.3" y="1876.7" width="48.6" height="21.3" fill="#fee9e3"/>
<rect x="1199" y="1897.7" width="45.3" height="21.3" fill="#c9badf"/>
<rect x="1244" y="1897.7" width="44" height="21.3" fill="#ede8f4"/>
<rect x="1287.7" y="1897.7" width="45.1" height="21.3" fill="#b6a4d5"/>
<rect x="1332.5" y="1897.7" width="47.8" height="21.3" fill="#d3c6e5"/>
<rect x="1380" y="1897.7" width="45.3" height="21.3" fill="#d1c4e3"/>
<rect x="1425" y="1897.7" width="44.8" height="21.3" fill="#d1c4e3"/>
<rect x="1469.5" y="1897.7" width="44.8" height="21.3" fill="#fcc8b9"/>
<rect x="1514" y="1897.7" width="47.3" height="21.3" fill="#f9ad99"/>
<rect x="1561" y="1897.7" width="44.3" height="21.3" fill="#fee4dc"/>
<rect x="1605" y="1897.7" width="45.3" height="21.3" fill="#fee8e2"/>
<rect x="1650" y="1897.7" width="44.6" height="21.3" fill="#feede8"/>
<rect x="1694.3" y="1897.7" width="48.6" height="21.3" fill="#fee8e2"/>
<rect x="1199" y="1918.7" width="45.3" height="21.3" fill="#d3c6e5"/>
<rect x="1244" y="1918.7" width="44" height="21.3" fill="#ffffff"/>
<rect x="1287.7" y="1918.7" width="45.1" height="21.3" fill="#baa9d7"/>
<rect x="1332.5" y="1918.7" width="47.8" height="21.3" fill="#d3c6e5"/>
<rect x="1380" y="1918.7" width="45.3" height="21.3" fill="#d1c4e3"/>
<rect x="1425" y="1918.7" width="44.8" height="21.3" fill="#d3c6e5"/>
<rect x="1469.5" y="1918.7" width="44.8" height="21.3" fill="#fdd0c3"/>
<rect x="1514" y="1918.7" width="47.3" height="21.3" fill="#f9b09d"/>
<rect x="1561" y="1918.7" width="44.3" height="21.3" fill="#fee8e2"/>
<rect x="1605" y="1918.7" width="45.3" height="21.3" fill="#feede8"/>
<rect x="1650" y="1918.7" width="44.6" height="21.3" fill="#feede8"/>
<rect x="1694.3" y="1918.7" width="48.6" height="21.3" fill="#fee9e3"/>
<rect x="1199" y="1939.7" width="45.3" height="21.3" fill="#fee0d7"/>
<rect x="1244" y="1939.7" width="44" height="21.3" fill="#fee4dc"/>
<rect x="1287.7" y="1939.7" width="45.1" height="21.3" fill="#fff8f6"/>
<rect x="1332.5" y="1939.7" width="47.8" height="21.3" fill="#feddd3"/>
<rect x="1380" y="1939.7" width="45.3" height="21.3" fill="#e9e3f2"/>
<rect x="1425" y="1939.7" width="44.8" height="21.3" fill="#feddd3"/>
<rect x="1469.5" y="1939.7" width="44.8" height="21.3" fill="#f6f4fa"/>
<rect x="1514" y="1939.7" width="47.3" height="21.3" fill="#d3c6e5"/>
<rect x="1561" y="1939.7" width="44.3" height="21.3" fill="#d3c6e5"/>
<rect x="1605" y="1939.7" width="45.3" height="21.3" fill="#fff8f6"/>
<rect x="1650" y="1939.7" width="44.6" height="21.3" fill="#dbd1ea"/>
<rect x="1694.3" y="1939.7" width="48.6" height="21.3" fill="#e9e3f2"/>
<rect x="1199" y="1960.7" width="45.3" height="21.3" fill="#fdd0c3"/>
<rect x="1244" y="1960.7" width="44" height="21.3" fill="#fdd3c6"/>
<rect x="1287.7" y="1960.7" width="45.1" height="21.3" fill="#fee9e3"/>
<rect x="1332.5" y="1960.7" width="47.8" height="21.3" fill="#fdcbbc"/>
<rect x="1380" y="1960.7" width="45.3" height="21.3" fill="#ffffff"/>
<rect x="1425" y="1960.7" width="44.8" height="21.3" fill="#fcc8b9"/>
<rect x="1469.5" y="1960.7" width="44.8" height="21.3" fill="#e9e3f2"/>
<rect x="1514" y="1960.7" width="47.3" height="21.3" fill="#c8b9de"/>
<rect x="1561" y="1960.7" width="44.3" height="21.3" fill="#c9badf"/>
<rect x="1605" y="1960.7" width="45.3" height="21.3" fill="#fffaf9"/>
<rect x="1650" y="1960.7" width="44.6" height="21.3" fill="#d6cbe7"/>
<rect x="1694.3" y="1960.7" width="48.6" height="21.3" fill="#e3dbee"/>
<rect x="1199" y="1981.8" width="45.3" height="21.3" fill="#fdd9ce"/>
<rect x="1244" y="1981.8" width="44" height="21.3" fill="#fee6de"/>
<rect x="1287.7" y="1981.8" width="45.1" height="21.3" fill="#fff3f0"/>
<rect x="1332.5" y="1981.8" width="47.8" height="21.3" fill="#fdd5c9"/>
<rect x="1380" y="1981.8" width="45.3" height="21.3" fill="#e3dbee"/>
<rect x="1425" y="1981.8" width="44.8" height="21.3" fill="#fdd3c6"/>
<rect x="1469.5" y="1981.8" width="44.8" height="21.3" fill="#f2eef7"/>
<rect x="1514" y="1981.8" width="47.3" height="21.3" fill="#c8b9de"/>
<rect x="1561" y="1981.8" width="44.3" height="21.3" fill="#d1c4e3"/>
<rect x="1605" y="1981.8" width="45.3" height="21.3" fill="#fffaf9"/>
<rect x="1650" y="1981.8" width="44.6" height="21.3" fill="#d6cbe7"/>
<rect x="1694.3" y="1981.8" width="48.6" height="21.3" fill="#e3dbee"/>
<rect x="1199" y="2002.8" width="45.3" height="21.3" fill="#fdcbbc"/>
<rect x="1244" y="2002.8" width="44" height="21.3" fill="#fdd9ce"/>
<rect x="1287.7" y="2002.8" width="45.1" height="21.3" fill="#fee9e3"/>
<rect x="1332.5" y="2002.8" width="47.8" height="21.3" fill="#fdcbbc"/>
<rect x="1380" y="2002.8" width="45.3" height="21.3" fill="#e0d7ec"/>
<rect x="1425" y="2002.8" width="44.8" height="21.3" fill="#fcc8b9"/>
<rect x="1469.5" y="2002.8" width="44.8" height="21.3" fill="#f0ecf6"/>
<rect x="1514" y="2002.8" width="47.3" height="21.3" fill="#bcabd8"/>
<rect x="1561" y="2002.8" width="44.3" height="21.3" fill="#ccbee1"/>
<rect x="1605" y="2002.8" width="45.3" height="21.3" fill="#fdfcfe"/>
<rect x="1650" y="2002.8" width="44.6" height="21.3" fill="#ccbee1"/>
<rect x="1694.3" y="2002.8" width="48.6" height="21.3" fill="#dbd1ea"/>
<rect x="1199" y="2023.8" width="45.3" height="21.3" fill="#f9aa94"/>
<rect x="1244" y="2023.8" width="44" height="21.3" fill="#fbbfae"/>
<rect x="1287.7" y="2023.8" width="45.1" height="21.3" fill="#fdcbbc"/>
<rect x="1332.5" y="2023.8" width="47.8" height="21.3" fill="#f9ae9a"/>
<rect x="1380" y="2023.8" width="45.3" height="21.3" fill="#ede8f4"/>
<rect x="1425" y="2023.8" width="44.8" height="21.3" fill="#f9aa94"/>
<rect x="1469.5" y="2023.8" width="44.8" height="21.3" fill="#d6cbe7"/>
<rect x="1514" y="2023.8" width="47.3" height="21.3" fill="#a18bca"/>
<rect x="1561" y="2023.8" width="44.3" height="21.3" fill="#baa9d7"/>
<rect x="1605" y="2023.8" width="45.3" height="21.3" fill="#f9f7fb"/>
<rect x="1650" y="2023.8" width="44.6" height="21.3" fill="#baa9d7"/>
<rect x="1694.3" y="2023.8" width="48.6" height="21.3" fill="#d6cbe7"/>
<rect x="1199" y="2044.8" width="45.3" height="21.3" fill="#f9aa94"/>
<rect x="1244" y="2044.8" width="44" height="21.3" fill="#fbc0b0"/>
<rect x="1287.7" y="2044.8" width="45.1" height="21.3" fill="#fdd0c3"/>
<rect x="1332.5" y="2044.8" width="47.8" height="21.3" fill="#f9ae9a"/>
<rect x="1380" y="2044.8" width="45.3" height="21.3" fill="#ede8f4"/>
<rect x="1425" y="2044.8" width="44.8" height="21.3" fill="#f9aa94"/>
<rect x="1469.5" y="2044.8" width="44.8" height="21.3" fill="#d6cbe7"/>
<rect x="1514" y="2044.8" width="47.3" height="21.3" fill="#a48fcb"/>
<rect x="1561" y="2044.8" width="44.3" height="21.3" fill="#baa9d7"/>
<rect x="1605" y="2044.8" width="45.3" height="21.3" fill="#f6f4fa"/>
<rect x="1650" y="2044.8" width="44.6" height="21.3" fill="#beaed9"/>
<rect x="1694.3" y="2044.8" width="48.6" height="21.3" fill="#d6cbe7"/>
<rect x="1199" y="2065.8" width="45.3" height="21.3" fill="#f9aa94"/>
<rect x="1244" y="2065.8" width="44" height="21.3" fill="#fbbcaa"/>
<rect x="1287.7" y="2065.8" width="45.1" height="21.3" fill="#fcc3b2"/>
<rect x="1332.5" y="2065.8" width="47.8" height="21.3" fill="#f9b09d"/>
<rect x="1380" y="2065.8" width="45.3" height="21.3" fill="#e3dbee"/>
<rect x="1425" y="2065.8" width="44.8" height="21.3" fill="#f9ae9a"/>
<rect x="1469.5" y="2065.8" width="44.8" height="21.3" fill="#d6cbe7"/>
<rect x="1514" y="2065.8" width="47.3" height="21.3" fill="#a894ce"/>
<rect x="1561" y="2065.8" width="44.3" height="21.3" fill="#bcabd8"/>
<rect x="1605" y="2065.8" width="45.3" height="21.3" fill="#f2eef7"/>
<rect x="1650" y="2065.8" width="44.6" height="21.3" fill="#baa9d7"/>
<rect x="1694.3" y="2065.8" width="48.6" height="21.3" fill="#d3c6e5"/>
<rect x="1199" y="2086.9" width="45.3" height="21.3" fill="#f8a58f"/>
<rect x="1244" y="2086.9" width="44" height="21.3" fill="#fbc0b0"/>
<rect x="1287.7" y="2086.9" width="45.1" height="21.3" fill="#fbbfae"/>
<rect x="1332.5" y="2086.9" width="47.8" height="21.3" fill="#f9b09d"/>
<rect x="1380" y="2086.9" width="45.3" height="21.3" fill="#f0ecf6"/>
<rect x="1425" y="2086.9" width="44.8" height="21.3" fill="#f9b09d"/>
<rect x="1469.5" y="2086.9" width="44.8" height="21.3" fill="#d6cbe7"/>
<rect x="1514" y="2086.9" width="47.3" height="21.3" fill="#ab97cf"/>
<rect x="1561" y="2086.9" width="44.3" height="21.3" fill="#cabbe0"/>
<rect x="1605" y="2086.9" width="45.3" height="21.3" fill="#f2eef7"/>
<rect x="1650" y="2086.9" width="44.6" height="21.3" fill="#beaed9"/>
<rect x="1694.3" y="2086.9" width="48.6" height="21.3" fill="#d3c6e5"/>
<rect x="1199" y="2107.9" width="45.3" height="21.3" fill="#f8a38c"/>
<rect x="1244" y="2107.9" width="44" height="21.3" fill="#fbbcaa"/>
<rect x="1287.7" y="2107.9" width="45.1" height="21.3" fill="#fbc0b0"/>
<rect x="1332.5" y="2107.9" width="47.8" height="21.3" fill="#f9ad99"/>
<rect x="1380" y="2107.9" width="45.3" height="21.3" fill="#e9e3f2"/>
<rect x="1425" y="2107.9" width="44.8" height="21.3" fill="#f8a58f"/>
<rect x="1469.5" y="2107.9" width="44.8" height="21.3" fill="#d6cbe7"/>
<rect x="1514" y="2107.9" width="47.3" height="21.3" fill="#a18bca"/>
<rect x="1561" y="2107.9" width="44.3" height="21.3" fill="#bcabd8"/>
<rect x="1605" y="2107.9" width="45.3" height="21.3" fill="#f2eef7"/>
<rect x="1650" y="2107.9" width="44.6" height="21.3" fill="#baa9d7"/>
<rect x="1694.3" y="2107.9" width="48.6" height="21.3" fill="#d1c4e3"/>
<rect x="1199" y="2128.9" width="45.3" height="21.3" fill="#f79f88"/>
<rect x="1244" y="2128.9" width="44" height="21.3" fill="#fbbcaa"/>
<rect x="1287.7" y="2128.9" width="45.1" height="21.3" fill="#fbc0b0"/>
<rect x="1332.5" y="2128.9" width="47.8" height="21.3" fill="#f8a58f"/>
<rect x="1380" y="2128.9" width="45.3" height="21.3" fill="#d6cbe7"/>
<rect x="1425" y="2128.9" width="44.8" height="21.3" fill="#f8a38c"/>
<rect x="1469.5" y="2128.9" width="44.8" height="21.3" fill="#d6cbe7"/>
<rect x="1514" y="2128.9" width="47.3" height="21.3" fill="#967ec4"/>
<rect x="1561" y="2128.9" width="44.3" height="21.3" fill="#b6a4d5"/>
<rect x="1605" y="2128.9" width="45.3" height="21.3" fill="#f2eef7"/>
<rect x="1650" y="2128.9" width="44.6" height="21.3" fill="#ad9ad0"/>
<rect x="1694.3" y="2128.9" width="48.6" height="21.3" fill="#ccbee1"/>
<rect x="1199" y="2149.9" width="45.3" height="21.3" fill="#f9aa94"/>
<rect x="1244" y="2149.9" width="44" height="21.3" fill="#fbc0b0"/>
<rect x="1287.7" y="2149.9" width="45.1" height="21.3" fill="#fcc6b6"/>
<rect x="1332.5" y="2149.9" width="47.8" height="21.3" fill="#f9ae9a"/>
<rect x="1380" y="2149.9" width="45.3" height="21.3" fill="#f2eef7"/>
<rect x="1425" y="2149.9" width="44.8" height="21.3" fill="#f9ae9a"/>
<rect x="1469.5" y="2149.9" width="44.8" height="21.3" fill="#d6cbe7"/>
<rect x="1514" y="2149.9" width="47.3" height="21.3" fill="#a48fcb"/>
<rect x="1561" y="2149.9" width="44.3" height="21.3" fill="#beaed9"/>
<rect x="1605" y="2149.9" width="45.3" height="21.3" fill="#f2eef7"/>
<rect x="1650" y="2149.9" width="44.6" height="21.3" fill="#baa9d7"/>
<rect x="1694.3" y="2149.9" width="48.6" height="21.3" fill="#d1c4e3"/>
<rect x="1199" y="2170.9" width="45.3" height="21.3" fill="#f8a38c"/>
<rect x="1244" y="2170.9" width="44" height="21.3" fill="#fbbfae"/>
<rect x="1287.7" y="2170.9" width="45.1" height="21.3" fill="#fbc0b0"/>
<rect x="1332.5" y="2170.9" width="47.8" height="21.3" fill="#f9ad99"/>
<rect x="1380" y="2170.9" width="45.3" height="21.3" fill="#f2eef7"/>
<rect x="1425" y="2170.9" width="44.8" height="21.3" fill="#f9ad99"/>
<rect x="1469.5" y="2170.9" width="44.8" height="21.3" fill="#d3c6e5"/>
<rect x="1514" y="2170.9" width="47.3" height="21.3" fill="#a18bca"/>
<rect x="1561" y="2170.9" width="44.3" height="21.3" fill="#beaed9"/>
<rect x="1605" y="2170.9" width="45.3" height="21.3" fill="#f2eef7"/>
<rect x="1650" y="2170.9" width="44.6" height="21.3" fill="#baa9d7"/>
<rect x="1694.3" y="2170.9" width="48.6" height="21.3" fill="#d1c4e3"/>
<rect x="1199" y="2192" width="45.3" height="21.3" fill="#f8a58f"/>
<rect x="1244" y="2192" width="44" height="21.3" fill="#fbc0b0"/>
<rect x="1287.7" y="2192" width="45.1" height="21.3" fill="#fcc3b2"/>
<rect x="1332.5" y="2192" width="47.8" height="21.3" fill="#f9b09d"/>
<rect x="1380" y="2192" width="45.3" height="21.3" fill="#ede8f4"/>
<rect x="1425" y="2192" width="44.8" height="21.3" fill="#f9ae9a"/>
<rect x="1469.5" y="2192" width="44.8" height="21.3" fill="#d6cbe7"/>
<rect x="1514" y="2192" width="47.3" height="21.3" fill="#a894ce"/>
<rect x="1561" y="2192" width="44.3" height="21.3" fill="#c1b0db"/>
<rect x="1605" y="2192" width="45.3" height="21.3" fill="#f2eef7"/>
<rect x="1650" y="2192" width="44.6" height="21.3" fill="#bcabd8"/>
<rect x="1694.3" y="2192" width="48.6" height="21.3" fill="#d1c4e3"/>
<rect x="1199" y="2213" width="45.3" height="21.3" fill="#f8a58f"/>
<rect x="1244" y="2213" width="44" height="21.3" fill="#fbc0b0"/>
<rect x="1287.7" y="2213" width="45.1" height="21.3" fill="#fbc0b0"/>
<rect x="1332.5" y="2213" width="47.8" height="21.3" fill="#f9ae9a"/>
<rect x="1380" y="2213" width="45.3" height="21.3" fill="#f0ecf6"/>
<rect x="1425" y="2213" width="44.8" height="21.3" fill="#f9ae9a"/>
<rect x="1469.5" y="2213" width="44.8" height="21.3" fill="#d3c6e5"/>
<rect x="1514" y="2213" width="47.3" height="21.3" fill="#a48fcb"/>
<rect x="1561" y="2213" width="44.3" height="21.3" fill="#c1b0db"/>
<rect x="1605" y="2213" width="45.3" height="21.3" fill="#f2eef7"/>
<rect x="1650" y="2213" width="44.6" height="21.3" fill="#baa9d7"/>
<rect x="1694.3" y="2213" width="48.6" height="21.3" fill="#d1c4e3"/>
</g>
<g fill="none" stroke-width="3">
<rect x="1470.5" y="29.7" width="271.1" height="481.3" stroke="#000"/>
<rect x="1245" y="532.9" width="42.2" height="207.2" stroke="#000"/>
<rect x="1515" y="532.9" width="45.5" height="207.2" stroke="#6e6e6e"/>
<rect x="1288.7" y="743.1" width="43.3" height="81.1" stroke="#000"/>
<rect x="1562" y="743.1" width="42.5" height="81.1" stroke="#6e6e6e"/>
<rect x="1333.5" y="827.2" width="46" height="39" stroke="#000"/>
<rect x="1606" y="827.2" width="43.5" height="39" stroke="#6e6e6e"/>
<rect x="1381" y="869.2" width="43.5" height="501.5" stroke="#000"/>
<rect x="1651" y="869.2" width="42.8" height="501.5" stroke="#6e6e6e"/>
<rect x="1426" y="1373.7" width="43" height="249.2" stroke="#000"/>
<rect x="1245" y="1625.9" width="42.2" height="312.3" stroke="#6e6e6e"/>
<rect x="1515" y="1625.9" width="45.5" height="312.3" stroke="#000"/>
<rect x="1606" y="1941.2" width="43.5" height="291.3" stroke="#000"/>
</g>
<g font-size="24.2">
<text transform="translate(1752.9 48.2) scale(0.94 1)">JUND</text>
<text transform="translate(1752.9 69.3) scale(0.94 1)">FOS</text>
<text transform="translate(1752.9 90.3) scale(0.94 1)">FOSB</text>
<text transform="translate(1752.9 111.3) scale(0.94 1)">JUNB</text>
<text transform="translate(1752.9 132.4) scale(0.94 1)">FOSL2</text>
<text transform="translate(1752.9 153.4) scale(0.94 1)">JUN</text>
<text transform="translate(1752.9 174.4) scale(0.94 1)">FOSL1</text>
<text transform="translate(1752.9 195.5) scale(0.94 1)">BATF</text>
<text transform="translate(1752.9 237.5) scale(0.94 1)">BACH2</text>
<text transform="translate(1752.9 258.6) scale(0.94 1)">BACH1</text>
<text transform="translate(1752.9 279.6) scale(0.94 1)">BACH2</text>
<text transform="translate(1752.9 363.7) scale(0.94 1)">JUND</text>
<text transform="translate(1752.9 551.4) scale(0.94 1)">SMAD3</text>
<text transform="translate(1752.9 572.4) scale(0.94 1)">SMAD2</text>
<text transform="translate(1752.9 593.4) scale(0.94 1)">SMAD4</text>
<text transform="translate(1752.9 614.5) scale(0.94 1)">RELB</text>
<text transform="translate(1752.9 656.5) scale(0.94 1)">TF65</text>
<text transform="translate(1752.9 677.5) scale(0.94 1)">NFKB2</text>
<text transform="translate(1752.9 698.5) scale(0.94 1)">NFKB1</text>
<text transform="translate(1752.9 719.6) scale(0.94 1)">NR4A2</text>
<text transform="translate(1752.9 740.6) scale(0.94 1)">NR4A1</text>
<text transform="translate(1752.9 761.6) scale(0.94 1)">GATA3</text>
<text transform="translate(1752.9 782.6) scale(0.94 1)">GATA3</text>
<text transform="translate(1752.9 824.7) scale(0.94 1)">STAT6</text>
<text transform="translate(1752.9 845.7) scale(0.94 1)">STAT3</text>
<text transform="translate(1752.9 866.7) scale(0.94 1)">STAT4</text>
<text transform="translate(1752.9 887.7) scale(0.94 1)">BATF</text>
<text transform="translate(1752.9 908.7) scale(0.94 1)">BATF3</text>
<text transform="translate(1752.9 950.8) scale(0.94 1)">BATF3</text>
<text transform="translate(1752.9 1055.9) scale(0.94 1)">SMAD2</text>
<text transform="translate(1752.9 1076.9) scale(0.94 1)">MAFK</text>
<text transform="translate(1752.9 1140) scale(0.94 1)">MAFK</text>
<text transform="translate(1752.9 1161) scale(0.94 1)">MAFA</text>
<text transform="translate(1752.9 1182) scale(0.94 1)">MAFG</text>
<text transform="translate(1752.9 1245.1) scale(0.94 1)">MAFF</text>
<text transform="translate(1752.9 1287.1) scale(0.94 1)">MAF</text>
<text transform="translate(1752.9 1392.2) scale(0.94 1)">IRF7</text>
<text transform="translate(1752.9 1413.2) scale(0.94 1)">IRF8</text>
<text transform="translate(1752.9 1434.2) scale(0.94 1)">IRF5</text>
<text transform="translate(1752.9 1455.3) scale(0.94 1)">IRF4</text>
<text transform="translate(1752.9 1476.3) scale(0.94 1)">IRF2</text>
<text transform="translate(1752.9 1497.3) scale(0.94 1)">IRF8</text>
<text transform="translate(1752.9 1518.3) scale(0.94 1)">IRF4</text>
<text transform="translate(1752.9 1539.3) scale(0.94 1)">IRF3</text>
<text transform="translate(1752.9 1560.4) scale(0.94 1)">IRF1</text>
<text transform="translate(1752.9 1581.4) scale(0.94 1)">STAT1</text>
<text transform="translate(1752.9 1602.4) scale(0.94 1)">IRF9</text>
<text transform="translate(1752.9 1623.4) scale(0.94 1)">STAT2</text>
<text transform="translate(1752.9 1665.5) scale(0.94 1)">NR2F6</text>
<text transform="translate(1752.9 1686.5) scale(0.94 1)">NR2C2</text>
<text transform="translate(1752.9 1749.5) scale(0.94 1)">NR2F6</text>
<text transform="translate(1752.9 1812.6) scale(0.94 1)">NR2F6</text>
<text transform="translate(1752.9 1875.7) scale(0.94 1)">NR2C1</text>
<text transform="translate(1752.9 1917.7) scale(0.94 1)">NR2F6</text>
<text transform="translate(1752.9 1959.7) scale(0.94 1)">FLI1</text>
<text transform="translate(1752.9 1980.8) scale(0.94 1)">ETV7</text>
<text transform="translate(1752.9 2022.8) scale(0.94 1)">ETV6</text>
<text transform="translate(1752.9 2106.9) scale(0.94 1)">ETV6</text>
<text transform="translate(1752.9 2127.9) scale(0.94 1)">ETV4</text>
<text transform="translate(1752.9 2148.9) scale(0.94 1)">ETV3</text>
<text transform="translate(1752.9 2169.9) scale(0.94 1)">FLI1</text>
<text transform="translate(1752.9 2191) scale(0.94 1)">ETV4</text>
<text transform="translate(1752.9 2212) scale(0.94 1)">ETV5</text>
</g>
<text x="1158.2" y="29.1" font-size="40" textLength="27.4" lengthAdjust="spacingAndGlyphs" font-weight="bold">d</text>
<text transform="translate(1184 270.5) rotate(-90)" font-size="24.5" text-anchor="middle" textLength="305" lengthAdjust="spacingAndGlyphs">Restimulation-specific TFs</text>
<text transform="translate(1184.2 1383.2) rotate(-90)" font-size="24.5" text-anchor="middle" textLength="257" lengthAdjust="spacingAndGlyphs">Th subset-specific TFs</text>
<text transform="translate(1226.8 2246) rotate(-90)" font-size="22" text-anchor="end" textLength="36.7" lengthAdjust="spacingAndGlyphs">Th0</text>
<text transform="translate(1271.1 2246) rotate(-90)" font-size="22" text-anchor="end" textLength="45.1" lengthAdjust="spacingAndGlyphs">iTreg</text>
<text transform="translate(1315.4 2246) rotate(-90)" font-size="22" text-anchor="end" textLength="36.7" lengthAdjust="spacingAndGlyphs">Th2</text>
<text transform="translate(1361.5 2246) rotate(-90)" font-size="22" text-anchor="end" textLength="31" lengthAdjust="spacingAndGlyphs">Th1</text>
<text transform="translate(1407.8 2246) rotate(-90)" font-size="22" text-anchor="end" textLength="42.6" lengthAdjust="spacingAndGlyphs">Th17</text>
<text transform="translate(1452.5 2246) rotate(-90)" font-size="22" text-anchor="end" textLength="49.9" lengthAdjust="spacingAndGlyphs">IFN-β</text>
<text transform="translate(1497 2246) rotate(-90)" font-size="22" text-anchor="end" textLength="36.7" lengthAdjust="spacingAndGlyphs">Th0</text>
<text transform="translate(1542.8 2246) rotate(-90)" font-size="22" text-anchor="end" textLength="45.1" lengthAdjust="spacingAndGlyphs">iTreg</text>
<text transform="translate(1588.3 2246) rotate(-90)" font-size="22" text-anchor="end" textLength="36.7" lengthAdjust="spacingAndGlyphs">Th2</text>
<text transform="translate(1632.8 2246) rotate(-90)" font-size="22" text-anchor="end" textLength="31" lengthAdjust="spacingAndGlyphs">Th1</text>
<text transform="translate(1677.5 2246) rotate(-90)" font-size="22" text-anchor="end" textLength="42.6" lengthAdjust="spacingAndGlyphs">Th17</text>
<text transform="translate(1723.7 2246) rotate(-90)" font-size="22" text-anchor="end" textLength="49.9" lengthAdjust="spacingAndGlyphs">IFN-β</text>
<path d="M1198.8 2304.3H1464.9M1476.4 2304.3H1742" stroke="#000" stroke-width="1.3" fill="none"/>
<text x="1332.4" y="2335.6" font-size="24.5" text-anchor="middle" textLength="153.8" lengthAdjust="spacingAndGlyphs">Unstimulated</text>
<text x="1609.3" y="2335.6" font-size="24.5" text-anchor="middle" textLength="182.4" lengthAdjust="spacingAndGlyphs">PMA/ionomycin</text>
<defs><linearGradient id="cv" x1="0" y1="0" x2="0" y2="1">
<stop offset="0" stop-color="#d0160a"/>
<stop offset="0.038" stop-color="#d0160a"/>
<stop offset="0.154" stop-color="#e35d40"/>
<stop offset="0.270" stop-color="#f6957c"/>
<stop offset="0.386" stop-color="#fdcec0"/>
<stop offset="0.502" stop-color="#ffffff"/>
<stop offset="0.618" stop-color="#c9badf"/>
<stop offset="0.734" stop-color="#947cc3"/>
<stop offset="0.849" stop-color="#4b2f96"/>
<stop offset="0.965" stop-color="#00007f"/>
<stop offset="1" stop-color="#00007f"/>
</linearGradient></defs>
<rect x="1779" y="2297" width="34" height="173" fill="url(#cv)"/>
<path d="M1806 2303.6H1813M1806 2343.7H1813M1806 2383.8H1813M1806 2423.9H1813M1806 2464H1813" stroke="#fff" stroke-width="1.2" fill="none"/>
<text x="1772.3" y="2263" font-size="20.5" textLength="101.4" lengthAdjust="spacingAndGlyphs">chromVAR</text>
<text x="1772.3" y="2288.1" font-size="20.5" textLength="90.4" lengthAdjust="spacingAndGlyphs">deviation</text>
<text x="1824.7" y="2310.7" font-size="20" textLength="31.3" lengthAdjust="spacingAndGlyphs">0.2</text>
<text x="1824.7" y="2350.8" font-size="20" textLength="29" lengthAdjust="spacingAndGlyphs">0.1</text>
<text x="1824.7" y="2390.9" font-size="20" textLength="12.5" lengthAdjust="spacingAndGlyphs">0</text>
<text x="1824.7" y="2431" font-size="20" textLength="36.9" lengthAdjust="spacingAndGlyphs">−0.1</text>
<text x="1824.7" y="2471.1" font-size="20" textLength="40.7" lengthAdjust="spacingAndGlyphs">−0.2</text>
</svg></body></html>
